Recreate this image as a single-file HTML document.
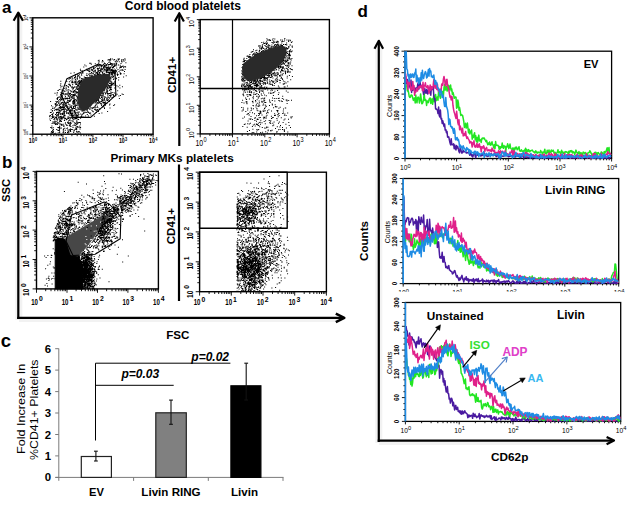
<!DOCTYPE html>
<html><head><meta charset="utf-8"><style>
html,body{margin:0;padding:0;background:#fff;}
svg{display:block;}
text{font-family:"Liberation Sans",sans-serif;}
</style></head><body>
<svg width="630" height="505" viewBox="0 0 630 505">
<rect width="630" height="505" fill="#fff"/>
<line x1="18.8" y1="16" x2="18.8" y2="320" stroke="#f2f2f2" stroke-width="7" />
<line x1="19" y1="319.5" x2="338" y2="319.5" stroke="#f2f2f2" stroke-width="5" />
<line x1="378.8" y1="44" x2="378.8" y2="443" stroke="#f2f2f2" stroke-width="7" />
<line x1="379" y1="442.5" x2="610" y2="442.5" stroke="#f2f2f2" stroke-width="5" />
<line x1="18.3" y1="13.5" x2="18.3" y2="319" stroke="#000" stroke-width="2.2" />
<path d="M13.6 20.8 L18.3 12.6 L23 20.8" fill="none" stroke="#000" stroke-width="2.2" stroke-linejoin="round" />
<line x1="17.2" y1="317.9" x2="343" y2="317.9" stroke="#000" stroke-width="2.3" />
<path d="M335.8 313.6 L344.3 317.9 L335.8 322.2" fill="none" stroke="#000" stroke-width="2.5" stroke-linejoin="round" />
<line x1="179.3" y1="14" x2="179.3" y2="146" stroke="#000" stroke-width="2.2" />
<path d="M174.7 21.5 L179.3 13.2 L183.9 21.5" fill="none" stroke="#000" stroke-width="2.2" stroke-linejoin="round" />
<line x1="179" y1="164.5" x2="179" y2="301" stroke="#000" stroke-width="2.2" />
<text x="2" y="12.5" font-size="17" font-weight="bold" font-style="normal" text-anchor="start" fill="#000" >a</text>
<text x="2" y="168.2" font-size="17" font-weight="bold" font-style="normal" text-anchor="start" fill="#000" >b</text>
<text x="0.8" y="347" font-size="18.5" font-weight="bold" font-style="normal" text-anchor="start" fill="#000" >c</text>
<text x="357.5" y="17.3" font-size="17" font-weight="bold" font-style="normal" text-anchor="start" fill="#000" >d</text>
<text x="124.8" y="9.9" font-size="12" font-weight="bold" font-style="normal" text-anchor="start" fill="#000" >Cord blood platelets</text>
<text x="110.5" y="161.8" font-size="11.8" font-weight="bold" font-style="normal" text-anchor="start" fill="#000" >Primary MKs platelets</text>
<text x="0" y="0" font-size="11.5" font-weight="bold" font-style="normal" text-anchor="start" fill="#000" transform="translate(176.2,93) rotate(-90)" >CD41+</text>
<text x="0" y="0" font-size="11.5" font-weight="bold" font-style="normal" text-anchor="start" fill="#000" transform="translate(175.2,244.2) rotate(-90)" >CD41+</text>
<text x="0" y="0" font-size="11.2" font-weight="bold" font-style="normal" text-anchor="start" fill="#000" transform="translate(9.6,202) rotate(-90)" >SSC</text>
<text x="166.2" y="338.9" font-size="11.6" font-weight="bold" font-style="normal" text-anchor="start" fill="#000" >FSC</text>
<path d="M97.5 98.5h1v1h-1zM109.5 103.6h1v1h-1zM99.4 108.6h1v1h-1zM75.8 99.5h1v1h-1zM88.4 101.3h1v1h-1zM76.6 103.3h1v1h-1zM91.5 90h1v1h-1zM119.3 84.8h1v1h-1zM74.3 86.2h1v1h-1zM88.1 105.7h1v1h-1zM96.7 83.5h1v1h-1zM104.4 96.1h1v1h-1zM92.7 90.1h1v1h-1zM72.3 96.6h1v1h-1zM91.4 92.5h1v1h-1zM104.8 86.8h1v1h-1zM71 107.1h1v1h-1zM86.7 99.4h1v1h-1zM59.4 109.9h1v1h-1zM57.5 90.1h1v1h-1zM69.6 119.8h1v1h-1zM91.3 98.2h1v1h-1zM72.9 107h1v1h-1zM94.3 87.1h1v1h-1zM99.1 95.8h1v1h-1zM84.3 88.9h1v1h-1zM49.4 116.2h1v1h-1zM81.1 95.3h1v1h-1zM97.1 99.5h1v1h-1zM82.5 78.2h1v1h-1zM76 118.1h1v1h-1zM79 91.2h1v1h-1zM68.8 94h1v1h-1zM86.8 109.6h1v1h-1zM104.5 76h1v1h-1zM69.9 90.3h1v1h-1zM87.2 87.7h1v1h-1zM108.8 85.9h1v1h-1zM89.5 106.3h1v1h-1zM85.6 88.2h1v1h-1zM94.3 91.7h1v1h-1zM95.6 94.6h1v1h-1zM68.3 100.5h1v1h-1zM93.4 91.7h1v1h-1zM109.2 72.7h1v1h-1zM64.4 105.4h1v1h-1zM99 75.5h1v1h-1zM92.1 89h1v1h-1zM81 98.3h1v1h-1zM114.8 60.7h1v1h-1zM98.1 77.2h1v1h-1zM80.2 113.4h1v1h-1zM92.5 90.7h1v1h-1zM104.1 89.4h1v1h-1zM95.2 101.4h1v1h-1zM103.6 85.9h1v1h-1zM104 107.9h1v1h-1zM94.1 75.4h1v1h-1zM115.9 78.1h1v1h-1zM78.3 96.1h1v1h-1zM105.1 101.4h1v1h-1zM94.6 108.6h1v1h-1zM78.9 73.7h1v1h-1zM66.7 97.6h1v1h-1zM86.1 102.3h1v1h-1zM92.4 98.4h1v1h-1zM107.7 84.3h1v1h-1zM105.9 75.1h1v1h-1zM74.1 110h1v1h-1zM83 104.9h1v1h-1zM98.7 81.3h1v1h-1zM68.3 122.7h1v1h-1zM68.5 78.8h1v1h-1zM92.8 96h1v1h-1zM101.1 66.5h1v1h-1zM106.2 88.6h1v1h-1zM83.8 92.4h1v1h-1zM78.9 87.9h1v1h-1zM88.9 95.9h1v1h-1zM105.8 64.1h1v1h-1zM77.9 88.5h1v1h-1zM75.3 82h1v1h-1zM94.9 85.4h1v1h-1zM91.6 95.2h1v1h-1zM93.9 100.2h1v1h-1zM73.2 102.9h1v1h-1zM96.7 98h1v1h-1zM83.8 95.7h1v1h-1zM106 74.7h1v1h-1zM103.1 86.1h1v1h-1zM96.6 98.3h1v1h-1zM97.3 79.1h1v1h-1zM83.5 92.4h1v1h-1zM104 75.6h1v1h-1zM90.5 90.7h1v1h-1zM92.4 75.9h1v1h-1zM78.3 113.9h1v1h-1zM92.3 82.6h1v1h-1zM68.9 114.6h1v1h-1zM55.5 109.3h1v1h-1zM88 96.5h1v1h-1zM79.7 104.2h1v1h-1zM89.6 84.8h1v1h-1zM80.6 103.2h1v1h-1zM92.8 111.2h1v1h-1zM99.3 94.6h1v1h-1zM92.7 78.8h1v1h-1zM85 89.3h1v1h-1zM89.9 95.9h1v1h-1zM100.4 81.7h1v1h-1zM97.8 83.9h1v1h-1zM73.3 100.8h1v1h-1zM76.9 77.4h1v1h-1zM89 87.9h1v1h-1zM60.3 86.5h1v1h-1zM96.2 89.5h1v1h-1zM73 95.3h1v1h-1zM99.2 72.4h1v1h-1zM91.3 85.9h1v1h-1zM93.1 90.9h1v1h-1zM72.1 86.6h1v1h-1zM76.8 78.3h1v1h-1zM54.4 107h1v1h-1zM60.4 88.8h1v1h-1zM88.8 78.2h1v1h-1zM70.1 128.6h1v1h-1zM95.1 71.4h1v1h-1zM69.4 116.8h1v1h-1zM91.8 70.2h1v1h-1zM79.9 102.8h1v1h-1zM99 77.8h1v1h-1zM91.5 87.9h1v1h-1zM71.8 113.5h1v1h-1zM119.4 87.6h1v1h-1zM111.9 73.4h1v1h-1zM89.9 91.8h1v1h-1zM79.7 86.1h1v1h-1zM91.6 96.4h1v1h-1zM74.4 100.4h1v1h-1zM111.2 82.5h1v1h-1zM82 96.5h1v1h-1zM100.7 103.7h1v1h-1zM65.6 85h1v1h-1zM79.1 95.6h1v1h-1zM77.6 112.6h1v1h-1zM105.6 71.6h1v1h-1zM82.6 86h1v1h-1zM102 75.9h1v1h-1zM81.1 79.5h1v1h-1zM80.9 99.6h1v1h-1zM101.4 112.4h1v1h-1zM89.5 105.6h1v1h-1zM82.8 81.6h1v1h-1zM78.9 88.1h1v1h-1zM83 90.7h1v1h-1zM76.9 114.8h1v1h-1zM73.1 93.9h1v1h-1zM109.1 64.1h1v1h-1zM86.2 105.1h1v1h-1zM80.6 109.7h1v1h-1zM92.4 83h1v1h-1zM102.7 64h1v1h-1zM59 96.6h1v1h-1zM82.4 87.4h1v1h-1zM66.3 81.1h1v1h-1zM69.8 117.7h1v1h-1zM96.3 76.1h1v1h-1zM92.8 93.9h1v1h-1zM103.3 103.2h1v1h-1zM87 108.2h1v1h-1zM88.9 75.6h1v1h-1zM88 103.3h1v1h-1zM95.6 100.5h1v1h-1zM69.2 98.3h1v1h-1zM66.3 98.1h1v1h-1zM108.4 72.4h1v1h-1zM72.2 84.3h1v1h-1zM103.9 97.4h1v1h-1zM73.7 72.3h1v1h-1zM76.4 87.2h1v1h-1zM81 94.3h1v1h-1zM97.5 80.4h1v1h-1zM86.8 95h1v1h-1zM89.6 93.9h1v1h-1zM88.9 88.1h1v1h-1zM114.3 83.8h1v1h-1zM85.6 65.4h1v1h-1zM95.5 85.2h1v1h-1zM77.2 91.7h1v1h-1zM71.1 108.3h1v1h-1zM105 79.8h1v1h-1zM97.8 71h1v1h-1zM83.8 86.9h1v1h-1zM103 89.2h1v1h-1zM103.5 82.8h1v1h-1zM97.4 74.5h1v1h-1zM116.6 93.8h1v1h-1zM98.7 113.1h1v1h-1zM102 60h1v1h-1zM74.2 107.9h1v1h-1zM118.9 98.1h1v1h-1zM102.2 89.7h1v1h-1zM103.9 80.7h1v1h-1zM115.5 64.9h1v1h-1zM107.6 67.3h1v1h-1zM72.2 102.7h1v1h-1zM62.2 107h1v1h-1zM106.6 85.4h1v1h-1zM72.9 99.7h1v1h-1zM86.9 86.8h1v1h-1zM94.1 70.4h1v1h-1zM66.2 110.2h1v1h-1zM54 109.7h1v1h-1zM92.5 85.4h1v1h-1zM97.5 97.3h1v1h-1zM88.9 95.8h1v1h-1zM93.9 93.3h1v1h-1zM80.1 103.5h1v1h-1zM68.8 109.4h1v1h-1zM86.8 91.1h1v1h-1zM74.1 99.9h1v1h-1zM71.5 116.3h1v1h-1zM90.1 75.5h1v1h-1zM98 100.8h1v1h-1zM96 85.2h1v1h-1zM70.9 96.8h1v1h-1zM77.4 94.6h1v1h-1zM71.3 97.4h1v1h-1zM78.4 102.3h1v1h-1zM88.1 82.2h1v1h-1zM86.3 108.4h1v1h-1zM89.9 79.7h1v1h-1zM79.9 68.7h1v1h-1zM114.1 59.1h1v1h-1zM56.9 92.3h1v1h-1zM102.4 78.6h1v1h-1zM95.7 99.1h1v1h-1zM94.1 95h1v1h-1zM60.5 98.1h1v1h-1zM78.4 90h1v1h-1zM112.3 94.1h1v1h-1zM90.9 93.4h1v1h-1zM91.2 89h1v1h-1zM92.8 101.6h1v1h-1zM122.7 94h1v1h-1zM98.2 100h1v1h-1zM59.5 118.6h1v1h-1zM82.5 101.3h1v1h-1zM65.9 119.3h1v1h-1zM75.4 88.7h1v1h-1zM109.4 73.7h1v1h-1zM84.4 82.3h1v1h-1zM72.8 104.2h1v1h-1zM77.2 102.5h1v1h-1zM121.6 93.4h1v1h-1zM86.6 81.6h1v1h-1zM89.9 88.5h1v1h-1zM88.2 89.4h1v1h-1zM93.4 92.8h1v1h-1zM108.4 87.8h1v1h-1zM94.7 79.4h1v1h-1zM87.7 81.1h1v1h-1zM64.3 90.7h1v1h-1zM91.2 76.6h1v1h-1zM83.8 102.6h1v1h-1zM105.9 76.6h1v1h-1zM65.1 98.3h1v1h-1zM85.6 88.9h1v1h-1zM90.1 90.3h1v1h-1zM74.4 110.4h1v1h-1zM110.7 64h1v1h-1zM109.2 69.8h1v1h-1zM71.4 82.1h1v1h-1zM93.4 71.7h1v1h-1zM106.1 97.4h1v1h-1zM91.3 84.3h1v1h-1zM90.6 92.4h1v1h-1zM88.7 86.1h1v1h-1zM69.3 97.4h1v1h-1zM85.7 92.9h1v1h-1zM87.4 92.2h1v1h-1zM106.4 74.5h1v1h-1zM82.4 71.7h1v1h-1zM88.9 89h1v1h-1zM106.2 64.4h1v1h-1zM78.5 92.8h1v1h-1zM85.9 96.6h1v1h-1zM68.3 117.6h1v1h-1zM118.3 77.1h1v1h-1zM100.5 74.2h1v1h-1zM109.2 85.5h1v1h-1zM107.3 90.4h1v1h-1zM99.1 97.2h1v1h-1zM102.2 97.7h1v1h-1zM85.4 92.1h1v1h-1zM85.9 91.2h1v1h-1zM96.2 95.5h1v1h-1zM102.6 60.8h1v1h-1zM99.3 84.6h1v1h-1zM85.7 86.7h1v1h-1zM79.3 94.5h1v1h-1zM69.4 84.9h1v1h-1zM107 63.2h1v1h-1zM97.1 83.5h1v1h-1zM96.8 95.8h1v1h-1zM91.6 101.8h1v1h-1zM73.6 103.3h1v1h-1zM87.8 89.4h1v1h-1zM97 72.8h1v1h-1zM87 97.9h1v1h-1zM85.1 91h1v1h-1zM90.8 97.3h1v1h-1zM103.1 101.8h1v1h-1zM67 109.7h1v1h-1zM76.8 81.7h1v1h-1zM72.1 94.2h1v1h-1zM93 68h1v1h-1zM71.1 90.7h1v1h-1zM106.8 92.6h1v1h-1zM113.3 72.6h1v1h-1zM75.5 82.5h1v1h-1zM85.7 102.5h1v1h-1zM101 97.1h1v1h-1zM87.6 87.3h1v1h-1zM71.3 97.4h1v1h-1zM94.4 81.7h1v1h-1zM120.7 66.9h1v1h-1zM90.5 98h1v1h-1zM94.9 101.4h1v1h-1zM83.1 112.2h1v1h-1zM102.4 94.9h1v1h-1zM81.2 115.9h1v1h-1zM78.5 108.8h1v1h-1zM98.2 62.5h1v1h-1zM76.2 100.4h1v1h-1zM107.5 78.8h1v1h-1zM109.2 68h1v1h-1zM99.7 93.6h1v1h-1zM95.5 80.4h1v1h-1zM111.8 58.6h1v1h-1zM96.7 103.3h1v1h-1zM85.9 102.4h1v1h-1zM72.1 108.6h1v1h-1zM96.7 96.4h1v1h-1zM118.1 79.5h1v1h-1zM106 80.5h1v1h-1zM60.3 83.3h1v1h-1zM73.3 95.6h1v1h-1zM79.8 92.9h1v1h-1zM87.7 78.9h1v1h-1zM88.4 94.1h1v1h-1zM100.9 96.3h1v1h-1zM91 82.6h1v1h-1zM78.2 85.2h1v1h-1zM102.8 105.8h1v1h-1zM90 84h1v1h-1zM80.7 81.8h1v1h-1zM98.8 85.5h1v1h-1zM119.5 69.8h1v1h-1zM93.8 77.3h1v1h-1zM96 95.2h1v1h-1zM62.7 107.5h1v1h-1zM89.5 78.2h1v1h-1zM63.4 115.7h1v1h-1zM75 113.4h1v1h-1zM98 74.5h1v1h-1zM102.3 83.6h1v1h-1zM87.2 91.2h1v1h-1zM80 89.3h1v1h-1zM89.4 108.9h1v1h-1zM98.8 81.6h1v1h-1zM121.4 60.8h1v1h-1zM97.9 92.7h1v1h-1zM84.8 106.5h1v1h-1zM81.6 114.2h1v1h-1zM91.4 93.2h1v1h-1zM83.5 87.7h1v1h-1zM70 100.4h1v1h-1zM95 92.4h1v1h-1zM77.4 108.8h1v1h-1zM115.1 86.6h1v1h-1zM107.9 79.8h1v1h-1zM112.5 84.4h1v1h-1zM93.2 107.3h1v1h-1zM98.4 84.8h1v1h-1zM78.3 80.5h1v1h-1zM76.7 86h1v1h-1zM75.7 83.4h1v1h-1zM63.8 101.7h1v1h-1zM109.5 89.3h1v1h-1zM91.1 96.8h1v1h-1zM104.4 100.2h1v1h-1zM110.9 85h1v1h-1zM64.6 110.9h1v1h-1zM77.5 98.3h1v1h-1zM93.1 88.4h1v1h-1zM96.8 86.4h1v1h-1zM81.1 90.7h1v1h-1zM104.5 76.9h1v1h-1zM103.6 99.5h1v1h-1zM61.4 92.4h1v1h-1zM78.4 103.6h1v1h-1zM95.5 73.1h1v1h-1zM97.9 85.6h1v1h-1zM68.4 120.1h1v1h-1zM108.9 72.7h1v1h-1zM103.6 88.3h1v1h-1zM98.7 61.2h1v1h-1zM91.8 103.1h1v1h-1zM81.8 89.2h1v1h-1zM78 108.8h1v1h-1zM70.4 72.8h1v1h-1zM107.7 64.4h1v1h-1zM82.2 99.8h1v1h-1zM102.6 99.6h1v1h-1zM68 113.1h1v1h-1zM86.2 96.7h1v1h-1zM94.7 67.1h1v1h-1zM81.6 116.4h1v1h-1zM117.2 90.2h1v1h-1zM95 86h1v1h-1zM73.6 101.4h1v1h-1zM72.2 84.1h1v1h-1zM89.3 102.4h1v1h-1zM107.1 110.9h1v1h-1zM87.1 102.1h1v1h-1zM86.5 109.9h1v1h-1zM89.2 97.9h1v1h-1zM68.8 95.5h1v1h-1zM80.4 116.2h1v1h-1zM81.2 81.3h1v1h-1zM101.2 77.4h1v1h-1zM70 111.3h1v1h-1zM95.9 96.6h1v1h-1zM83.5 101.3h1v1h-1zM78.6 105.2h1v1h-1zM97.2 73.6h1v1h-1zM74.1 86.8h1v1h-1zM111.8 71.7h1v1h-1zM74.2 94.4h1v1h-1zM86.9 75.3h1v1h-1zM78.4 83.3h1v1h-1zM76 95.8h1v1h-1zM86.2 68.7h1v1h-1zM78.9 81.8h1v1h-1zM87.8 70.1h1v1h-1zM90.5 92h1v1h-1zM77.2 106.7h1v1h-1zM101.8 106.4h1v1h-1zM80.9 78.1h1v1h-1zM99.2 72.9h1v1h-1zM83.1 108.2h1v1h-1zM88 88.9h1v1h-1zM63.2 109.1h1v1h-1zM110.6 94.7h1v1h-1zM72.3 101h1v1h-1zM56.6 103.9h1v1h-1zM80.5 80.8h1v1h-1zM108 78.7h1v1h-1zM70.2 111.4h1v1h-1zM65.4 93.3h1v1h-1zM72.9 91.9h1v1h-1zM77.4 108.2h1v1h-1zM99.2 89.6h1v1h-1zM74.2 95.3h1v1h-1zM83.8 103.7h1v1h-1zM102.1 87h1v1h-1zM67.5 86.1h1v1h-1zM94.1 82.2h1v1h-1zM78.9 105.3h1v1h-1zM68.9 100.9h1v1h-1zM114.7 64.6h1v1h-1zM90.4 99.7h1v1h-1zM103.9 98.8h1v1h-1zM75.1 73.9h1v1h-1zM109.5 107.6h1v1h-1zM83.3 80.9h1v1h-1zM123.6 73.3h1v1h-1zM83.3 112.3h1v1h-1zM74.2 116.9h1v1h-1zM76.5 103.8h1v1h-1zM63.3 98h1v1h-1zM104.8 85.4h1v1h-1zM97 74.3h1v1h-1zM89.6 99.8h1v1h-1zM121.9 86.2h1v1h-1zM107.2 94.4h1v1h-1zM85.1 115.4h1v1h-1zM115.1 88.7h1v1h-1zM74.5 103.3h1v1h-1zM78 84.5h1v1h-1zM67.3 107.5h1v1h-1zM61.5 85.7h1v1h-1zM98.6 59.8h1v1h-1zM102.3 80.4h1v1h-1zM77.7 87.6h1v1h-1zM76.5 99.7h1v1h-1zM62.2 112.9h1v1h-1zM97.1 109.4h1v1h-1zM98.1 100.1h1v1h-1zM88.5 90.7h1v1h-1zM96.6 100.3h1v1h-1zM68.8 98.2h1v1h-1zM86.8 88.3h1v1h-1zM95.4 97.3h1v1h-1zM100.2 64.5h1v1h-1zM114.8 64.5h1v1h-1zM79.3 81.8h1v1h-1zM79.8 100.5h1v1h-1zM99.8 103.1h1v1h-1zM76.4 92h1v1h-1zM80.9 101h1v1h-1zM83.2 84h1v1h-1zM67.5 94.4h1v1h-1zM90.5 73.1h1v1h-1zM98.1 102.2h1v1h-1zM109.1 104.6h1v1h-1zM90.6 95.9h1v1h-1zM74.9 93.7h1v1h-1zM81.1 107.2h1v1h-1zM84.4 90.5h1v1h-1zM87.4 102.9h1v1h-1zM95.3 89.3h1v1h-1zM91.8 92.2h1v1h-1zM74.5 111.6h1v1h-1zM87.1 84.8h1v1h-1zM68.2 103.8h1v1h-1zM69.8 84.8h1v1h-1zM82.9 90.4h1v1h-1zM51 105.3h1v1h-1zM90.4 87.8h1v1h-1zM85.8 80.9h1v1h-1zM88.4 92.7h1v1h-1zM86.9 98.7h1v1h-1zM75.3 84h1v1h-1zM70.7 96.1h1v1h-1zM79.9 86.3h1v1h-1zM87 102.5h1v1h-1zM102.6 101.7h1v1h-1zM78.4 111.5h1v1h-1zM91.1 84.4h1v1h-1zM101.7 99.2h1v1h-1zM78 80.4h1v1h-1zM93.6 106.8h1v1h-1zM93.6 78.1h1v1h-1zM114.1 104.2h1v1h-1zM103.9 98.8h1v1h-1zM87.2 78.7h1v1h-1zM96.6 86.5h1v1h-1zM79.2 96.6h1v1h-1zM87 94h1v1h-1zM89.3 70.9h1v1h-1zM91.7 79.5h1v1h-1zM96 90.9h1v1h-1zM69.8 110.6h1v1h-1zM105.6 92.3h1v1h-1zM107.2 75.9h1v1h-1zM119.9 95h1v1h-1zM88.6 81.7h1v1h-1zM69.5 111.5h1v1h-1zM90.8 63.8h1v1h-1zM79.6 82.4h1v1h-1zM62.6 131.7h1v1h-1zM89.2 78.2h1v1h-1zM72.2 112.7h1v1h-1zM71.1 105.8h1v1h-1zM74 90.1h1v1h-1zM105.9 71.4h1v1h-1zM81.3 90.8h1v1h-1zM90.7 82.9h1v1h-1zM119.9 73.8h1v1h-1zM117.1 74.9h1v1h-1zM84.7 87h1v1h-1zM80.6 86.2h1v1h-1zM73.9 107.9h1v1h-1zM79.4 97.9h1v1h-1zM102.9 92.4h1v1h-1zM113.2 105h1v1h-1zM97.1 95h1v1h-1zM104 77.3h1v1h-1zM77.8 98.4h1v1h-1zM83.6 84.3h1v1h-1zM94.5 74h1v1h-1zM91.7 75.1h1v1h-1zM102.7 73.6h1v1h-1zM92.9 81.8h1v1h-1zM90.5 99.5h1v1h-1zM92.5 82.5h1v1h-1zM74.4 101.1h1v1h-1zM58.5 101.4h1v1h-1zM109.1 95.1h1v1h-1zM92.6 94.5h1v1h-1zM106.2 99.6h1v1h-1zM71 117.3h1v1h-1zM94.6 105.8h1v1h-1zM79.8 95.6h1v1h-1zM82.4 106.2h1v1h-1zM77.1 85h1v1h-1zM110.6 87.6h1v1h-1zM106.6 98h1v1h-1zM84.2 100.7h1v1h-1zM94.8 95.9h1v1h-1zM109.2 90.1h1v1h-1zM91 94.7h1v1h-1zM91.9 76.5h1v1h-1zM95.2 76.3h1v1h-1zM110.1 63.9h1v1h-1zM105.2 74.7h1v1h-1zM95.5 87.2h1v1h-1zM97.4 89.7h1v1h-1zM91.7 69.2h1v1h-1zM95.7 112h1v1h-1zM97.2 99.4h1v1h-1zM107.8 84.2h1v1h-1zM115.5 62.7h1v1h-1zM87.1 91.3h1v1h-1zM93 94.8h1v1h-1zM95.6 90.7h1v1h-1zM97.8 60.2h1v1h-1zM94.6 96.1h1v1h-1zM63.7 87.9h1v1h-1zM94.1 100h1v1h-1zM89.7 95.3h1v1h-1zM100.5 79.3h1v1h-1zM114.2 87.5h1v1h-1zM60.4 99.8h1v1h-1zM78 102.7h1v1h-1zM104.7 97.1h1v1h-1zM79.3 96.7h1v1h-1zM65.4 105.8h1v1h-1zM105.6 77.9h1v1h-1zM94 80.4h1v1h-1zM107.5 95.8h1v1h-1zM77.1 89h1v1h-1zM110.6 83.9h1v1h-1zM78.1 83.3h1v1h-1zM110.2 81.4h1v1h-1zM76.3 100.6h1v1h-1zM60.3 80.7h1v1h-1zM92.9 87.4h1v1h-1zM72.7 90.6h1v1h-1zM96.6 78.1h1v1h-1zM104.1 98.6h1v1h-1zM69.2 92.9h1v1h-1zM83.9 80.9h1v1h-1zM94.7 105.5h1v1h-1zM103.9 79.4h1v1h-1zM91.4 109.8h1v1h-1zM85.9 98h1v1h-1zM101.3 68h1v1h-1zM121.5 61.4h1v1h-1zM97.3 96.5h1v1h-1zM93.1 87.3h1v1h-1zM112.2 71.2h1v1h-1zM87.5 90.7h1v1h-1zM72.1 97.8h1v1h-1zM104.8 103.5h1v1h-1zM96.5 84.4h1v1h-1zM70.5 91.6h1v1h-1zM63.3 106.9h1v1h-1zM74.4 113.6h1v1h-1zM103.9 86.6h1v1h-1zM78.2 98.4h1v1h-1zM83.4 86.6h1v1h-1zM93.2 87.5h1v1h-1zM87.5 69.3h1v1h-1zM76.4 84.1h1v1h-1zM102.5 89.9h1v1h-1zM74 97.4h1v1h-1zM87.4 97.4h1v1h-1zM83.6 112.3h1v1h-1zM110.6 80.8h1v1h-1zM89.8 90.5h1v1h-1zM93.9 115.7h1v1h-1zM89.5 99.6h1v1h-1zM84.4 90h1v1h-1zM105 86.9h1v1h-1zM70 113.1h1v1h-1zM69.4 96.4h1v1h-1zM85.1 95.3h1v1h-1zM90.3 62.8h1v1h-1zM87.2 90.1h1v1h-1zM98.3 78.9h1v1h-1zM116.4 60.8h1v1h-1zM75.5 80.2h1v1h-1zM82.4 91.8h1v1h-1zM107 74.5h1v1h-1zM97.7 84.6h1v1h-1zM91.9 72.8h1v1h-1zM87 101.3h1v1h-1zM112.9 66.9h1v1h-1zM106.9 93h1v1h-1zM95.1 76.1h1v1h-1zM57.6 111.5h1v1h-1zM106.4 90.3h1v1h-1zM84.6 89.5h1v1h-1zM94.2 82.3h1v1h-1zM101.2 83.2h1v1h-1zM92.2 102.4h1v1h-1zM89.6 79h1v1h-1zM72.6 91.5h1v1h-1zM77.9 85.8h1v1h-1zM75.6 91h1v1h-1zM79.4 87.8h1v1h-1zM59 121.3h1v1h-1zM101.4 67.9h1v1h-1zM94.4 87.8h1v1h-1zM108.6 79.2h1v1h-1zM113.3 59.6h1v1h-1zM91.2 90.7h1v1h-1zM75.3 125.2h1v1h-1zM79.4 103.7h1v1h-1zM68.5 100.2h1v1h-1zM82.4 95.8h1v1h-1zM85 82h1v1h-1zM63.2 117.2h1v1h-1zM100.7 92.3h1v1h-1zM62.9 102.6h1v1h-1zM92.8 84.7h1v1h-1zM95.9 99.9h1v1h-1zM82.2 90.1h1v1h-1zM90.2 92.4h1v1h-1zM75.4 88.9h1v1h-1zM75.7 91.4h1v1h-1zM62.5 107.1h1v1h-1zM103.9 106.7h1v1h-1zM113.7 63.8h1v1h-1zM114.8 61.2h1v1h-1zM105.2 69.2h1v1h-1zM99 79.9h1v1h-1zM84.7 103.4h1v1h-1zM111.9 73.3h1v1h-1zM102.8 106.2h1v1h-1zM90.4 92.5h1v1h-1zM95.4 104.5h1v1h-1zM93.1 90.9h1v1h-1zM87.8 100h1v1h-1zM79.3 80.2h1v1h-1zM73.7 102.6h1v1h-1zM84.2 94.2h1v1h-1zM121 59.6h1v1h-1zM74.8 74.7h1v1h-1zM92.4 99.6h1v1h-1zM95.1 80.4h1v1h-1zM97.2 77.8h1v1h-1zM72.4 102h1v1h-1zM85.5 90.9h1v1h-1zM105.8 81.6h1v1h-1zM85.5 77.1h1v1h-1zM85.6 81.5h1v1h-1zM114.1 72.7h1v1h-1zM81.3 99.6h1v1h-1zM88.7 86.1h1v1h-1zM78.8 92.2h1v1h-1zM105.8 65.1h1v1h-1zM61.7 114h1v1h-1zM88.2 107.3h1v1h-1zM75.5 88.7h1v1h-1zM109.5 93.1h1v1h-1zM104.2 88.7h1v1h-1zM106.9 69.1h1v1h-1zM72.7 115.6h1v1h-1zM91.1 69.6h1v1h-1zM74.4 80.7h1v1h-1zM72 88.6h1v1h-1zM95 80.2h1v1h-1zM74.7 99.1h1v1h-1zM56.9 112.1h1v1h-1zM85.4 95.4h1v1h-1zM54.5 92.7h1v1h-1zM84 101.9h1v1h-1zM85.9 74.7h1v1h-1zM90.1 81.1h1v1h-1zM109.9 67h1v1h-1zM79.5 83.8h1v1h-1zM59.1 98.9h1v1h-1zM72.6 91.9h1v1h-1zM76.8 101.4h1v1h-1zM76.5 109.7h1v1h-1zM99.9 88.8h1v1h-1zM74.2 90.6h1v1h-1zM56.5 108.8h1v1h-1zM93.9 74.3h1v1h-1zM91.4 94.8h1v1h-1zM81.7 70.2h1v1h-1zM99.7 98h1v1h-1zM95.8 78.4h1v1h-1zM85.4 83.6h1v1h-1zM109.9 77.1h1v1h-1zM102.9 92.4h1v1h-1zM97.9 87.7h1v1h-1zM102.8 92.8h1v1h-1zM70.1 109.3h1v1h-1zM95.8 101.3h1v1h-1zM94.5 102.6h1v1h-1zM92.3 86.7h1v1h-1zM80.1 117.8h1v1h-1zM114.4 70.8h1v1h-1zM92.1 89.3h1v1h-1zM66.6 98.2h1v1h-1zM63.7 109.2h1v1h-1zM91.1 99.4h1v1h-1zM80.1 81.3h1v1h-1zM84 103.9h1v1h-1zM93.6 91.5h1v1h-1zM82.7 100.1h1v1h-1zM83.3 66.5h1v1h-1zM79 98.3h1v1h-1zM93.7 95.4h1v1h-1zM99 72h1v1h-1zM59.9 84.7h1v1h-1zM87.8 100.9h1v1h-1zM73.6 95.5h1v1h-1zM106.9 86.7h1v1h-1zM61.4 90.5h1v1h-1zM87.6 101.3h1v1h-1zM88 88.6h1v1h-1zM81.3 108.3h1v1h-1zM70.2 95h1v1h-1zM79.1 91.3h1v1h-1zM74.8 133.2h1v1h-1zM63.9 101.9h1v1h-1zM79.4 89.9h1v1h-1zM90.3 86.1h1v1h-1zM80.6 84.6h1v1h-1zM72.5 121.2h1v1h-1zM94.7 108.8h1v1h-1zM96.8 74.7h1v1h-1zM86.6 70.1h1v1h-1zM96.6 99.8h1v1h-1zM84.6 109.5h1v1h-1zM104.4 88.3h1v1h-1zM89.4 105.9h1v1h-1zM67.6 98.1h1v1h-1zM77.4 98.8h1v1h-1zM101.6 61.4h1v1h-1zM83.8 76.6h1v1h-1zM113 82.9h1v1h-1zM78.7 91h1v1h-1zM118.4 95.4h1v1h-1zM81.9 98.1h1v1h-1zM83.5 87.2h1v1h-1zM112.8 93.9h1v1h-1zM86 99.9h1v1h-1zM80.8 81.9h1v1h-1zM97.1 88.7h1v1h-1zM116.4 85.2h1v1h-1zM79.8 92.4h1v1h-1zM60 106h1v1h-1zM92.7 101.1h1v1h-1zM91.1 90.9h1v1h-1zM84.3 80.3h1v1h-1zM106.3 70.6h1v1h-1zM89.5 80.4h1v1h-1zM103.6 82h1v1h-1zM75 104.6h1v1h-1zM110 87.8h1v1h-1zM124.6 69.1h1v1h-1zM90.7 68.6h1v1h-1zM96.3 89.9h1v1h-1zM98.1 94.8h1v1h-1zM118.5 71h1v1h-1zM83.5 109.4h1v1h-1zM84.8 87.3h1v1h-1zM90.3 77.1h1v1h-1zM106.8 87.7h1v1h-1zM76.7 87.5h1v1h-1zM80.2 69.9h1v1h-1zM92.8 101.2h1v1h-1zM86.9 83h1v1h-1zM86.1 89.4h1v1h-1zM64.5 93.8h1v1h-1zM81 80.3h1v1h-1zM94.9 70.3h1v1h-1zM73.8 99.4h1v1h-1zM89 95.8h1v1h-1zM84.3 64.4h1v1h-1zM79.7 109.1h1v1h-1zM84.8 78.8h1v1h-1zM67.8 95.3h1v1h-1zM74.5 101.7h1v1h-1zM77 96.3h1v1h-1zM106.7 86.3h1v1h-1zM110.1 82.9h1v1h-1zM101.4 90.1h1v1h-1zM79.2 75.8h1v1h-1zM86.4 86.8h1v1h-1zM106.8 91.1h1v1h-1zM105.2 85h1v1h-1zM103.9 79.1h1v1h-1zM86.7 97.8h1v1h-1zM82 96.8h1v1h-1zM102.1 99.4h1v1h-1zM96.1 96.7h1v1h-1zM79.1 77.6h1v1h-1zM90.1 84h1v1h-1zM94.2 109.1h1v1h-1zM90.4 114.5h1v1h-1zM112.8 96.4h1v1h-1zM90.1 107.6h1v1h-1zM67.8 95.7h1v1h-1zM84.7 76.9h1v1h-1zM100.1 87.7h1v1h-1zM106.4 99.8h1v1h-1zM90.5 75.4h1v1h-1zM106.1 77.9h1v1h-1zM99.1 101.9h1v1h-1zM75.8 86.6h1v1h-1zM108.9 97.7h1v1h-1zM80.4 104.4h1v1h-1zM73.6 114.4h1v1h-1zM79.1 97.5h1v1h-1zM103 67.1h1v1h-1zM84.4 111.6h1v1h-1zM92.2 110.8h1v1h-1zM76.6 97.5h1v1h-1zM80.7 86.9h1v1h-1zM102.3 101.6h1v1h-1zM86.7 76.9h1v1h-1zM93.7 99.6h1v1h-1zM84.1 101h1v1h-1zM91.5 92.8h1v1h-1zM110.3 77.8h1v1h-1zM89.4 74.4h1v1h-1zM98.7 108.5h1v1h-1zM88.3 77.1h1v1h-1zM74.4 91.7h1v1h-1zM102.7 95.3h1v1h-1zM95.6 109.6h1v1h-1zM89.9 88h1v1h-1zM101.8 71.5h1v1h-1zM96.2 76.1h1v1h-1zM94 97.2h1v1h-1zM82.3 78h1v1h-1zM92.3 107.6h1v1h-1zM91.4 74.6h1v1h-1zM110.7 86.4h1v1h-1zM106.4 75.7h1v1h-1zM111.7 97h1v1h-1zM64.5 97.6h1v1h-1zM103.2 80.7h1v1h-1zM86.4 73.3h1v1h-1zM77.2 104.8h1v1h-1zM86.6 103.2h1v1h-1zM62.8 93.8h1v1h-1zM87.8 96.5h1v1h-1zM107.7 79.3h1v1h-1zM75.8 91.3h1v1h-1zM106.2 88.5h1v1h-1zM74.3 94h1v1h-1zM77.6 113.2h1v1h-1zM91.4 107.2h1v1h-1zM96.9 86.1h1v1h-1zM74.7 105.3h1v1h-1zM101.9 93.4h1v1h-1zM95.8 112h1v1h-1zM82.1 90.2h1v1h-1zM103.6 69.6h1v1h-1zM110.3 78.5h1v1h-1zM87.3 99.1h1v1h-1zM111.3 84.2h1v1h-1zM67.9 86.5h1v1h-1zM70 85.4h1v1h-1zM102.9 74.2h1v1h-1zM93.1 66.5h1v1h-1zM88.2 99.9h1v1h-1zM68.9 81.2h1v1h-1zM102.4 88.3h1v1h-1zM68.9 97.4h1v1h-1zM75.2 107.3h1v1h-1zM104.9 104.7h1v1h-1zM88.5 84.5h1v1h-1zM81.1 114.7h1v1h-1zM85.4 88.7h1v1h-1zM88.2 73.8h1v1h-1zM81.8 85.9h1v1h-1zM64.4 91.1h1v1h-1zM86.8 114h1v1h-1zM99.2 75.6h1v1h-1zM114.5 85.1h1v1h-1zM109.6 77.1h1v1h-1zM95.8 76.4h1v1h-1zM110.3 91.6h1v1h-1zM85.3 88.9h1v1h-1zM114.8 72.1h1v1h-1zM93.8 96.3h1v1h-1zM88.8 105.7h1v1h-1zM104.2 89.6h1v1h-1zM78.1 96.7h1v1h-1zM106.6 98.3h1v1h-1zM74 77.1h1v1h-1zM75.1 81.6h1v1h-1zM77.3 75.8h1v1h-1zM99.6 75.5h1v1h-1zM103.5 81.1h1v1h-1zM82 87.4h1v1h-1zM73 87.8h1v1h-1zM107.8 93.2h1v1h-1zM67.6 89.3h1v1h-1zM73.6 78.2h1v1h-1zM88 115.4h1v1h-1zM101 103.2h1v1h-1zM91.9 89.4h1v1h-1zM89.6 101.7h1v1h-1zM99 81.7h1v1h-1zM95.4 83.7h1v1h-1zM79.4 91.5h1v1h-1zM72 81.5h1v1h-1zM103.9 68.5h1v1h-1zM95.8 65.9h1v1h-1zM110.4 70.3h1v1h-1zM81.9 95.8h1v1h-1zM93.6 96h1v1h-1zM91 72h1v1h-1zM105.9 85.6h1v1h-1zM95.3 78.2h1v1h-1zM98 64.8h1v1h-1zM94.1 88.5h1v1h-1zM87.3 107.6h1v1h-1zM75.3 77.5h1v1h-1zM103 74.1h1v1h-1zM67.6 92h1v1h-1zM61.7 95.1h1v1h-1zM78.1 115.6h1v1h-1zM88.9 112.6h1v1h-1zM72.5 82.2h1v1h-1zM72.4 95.2h1v1h-1zM104.3 91.7h1v1h-1zM107 69.9h1v1h-1zM91.7 80h1v1h-1zM80.7 80.5h1v1h-1zM73.8 101.6h1v1h-1zM107.7 99h1v1h-1zM104.1 101.9h1v1h-1zM97.6 102.4h1v1h-1zM64.7 93.5h1v1h-1zM101.3 103.6h1v1h-1zM97.9 68.3h1v1h-1zM78.1 75.2h1v1h-1zM84.4 92.3h1v1h-1zM96.4 87h1v1h-1zM70.8 99.2h1v1h-1zM103 87.7h1v1h-1zM88.4 78.5h1v1h-1zM97.3 107h1v1h-1zM101.3 99.1h1v1h-1zM94.3 87.4h1v1h-1zM71.8 110.4h1v1h-1zM99.3 100.9h1v1h-1zM75.7 99.4h1v1h-1zM85.5 112h1v1h-1zM67.2 93.3h1v1h-1zM66.7 101.9h1v1h-1zM96.8 109h1v1h-1zM101.7 68.7h1v1h-1zM81.3 89.3h1v1h-1zM82.3 96.3h1v1h-1zM89.6 106.1h1v1h-1zM92.8 102.2h1v1h-1zM110.9 89h1v1h-1zM79.9 85.9h1v1h-1zM106.3 86.4h1v1h-1zM96.7 82h1v1h-1zM76.8 78.7h1v1h-1zM95.2 75.3h1v1h-1zM109.1 87h1v1h-1zM87.3 108.2h1v1h-1zM107.4 69.1h1v1h-1zM103.7 66.8h1v1h-1zM98.9 67.8h1v1h-1zM67.8 100.3h1v1h-1zM89.8 80.2h1v1h-1zM98.8 74.5h1v1h-1zM79.4 77.1h1v1h-1zM88.6 100.8h1v1h-1zM95.9 110.2h1v1h-1zM88.5 94.3h1v1h-1zM107.7 98.9h1v1h-1zM101.7 97.6h1v1h-1zM106.8 80.9h1v1h-1zM92.7 81.8h1v1h-1zM92.6 88.7h1v1h-1zM90.1 112.6h1v1h-1zM101.3 92.7h1v1h-1zM79.1 108.8h1v1h-1zM88.2 98.2h1v1h-1zM86.7 94h1v1h-1zM97.3 90.1h1v1h-1zM72.8 100.3h1v1h-1zM65.8 102.7h1v1h-1zM108 81.1h1v1h-1zM102.1 85h1v1h-1zM85.3 109h1v1h-1zM86.5 94.8h1v1h-1zM108.4 69.3h1v1h-1zM88.9 104.4h1v1h-1zM95.7 99.5h1v1h-1zM81.5 79.5h1v1h-1zM69.2 110.1h1v1h-1zM95.4 89.7h1v1h-1zM75.1 76.1h1v1h-1zM99.2 96.5h1v1h-1zM78.4 107.5h1v1h-1zM92.6 69.2h1v1h-1zM102.3 97.2h1v1h-1zM81.5 85.8h1v1h-1zM87.2 87.5h1v1h-1zM79.6 105.6h1v1h-1zM82.1 72h1v1h-1zM115.3 95.3h1v1h-1zM97.2 68.3h1v1h-1zM106.6 91.4h1v1h-1zM90.8 85.1h1v1h-1zM101.2 85.7h1v1h-1zM115.3 78.4h1v1h-1zM104.9 76.7h1v1h-1zM74.2 93.5h1v1h-1zM92.5 87.8h1v1h-1zM102.9 102h1v1h-1zM69.1 98.1h1v1h-1zM79.9 82.1h1v1h-1zM102.3 84.5h1v1h-1zM87.6 99.2h1v1h-1zM80.8 107h1v1h-1zM66.2 85.1h1v1h-1zM65.7 87.8h1v1h-1zM95.5 97.7h1v1h-1zM103.4 69.8h1v1h-1zM110.8 92.3h1v1h-1zM112.5 75.9h1v1h-1zM77.2 97.2h1v1h-1zM69.4 77.8h1v1h-1zM108.2 71.7h1v1h-1zM99.6 91.6h1v1h-1zM99.5 87.5h1v1h-1zM107.1 84.2h1v1h-1zM90.4 105h1v1h-1zM88.8 101.9h1v1h-1zM81.1 94h1v1h-1zM108.5 97.1h1v1h-1zM110.5 95h1v1h-1zM69.7 100.1h1v1h-1zM76.1 114.5h1v1h-1zM71.7 109.9h1v1h-1zM92.4 69.5h1v1h-1zM76.3 88.1h1v1h-1zM74.2 105.7h1v1h-1zM78.8 96.4h1v1h-1zM103.5 66.9h1v1h-1zM87.4 85.3h1v1h-1zM94.1 67.7h1v1h-1zM77.1 76.2h1v1h-1zM107.7 84.3h1v1h-1zM70.2 106.8h1v1h-1zM102.9 93.8h1v1h-1zM87.3 96.6h1v1h-1zM111.7 74.6h1v1h-1zM109.1 77.2h1v1h-1zM82.4 97.2h1v1h-1zM64.4 90.4h1v1h-1zM110.4 78.3h1v1h-1zM115.1 93.8h1v1h-1zM89 97.8h1v1h-1zM90.8 78.6h1v1h-1zM99.2 80.4h1v1h-1zM87.4 110.9h1v1h-1zM74.5 82.5h1v1h-1zM77.2 74.3h1v1h-1zM74.9 107.3h1v1h-1zM100.9 101.1h1v1h-1zM104.3 75.5h1v1h-1zM83.2 112.9h1v1h-1zM93.6 79.6h1v1h-1zM73 106.1h1v1h-1zM97.6 67.9h1v1h-1zM99.8 88.3h1v1h-1zM101.3 91h1v1h-1zM87.9 111.9h1v1h-1zM108.5 93.1h1v1h-1zM98.4 86.9h1v1h-1zM76 84h1v1h-1zM96.4 100.3h1v1h-1zM110.1 85.6h1v1h-1zM76.8 83.4h1v1h-1zM90.1 107.6h1v1h-1zM67 99.8h1v1h-1zM71.3 87.2h1v1h-1zM102.9 101.9h1v1h-1zM71.4 86.2h1v1h-1zM79.4 87.4h1v1h-1zM98.7 74.8h1v1h-1zM99.6 90.7h1v1h-1zM101.9 100h1v1h-1zM102 95.4h1v1h-1zM100.2 95h1v1h-1zM64.9 96.1h1v1h-1zM65.5 88.8h1v1h-1zM103.4 83.2h1v1h-1zM94.5 76.7h1v1h-1zM90.2 105.1h1v1h-1zM65.9 93.5h1v1h-1zM102.1 72.7h1v1h-1zM79.6 107.5h1v1h-1zM88.1 98.8h1v1h-1zM66.4 93.7h1v1h-1zM103.8 86h1v1h-1zM91.7 108h1v1h-1zM98.4 91.7h1v1h-1zM79.4 79.8h1v1h-1zM107.9 85.4h1v1h-1zM81.8 92.6h1v1h-1zM77.2 116.5h1v1h-1zM101.3 103.4h1v1h-1zM76.9 92.4h1v1h-1zM84.2 100.7h1v1h-1zM95.9 103.4h1v1h-1zM101.6 89.4h1v1h-1zM88.3 83.9h1v1h-1zM79 83.4h1v1h-1zM73.9 111.8h1v1h-1zM112.3 91.9h1v1h-1zM96.7 102.1h1v1h-1zM99.6 90.5h1v1h-1zM86.6 111.7h1v1h-1zM111.5 70.4h1v1h-1zM95.4 92.2h1v1h-1zM102.8 73.7h1v1h-1zM90.2 99.6h1v1h-1zM70.5 98.9h1v1h-1zM114.9 81.1h1v1h-1zM113.2 75.4h1v1h-1zM90.1 77.5h1v1h-1zM77.4 81.4h1v1h-1zM96.7 95.2h1v1h-1zM69.2 83.7h1v1h-1zM94.8 69.9h1v1h-1zM64.5 94.4h1v1h-1zM100.3 101.6h1v1h-1zM79.7 90.1h1v1h-1zM99.2 80.3h1v1h-1zM106.8 92.4h1v1h-1zM94.8 97.5h1v1h-1zM107.5 87.5h1v1h-1zM111.9 74.7h1v1h-1zM75.6 112h1v1h-1zM82.3 113.4h1v1h-1zM74.8 76.6h1v1h-1zM70.6 113.2h1v1h-1zM108.9 85.5h1v1h-1zM102.7 95.8h1v1h-1zM73.2 95.1h1v1h-1zM114.1 95.8h1v1h-1zM102.8 76.8h1v1h-1zM85.6 84.7h1v1h-1zM68.4 84.1h1v1h-1zM75.7 116h1v1h-1zM104.4 102.7h1v1h-1zM99.8 80.2h1v1h-1zM81.6 110.8h1v1h-1zM100.5 70.3h1v1h-1zM77.1 114.9h1v1h-1zM68.1 86.8h1v1h-1zM77.2 91.4h1v1h-1zM108.2 87.6h1v1h-1zM109.9 89.1h1v1h-1zM98.5 86.6h1v1h-1zM102 101.4h1v1h-1zM71.6 78.7h1v1h-1zM80.4 72.8h1v1h-1zM110.4 87.1h1v1h-1zM85.3 87.8h1v1h-1zM103.6 90.3h1v1h-1zM77.2 85.1h1v1h-1zM96.9 105.7h1v1h-1zM82.3 82h1v1h-1zM86.5 108.6h1v1h-1zM86.3 102.3h1v1h-1zM103.1 104.9h1v1h-1zM99.2 92.1h1v1h-1zM107.1 99.9h1v1h-1zM73.9 100h1v1h-1zM93.7 93.1h1v1h-1zM86.8 86.9h1v1h-1zM93.6 78.5h1v1h-1zM113.6 95.7h1v1h-1zM110.3 96.4h1v1h-1zM83.5 79.1h1v1h-1zM75.3 117h1v1h-1zM108.8 85.3h1v1h-1zM104.2 76.1h1v1h-1zM107.7 93.5h1v1h-1zM82.4 82.3h1v1h-1zM74.1 102h1v1h-1zM108.8 100.9h1v1h-1zM81.9 106.5h1v1h-1zM85.5 77.4h1v1h-1zM92.1 89.5h1v1h-1zM73.1 97.6h1v1h-1zM75.6 80.7h1v1h-1zM75.2 108.7h1v1h-1zM89.3 72.7h1v1h-1zM66.4 90.2h1v1h-1zM103.8 87.3h1v1h-1zM70.5 112.2h1v1h-1zM85.3 93.8h1v1h-1zM96.2 86.6h1v1h-1zM83.4 82.8h1v1h-1zM91.9 102.8h1v1h-1zM91.2 76.4h1v1h-1zM104.1 104.1h1v1h-1zM106.7 89.8h1v1h-1zM91.1 75.8h1v1h-1zM98.2 97.7h1v1h-1zM86.9 80.5h1v1h-1zM99.4 65h1v1h-1zM104.8 73.8h1v1h-1zM92.2 69.2h1v1h-1zM107.7 84.4h1v1h-1zM83.2 100.9h1v1h-1zM109.4 87.1h1v1h-1zM105.3 103.1h1v1h-1zM81.8 88.6h1v1h-1zM90 92.9h1v1h-1zM70.4 80.3h1v1h-1zM109.9 95.6h1v1h-1zM69.7 78.1h1v1h-1zM101.9 78.6h1v1h-1zM87.3 97.6h1v1h-1zM75.7 92.7h1v1h-1zM103.9 82.6h1v1h-1zM79.5 96.6h1v1h-1zM89.1 78.9h1v1h-1zM94.3 106.6h1v1h-1zM82.7 90.9h1v1h-1zM97.5 65.8h1v1h-1zM100.6 75.9h1v1h-1zM74.7 112.8h1v1h-1zM64.4 91.1h1v1h-1zM109.3 73h1v1h-1zM92.3 77.1h1v1h-1zM101.1 100.4h1v1h-1zM94.1 101.1h1v1h-1zM83.3 116.5h1v1h-1zM96.2 74.4h1v1h-1zM85 94.7h1v1h-1zM65.6 86.6h1v1h-1zM81.2 74.7h1v1h-1zM109.5 94.9h1v1h-1zM94.4 85.4h1v1h-1zM95.1 104.7h1v1h-1zM84.2 88.9h1v1h-1zM97.9 110.9h1v1h-1zM74.3 104.5h1v1h-1zM75.1 90.4h1v1h-1zM109 83.1h1v1h-1zM82.1 79.5h1v1h-1zM101.9 82.9h1v1h-1zM79.1 83.2h1v1h-1zM81 73.5h1v1h-1zM110.9 89.2h1v1h-1zM74.2 110.4h1v1h-1zM109.7 93.3h1v1h-1zM79.1 81.4h1v1h-1zM109.4 77.6h1v1h-1zM106.1 73.7h1v1h-1zM107.5 72h1v1h-1zM73.3 101.5h1v1h-1zM72.8 86.9h1v1h-1zM102.3 99.9h1v1h-1zM106.4 89h1v1h-1zM73.2 90.9h1v1h-1zM72.2 80.5h1v1h-1zM74.3 86.7h1v1h-1zM68.5 89.6h1v1h-1zM84.1 82.2h1v1h-1zM88.6 108.1h1v1h-1zM95.4 77.1h1v1h-1zM71.5 82.3h1v1h-1zM67.3 105.9h1v1h-1zM75.8 109.2h1v1h-1zM71.1 94.1h1v1h-1zM112.4 83.2h1v1h-1zM81.4 98.6h1v1h-1zM68.5 108.1h1v1h-1zM97.6 76.9h1v1h-1zM104.6 101.9h1v1h-1zM96.6 84.8h1v1h-1zM83.1 96.4h1v1h-1zM77.5 75.1h1v1h-1zM105.2 83.6h1v1h-1zM105.1 93h1v1h-1zM87.8 115.4h1v1h-1zM108.3 71.7h1v1h-1zM96.8 67.8h1v1h-1zM98.6 92.7h1v1h-1zM75.7 114.4h1v1h-1zM73.4 98.3h1v1h-1zM104.9 93.4h1v1h-1zM110.4 70.3h1v1h-1zM106.2 99.2h1v1h-1zM105.2 83.2h1v1h-1zM84.9 98.9h1v1h-1zM103 77.7h1v1h-1zM97 73.6h1v1h-1zM114 72.7h1v1h-1zM109.3 74.5h1v1h-1zM70 93h1v1h-1zM103.2 87.3h1v1h-1zM63.2 90.5h1v1h-1zM92 92.8h1v1h-1zM84 101.9h1v1h-1zM94.9 109.6h1v1h-1zM109.7 95.2h1v1h-1zM100.7 65.9h1v1h-1zM72.5 88.5h1v1h-1zM91.8 96.3h1v1h-1zM68.2 92.8h1v1h-1zM70.7 109.7h1v1h-1zM98.1 99.2h1v1h-1zM86.1 78.6h1v1h-1zM96.4 95.6h1v1h-1zM102.8 81.6h1v1h-1zM97.9 77.8h1v1h-1zM97 77.8h1v1h-1zM108.7 99.9h1v1h-1zM88.9 68.6h1v1h-1zM93.2 106.9h1v1h-1zM102.5 92.2h1v1h-1zM77 88.9h1v1h-1zM112.9 95.1h1v1h-1zM95.5 107.1h1v1h-1zM107.3 97.3h1v1h-1zM87.1 91.4h1v1h-1zM84.3 94.4h1v1h-1zM85.1 89.4h1v1h-1zM78.8 111.4h1v1h-1zM74.9 106.1h1v1h-1zM82 94.8h1v1h-1zM103.4 71.3h1v1h-1zM92.8 93.9h1v1h-1zM86.5 99.4h1v1h-1zM72 77.4h1v1h-1zM110.7 93.5h1v1h-1zM87.5 85.5h1v1h-1zM84.1 86.8h1v1h-1zM87.2 78.1h1v1h-1zM86.7 83h1v1h-1zM110.8 72.6h1v1h-1zM111.4 81.8h1v1h-1zM79.9 101.3h1v1h-1zM76.7 116.5h1v1h-1zM96.9 74.4h1v1h-1zM71.8 110.3h1v1h-1zM82.9 96.8h1v1h-1zM100.4 69.3h1v1h-1zM101.3 76.4h1v1h-1zM74.5 99h1v1h-1zM90.6 101.7h1v1h-1zM77.2 111.8h1v1h-1zM106.1 90.7h1v1h-1zM93.4 80.6h1v1h-1zM77.8 80.9h1v1h-1zM105.3 74.9h1v1h-1zM94.3 97.9h1v1h-1zM87.8 84.6h1v1h-1zM112.9 82.7h1v1h-1zM85.6 95.7h1v1h-1zM84.3 78.7h1v1h-1zM106.4 102.8h1v1h-1zM82.6 78.4h1v1h-1zM71 113.1h1v1h-1zM91.3 98.4h1v1h-1zM87.6 107.2h1v1h-1zM101 68.5h1v1h-1zM78 92.3h1v1h-1zM80.8 104.9h1v1h-1zM70 94.6h1v1h-1zM66.2 102.8h1v1h-1zM101.7 69.3h1v1h-1zM79.3 83.8h1v1h-1zM101 94.7h1v1h-1zM68.3 83.7h1v1h-1zM102.5 74h1v1h-1zM112.9 79.1h1v1h-1zM92.1 77.2h1v1h-1zM96.4 72.2h1v1h-1zM78.6 82.3h1v1h-1zM70.5 77.2h1v1h-1zM101.8 91.2h1v1h-1zM72.2 115h1v1h-1zM80.3 94.4h1v1h-1zM95.3 100h1v1h-1zM113.9 92.4h1v1h-1zM104.4 74.6h1v1h-1zM111.3 83.4h1v1h-1zM93.9 81.2h1v1h-1zM113.2 76.4h1v1h-1zM62.9 92.8h1v1h-1zM92.5 95.2h1v1h-1zM71.2 81.5h1v1h-1zM73.7 81.7h1v1h-1zM101.7 81.4h1v1h-1zM79.2 101h1v1h-1zM96.7 90h1v1h-1zM98.2 102.7h1v1h-1zM110.9 72.1h1v1h-1zM108.9 71.8h1v1h-1zM85 103.3h1v1h-1zM98.8 84.7h1v1h-1zM70.9 109.8h1v1h-1zM100.2 76.8h1v1h-1zM102 83.3h1v1h-1zM89.3 69.8h1v1h-1zM95.5 75.7h1v1h-1zM101.1 105.1h1v1h-1zM92.2 78.1h1v1h-1zM80.9 93.6h1v1h-1zM81.2 96.6h1v1h-1zM104.5 79.9h1v1h-1zM115.2 93.4h1v1h-1zM88.5 71h1v1h-1zM81.7 81.4h1v1h-1zM101.2 71.3h1v1h-1zM95.6 93.7h1v1h-1zM86.4 95.8h1v1h-1zM104.2 87.6h1v1h-1zM109.7 71.4h1v1h-1zM81.5 89h1v1h-1zM89.3 113h1v1h-1zM89.1 95.2h1v1h-1zM53.6 108h1v1h-1zM67.4 130.5h1v1h-1zM64.4 108.4h1v1h-1zM59.6 116h1v1h-1zM58.9 129.7h1v1h-1zM52.7 127.2h1v1h-1zM70.1 121.7h1v1h-1zM56.1 115h1v1h-1zM63.1 98.5h1v1h-1zM78.8 122.1h1v1h-1zM60.8 107h1v1h-1zM59.8 120.1h1v1h-1zM68.1 130.8h1v1h-1zM56.9 124h1v1h-1zM69.9 128.5h1v1h-1zM61.8 94.9h1v1h-1zM66.9 127.4h1v1h-1zM62.3 117.3h1v1h-1zM52.5 115.5h1v1h-1zM59.5 108.1h1v1h-1zM58.7 117.5h1v1h-1zM54.2 121.2h1v1h-1zM59.5 120.1h1v1h-1zM60.1 103.8h1v1h-1zM55.7 103.3h1v1h-1zM58.2 122.7h1v1h-1zM59.1 132.3h1v1h-1zM63.8 106.8h1v1h-1zM51.5 132.3h1v1h-1zM79.5 128.6h1v1h-1zM51.6 122.9h1v1h-1zM66.1 119h1v1h-1zM59 104.8h1v1h-1zM56 117h1v1h-1zM68.9 107.4h1v1h-1zM68.9 129.6h1v1h-1zM55.8 108.8h1v1h-1zM66.7 125h1v1h-1zM64.1 114.2h1v1h-1zM52.1 132h1v1h-1zM57.2 96.9h1v1h-1zM67.5 129.3h1v1h-1zM51 132.6h1v1h-1zM76.2 126.6h1v1h-1zM60.2 116.3h1v1h-1zM74 130.2h1v1h-1zM57.7 107.7h1v1h-1zM79.4 125.5h1v1h-1zM56.6 123.2h1v1h-1zM50.2 127.1h1v1h-1zM52.1 108.1h1v1h-1zM64.2 117.7h1v1h-1zM67.6 121.5h1v1h-1zM69.4 104.2h1v1h-1zM63 129.3h1v1h-1zM63.3 126.1h1v1h-1zM58.8 107h1v1h-1zM59.8 123.5h1v1h-1zM60.9 98.7h1v1h-1zM52.5 132.3h1v1h-1zM58 127.1h1v1h-1zM66.7 109.8h1v1h-1zM52.1 130.6h1v1h-1zM67.1 101.5h1v1h-1zM70 130.1h1v1h-1zM55.1 116.8h1v1h-1zM58.2 113.2h1v1h-1zM72.8 118.5h1v1h-1zM60.4 119.7h1v1h-1zM59.7 120.9h1v1h-1zM71.5 115.3h1v1h-1zM58.9 130.2h1v1h-1zM66.5 101.5h1v1h-1zM62.7 129.5h1v1h-1zM57 119.6h1v1h-1zM76 130.8h1v1h-1zM55.4 123h1v1h-1zM59.7 100.4h1v1h-1zM64.1 119.8h1v1h-1zM69.1 100.9h1v1h-1zM78.9 131.2h1v1h-1zM59.1 103.5h1v1h-1zM61.8 97.6h1v1h-1zM66.5 118.6h1v1h-1zM71.3 105.2h1v1h-1zM60.9 120.9h1v1h-1zM68.2 108.1h1v1h-1zM61.7 95.2h1v1h-1zM65.2 98.4h1v1h-1zM76.2 129h1v1h-1zM60.9 102.3h1v1h-1zM76.1 127.9h1v1h-1zM63.9 120h1v1h-1zM73.6 124.6h1v1h-1zM61.4 99h1v1h-1zM76.4 121.3h1v1h-1zM72.1 118.3h1v1h-1zM68 118.1h1v1h-1zM62.3 104.1h1v1h-1zM61.7 118.5h1v1h-1zM69.8 130.7h1v1h-1zM62.6 103.5h1v1h-1zM73 118.5h1v1h-1zM75.6 128.7h1v1h-1zM76.6 131.4h1v1h-1zM69.7 122.9h1v1h-1zM77.1 123.2h1v1h-1zM62.1 93.2h1v1h-1zM73.1 106.6h1v1h-1zM57.6 111.7h1v1h-1zM69.5 128.9h1v1h-1zM77.9 122.3h1v1h-1zM61.4 108.6h1v1h-1zM64.9 123.4h1v1h-1zM66.6 112.7h1v1h-1zM60.7 118.3h1v1h-1zM65 132h1v1h-1zM79.9 132.5h1v1h-1zM77.3 126.1h1v1h-1zM59.8 114h1v1h-1zM61.2 95.6h1v1h-1zM76.3 117.1h1v1h-1zM74.7 123.2h1v1h-1zM77.5 127.1h1v1h-1zM52.6 129.6h1v1h-1zM57.5 96.9h1v1h-1zM69.6 112.7h1v1h-1zM52.8 131.1h1v1h-1zM68.7 122.5h1v1h-1zM72 107.9h1v1h-1zM76.6 126.3h1v1h-1zM59.1 128.8h1v1h-1zM53.6 122.9h1v1h-1zM57.2 114.6h1v1h-1zM57.3 129.8h1v1h-1zM63.7 107.1h1v1h-1zM74.4 124.8h1v1h-1zM77.3 118.7h1v1h-1zM58.6 109.7h1v1h-1zM61 106.6h1v1h-1zM69.5 100.1h1v1h-1zM68.1 122.9h1v1h-1zM74.1 110.2h1v1h-1zM59.5 116.5h1v1h-1zM53.8 133.2h1v1h-1zM50.7 132.4h1v1h-1zM57.7 132.2h1v1h-1zM58.5 96.4h1v1h-1zM56.4 120.8h1v1h-1zM51.6 115.9h1v1h-1zM55.3 106.1h1v1h-1zM60.8 123.7h1v1h-1zM52.9 116.9h1v1h-1zM56.4 98.2h1v1h-1zM63.6 110.3h1v1h-1zM76.3 120.3h1v1h-1zM77 116.3h1v1h-1zM62.6 112.7h1v1h-1zM53.9 121.6h1v1h-1zM62.6 89.5h1v1h-1zM67.7 116.2h1v1h-1zM72.8 107.8h1v1h-1zM70.4 126h1v1h-1zM76.6 132.2h1v1h-1zM59.2 105.2h1v1h-1zM66.2 112.9h1v1h-1zM69.1 129.4h1v1h-1zM57.9 115.3h1v1h-1zM64.4 118.2h1v1h-1zM55.2 103h1v1h-1zM56 113.3h1v1h-1zM61.8 92.5h1v1h-1zM61.2 109.8h1v1h-1zM72 117.4h1v1h-1zM61.5 113.8h1v1h-1zM62.6 114.1h1v1h-1zM54.3 121.5h1v1h-1zM73.9 122.2h1v1h-1zM63.3 116.4h1v1h-1zM58.8 119.3h1v1h-1zM58.2 130h1v1h-1zM63.5 125.6h1v1h-1zM67.6 132.4h1v1h-1zM55.2 108.9h1v1h-1zM63.2 128.3h1v1h-1zM58.8 127.7h1v1h-1zM75.1 113h1v1h-1zM52.9 129h1v1h-1zM60.3 94.1h1v1h-1zM52.3 106.5h1v1h-1zM75.7 117.7h1v1h-1zM52.1 113.7h1v1h-1zM66.4 127.9h1v1h-1zM62.1 124.4h1v1h-1zM60.4 103.4h1v1h-1zM79.6 128.4h1v1h-1zM56.8 122.4h1v1h-1zM58.3 116.5h1v1h-1zM63.3 110.9h1v1h-1zM69.4 125.5h1v1h-1zM52.1 110h1v1h-1zM51.8 132.5h1v1h-1zM80.1 127.1h1v1h-1zM61.1 117.3h1v1h-1zM57.4 127.1h1v1h-1zM62.5 99.6h1v1h-1zM60 97.3h1v1h-1zM60.8 103.1h1v1h-1zM52.8 131.8h1v1h-1zM60 107.3h1v1h-1zM54.4 119.4h1v1h-1zM67 132.1h1v1h-1zM56.4 115.9h1v1h-1zM51.1 127.2h1v1h-1zM53.9 118.1h1v1h-1zM75.3 127.6h1v1h-1zM57.6 115.1h1v1h-1zM79.2 126.7h1v1h-1zM56 111.9h1v1h-1zM67.5 129.3h1v1h-1zM59.6 111.4h1v1h-1zM60.5 127.3h1v1h-1zM78.1 118.9h1v1h-1zM55.4 105.1h1v1h-1zM72.5 112.4h1v1h-1zM54.3 116.4h1v1h-1zM59.3 125.6h1v1h-1zM52.2 130h1v1h-1zM72.5 127.1h1v1h-1zM62.2 101.7h1v1h-1zM55.5 101h1v1h-1zM67.4 116.7h1v1h-1zM62 113.4h1v1h-1zM74.5 129.1h1v1h-1zM69.9 124.6h1v1h-1zM70.2 130.9h1v1h-1zM76.7 122h1v1h-1zM75.5 122.5h1v1h-1zM60.4 108.4h1v1h-1zM53.4 118.9h1v1h-1zM63.1 92.5h1v1h-1zM61 124.1h1v1h-1zM52.7 115.9h1v1h-1zM64 119.8h1v1h-1zM55 103.9h1v1h-1zM74.4 111.8h1v1h-1zM62.7 113.3h1v1h-1zM62.7 123.8h1v1h-1zM52.8 127.3h1v1h-1zM59 126.6h1v1h-1zM57.9 113.9h1v1h-1zM51.4 127.7h1v1h-1zM60.3 94.4h1v1h-1zM55.2 132.8h1v1h-1zM70.9 128.9h1v1h-1zM54.9 124h1v1h-1zM55.5 124h1v1h-1zM59.2 131.6h1v1h-1zM68.5 117.5h1v1h-1zM75.7 118.2h1v1h-1zM74.4 118.4h1v1h-1zM69.7 106.4h1v1h-1zM74.9 127.4h1v1h-1zM61.7 101.9h1v1h-1zM73.2 132.1h1v1h-1zM66.2 109.4h1v1h-1zM72.9 130.6h1v1h-1zM75.8 115h1v1h-1zM51.1 130.9h1v1h-1zM63.2 130.8h1v1h-1zM68.3 113.3h1v1h-1zM51.8 110.8h1v1h-1zM60.7 102.3h1v1h-1zM60.3 97.2h1v1h-1zM52.6 122.2h1v1h-1zM51.3 114.1h1v1h-1zM57.4 104.7h1v1h-1zM60.2 117.6h1v1h-1zM52 114.4h1v1h-1zM80 123.4h1v1h-1zM56.2 128.9h1v1h-1zM75.8 114.6h1v1h-1zM60.5 127.9h1v1h-1zM59 127.3h1v1h-1zM71.4 120.2h1v1h-1zM61 121h1v1h-1zM74.6 117.4h1v1h-1zM63.2 125.2h1v1h-1zM64.7 93.8h1v1h-1zM55.3 117.4h1v1h-1zM52.5 121.3h1v1h-1zM62.4 89.4h1v1h-1zM58 102.8h1v1h-1zM60.4 103.4h1v1h-1zM66.4 104.8h1v1h-1zM57.4 122.1h1v1h-1zM56.4 118.1h1v1h-1zM63 115.5h1v1h-1zM58.6 109.3h1v1h-1zM77.8 131.1h1v1h-1zM69.3 125h1v1h-1zM55 113.9h1v1h-1zM59.9 115.9h1v1h-1zM78.6 121.9h1v1h-1zM51.4 125.4h1v1h-1zM56.9 99h1v1h-1zM69.2 124.5h1v1h-1zM76.5 117.5h1v1h-1zM61.6 112.9h1v1h-1zM51.9 132.1h1v1h-1zM69.7 123.9h1v1h-1zM55.2 121.3h1v1h-1zM68 102.3h1v1h-1zM51.9 113.7h1v1h-1zM50.5 132.8h1v1h-1zM71.3 114.9h1v1h-1zM59.2 123.4h1v1h-1zM73.4 110.3h1v1h-1zM66.4 102h1v1h-1zM68.4 131.7h1v1h-1zM56.9 100.9h1v1h-1zM63.6 98.4h1v1h-1zM72.3 114.6h1v1h-1zM58.6 112.4h1v1h-1zM56.2 104.8h1v1h-1zM73.2 118.8h1v1h-1zM79.8 121.9h1v1h-1zM68 121.6h1v1h-1zM70 117.6h1v1h-1zM64 103.6h1v1h-1zM64.5 117.6h1v1h-1zM62.9 107.1h1v1h-1zM75.5 94.9h1v1h-1zM60.3 98.3h1v1h-1zM59.5 106.7h1v1h-1zM62.7 111.8h1v1h-1zM63.1 104.6h1v1h-1zM56.1 115h1v1h-1zM49.9 112.1h1v1h-1zM64 107.3h1v1h-1zM50.1 101.1h1v1h-1zM61.6 96.5h1v1h-1zM62.3 103.9h1v1h-1zM71 113.8h1v1h-1zM78.2 132.4h1v1h-1zM67.7 123h1v1h-1zM63.5 132.5h1v1h-1zM56.6 118.9h1v1h-1zM57.8 112.2h1v1h-1zM60.4 97.8h1v1h-1zM49.9 114.9h1v1h-1zM58.8 89h1v1h-1zM62.3 109h1v1h-1zM70.7 128.9h1v1h-1zM61.6 116.2h1v1h-1zM66.2 124.2h1v1h-1zM57.5 109h1v1h-1zM57.1 98h1v1h-1zM50.7 109.3h1v1h-1zM63 107.8h1v1h-1zM75.5 123.2h1v1h-1zM63.8 103.8h1v1h-1zM56 109.6h1v1h-1zM71.8 108.8h1v1h-1zM57.4 109.5h1v1h-1zM65.4 97.8h1v1h-1zM63.9 113.1h1v1h-1zM57.7 117.4h1v1h-1zM70.4 115.1h1v1h-1zM60.5 99.2h1v1h-1zM63.9 110.8h1v1h-1zM62.1 92.9h1v1h-1zM64.9 122.2h1v1h-1zM58.4 101.8h1v1h-1zM65.4 108.7h1v1h-1zM59.5 108h1v1h-1zM62.2 105.9h1v1h-1zM56.5 101.7h1v1h-1zM62.6 131.9h1v1h-1zM60.5 115.7h1v1h-1zM63.7 115.2h1v1h-1zM52.1 113.4h1v1h-1zM65.1 118.1h1v1h-1zM49 115.4h1v1h-1zM59 126.5h1v1h-1zM60.9 118.4h1v1h-1zM49.4 118.6h1v1h-1zM50.7 112h1v1h-1zM64.7 115.2h1v1h-1zM66.1 124.8h1v1h-1zM57.8 90.1h1v1h-1zM57.7 112h1v1h-1zM75.9 105.1h1v1h-1zM61.4 109.3h1v1h-1zM75.4 118.1h1v1h-1zM65.1 102.4h1v1h-1zM60.2 110.4h1v1h-1zM69.6 105.4h1v1h-1zM60.4 94.1h1v1h-1zM66.2 106.7h1v1h-1zM60.5 92.2h1v1h-1zM54.5 103.5h1v1h-1zM68.6 107.7h1v1h-1zM64.1 112.1h1v1h-1zM56.8 114.3h1v1h-1zM57.9 111.9h1v1h-1zM61.7 117.5h1v1h-1zM60.7 99.1h1v1h-1zM65.9 104.9h1v1h-1zM62.5 105.1h1v1h-1zM53 112.4h1v1h-1zM65.8 105h1v1h-1zM67.2 101.9h1v1h-1zM72.2 129h1v1h-1zM73.5 110.7h1v1h-1zM64.7 108.3h1v1h-1zM67.5 108.6h1v1h-1zM72.7 108h1v1h-1zM64.3 127.8h1v1h-1zM75.2 115.3h1v1h-1zM76.6 122.2h1v1h-1zM75.5 113.5h1v1h-1zM70.8 122.7h1v1h-1zM70.4 111.2h1v1h-1zM61.4 93.4h1v1h-1zM67 118.2h1v1h-1zM62.8 105.7h1v1h-1zM67.8 91.3h1v1h-1zM65.2 105h1v1h-1zM61 124.7h1v1h-1zM68.8 124.7h1v1h-1zM69.3 119.2h1v1h-1zM56.2 102h1v1h-1zM58.1 100.3h1v1h-1zM59 112.3h1v1h-1zM62.1 96.4h1v1h-1zM72.4 125.3h1v1h-1zM76.1 114.8h1v1h-1zM72.6 120.4h1v1h-1zM69.8 112.1h1v1h-1zM70.2 110.2h1v1h-1zM72 112.6h1v1h-1zM56.6 92.5h1v1h-1zM69.7 122.2h1v1h-1zM67.1 121.9h1v1h-1zM61.4 108.4h1v1h-1zM60.2 112.9h1v1h-1zM60.5 116.3h1v1h-1zM64.8 129.7h1v1h-1zM56.2 118.7h1v1h-1zM66.5 112.2h1v1h-1zM61.8 107h1v1h-1zM60.5 96.1h1v1h-1zM63.9 105.6h1v1h-1zM67.9 112.3h1v1h-1zM58.8 110.5h1v1h-1zM62.6 113.4h1v1h-1zM54.5 122.6h1v1h-1zM49.9 120h1v1h-1zM51.3 117.9h1v1h-1zM74.3 117.6h1v1h-1zM51.9 116.9h1v1h-1zM66 111.5h1v1h-1zM73.5 115.6h1v1h-1zM56.4 94.5h1v1h-1zM76.2 123.9h1v1h-1zM72.1 96.2h1v1h-1zM116.2 59.8h1v1h-1zM112.2 73.4h1v1h-1zM119 58.6h1v1h-1zM111.6 71.4h1v1h-1zM99.9 71.3h1v1h-1zM118.6 58.5h1v1h-1zM108.8 60.5h1v1h-1zM112.8 72h1v1h-1zM112.3 71.7h1v1h-1zM122.5 69.9h1v1h-1zM123.1 76.6h1v1h-1zM113.5 70.4h1v1h-1zM95.5 78.1h1v1h-1zM106.2 71h1v1h-1zM111.9 70h1v1h-1zM112.4 63.3h1v1h-1zM114.3 81.3h1v1h-1zM110 71.8h1v1h-1zM111.3 72.4h1v1h-1zM112.5 70h1v1h-1zM93.2 71h1v1h-1zM119.8 64.7h1v1h-1zM113.8 65.5h1v1h-1zM105.2 65.1h1v1h-1zM98.9 74.5h1v1h-1zM111.8 66.7h1v1h-1zM123.5 60.8h1v1h-1zM105.7 76.3h1v1h-1zM97.3 68.5h1v1h-1zM115.9 70.4h1v1h-1zM93 73.3h1v1h-1zM89.1 81.7h1v1h-1zM106.2 72.1h1v1h-1zM104.1 74.1h1v1h-1zM105.5 65.5h1v1h-1zM103.2 67.8h1v1h-1zM111.9 63.6h1v1h-1zM108.7 71.7h1v1h-1zM106.2 76.4h1v1h-1zM108.5 77.7h1v1h-1zM115.8 64.3h1v1h-1zM120.5 66.1h1v1h-1zM75.1 79.1h1v1h-1zM98.9 70.3h1v1h-1zM103.8 62.5h1v1h-1zM108.5 59h1v1h-1zM95.4 79.6h1v1h-1zM123.1 59.2h1v1h-1zM109.7 59.1h1v1h-1zM109.7 85.1h1v1h-1zM112.6 69.9h1v1h-1zM106.3 69.4h1v1h-1zM104.5 76.7h1v1h-1zM113.9 63.3h1v1h-1zM109.7 80.3h1v1h-1zM92.7 67.2h1v1h-1zM101.1 65.2h1v1h-1zM109.1 69.4h1v1h-1zM97.8 70h1v1h-1zM95.8 65.4h1v1h-1zM120.2 67.1h1v1h-1zM102.3 76.7h1v1h-1zM114.2 74.6h1v1h-1zM123.3 66.4h1v1h-1zM113.8 82.5h1v1h-1zM97.4 72.1h1v1h-1zM112.1 70.1h1v1h-1zM94.7 74.2h1v1h-1zM115.5 65.6h1v1h-1zM109.6 66.9h1v1h-1zM107.9 66.5h1v1h-1zM104 65h1v1h-1zM106.1 67.8h1v1h-1zM117.5 69h1v1h-1zM96.8 65h1v1h-1zM101.4 84.4h1v1h-1zM119.9 72.7h1v1h-1zM112 67.5h1v1h-1zM121.4 61.1h1v1h-1zM117.1 74.7h1v1h-1zM121.7 65.9h1v1h-1zM111.7 72.6h1v1h-1zM118.8 61.3h1v1h-1zM116.6 73.8h1v1h-1zM103.8 73h1v1h-1zM113.8 63.8h1v1h-1zM113.6 71.4h1v1h-1zM103.8 69.4h1v1h-1zM114.1 65.1h1v1h-1zM97.5 80.1h1v1h-1zM96.6 74.9h1v1h-1zM120.7 73.2h1v1h-1zM89.2 62.8h1v1h-1zM109 73.4h1v1h-1zM109.6 59.8h1v1h-1zM108.4 61.9h1v1h-1zM116.9 72.4h1v1h-1zM105.3 64.7h1v1h-1zM105.4 67.5h1v1h-1zM110.8 73.2h1v1h-1zM120.5 63.1h1v1h-1zM123.2 67.2h1v1h-1zM121.5 59.2h1v1h-1zM115 69.5h1v1h-1zM111.1 76.2h1v1h-1zM94.4 78.4h1v1h-1zM120.7 69.4h1v1h-1zM106.7 71.4h1v1h-1zM116.7 60.9h1v1h-1zM107.5 59.4h1v1h-1zM125.7 75.2h1v1h-1zM112.3 64.6h1v1h-1zM96.7 85.5h1v1h-1zM105.8 71.2h1v1h-1zM103.4 63.8h1v1h-1zM116.2 67.6h1v1h-1zM102.7 74.9h1v1h-1zM107.5 74.2h1v1h-1zM103.4 79.3h1v1h-1zM108.2 64.6h1v1h-1zM112.5 71.8h1v1h-1zM122.2 69.3h1v1h-1zM118.1 64.5h1v1h-1zM110.1 63.5h1v1h-1zM110.9 63.1h1v1h-1zM113.5 73h1v1h-1zM113.7 73.3h1v1h-1zM124.4 58.2h1v1h-1zM82.3 72.7h1v1h-1zM111.8 76.9h1v1h-1zM110.2 59.5h1v1h-1zM122.5 65.4h1v1h-1zM97.7 69.6h1v1h-1zM110.1 58.2h1v1h-1zM119.7 66.4h1v1h-1zM105.7 70.2h1v1h-1zM94.7 85.5h1v1h-1zM112.3 83.4h1v1h-1zM98 73.5h1v1h-1zM119.6 72.2h1v1h-1zM104.5 78.8h1v1h-1zM110.1 64h1v1h-1zM106.2 81.7h1v1h-1zM104.7 69.5h1v1h-1zM99.5 73.9h1v1h-1zM113.9 66.1h1v1h-1zM125.4 62.2h1v1h-1zM107.1 67h1v1h-1zM121.8 69.5h1v1h-1zM104 80.3h1v1h-1zM112.9 66h1v1h-1zM96.5 75.7h1v1h-1zM121.1 60.8h1v1h-1zM94.5 84.2h1v1h-1zM101.5 88.3h1v1h-1zM101.6 75.6h1v1h-1zM118 59.4h1v1h-1zM108.1 75.5h1v1h-1zM116.2 62.5h1v1h-1zM115.4 77.2h1v1h-1zM114.7 72.5h1v1h-1zM104.2 63.1h1v1h-1zM104.8 77.4h1v1h-1zM105.8 67.5h1v1h-1zM103.5 75h1v1h-1zM115.9 63.4h1v1h-1zM92.5 82.3h1v1h-1zM111.4 64.9h1v1h-1zM94.6 69.6h1v1h-1zM99.1 65.6h1v1h-1zM119.2 67.4h1v1h-1zM100 68.6h1v1h-1zM115.7 71.3h1v1h-1zM106.1 69.5h1v1h-1zM108.7 67.7h1v1h-1zM97.2 70.8h1v1h-1zM94.8 63.3h1v1h-1zM98.9 67.2h1v1h-1zM113.6 72.8h1v1h-1zM117.7 86.2h1v1h-1zM117.5 58.4h1v1h-1zM109.9 63h1v1h-1zM112.7 70.7h1v1h-1zM115 70.6h1v1h-1zM107.7 66.2h1v1h-1zM113.7 68.6h1v1h-1zM117.8 64.4h1v1h-1zM107.1 76.7h1v1h-1zM96.4 86h1v1h-1zM102 72h1v1h-1zM112.8 66.8h1v1h-1zM86.4 82.6h1v1h-1zM108.3 77.5h1v1h-1zM116.2 70.2h1v1h-1zM103.1 67.7h1v1h-1zM100 76.2h1v1h-1zM122.9 59.6h1v1h-1zM104.8 63.2h1v1h-1zM125.1 66.6h1v1h-1zM124.5 65.9h1v1h-1zM101.3 79.6h1v1h-1zM99.5 69.9h1v1h-1zM106.8 68.2h1v1h-1zM97 68.5h1v1h-1zM109.1 63.9h1v1h-1zM95.8 72h1v1h-1zM109.3 66.8h1v1h-1zM124 71h1v1h-1zM109.8 61.8h1v1h-1zM107.7 70.3h1v1h-1zM124.7 59.6h1v1h-1zM104.8 81.5h1v1h-1zM120.8 66.8h1v1h-1zM106.5 68.7h1v1h-1zM114.5 73h1v1h-1zM110.9 69.7h1v1h-1zM110.6 66.3h1v1h-1zM113.4 78.2h1v1h-1zM104.1 76.8h1v1h-1zM108.7 81.5h1v1h-1zM117.6 74h1v1h-1zM111.1 74.2h1v1h-1zM98.9 75.2h1v1h-1zM100.7 66.6h1v1h-1zM105 76.4h1v1h-1zM110 70.2h1v1h-1zM113.7 72.5h1v1h-1zM111.3 69.1h1v1h-1zM102.1 68.6h1v1h-1zM108.2 64h1v1h-1zM98.1 79.3h1v1h-1zM84.1 89h1v1h-1zM109.1 68.2h1v1h-1zM94.6 79.2h1v1h-1zM103.9 81.2h1v1h-1z" fill="#000"/>
<path d="M84.7 78.8 L96 75.5 L109 74.3 L110.5 78 L106 87 L99.5 96 L95.1 101 L89 107 L83.2 111 L79.5 107 L78.2 101 L78.8 89.2 L81 83 Z" fill="#2a2a2a" stroke="#2a2a2a" stroke-width="1.2" stroke-linejoin="round" />
<path d="M66.9 78.8 L98.5 63.9 L115 71 L115.9 95.1 L90.6 117.4 L72.8 117.4 L60.9 95.1 Z" fill="none" stroke="#000" stroke-width="1.1" stroke-linejoin="round" />
<path d="M281.2 62.5h1v1h-1zM267.8 69.3h1v1h-1zM260.9 51.2h1v1h-1zM279.3 45.7h1v1h-1zM258.9 50.1h1v1h-1zM256.4 49.8h1v1h-1zM247.9 71.9h1v1h-1zM272.1 64.5h1v1h-1zM250.6 80.1h1v1h-1zM260.4 66.2h1v1h-1zM260.3 66.4h1v1h-1zM262.2 72.2h1v1h-1zM272.6 55.4h1v1h-1zM285.3 51.9h1v1h-1zM261.3 62.2h1v1h-1zM250.3 66.3h1v1h-1zM264.8 50.2h1v1h-1zM280.1 67.1h1v1h-1zM266 44.1h1v1h-1zM289.1 54.4h1v1h-1zM272.9 42.3h1v1h-1zM283.5 70.5h1v1h-1zM281.4 64.1h1v1h-1zM248.8 63.7h1v1h-1zM254.4 64.7h1v1h-1zM258 54.3h1v1h-1zM266.7 61.9h1v1h-1zM268.1 66.7h1v1h-1zM283.8 82.9h1v1h-1zM258.7 51h1v1h-1zM266.1 77.9h1v1h-1zM279.2 58.2h1v1h-1zM278.9 65.7h1v1h-1zM255.8 75.8h1v1h-1zM275.1 62.5h1v1h-1zM270.3 58h1v1h-1zM266.6 62.5h1v1h-1zM254.6 84.4h1v1h-1zM249 55.7h1v1h-1zM286.3 44.6h1v1h-1zM246.5 59.9h1v1h-1zM255.4 57.8h1v1h-1zM245.3 66.1h1v1h-1zM264.4 77.2h1v1h-1zM282.1 79h1v1h-1zM242.9 93.5h1v1h-1zM275.6 58h1v1h-1zM260 53h1v1h-1zM259.3 72.5h1v1h-1zM286.5 65.8h1v1h-1zM282.8 59.8h1v1h-1zM262.4 63.4h1v1h-1zM260.6 65.1h1v1h-1zM282.5 59.8h1v1h-1zM268.6 76.7h1v1h-1zM246.4 70.8h1v1h-1zM256.1 70h1v1h-1zM247.8 77.2h1v1h-1zM279.4 67.6h1v1h-1zM274.2 44.7h1v1h-1zM247.6 87.3h1v1h-1zM268.5 66.4h1v1h-1zM246.4 79.6h1v1h-1zM254.2 54.9h1v1h-1zM280.4 54.1h1v1h-1zM272.6 38.2h1v1h-1zM263.1 61.9h1v1h-1zM264.8 58.5h1v1h-1zM272 66.1h1v1h-1zM282.3 70.4h1v1h-1zM259.6 66.5h1v1h-1zM291.2 69.1h1v1h-1zM267.2 55.2h1v1h-1zM286.3 59.8h1v1h-1zM265.7 47.9h1v1h-1zM276.1 58.3h1v1h-1zM253.3 66.9h1v1h-1zM258.5 65.1h1v1h-1zM250.1 79.9h1v1h-1zM263.7 65.8h1v1h-1zM273.4 48.7h1v1h-1zM248 75.4h1v1h-1zM261.9 61.1h1v1h-1zM281.8 48.8h1v1h-1zM274.5 43.9h1v1h-1zM258.2 59.7h1v1h-1zM289.3 54h1v1h-1zM284.1 68.4h1v1h-1zM246.9 62.4h1v1h-1zM265.1 77.5h1v1h-1zM266.5 57.3h1v1h-1zM241.5 84.6h1v1h-1zM267.7 60.2h1v1h-1zM259.9 74.9h1v1h-1zM254.8 69.9h1v1h-1zM282.6 68.1h1v1h-1zM274.2 66.2h1v1h-1zM282.6 72.9h1v1h-1zM261.1 57.6h1v1h-1zM262.1 81.1h1v1h-1zM269.7 61.6h1v1h-1zM270.9 65.7h1v1h-1zM277.4 53.5h1v1h-1zM271.3 80h1v1h-1zM242 78.3h1v1h-1zM275.3 60.1h1v1h-1zM263.2 41.8h1v1h-1zM272.2 65.3h1v1h-1zM244.1 64.5h1v1h-1zM256.6 85.7h1v1h-1zM271.1 79.9h1v1h-1zM266.9 62.3h1v1h-1zM251.1 74.3h1v1h-1zM274.6 59.8h1v1h-1zM284.4 60.4h1v1h-1zM255.8 65.7h1v1h-1zM249 59.1h1v1h-1zM254.2 68.5h1v1h-1zM282.1 74.4h1v1h-1zM260.8 57.7h1v1h-1zM276.6 48.7h1v1h-1zM275.8 42.1h1v1h-1zM242.4 72.1h1v1h-1zM263.5 62.9h1v1h-1zM257 62.6h1v1h-1zM259.2 64.2h1v1h-1zM254.5 85h1v1h-1zM262.1 70.6h1v1h-1zM242.6 61.3h1v1h-1zM268.1 56.6h1v1h-1zM270.1 69.5h1v1h-1zM241.4 70.2h1v1h-1zM241.1 79.2h1v1h-1zM258.3 67.4h1v1h-1zM277.7 62.2h1v1h-1zM271.7 57.4h1v1h-1zM263.7 62.7h1v1h-1zM260.2 70.9h1v1h-1zM249.7 61.8h1v1h-1zM269.8 81.5h1v1h-1zM247.6 74h1v1h-1zM257.9 65.3h1v1h-1zM260 76.2h1v1h-1zM276.1 57.9h1v1h-1zM262.3 64.6h1v1h-1zM260.8 57.4h1v1h-1zM258.8 56.4h1v1h-1zM264.4 55.6h1v1h-1zM265.6 76.9h1v1h-1zM261.8 58h1v1h-1zM278.2 50.7h1v1h-1zM275.1 52h1v1h-1zM273.6 66.7h1v1h-1zM263.7 53.3h1v1h-1zM254.1 76.9h1v1h-1zM253.7 66.9h1v1h-1zM267.2 68.3h1v1h-1zM264.4 48.7h1v1h-1zM285.5 61h1v1h-1zM258.3 70.4h1v1h-1zM248.4 61.8h1v1h-1zM285.2 70.4h1v1h-1zM287.1 60.3h1v1h-1zM264.7 77.8h1v1h-1zM262.5 47.6h1v1h-1zM284 48.7h1v1h-1zM267.3 55.9h1v1h-1zM268 69.3h1v1h-1zM242.5 93.7h1v1h-1zM274.9 57.8h1v1h-1zM266.6 61.1h1v1h-1zM264 76.2h1v1h-1zM247.1 74.1h1v1h-1zM257.2 53.1h1v1h-1zM262.8 62.6h1v1h-1zM275.8 44.5h1v1h-1zM243.6 67.4h1v1h-1zM286.6 50.9h1v1h-1zM263.4 58.9h1v1h-1zM284.2 55.2h1v1h-1zM243.2 58.8h1v1h-1zM282.9 80.5h1v1h-1zM289.9 63.5h1v1h-1zM270.9 68.6h1v1h-1zM268.6 51.1h1v1h-1zM243.8 73.8h1v1h-1zM256.4 95.7h1v1h-1zM275.8 72.6h1v1h-1zM248.8 67.2h1v1h-1zM281.8 67.8h1v1h-1zM254.9 84.5h1v1h-1zM260.6 80.9h1v1h-1zM288.9 52.9h1v1h-1zM249.4 65.3h1v1h-1zM259.1 53.2h1v1h-1zM268.3 60.1h1v1h-1zM257 80.5h1v1h-1zM274 41.8h1v1h-1zM259.4 47.7h1v1h-1zM274.8 64.2h1v1h-1zM249.8 94.8h1v1h-1zM266.6 71.4h1v1h-1zM272 81.6h1v1h-1zM268.2 44.3h1v1h-1zM281.4 41h1v1h-1zM273.7 85.1h1v1h-1zM260 63.2h1v1h-1zM271.3 58.2h1v1h-1zM288.9 51.7h1v1h-1zM259.1 79.9h1v1h-1zM281.6 69.3h1v1h-1zM262.5 66.5h1v1h-1zM258.8 63.4h1v1h-1zM277.1 55.8h1v1h-1zM255.6 73h1v1h-1zM257 84.3h1v1h-1zM275.8 58.6h1v1h-1zM274.8 79.4h1v1h-1zM257.1 58.2h1v1h-1zM266.4 69.2h1v1h-1zM282.1 74.2h1v1h-1zM267 77.8h1v1h-1zM278.4 59.4h1v1h-1zM266.8 51.9h1v1h-1zM283.2 43.9h1v1h-1zM283 50.7h1v1h-1zM279.6 58.4h1v1h-1zM261.2 63h1v1h-1zM259.4 49.6h1v1h-1zM252.9 62.2h1v1h-1zM266.7 72.6h1v1h-1zM266.1 46.2h1v1h-1zM283.3 48.1h1v1h-1zM250.5 65.7h1v1h-1zM278.7 97.7h1v1h-1zM251.4 72.7h1v1h-1zM245.3 71.6h1v1h-1zM254.9 62.8h1v1h-1zM277.8 41.3h1v1h-1zM266.1 40.7h1v1h-1zM265.8 62.6h1v1h-1zM264.5 60.6h1v1h-1zM249.3 90.9h1v1h-1zM266.9 42.8h1v1h-1zM274 63.3h1v1h-1zM257 84.6h1v1h-1zM266.3 70.7h1v1h-1zM249.4 53.9h1v1h-1zM254 76.6h1v1h-1zM263.6 82.2h1v1h-1zM251.9 71.6h1v1h-1zM273.8 61.7h1v1h-1zM267.1 54h1v1h-1zM271.8 62.9h1v1h-1zM269 74.8h1v1h-1zM258.7 65.3h1v1h-1zM287.3 59.8h1v1h-1zM261.9 45.9h1v1h-1zM266.9 63.2h1v1h-1zM254.5 61.8h1v1h-1zM265 69.5h1v1h-1zM253.9 82.8h1v1h-1zM247.1 78.3h1v1h-1zM270.9 75.5h1v1h-1zM275.6 52.2h1v1h-1zM276.4 44.7h1v1h-1zM243.6 77.9h1v1h-1zM268.5 59.1h1v1h-1zM262.2 50.8h1v1h-1zM266.8 61.6h1v1h-1zM269.4 55.7h1v1h-1zM279.6 61.9h1v1h-1zM276.7 53.2h1v1h-1zM267.2 65h1v1h-1zM268.2 39.4h1v1h-1zM241.2 76.2h1v1h-1zM256.1 52h1v1h-1zM253.1 82.5h1v1h-1zM275.8 62.3h1v1h-1zM263.1 58.1h1v1h-1zM267.1 59.2h1v1h-1zM273.3 40.4h1v1h-1zM280 55.6h1v1h-1zM288.9 56.7h1v1h-1zM266.7 81.2h1v1h-1zM261.9 75.3h1v1h-1zM284.2 47.4h1v1h-1zM262.3 66.5h1v1h-1zM249 80.7h1v1h-1zM273.6 74.3h1v1h-1zM283.6 63h1v1h-1zM286.2 47.9h1v1h-1zM259.8 59.2h1v1h-1zM279.2 100.6h1v1h-1zM264.1 75.5h1v1h-1zM274.3 69.7h1v1h-1zM270.2 63h1v1h-1zM266 71.5h1v1h-1zM265.1 52.6h1v1h-1zM262.8 73.6h1v1h-1zM247.6 55.8h1v1h-1zM266 68.1h1v1h-1zM259.3 73.9h1v1h-1zM261.8 46.9h1v1h-1zM277.2 79.2h1v1h-1zM255.7 55.5h1v1h-1zM268.4 74.2h1v1h-1zM259.6 60.7h1v1h-1zM262.1 57.6h1v1h-1zM270.4 90.3h1v1h-1zM267 74.9h1v1h-1zM285 73.2h1v1h-1zM267 71.9h1v1h-1zM267.3 70.7h1v1h-1zM262.8 66.9h1v1h-1zM266.8 59.8h1v1h-1zM274.7 65.2h1v1h-1zM273 60.8h1v1h-1zM241.2 76.6h1v1h-1zM242.9 60.8h1v1h-1zM280.6 61.5h1v1h-1zM279.3 49.4h1v1h-1zM286.5 54.9h1v1h-1zM267.1 60.9h1v1h-1zM276.9 44.2h1v1h-1zM260.4 55.8h1v1h-1zM260 58h1v1h-1zM241.9 74.5h1v1h-1zM253 68.1h1v1h-1zM263.2 78.4h1v1h-1zM273.3 45.8h1v1h-1zM262.7 73.6h1v1h-1zM268.7 56.1h1v1h-1zM269.1 59.9h1v1h-1zM268.2 92.6h1v1h-1zM248.7 91.5h1v1h-1zM258 75.3h1v1h-1zM250 84.5h1v1h-1zM261.8 67.3h1v1h-1zM268.9 73.1h1v1h-1zM259.9 59.7h1v1h-1zM259.5 58.7h1v1h-1zM270.3 55.1h1v1h-1zM260.8 85.5h1v1h-1zM287 69.2h1v1h-1zM272.9 73.1h1v1h-1zM270.5 58.6h1v1h-1zM260.1 79.9h1v1h-1zM280.1 66.2h1v1h-1zM255.4 68.5h1v1h-1zM275.5 54.1h1v1h-1zM276.8 56.5h1v1h-1zM266.5 64.9h1v1h-1zM262.6 58.4h1v1h-1zM272.7 42.8h1v1h-1zM280.3 75h1v1h-1zM250.2 68.4h1v1h-1zM258.5 46.1h1v1h-1zM265.2 56.5h1v1h-1zM270.9 76.7h1v1h-1zM255.3 50.3h1v1h-1zM250.6 69h1v1h-1zM288 63.2h1v1h-1zM258.6 72.4h1v1h-1zM270.7 64.4h1v1h-1zM251.4 88.7h1v1h-1zM276.9 76.6h1v1h-1zM259.4 79.9h1v1h-1zM244 61h1v1h-1zM246.3 63h1v1h-1zM270 39.9h1v1h-1zM291.9 69.3h1v1h-1zM270.2 62.5h1v1h-1zM279.5 57.5h1v1h-1zM259 92.1h1v1h-1zM272.6 52.6h1v1h-1zM264.6 78.6h1v1h-1zM253 75.1h1v1h-1zM259.9 65.4h1v1h-1zM250.7 83.9h1v1h-1zM256.8 63.6h1v1h-1zM256.3 72.2h1v1h-1zM278.6 56.9h1v1h-1zM270.8 74.1h1v1h-1zM281.4 45.9h1v1h-1zM262.8 67.4h1v1h-1zM272.4 63h1v1h-1zM267.3 63h1v1h-1zM271.9 68.1h1v1h-1zM261.4 63.2h1v1h-1zM270.8 75.1h1v1h-1zM286.1 42.6h1v1h-1zM248.3 57h1v1h-1zM257.7 68.1h1v1h-1zM267.2 77h1v1h-1zM271.2 54.1h1v1h-1zM268.2 54.6h1v1h-1zM277.4 52.3h1v1h-1zM247.4 76.9h1v1h-1zM268.6 59.8h1v1h-1zM264.9 67.9h1v1h-1zM252.4 51.1h1v1h-1zM276.2 75.3h1v1h-1zM265.1 53.7h1v1h-1zM275.3 74.4h1v1h-1zM247.7 80.2h1v1h-1zM272.4 77.4h1v1h-1zM281.7 39.6h1v1h-1zM269.2 81.6h1v1h-1zM274.6 58.8h1v1h-1zM258.2 77.4h1v1h-1zM251 69.1h1v1h-1zM254.6 58.2h1v1h-1zM283.3 50.3h1v1h-1zM267.1 39.4h1v1h-1zM258.8 75h1v1h-1zM279 52.9h1v1h-1zM262.5 62.4h1v1h-1zM263.5 82.1h1v1h-1zM272.2 60.1h1v1h-1zM249.2 65.8h1v1h-1zM284.1 51.7h1v1h-1zM245.3 89h1v1h-1zM270.5 53.7h1v1h-1zM270.4 72h1v1h-1zM263.3 65.9h1v1h-1zM259.4 67.3h1v1h-1zM245.7 101.1h1v1h-1zM257.7 53.9h1v1h-1zM266.4 65.7h1v1h-1zM263.2 61.6h1v1h-1zM283.2 60h1v1h-1zM261.6 79.8h1v1h-1zM262.7 50.2h1v1h-1zM253.8 81h1v1h-1zM275.5 67.1h1v1h-1zM274.3 56.9h1v1h-1zM278.8 55.7h1v1h-1zM267.3 52.1h1v1h-1zM288.3 55h1v1h-1zM289.6 67.9h1v1h-1zM263.4 77h1v1h-1zM254.8 65.5h1v1h-1zM284.8 59.4h1v1h-1zM272.1 66.2h1v1h-1zM241.8 70.9h1v1h-1zM262.8 49.9h1v1h-1zM260.4 63.3h1v1h-1zM278.3 53.8h1v1h-1zM271.1 65.3h1v1h-1zM249.4 68.3h1v1h-1zM241.6 67h1v1h-1zM259.9 81.6h1v1h-1zM284.8 49.6h1v1h-1zM265.7 66.5h1v1h-1zM266.3 74.8h1v1h-1zM266 47.8h1v1h-1zM261.1 55.3h1v1h-1zM282.7 83.4h1v1h-1zM275.7 55.6h1v1h-1zM265.1 51.5h1v1h-1zM277.1 53.6h1v1h-1zM245.9 68.9h1v1h-1zM260.3 52.2h1v1h-1zM258.7 63h1v1h-1zM267.4 62.4h1v1h-1zM265.4 63.7h1v1h-1zM259.9 73.7h1v1h-1zM251.7 51.3h1v1h-1zM271.5 42.1h1v1h-1zM262.4 75.2h1v1h-1zM246 70.4h1v1h-1zM281.1 68.9h1v1h-1zM281.5 57.6h1v1h-1zM254.6 53.4h1v1h-1zM270.8 67h1v1h-1zM248.7 61.9h1v1h-1zM264.6 67.5h1v1h-1zM288.5 64.6h1v1h-1zM288.9 75h1v1h-1zM267.9 61.5h1v1h-1zM266 71.9h1v1h-1zM244.6 80.2h1v1h-1zM274.9 67.6h1v1h-1zM279 50.8h1v1h-1zM274 64.2h1v1h-1zM275.7 48.4h1v1h-1zM254.8 80.3h1v1h-1zM289.2 62.6h1v1h-1zM278.9 56.4h1v1h-1zM284.3 49.5h1v1h-1zM273.9 54.4h1v1h-1zM273.4 60.6h1v1h-1zM264.9 82.3h1v1h-1zM272.8 53.6h1v1h-1zM276.6 45.8h1v1h-1zM250.9 63.2h1v1h-1zM255.2 82h1v1h-1zM273.6 61.5h1v1h-1zM269.6 64.9h1v1h-1zM277.5 62.3h1v1h-1zM277.4 61h1v1h-1zM254.8 68.9h1v1h-1zM265.5 51.3h1v1h-1zM279 48.1h1v1h-1zM262 67.4h1v1h-1zM264.4 69.2h1v1h-1zM248.4 69.8h1v1h-1zM275.7 52.6h1v1h-1zM244.5 71h1v1h-1zM278.3 58.6h1v1h-1zM277.4 52.7h1v1h-1zM253.9 60.6h1v1h-1zM253 53.2h1v1h-1zM248.7 67.6h1v1h-1zM250.9 62.9h1v1h-1zM273.3 69.2h1v1h-1zM269.5 47.5h1v1h-1zM265.9 58.6h1v1h-1zM282 61.5h1v1h-1zM268.7 60.5h1v1h-1zM252.6 77.7h1v1h-1zM291.4 57.9h1v1h-1zM274.3 38.5h1v1h-1zM254.2 65.8h1v1h-1zM286.4 39.5h1v1h-1zM280.3 70.9h1v1h-1zM267.7 61h1v1h-1zM241.9 74h1v1h-1zM276.9 57.7h1v1h-1zM265.2 68.9h1v1h-1zM251.7 69h1v1h-1zM277.8 66.1h1v1h-1zM253.9 82.9h1v1h-1zM257.5 69.3h1v1h-1zM276.7 52.8h1v1h-1zM289.9 44.6h1v1h-1zM261.3 46.7h1v1h-1zM263.1 69.6h1v1h-1zM246.2 85.3h1v1h-1zM264.2 64.5h1v1h-1zM241.3 72.7h1v1h-1zM259.2 68.1h1v1h-1zM290.7 51h1v1h-1zM275.6 61.5h1v1h-1zM287.2 71.9h1v1h-1zM270.5 50.5h1v1h-1zM273.6 63.2h1v1h-1zM284 60.6h1v1h-1zM250.6 73.9h1v1h-1zM260.3 64.2h1v1h-1zM273.3 46.8h1v1h-1zM253.2 64.2h1v1h-1zM264.2 73h1v1h-1zM291.5 65.2h1v1h-1zM284.9 44.1h1v1h-1zM260.6 72.4h1v1h-1zM257.9 74.6h1v1h-1zM280.3 66.7h1v1h-1zM271.8 62.8h1v1h-1zM259.6 72.7h1v1h-1zM279.9 65.6h1v1h-1zM268.4 48.1h1v1h-1zM268.1 62.7h1v1h-1zM273.9 48.8h1v1h-1zM273.1 40.8h1v1h-1zM287.6 62h1v1h-1zM255 66.6h1v1h-1zM270.6 59h1v1h-1zM266.6 60.3h1v1h-1zM257.4 65.6h1v1h-1zM271.2 61.9h1v1h-1zM272.2 63.8h1v1h-1zM263.5 59.5h1v1h-1zM255.7 60.4h1v1h-1zM275.8 51.3h1v1h-1zM248.4 83.7h1v1h-1zM276.2 52.2h1v1h-1zM274.6 75.4h1v1h-1zM269.4 58.5h1v1h-1zM284.3 38.1h1v1h-1zM257.1 74.6h1v1h-1zM278.5 61.5h1v1h-1zM257.4 66.8h1v1h-1zM271.8 84h1v1h-1zM262.1 69.2h1v1h-1zM266.8 56.2h1v1h-1zM285.2 71.3h1v1h-1zM267.2 72.8h1v1h-1zM272.1 64.6h1v1h-1zM264.4 45h1v1h-1zM259.2 71.9h1v1h-1zM253.7 65.4h1v1h-1zM259.6 78.1h1v1h-1zM280.4 45.8h1v1h-1zM269 64.1h1v1h-1zM258.6 69.8h1v1h-1zM272.4 55.6h1v1h-1zM266 50.9h1v1h-1zM260.1 59.1h1v1h-1zM264.6 49.3h1v1h-1zM261.1 78h1v1h-1zM266.2 64.5h1v1h-1zM254.8 55.9h1v1h-1zM277.6 56.2h1v1h-1zM258.8 52.6h1v1h-1zM267.9 76.5h1v1h-1zM271.6 73.8h1v1h-1zM246.3 58.1h1v1h-1zM282 45.1h1v1h-1zM273.6 61.1h1v1h-1zM276.8 52.3h1v1h-1zM251.5 62.2h1v1h-1zM258.5 61.9h1v1h-1zM279.9 52h1v1h-1zM243.6 70.6h1v1h-1zM273.1 61.5h1v1h-1zM266.9 60.1h1v1h-1zM255.7 60.7h1v1h-1zM268.2 62.3h1v1h-1zM277.6 73.3h1v1h-1zM248.2 73.3h1v1h-1zM288.5 53.6h1v1h-1zM259 72.5h1v1h-1zM287.3 65.2h1v1h-1zM249.9 60h1v1h-1zM266.8 64.6h1v1h-1zM277.4 50.5h1v1h-1zM268.7 54.7h1v1h-1zM261.3 57.8h1v1h-1zM272.8 53.5h1v1h-1zM251 69.3h1v1h-1zM268 59.6h1v1h-1zM289.5 50.8h1v1h-1zM272.9 56.7h1v1h-1zM271.1 64.6h1v1h-1zM263.9 70.2h1v1h-1zM255.6 85.8h1v1h-1zM273.5 48.8h1v1h-1zM264.9 83.3h1v1h-1zM269.6 55.8h1v1h-1zM256 77.2h1v1h-1zM248.5 70.5h1v1h-1zM258.5 44.9h1v1h-1zM265.9 54.5h1v1h-1zM250.2 63.7h1v1h-1zM281.1 66.5h1v1h-1zM281.3 54.8h1v1h-1zM289.1 71.4h1v1h-1zM247.5 94.3h1v1h-1zM273.6 66.9h1v1h-1zM261 51h1v1h-1zM261.1 68.3h1v1h-1zM277.2 58.1h1v1h-1zM271.3 54.5h1v1h-1zM251.2 75.3h1v1h-1zM268 72.6h1v1h-1zM248.4 89.1h1v1h-1zM280.1 39.5h1v1h-1zM289.5 50.6h1v1h-1zM276.8 61.5h1v1h-1zM248.7 61.8h1v1h-1zM275.1 46.1h1v1h-1zM288 71.2h1v1h-1zM284.1 39.5h1v1h-1zM255.9 69.9h1v1h-1zM277.4 47.2h1v1h-1zM278.8 52.1h1v1h-1zM247.1 78.4h1v1h-1zM243.3 76.7h1v1h-1zM253 63.2h1v1h-1zM278.9 79.8h1v1h-1zM272.5 57.4h1v1h-1zM262.7 63.2h1v1h-1zM271.7 72.7h1v1h-1zM265.3 63.8h1v1h-1zM267.1 60.2h1v1h-1zM280.2 65.6h1v1h-1zM268.6 49.6h1v1h-1zM270 69.5h1v1h-1zM275.9 69.2h1v1h-1zM263.8 72.3h1v1h-1zM277.4 54.2h1v1h-1zM259.6 67.1h1v1h-1zM265.8 61.8h1v1h-1zM272.3 62.7h1v1h-1zM260.4 76.7h1v1h-1zM262.6 66.9h1v1h-1zM267.2 58h1v1h-1zM262.8 55.4h1v1h-1zM257.7 67.8h1v1h-1zM250.9 74.1h1v1h-1zM273.7 72.6h1v1h-1zM269.1 61.4h1v1h-1zM272.2 53.6h1v1h-1zM284.2 50.8h1v1h-1zM259.9 61.4h1v1h-1zM242.2 63.9h1v1h-1zM284.1 57.5h1v1h-1zM274.6 57h1v1h-1zM258.4 69.6h1v1h-1zM263.7 78.1h1v1h-1zM260.2 54.7h1v1h-1zM247.5 87.8h1v1h-1zM275.8 61.7h1v1h-1zM258.2 59.7h1v1h-1zM244.2 60h1v1h-1zM275.5 44.3h1v1h-1zM256 66.9h1v1h-1zM283.7 57.1h1v1h-1zM251.8 69.7h1v1h-1zM266.4 38.2h1v1h-1zM259 64h1v1h-1zM254.6 69.2h1v1h-1zM277.9 85.4h1v1h-1zM280.9 70h1v1h-1zM273.4 60.1h1v1h-1zM284 39.5h1v1h-1zM280.5 58.3h1v1h-1zM262.2 67.9h1v1h-1zM259.3 62.7h1v1h-1zM277.2 59.2h1v1h-1zM245.9 71.7h1v1h-1zM246.9 68.3h1v1h-1zM276.9 74.3h1v1h-1zM265.7 70.1h1v1h-1zM288.2 46h1v1h-1zM267.6 53.3h1v1h-1zM275.5 59.4h1v1h-1zM264.1 74.2h1v1h-1zM274.5 75.1h1v1h-1zM255 75.3h1v1h-1zM264.9 50.9h1v1h-1zM270.7 69.9h1v1h-1zM263.5 80.2h1v1h-1zM248.2 56.9h1v1h-1zM244.9 71.8h1v1h-1zM266 57.2h1v1h-1zM247 82.3h1v1h-1zM269.7 56.4h1v1h-1zM258.4 89.6h1v1h-1zM271.4 44.5h1v1h-1zM280.6 59.5h1v1h-1zM268.2 59.2h1v1h-1zM281.5 59.6h1v1h-1zM266.3 59.8h1v1h-1zM270.8 50.5h1v1h-1zM276.1 41.7h1v1h-1zM260.2 72.9h1v1h-1zM253.7 67h1v1h-1zM268.3 72.4h1v1h-1zM261.4 60.8h1v1h-1zM264.6 56.3h1v1h-1zM260.3 71.2h1v1h-1zM282.8 67.1h1v1h-1zM272.9 60.3h1v1h-1zM270.4 67.7h1v1h-1zM268.6 45.1h1v1h-1zM245.2 65.7h1v1h-1zM267.8 52.5h1v1h-1zM270.3 53.1h1v1h-1zM284.8 71.5h1v1h-1zM277.9 45h1v1h-1zM273.3 48.7h1v1h-1zM258.8 54.9h1v1h-1zM279 75h1v1h-1zM268.8 75.4h1v1h-1zM256 54.6h1v1h-1zM244.2 85.4h1v1h-1zM267 60.4h1v1h-1zM288.8 58.5h1v1h-1zM283 57.1h1v1h-1zM281.2 45h1v1h-1zM248.5 63.3h1v1h-1zM276.1 56.9h1v1h-1zM261 62h1v1h-1zM288.1 41h1v1h-1zM275.5 68.6h1v1h-1zM264.5 51.7h1v1h-1zM278.2 66h1v1h-1zM260.8 60.7h1v1h-1zM269.5 62.2h1v1h-1zM251.7 58.9h1v1h-1zM266.6 62.6h1v1h-1zM256.2 60.1h1v1h-1zM261.9 45.4h1v1h-1zM246.6 74.8h1v1h-1zM245.3 75.2h1v1h-1zM278.2 65.2h1v1h-1zM272 62.7h1v1h-1zM248.1 62.4h1v1h-1zM260.8 59.2h1v1h-1zM251.3 87.1h1v1h-1zM259.3 76h1v1h-1zM274.9 61.1h1v1h-1zM266.5 69.6h1v1h-1zM264.3 69.8h1v1h-1zM271.9 39.4h1v1h-1zM274.6 47.7h1v1h-1zM269.2 74.8h1v1h-1zM260.2 80.3h1v1h-1zM286 47.2h1v1h-1zM267.4 57.8h1v1h-1zM260.2 60.3h1v1h-1zM266.8 51.9h1v1h-1zM258.6 45.3h1v1h-1zM285.4 52.9h1v1h-1zM251 67h1v1h-1zM266.5 60.3h1v1h-1zM264.8 83.7h1v1h-1zM289.3 55.6h1v1h-1zM289.8 40.3h1v1h-1zM269 68h1v1h-1zM267.4 44.8h1v1h-1zM264.3 67.1h1v1h-1zM252.8 68.9h1v1h-1zM285.4 57.8h1v1h-1zM282.2 70h1v1h-1zM261.9 60.2h1v1h-1zM283.4 40.9h1v1h-1zM281.7 78h1v1h-1zM241.6 78.2h1v1h-1zM280.1 71.8h1v1h-1zM263 57.1h1v1h-1zM263.8 57h1v1h-1zM267.6 69.4h1v1h-1zM272.2 56h1v1h-1zM267.4 54.4h1v1h-1zM255 87.8h1v1h-1zM270.8 64h1v1h-1zM286.5 47.8h1v1h-1zM244.9 61.9h1v1h-1zM250.3 65.9h1v1h-1zM252.7 65.7h1v1h-1zM258 68.3h1v1h-1zM253.2 61.6h1v1h-1zM258.5 46h1v1h-1zM280.4 48h1v1h-1zM253.1 81.2h1v1h-1zM243.9 83.8h1v1h-1zM285.8 56.3h1v1h-1zM284.3 46.6h1v1h-1zM246.7 78.4h1v1h-1zM267.2 57.7h1v1h-1zM277.9 43.8h1v1h-1zM284.5 57.1h1v1h-1zM277.3 72.1h1v1h-1zM273.7 50.4h1v1h-1zM278.3 69.4h1v1h-1zM262.1 53.6h1v1h-1zM260.2 86.6h1v1h-1zM257.5 61.3h1v1h-1zM249.1 82.5h1v1h-1zM283.9 53.4h1v1h-1zM252 78.2h1v1h-1zM283.5 51.8h1v1h-1zM273.8 60.3h1v1h-1zM254.8 79.3h1v1h-1zM261.9 81h1v1h-1zM264.6 68.5h1v1h-1zM248.2 71.5h1v1h-1zM268.3 72.1h1v1h-1zM260.5 56.8h1v1h-1zM279.1 61.6h1v1h-1zM247.5 68.8h1v1h-1zM286.7 59.2h1v1h-1zM276.6 48.2h1v1h-1zM272.9 92.3h1v1h-1zM264.2 68.1h1v1h-1zM289.8 39.7h1v1h-1zM283.2 53.2h1v1h-1zM253 67.9h1v1h-1zM253.2 53.8h1v1h-1zM283.4 55.7h1v1h-1zM264.7 62.8h1v1h-1zM254.6 66.4h1v1h-1zM264.1 63.3h1v1h-1zM261 73.2h1v1h-1zM254.7 55.4h1v1h-1zM277.2 63h1v1h-1zM251.9 68h1v1h-1zM275.3 51.4h1v1h-1zM268.2 60h1v1h-1zM283.6 63.8h1v1h-1zM283.2 59h1v1h-1zM290.1 58.6h1v1h-1zM272.9 50.7h1v1h-1zM276.2 53.4h1v1h-1zM258.7 53.8h1v1h-1zM272.7 52.4h1v1h-1zM252.2 66.8h1v1h-1zM261.4 60.4h1v1h-1zM282 61.6h1v1h-1zM268.8 66.2h1v1h-1zM277.8 64.7h1v1h-1zM252.7 72.7h1v1h-1zM259.6 68.3h1v1h-1zM278.2 66.9h1v1h-1zM269.7 66.6h1v1h-1zM284.8 60.1h1v1h-1zM261.5 65h1v1h-1zM246.4 60.5h1v1h-1zM273.2 81.6h1v1h-1zM252.1 76.1h1v1h-1zM277.5 61.2h1v1h-1zM287.4 47.9h1v1h-1zM263.7 98.1h1v1h-1zM266 49.9h1v1h-1zM285 50.6h1v1h-1zM271.5 59h1v1h-1zM266.2 49.6h1v1h-1zM268.1 46.8h1v1h-1zM272.1 51h1v1h-1zM289.5 44.6h1v1h-1zM273.7 52.6h1v1h-1zM253.6 80.1h1v1h-1zM254.3 56.3h1v1h-1zM272.5 63.7h1v1h-1zM263.2 81.9h1v1h-1zM268.2 72.1h1v1h-1zM253.8 57.1h1v1h-1zM281.9 63.2h1v1h-1zM264.3 69.9h1v1h-1zM248.4 66.9h1v1h-1zM263.7 79.5h1v1h-1zM265.8 58.4h1v1h-1zM265.7 51h1v1h-1zM290.6 51.6h1v1h-1zM272.3 54.1h1v1h-1zM278.5 68h1v1h-1zM256.1 71.6h1v1h-1zM255.3 77.7h1v1h-1zM256.3 64.4h1v1h-1zM284.5 52.3h1v1h-1zM275.7 54.1h1v1h-1zM243.1 78.5h1v1h-1zM269.1 68.7h1v1h-1zM257.3 62.6h1v1h-1zM275.4 81.7h1v1h-1zM274.6 49.4h1v1h-1zM256.1 62.7h1v1h-1zM273 81.8h1v1h-1zM260.9 63.9h1v1h-1zM268.6 48.8h1v1h-1zM255.1 83.1h1v1h-1zM259 69.3h1v1h-1zM243.7 66.7h1v1h-1zM271.7 64.3h1v1h-1zM265.4 79.4h1v1h-1zM282.4 61h1v1h-1zM274.1 71.7h1v1h-1zM264.1 69.3h1v1h-1zM271 59.6h1v1h-1zM271 66.4h1v1h-1zM255.9 83.5h1v1h-1zM287.5 59.9h1v1h-1zM276.1 69.2h1v1h-1zM280 57h1v1h-1zM251.4 80.9h1v1h-1zM286.5 64.7h1v1h-1zM269.5 45.6h1v1h-1zM255.2 89.9h1v1h-1zM270.9 66.8h1v1h-1zM264.1 59h1v1h-1zM271.7 62.2h1v1h-1zM262.6 62.2h1v1h-1zM265.6 43.2h1v1h-1zM259.5 64.8h1v1h-1zM263.2 48h1v1h-1zM258.3 70.1h1v1h-1zM268.2 60.4h1v1h-1zM287.8 63h1v1h-1zM259.5 65.6h1v1h-1zM279 59.4h1v1h-1zM252.8 67.6h1v1h-1zM259.9 62.3h1v1h-1zM256.5 52.4h1v1h-1zM290.7 59.5h1v1h-1zM257 70.5h1v1h-1zM282 46.3h1v1h-1zM246.9 77.1h1v1h-1zM262.8 60.1h1v1h-1zM276.8 47.9h1v1h-1zM278.7 58.1h1v1h-1zM258.8 81.6h1v1h-1zM248 70.9h1v1h-1zM272.6 42.2h1v1h-1zM245.6 68.3h1v1h-1zM285.1 72.4h1v1h-1zM255.4 60h1v1h-1zM273.3 72.5h1v1h-1zM279 53.8h1v1h-1zM269.8 55.9h1v1h-1zM279 79.8h1v1h-1zM265.1 62h1v1h-1zM289.8 55.1h1v1h-1zM271.2 58.3h1v1h-1zM270.8 63.9h1v1h-1zM258.7 73h1v1h-1zM248.6 73.5h1v1h-1zM266.7 60.5h1v1h-1zM264.9 55.9h1v1h-1zM256.5 76.6h1v1h-1zM269 39.3h1v1h-1zM288.4 65.8h1v1h-1zM280.4 64.3h1v1h-1zM269.2 57.6h1v1h-1zM270.5 60.6h1v1h-1zM259.8 67.1h1v1h-1zM290.2 61.4h1v1h-1zM283 43.9h1v1h-1zM277.3 55.5h1v1h-1zM277.7 52.6h1v1h-1zM248.8 66.3h1v1h-1zM259.4 47h1v1h-1zM276.8 48.5h1v1h-1zM248.5 71.1h1v1h-1zM269.2 72.8h1v1h-1zM267.2 89.4h1v1h-1zM269.2 81.2h1v1h-1zM275.9 61.6h1v1h-1zM268.7 83.4h1v1h-1zM269.8 59.4h1v1h-1zM249.7 66.9h1v1h-1zM252.1 59h1v1h-1zM279.8 49.7h1v1h-1zM249.4 66.2h1v1h-1zM268.2 70.9h1v1h-1zM282.2 48.3h1v1h-1zM253.6 56.3h1v1h-1zM273.9 61h1v1h-1zM257.3 70.4h1v1h-1zM269.3 47.4h1v1h-1zM244.7 65.9h1v1h-1zM275.3 48.1h1v1h-1zM241.7 83.4h1v1h-1zM272.2 65h1v1h-1zM251.4 66.4h1v1h-1zM279.4 47.7h1v1h-1zM276.8 40.8h1v1h-1zM257.2 60.2h1v1h-1zM277.3 58.6h1v1h-1zM275 58.6h1v1h-1zM248.2 86.4h1v1h-1zM267 42.6h1v1h-1zM263.2 62.2h1v1h-1zM288.1 54.1h1v1h-1zM281.3 42.4h1v1h-1zM258.9 70.4h1v1h-1zM256 64.4h1v1h-1zM264 51.1h1v1h-1zM282.6 66h1v1h-1zM253.7 54.3h1v1h-1zM270.6 72h1v1h-1zM273.9 53.4h1v1h-1zM268.4 50.6h1v1h-1zM279.6 44.4h1v1h-1zM266.7 54h1v1h-1zM249.5 63.3h1v1h-1zM242.4 80.7h1v1h-1zM269.3 39.2h1v1h-1zM268.6 76h1v1h-1zM266.3 72.7h1v1h-1zM270 76.9h1v1h-1zM260.2 64.7h1v1h-1zM255.4 73.2h1v1h-1zM291.6 41.3h1v1h-1zM273.2 57.7h1v1h-1zM264.6 65.7h1v1h-1zM261.3 47.8h1v1h-1zM287.3 71.2h1v1h-1zM249.9 59.8h1v1h-1zM265 66.8h1v1h-1zM267.4 74.9h1v1h-1zM268.1 61.9h1v1h-1zM246.4 94.3h1v1h-1zM277.4 52.8h1v1h-1zM254.3 73.7h1v1h-1zM269.8 69.2h1v1h-1zM280.7 51.4h1v1h-1zM257.5 65.9h1v1h-1zM268 73.2h1v1h-1zM250.1 76h1v1h-1zM253.9 76.4h1v1h-1zM284.1 52.2h1v1h-1zM256.2 83.4h1v1h-1zM277.2 66.8h1v1h-1zM273.7 62.5h1v1h-1zM254.6 64.1h1v1h-1zM264.5 56.9h1v1h-1zM267.9 67.2h1v1h-1zM267 79.2h1v1h-1zM268 62.5h1v1h-1zM274.6 73.2h1v1h-1zM250.2 69.3h1v1h-1zM253.9 84.7h1v1h-1zM249.1 61.8h1v1h-1zM269.8 63.1h1v1h-1zM282 40.8h1v1h-1zM274.6 64.6h1v1h-1zM276.1 45.8h1v1h-1zM264.9 55.1h1v1h-1zM281.1 48.7h1v1h-1zM261.1 48.7h1v1h-1zM268 51.1h1v1h-1zM258.2 57.8h1v1h-1zM270.9 69.3h1v1h-1zM246.7 69.8h1v1h-1zM265.5 60.1h1v1h-1zM259.2 69.8h1v1h-1zM278.6 49.4h1v1h-1zM266.6 72.6h1v1h-1zM275.7 56.2h1v1h-1zM273.2 52.1h1v1h-1zM249.4 90.6h1v1h-1zM260.1 59.6h1v1h-1zM266.5 64.3h1v1h-1zM273.9 51.4h1v1h-1zM274 59.4h1v1h-1zM268.4 57.1h1v1h-1zM253.8 76.9h1v1h-1zM256.6 69.8h1v1h-1zM250.2 56.7h1v1h-1zM257.3 80.2h1v1h-1zM285.8 44.2h1v1h-1zM280.3 71.8h1v1h-1zM288.1 40.6h1v1h-1zM272.1 65.9h1v1h-1zM257.2 65.4h1v1h-1zM268.4 61.8h1v1h-1zM273 66.3h1v1h-1zM248.7 67.6h1v1h-1zM282.8 46.2h1v1h-1zM263 67.9h1v1h-1zM243.7 57.7h1v1h-1zM277 81h1v1h-1zM277.4 72.9h1v1h-1zM282.2 66.7h1v1h-1zM279.9 57.3h1v1h-1zM289.2 49.9h1v1h-1zM244.6 79.7h1v1h-1zM252.5 60.7h1v1h-1zM255.8 67.5h1v1h-1zM271.8 46.3h1v1h-1zM276.1 52.8h1v1h-1zM274.1 62.6h1v1h-1zM270.8 51h1v1h-1zM272.3 56h1v1h-1zM263.4 59.7h1v1h-1zM268 66.5h1v1h-1zM255.7 52.6h1v1h-1zM262.7 60.9h1v1h-1zM274.3 67.6h1v1h-1zM258.6 57.6h1v1h-1zM249.3 68.3h1v1h-1zM244.9 91.7h1v1h-1zM282.6 47.6h1v1h-1zM276.5 48.1h1v1h-1zM249.4 80.6h1v1h-1zM268.2 74.7h1v1h-1zM275.8 62.9h1v1h-1zM258.6 70.1h1v1h-1zM268.5 60h1v1h-1zM281.8 48.3h1v1h-1zM252.4 64.5h1v1h-1zM267.9 66.3h1v1h-1zM255.1 68.5h1v1h-1zM282.8 59.9h1v1h-1zM269.2 60.5h1v1h-1zM244.8 60h1v1h-1zM275.5 48h1v1h-1zM270.3 47.4h1v1h-1zM260.5 67.7h1v1h-1zM258.6 52.6h1v1h-1zM274 45.6h1v1h-1zM286.2 60.9h1v1h-1zM273.6 54.8h1v1h-1zM284.2 63.6h1v1h-1zM257.1 67.5h1v1h-1zM257.1 63.4h1v1h-1zM287.7 56.4h1v1h-1zM276.4 63.7h1v1h-1zM255 71.1h1v1h-1zM268.6 49.3h1v1h-1zM276.6 51.2h1v1h-1zM271 46.2h1v1h-1zM266.7 59.6h1v1h-1zM259.1 68.4h1v1h-1zM280.2 71.7h1v1h-1zM272.2 67.2h1v1h-1zM261.3 77.1h1v1h-1zM272.8 61.6h1v1h-1zM262.3 97.8h1v1h-1zM277.9 73.7h1v1h-1zM275.7 88.1h1v1h-1zM282.9 57.2h1v1h-1zM270.1 65.4h1v1h-1zM287.8 62h1v1h-1zM264.7 67.5h1v1h-1zM248.6 62.1h1v1h-1zM278.2 66.5h1v1h-1zM265.8 64.8h1v1h-1zM272.7 68.4h1v1h-1zM256.1 66.5h1v1h-1zM265.5 42.5h1v1h-1zM270 66.4h1v1h-1zM256.1 54.1h1v1h-1zM266.3 51.4h1v1h-1zM282.6 49.3h1v1h-1zM256.3 66h1v1h-1zM262.4 77.1h1v1h-1zM264.7 56.6h1v1h-1zM264 43h1v1h-1zM279.4 59.1h1v1h-1zM276.8 79.6h1v1h-1zM253.9 80.1h1v1h-1zM287.6 63.3h1v1h-1zM254.9 58.8h1v1h-1zM259.7 69.6h1v1h-1zM289.9 71.6h1v1h-1zM253.3 77.5h1v1h-1zM253 49.3h1v1h-1zM257.5 73.8h1v1h-1zM276.8 52.8h1v1h-1zM281.2 60.9h1v1h-1zM280.5 77.7h1v1h-1zM262.2 69.6h1v1h-1zM260.1 45.5h1v1h-1zM275.1 55.6h1v1h-1zM243.8 61.3h1v1h-1zM257.1 59h1v1h-1zM259.6 70.7h1v1h-1zM275.9 54.9h1v1h-1zM264.6 51.3h1v1h-1zM246.6 74.5h1v1h-1zM252.7 61.5h1v1h-1zM250.4 69.7h1v1h-1zM270.6 64.7h1v1h-1zM255.4 66.3h1v1h-1zM288.9 57.7h1v1h-1zM264.6 62.2h1v1h-1zM259.6 66.7h1v1h-1zM245.6 68.8h1v1h-1zM263.3 66.2h1v1h-1zM269.4 40h1v1h-1zM290.2 79.3h1v1h-1zM242.8 69.2h1v1h-1zM290.1 49.2h1v1h-1zM260 61h1v1h-1zM247.8 68.3h1v1h-1zM270.2 65h1v1h-1zM254.2 64.1h1v1h-1zM255.2 64.4h1v1h-1zM249.5 56.8h1v1h-1zM260 55.7h1v1h-1zM252.5 57.4h1v1h-1zM249.9 93.9h1v1h-1zM267 46.6h1v1h-1zM252.7 58.4h1v1h-1zM285.1 53.4h1v1h-1zM281.6 70h1v1h-1zM266.5 42.7h1v1h-1zM260.7 47.9h1v1h-1zM286.2 51.9h1v1h-1zM263 68.7h1v1h-1zM243.8 59.8h1v1h-1zM261.9 44.2h1v1h-1zM264.5 72.5h1v1h-1zM269.1 60.4h1v1h-1zM263.7 72.9h1v1h-1zM284.4 50.3h1v1h-1zM276.4 56h1v1h-1zM271 67h1v1h-1zM259.4 65.4h1v1h-1zM283.7 54.7h1v1h-1zM251.1 61.2h1v1h-1zM256.7 61.5h1v1h-1zM279.7 59.9h1v1h-1zM273.7 55.2h1v1h-1zM266.2 70.3h1v1h-1zM275.9 56.6h1v1h-1zM280.9 44.7h1v1h-1zM268.2 71.9h1v1h-1zM288.4 39.4h1v1h-1zM248 55.7h1v1h-1zM254.7 60.5h1v1h-1zM242.4 66.3h1v1h-1zM246.6 101.4h1v1h-1zM247.6 85.6h1v1h-1zM271.9 104.4h1v1h-1zM272 97.6h1v1h-1zM279.5 82.2h1v1h-1zM256 81.8h1v1h-1zM274.7 115h1v1h-1zM254.4 118.1h1v1h-1zM257.6 106.1h1v1h-1zM276.4 110h1v1h-1zM273.8 98h1v1h-1zM258 97.5h1v1h-1zM262.1 87.9h1v1h-1zM264.1 94.4h1v1h-1zM271.8 99.9h1v1h-1zM262.5 110.4h1v1h-1zM266.5 114.8h1v1h-1zM243.7 86.6h1v1h-1zM258.1 115h1v1h-1zM283.1 98.8h1v1h-1zM278.4 107.7h1v1h-1zM270.3 120.2h1v1h-1zM275 128h1v1h-1zM285.7 99.5h1v1h-1zM272.9 95h1v1h-1zM242.6 94.3h1v1h-1zM259.2 126.3h1v1h-1zM251.9 76.7h1v1h-1zM246.7 77.1h1v1h-1zM261.5 90.8h1v1h-1zM266.3 86.8h1v1h-1zM250.5 115.9h1v1h-1zM258.2 113h1v1h-1zM259.7 121.8h1v1h-1zM259.5 111.5h1v1h-1zM256.3 96.1h1v1h-1zM271.1 88.4h1v1h-1zM264.7 110.2h1v1h-1zM243.8 124h1v1h-1zM258.3 85h1v1h-1zM264.8 123.3h1v1h-1zM249.9 122.8h1v1h-1zM269.7 102h1v1h-1zM252 112.2h1v1h-1zM257.6 105.5h1v1h-1zM260.3 110.9h1v1h-1zM288.3 122h1v1h-1zM257.7 97.4h1v1h-1zM254.7 125.5h1v1h-1zM270.2 122.9h1v1h-1zM255.9 123.5h1v1h-1zM263.9 79.7h1v1h-1zM265.1 120.2h1v1h-1zM261.3 100.7h1v1h-1zM246.1 99.1h1v1h-1zM277.8 98h1v1h-1zM258.7 89.2h1v1h-1zM259.2 105.3h1v1h-1zM245.8 98.7h1v1h-1zM242.1 99.7h1v1h-1zM254.7 117h1v1h-1zM243.3 91.6h1v1h-1zM267.4 126.8h1v1h-1zM272 75.8h1v1h-1zM242.2 88.9h1v1h-1zM256.8 118.5h1v1h-1zM248.8 123.6h1v1h-1zM263.5 109.6h1v1h-1zM263.7 121h1v1h-1zM256.4 108h1v1h-1zM262.4 82.8h1v1h-1zM274 114.9h1v1h-1zM282 127.1h1v1h-1zM255.3 101.2h1v1h-1zM270.2 83.8h1v1h-1zM258.7 100.5h1v1h-1zM248.8 114.6h1v1h-1zM276.9 114.3h1v1h-1zM266.2 126.5h1v1h-1zM263.2 118.2h1v1h-1zM265.8 117.4h1v1h-1zM259.6 79.1h1v1h-1zM282.8 110.4h1v1h-1zM272.3 122.8h1v1h-1zM264.7 104.4h1v1h-1zM273.1 107.3h1v1h-1zM276.9 110.6h1v1h-1zM257.6 119.1h1v1h-1zM258.5 103.7h1v1h-1zM290.7 117.6h1v1h-1zM257.2 102.7h1v1h-1zM267.7 129.5h1v1h-1zM267.1 110.3h1v1h-1zM257.5 124.7h1v1h-1zM260.5 78h1v1h-1zM261.5 114.6h1v1h-1zM252.5 104.9h1v1h-1zM275.9 80.4h1v1h-1zM269 105.1h1v1h-1zM273.3 74.6h1v1h-1zM245.3 111.1h1v1h-1zM264.7 107.2h1v1h-1zM262.5 104.8h1v1h-1zM276.8 126.2h1v1h-1zM264.6 127.7h1v1h-1zM274.9 106h1v1h-1zM273.6 121.5h1v1h-1zM283.7 86.5h1v1h-1zM265.4 105.6h1v1h-1zM256.5 109.5h1v1h-1zM251 91.2h1v1h-1zM262.9 103.5h1v1h-1zM247.6 120.6h1v1h-1zM250.7 107.5h1v1h-1zM258.4 96.2h1v1h-1zM283.9 131.1h1v1h-1zM247.5 113h1v1h-1zM258.6 117.2h1v1h-1zM263.3 99.6h1v1h-1zM244.2 89.2h1v1h-1zM252.4 100.8h1v1h-1zM263.5 100.8h1v1h-1zM275.4 106.6h1v1h-1zM267.6 130.3h1v1h-1zM265.7 106.1h1v1h-1zM265.7 115.7h1v1h-1zM249.1 93.9h1v1h-1zM274.4 90.8h1v1h-1zM248.9 98.6h1v1h-1zM284.4 113.4h1v1h-1zM264.2 99.7h1v1h-1zM271.9 117.3h1v1h-1zM285.2 107.4h1v1h-1zM258.5 105.6h1v1h-1zM274.3 100.5h1v1h-1zM259 75.3h1v1h-1zM276.4 118.1h1v1h-1zM256.2 131.4h1v1h-1zM266.1 127.3h1v1h-1zM247.9 113.1h1v1h-1zM250.6 110.1h1v1h-1zM274.9 114.7h1v1h-1zM256.9 123.9h1v1h-1zM256.7 118.9h1v1h-1zM246.4 103.1h1v1h-1zM264 116.9h1v1h-1zM270.9 115.8h1v1h-1zM256 120.7h1v1h-1zM259.3 113.1h1v1h-1zM246.9 131.1h1v1h-1zM278.4 113.1h1v1h-1zM254.1 123.7h1v1h-1zM259.7 110.6h1v1h-1zM281.8 101.1h1v1h-1zM258.8 95.4h1v1h-1zM242.9 107.5h1v1h-1zM250.4 118.2h1v1h-1zM257.2 129.5h1v1h-1zM283 108.6h1v1h-1zM264.3 102h1v1h-1zM258.9 102.2h1v1h-1zM271.6 129.8h1v1h-1zM277.3 111.6h1v1h-1zM252.5 102.3h1v1h-1zM278.9 121.4h1v1h-1zM271.9 89.7h1v1h-1zM267 111.8h1v1h-1zM264 107.9h1v1h-1zM278.4 92.2h1v1h-1zM258.3 125.1h1v1h-1zM262.5 89.6h1v1h-1zM249.4 111.8h1v1h-1zM268.8 119.9h1v1h-1zM271.7 103.6h1v1h-1zM259 95.4h1v1h-1zM277.4 109.9h1v1h-1zM263.3 111.1h1v1h-1zM246.6 114.1h1v1h-1zM264.1 77.1h1v1h-1zM253.7 76.7h1v1h-1zM256.2 124h1v1h-1zM259.2 121.9h1v1h-1zM264.7 88.7h1v1h-1zM271 118h1v1h-1zM271 110.6h1v1h-1zM274.1 113.3h1v1h-1zM264.2 97.6h1v1h-1zM276.7 119.7h1v1h-1zM288.7 125.1h1v1h-1zM261 93.4h1v1h-1zM280.9 100.5h1v1h-1zM277.9 94h1v1h-1zM279.7 106.7h1v1h-1zM265.8 95.2h1v1h-1zM256.2 129.3h1v1h-1zM260 123.7h1v1h-1zM248.5 114.6h1v1h-1zM245.1 97.4h1v1h-1zM260.8 98.3h1v1h-1zM285.6 115.1h1v1h-1zM258.2 128.9h1v1h-1zM270.2 130h1v1h-1zM283.8 129.9h1v1h-1zM246.5 103.2h1v1h-1zM260.3 119.7h1v1h-1zM260.2 111.8h1v1h-1zM278 113.4h1v1h-1zM288 118.8h1v1h-1zM241.4 102h1v1h-1zM269.3 100.8h1v1h-1zM241.2 107.1h1v1h-1zM256.6 99.3h1v1h-1zM261.8 126.9h1v1h-1zM255.6 105.1h1v1h-1zM262.5 90.7h1v1h-1zM259.8 116.9h1v1h-1zM266.9 132.4h1v1h-1zM254 113.2h1v1h-1zM261.3 101.5h1v1h-1zM252.4 128.7h1v1h-1zM262.9 116.7h1v1h-1zM277.8 116.2h1v1h-1zM242.6 109.3h1v1h-1zM248.7 118.5h1v1h-1zM282.2 113h1v1h-1zM255.9 103.7h1v1h-1zM244.7 123.5h1v1h-1zM282 129.1h1v1h-1zM270.4 93h1v1h-1zM254.7 90.2h1v1h-1zM260.8 93.4h1v1h-1zM285.9 127.4h1v1h-1zM277.7 116.2h1v1h-1zM255.5 106.5h1v1h-1zM253.3 131.9h1v1h-1zM270.4 130.6h1v1h-1zM247.3 107.7h1v1h-1zM252.9 105.3h1v1h-1zM282.9 112.4h1v1h-1zM278.7 115.1h1v1h-1zM242.3 126h1v1h-1zM264.3 127.6h1v1h-1zM261.7 101.5h1v1h-1zM279.4 126.6h1v1h-1zM263.1 92.4h1v1h-1zM252.8 98.2h1v1h-1zM284.8 107.5h1v1h-1zM251.1 92.3h1v1h-1zM274.7 104.3h1v1h-1zM255.7 90.2h1v1h-1zM273.2 124.4h1v1h-1zM250 118.8h1v1h-1zM286.6 100.4h1v1h-1zM260.2 112h1v1h-1zM276.4 106.2h1v1h-1zM280 125.1h1v1h-1zM265.3 101.9h1v1h-1zM269 99.4h1v1h-1zM247.2 123.2h1v1h-1zM269.1 122.3h1v1h-1zM268.7 120h1v1h-1zM287.5 91.8h1v1h-1zM259.3 90.8h1v1h-1zM249 129.9h1v1h-1zM262.1 131.8h1v1h-1zM281.8 98h1v1h-1zM241.6 110.6h1v1h-1zM242.9 109.4h1v1h-1zM269.9 92.5h1v1h-1zM278.4 100.1h1v1h-1zM265.2 131.3h1v1h-1zM251.2 108.5h1v1h-1zM275.7 98.1h1v1h-1zM253.5 92.3h1v1h-1zM264.5 117.4h1v1h-1zM251.9 126h1v1h-1zM288.2 100.1h1v1h-1zM261.5 122.2h1v1h-1zM277.1 89.9h1v1h-1zM250.5 94.7h1v1h-1zM272.7 117.1h1v1h-1zM256.4 93.1h1v1h-1zM247.2 109.5h1v1h-1zM257.4 110.3h1v1h-1zM244.3 90.2h1v1h-1zM272.3 125.2h1v1h-1zM269.9 121.5h1v1h-1zM285.4 123.8h1v1h-1zM242.4 117.7h1v1h-1zM262.2 101.4h1v1h-1zM259 114.2h1v1h-1zM244 116.4h1v1h-1zM282.6 122.1h1v1h-1zM245.8 101.7h1v1h-1zM278.1 129.2h1v1h-1zM268.4 109.3h1v1h-1zM286.6 102.9h1v1h-1zM267.7 112.2h1v1h-1zM276.3 131.8h1v1h-1zM254.4 120h1v1h-1zM251.9 101.1h1v1h-1zM284.5 118.6h1v1h-1zM276.5 131.1h1v1h-1zM266 112.7h1v1h-1zM260.4 112.8h1v1h-1zM245.4 89h1v1h-1zM282.2 95.7h1v1h-1zM252.8 124.5h1v1h-1zM286.4 99.6h1v1h-1zM287.2 112.6h1v1h-1zM251.9 119h1v1h-1zM256.1 115.2h1v1h-1zM278 122.7h1v1h-1zM280.8 117.3h1v1h-1zM243.5 102.6h1v1h-1zM283.9 114.8h1v1h-1zM283.5 119.6h1v1h-1zM273.4 92.1h1v1h-1zM287.3 131.5h1v1h-1zM291.7 116.3h1v1h-1zM251.7 131.9h1v1h-1zM290 127h1v1h-1zM285.8 90.4h1v1h-1zM271.6 92.6h1v1h-1zM246.7 126.7h1v1h-1zM291 99.8h1v1h-1zM279.6 129.1h1v1h-1zM260.2 132.1h1v1h-1zM257.8 122.8h1v1h-1zM290.4 116.5h1v1h-1zM253 108.3h1v1h-1zM283.7 129h1v1h-1zM264.1 116.7h1v1h-1zM244.3 75.7h1v1h-1zM260.3 82.9h1v1h-1zM256.2 84.1h1v1h-1zM249.1 86.3h1v1h-1zM255.6 74.7h1v1h-1zM257.2 83.6h1v1h-1zM249.4 89.9h1v1h-1zM253.5 83h1v1h-1zM258.6 75.1h1v1h-1zM254.6 94h1v1h-1zM250.6 72.3h1v1h-1zM264.3 82.8h1v1h-1zM250.7 81.8h1v1h-1zM253.9 89h1v1h-1zM247.4 69h1v1h-1zM249.9 72.7h1v1h-1zM269.2 79.4h1v1h-1zM260.9 67.6h1v1h-1zM247.4 89.2h1v1h-1zM246.9 63.8h1v1h-1zM250.1 73.4h1v1h-1zM267.9 68.2h1v1h-1zM251.7 74.8h1v1h-1zM259.1 86.5h1v1h-1zM247 84.9h1v1h-1zM260.8 84.9h1v1h-1zM249.4 63.8h1v1h-1zM243.6 82.5h1v1h-1zM244.4 65.3h1v1h-1zM244.5 76h1v1h-1zM245.1 76.9h1v1h-1zM259.8 84h1v1h-1zM253.1 73.6h1v1h-1zM257.9 94h1v1h-1zM247.2 84.9h1v1h-1zM252.8 89.5h1v1h-1zM251.4 86.1h1v1h-1zM259.6 87.2h1v1h-1zM256.6 79.7h1v1h-1zM252.9 95.8h1v1h-1zM244.7 71.6h1v1h-1zM243.5 80.1h1v1h-1zM244.8 78.3h1v1h-1zM245.6 82.6h1v1h-1zM263.5 87h1v1h-1zM252.2 86.4h1v1h-1zM241.1 86h1v1h-1zM251.9 65.6h1v1h-1zM258.7 75.4h1v1h-1zM242 78.2h1v1h-1zM255 100.1h1v1h-1zM247.8 78.2h1v1h-1zM259.3 88.3h1v1h-1zM261.1 86.8h1v1h-1zM252.5 97h1v1h-1zM255.8 81h1v1h-1zM250 85.3h1v1h-1zM247 78.5h1v1h-1zM252.7 72h1v1h-1zM249.4 73.8h1v1h-1zM246.9 91.5h1v1h-1zM249.4 82.4h1v1h-1zM248.5 78.8h1v1h-1zM241.6 80.2h1v1h-1zM245.7 75.6h1v1h-1zM259.3 79.8h1v1h-1zM248.1 79.7h1v1h-1zM261.3 85.3h1v1h-1zM251 81.9h1v1h-1zM256.3 91.1h1v1h-1zM244.7 71.9h1v1h-1zM255.1 78.1h1v1h-1zM257.6 81.4h1v1h-1zM258.7 88.9h1v1h-1zM249.1 84.9h1v1h-1zM249.6 78.3h1v1h-1zM250.2 88.4h1v1h-1zM252.3 83.2h1v1h-1zM261.5 95h1v1h-1zM243.1 71.7h1v1h-1zM241.9 73.8h1v1h-1zM257.3 79h1v1h-1zM241.2 85.1h1v1h-1zM266.7 82.9h1v1h-1zM255.3 93.8h1v1h-1zM249.5 92h1v1h-1zM256.9 74h1v1h-1zM254.5 76.7h1v1h-1zM248.2 85.6h1v1h-1zM243.6 80.8h1v1h-1zM256.7 85.1h1v1h-1zM249.9 82.1h1v1h-1zM256.6 75.1h1v1h-1zM253.2 93.7h1v1h-1zM246.2 89.3h1v1h-1zM261.7 67.7h1v1h-1zM246 75.2h1v1h-1zM253.5 80.3h1v1h-1zM244.9 85.6h1v1h-1zM248.1 79.5h1v1h-1zM248 69.2h1v1h-1zM244.7 86.8h1v1h-1zM251.9 78.5h1v1h-1zM260.6 89.8h1v1h-1zM265 82.6h1v1h-1zM261.6 88.1h1v1h-1zM248.6 86.8h1v1h-1zM261.8 87.2h1v1h-1zM253.4 76.1h1v1h-1zM264.5 88.4h1v1h-1zM262 70.2h1v1h-1zM245.2 77h1v1h-1zM259.3 77.5h1v1h-1zM246.2 83.9h1v1h-1zM257.4 85.6h1v1h-1zM247.7 71.2h1v1h-1zM242.2 79.6h1v1h-1zM248.1 71.7h1v1h-1zM250.2 86.8h1v1h-1zM244.1 86.2h1v1h-1zM248.3 87.4h1v1h-1zM251.8 74.9h1v1h-1zM243.4 88.6h1v1h-1zM252.4 76h1v1h-1zM247.3 96.1h1v1h-1zM257.2 79.7h1v1h-1zM245.8 82h1v1h-1zM255.2 61.1h1v1h-1zM242.8 85.3h1v1h-1zM252.2 75.3h1v1h-1zM250.7 83.7h1v1h-1zM253.6 66.5h1v1h-1zM242.5 89.4h1v1h-1zM249 91.8h1v1h-1zM243.2 95.3h1v1h-1zM248.7 56.6h1v1h-1zM255 84.9h1v1h-1zM274.1 83h1v1h-1zM250.3 56.1h1v1h-1zM255.8 74.4h1v1h-1zM250.9 79.6h1v1h-1zM259.1 91.6h1v1h-1zM253.7 73.6h1v1h-1zM258.4 81.9h1v1h-1zM252.9 79.8h1v1h-1zM269.3 83.2h1v1h-1zM261.1 77.1h1v1h-1zM252.4 88h1v1h-1zM250.6 69.4h1v1h-1zM243.1 74.3h1v1h-1zM246.3 78.1h1v1h-1zM244.1 89.3h1v1h-1zM251.1 81.1h1v1h-1zM256 86.6h1v1h-1zM256.3 85.1h1v1h-1zM252.9 76h1v1h-1zM247.4 72.7h1v1h-1zM250.1 85.8h1v1h-1zM246.3 86.4h1v1h-1zM259.2 83.2h1v1h-1zM254.1 78.8h1v1h-1zM266.1 87.2h1v1h-1zM247.1 80.2h1v1h-1zM261.7 69.4h1v1h-1zM245.4 82.6h1v1h-1zM248.7 84.4h1v1h-1zM241.7 86.6h1v1h-1zM254.2 73.3h1v1h-1zM249.6 74.4h1v1h-1zM255 83h1v1h-1zM262 76.8h1v1h-1zM249.6 79.9h1v1h-1zM253.1 87.9h1v1h-1zM257.3 83.6h1v1h-1zM249.6 95h1v1h-1zM287.1 70.8h1v1h-1zM284.3 81.3h1v1h-1zM247.1 75.4h1v1h-1zM286.6 68h1v1h-1zM260.4 64.8h1v1h-1zM264.5 53.1h1v1h-1zM249 75.3h1v1h-1zM261.9 50.6h1v1h-1zM286.6 48.8h1v1h-1zM287.3 56.8h1v1h-1zM250.7 87.6h1v1h-1zM273.8 59.5h1v1h-1zM266.8 59.2h1v1h-1zM281 76.7h1v1h-1zM254.2 70h1v1h-1zM271 74.5h1v1h-1zM250.9 79.7h1v1h-1zM255.3 54h1v1h-1zM273.7 56.7h1v1h-1zM258.2 81.2h1v1h-1zM252.1 58.3h1v1h-1zM257.4 64.6h1v1h-1zM279.9 80h1v1h-1zM262.3 70.2h1v1h-1zM271.7 83.8h1v1h-1zM272.8 69.7h1v1h-1zM243.2 64.5h1v1h-1zM243.9 59.7h1v1h-1zM252.1 54.2h1v1h-1zM281.3 58.1h1v1h-1zM249.9 79.3h1v1h-1zM262.4 62.9h1v1h-1zM291.7 50.6h1v1h-1zM252.9 73.3h1v1h-1zM248.5 79.3h1v1h-1zM255.1 59.5h1v1h-1zM268.1 46.3h1v1h-1zM286.8 75.7h1v1h-1zM242.6 73.2h1v1h-1zM268.1 73.3h1v1h-1zM291.6 45.7h1v1h-1zM264.3 86.4h1v1h-1zM275.5 66.6h1v1h-1zM254.2 52.5h1v1h-1zM265.2 42.4h1v1h-1zM283 62.8h1v1h-1zM247 55.6h1v1h-1zM256.5 70.6h1v1h-1zM282.9 48.6h1v1h-1zM286.9 85.5h1v1h-1zM279.2 51.1h1v1h-1zM253.5 82.7h1v1h-1zM257.1 57h1v1h-1zM278.5 54h1v1h-1zM263.7 76.4h1v1h-1zM258.7 64.3h1v1h-1zM291.8 46.7h1v1h-1zM254.1 80.3h1v1h-1zM280.8 66.4h1v1h-1zM250 67.3h1v1h-1zM287.5 58.1h1v1h-1zM255.5 79.6h1v1h-1zM288 69.5h1v1h-1zM277.2 43.5h1v1h-1zM285.6 82.5h1v1h-1zM273.5 67.2h1v1h-1zM261.3 42h1v1h-1zM290.9 42h1v1h-1zM268.2 52.3h1v1h-1zM267.6 65.3h1v1h-1zM263.3 50.8h1v1h-1zM255.3 77.8h1v1h-1zM256.7 65.3h1v1h-1zM251.4 60.6h1v1h-1zM254.4 60.6h1v1h-1zM279.2 65.8h1v1h-1zM286.6 51.2h1v1h-1zM252.2 55.5h1v1h-1zM243.9 64.5h1v1h-1zM260.6 70.5h1v1h-1zM246.5 55.7h1v1h-1zM262.7 74.6h1v1h-1zM254 57.2h1v1h-1zM270.4 83.9h1v1h-1zM278.8 47.1h1v1h-1zM285.7 67.7h1v1h-1zM277.5 57h1v1h-1zM283.2 61.8h1v1h-1zM291.7 45.6h1v1h-1zM261.5 56.2h1v1h-1zM249.7 72.5h1v1h-1zM264.7 77.2h1v1h-1zM276.4 77.7h1v1h-1zM283.4 83.8h1v1h-1zM249.5 58.4h1v1h-1zM267.7 70.7h1v1h-1zM244.9 85.9h1v1h-1zM270.2 64h1v1h-1zM285.1 65h1v1h-1zM258.6 71.5h1v1h-1zM275.6 41.5h1v1h-1zM273.3 80.8h1v1h-1zM274.9 60h1v1h-1zM250.3 76.2h1v1h-1zM267 46.4h1v1h-1zM243.8 63.6h1v1h-1zM262 67.3h1v1h-1zM243.7 77.1h1v1h-1zM290.2 68.6h1v1h-1zM258.6 69.9h1v1h-1zM253.6 84.4h1v1h-1zM287 53h1v1h-1zM263 61.5h1v1h-1zM267.1 82.3h1v1h-1zM285.3 61.9h1v1h-1zM267.7 68.4h1v1h-1zM261 64.3h1v1h-1zM278.6 86.7h1v1h-1zM256.4 72.6h1v1h-1zM248.7 77.1h1v1h-1zM277.6 41.5h1v1h-1zM266.4 58.9h1v1h-1zM291.9 75.9h1v1h-1zM268.8 48.1h1v1h-1zM286.7 77.4h1v1h-1zM243.2 84.2h1v1h-1zM242.2 76.5h1v1h-1zM258.9 74.7h1v1h-1zM283.6 53.2h1v1h-1zM265.2 45.8h1v1h-1zM272.1 85.1h1v1h-1zM259.5 60.2h1v1h-1zM258.6 83.3h1v1h-1zM257.9 72h1v1h-1zM255.5 84.7h1v1h-1zM275.5 78.4h1v1h-1zM256.7 75.5h1v1h-1zM287.9 67h1v1h-1zM271.1 47.8h1v1h-1zM256 84.6h1v1h-1zM250.3 58.7h1v1h-1zM279.5 76.1h1v1h-1zM253.9 86.8h1v1h-1zM269.5 50.9h1v1h-1zM263.1 43.2h1v1h-1zM285.2 60.7h1v1h-1zM267.1 79.6h1v1h-1zM256.8 78.4h1v1h-1zM249.7 68.3h1v1h-1zM250.7 51.8h1v1h-1zM274.9 47.1h1v1h-1zM278.9 47.5h1v1h-1zM271.4 46.4h1v1h-1zM277.3 41.7h1v1h-1zM279.2 64.2h1v1h-1zM270.2 56.4h1v1h-1zM250.6 56.9h1v1h-1zM273.7 53.2h1v1h-1zM242.2 78h1v1h-1zM265.3 53.9h1v1h-1zM276.5 53.6h1v1h-1zM275.1 52h1v1h-1zM257.9 56.6h1v1h-1zM270.8 58.2h1v1h-1zM277.3 50.9h1v1h-1zM267.1 70.2h1v1h-1zM246.8 83.6h1v1h-1zM285.4 82.4h1v1h-1zM245.5 63.7h1v1h-1zM251.1 75.1h1v1h-1zM280.8 50.3h1v1h-1zM248.3 83.6h1v1h-1zM260 62.7h1v1h-1zM248.7 75.6h1v1h-1zM243.1 79h1v1h-1zM280.5 73.7h1v1h-1zM249.8 61.7h1v1h-1zM287.6 58.2h1v1h-1zM255 81.5h1v1h-1zM270.1 73.3h1v1h-1zM265.4 80h1v1h-1zM265.8 53.7h1v1h-1zM271.6 80.8h1v1h-1zM288.2 47.2h1v1h-1zM287.4 81.2h1v1h-1zM252.1 82.7h1v1h-1zM274.3 63.7h1v1h-1zM262.9 83.8h1v1h-1zM280.6 44.3h1v1h-1zM267.6 47.2h1v1h-1zM284.5 86.6h1v1h-1zM248.9 85.1h1v1h-1zM254.5 73.3h1v1h-1zM268.8 56.1h1v1h-1zM273.4 74.3h1v1h-1zM282 57h1v1h-1zM260.3 80.9h1v1h-1zM288.6 51h1v1h-1zM288.5 46.2h1v1h-1zM243.2 63.6h1v1h-1z" fill="#000"/>
<path d="M242.5 67.5 L243.5 75.5 L247 79.5 L252.5 80.3 L262 77 L271.3 71.5 L281 63 L285.8 54.5 L286 48.2 L281 46 L271 48.5 L259 53.5 L250 59 L244.5 63.5 Z" fill="#2a2a2a" stroke="#2a2a2a" stroke-width="1.2" stroke-linejoin="round" />
<line x1="232.5" y1="19.6" x2="232.5" y2="133.9" stroke="#000" stroke-width="1.2" />
<line x1="200.2" y1="88.5" x2="329.4" y2="88.5" stroke="#000" stroke-width="1.3" />
<path d="M138 182.6h1v1h-1zM123.8 204.8h1v1h-1zM147.1 180.2h1v1h-1zM141.6 184.6h1v1h-1zM107 226.7h1v1h-1zM116.6 208.7h1v1h-1zM146.7 196.7h1v1h-1zM134.1 200.8h1v1h-1zM135.1 186.7h1v1h-1zM105.6 207.2h1v1h-1zM145.1 190.2h1v1h-1zM147.5 181.3h1v1h-1zM135.7 192.4h1v1h-1zM142.9 178.2h1v1h-1zM109.7 209.6h1v1h-1zM119.1 197.1h1v1h-1zM146.3 197.3h1v1h-1zM142.7 194.9h1v1h-1zM125.7 198.7h1v1h-1zM109.2 231.4h1v1h-1zM106.4 210.4h1v1h-1zM122.5 210h1v1h-1zM135.2 196.9h1v1h-1zM139.6 182.3h1v1h-1zM146.4 177.9h1v1h-1zM114.7 206.9h1v1h-1zM145.7 181.8h1v1h-1zM127 209.3h1v1h-1zM114.4 220.4h1v1h-1zM146.9 182.9h1v1h-1zM104.9 231h1v1h-1zM117.2 199.6h1v1h-1zM145.3 194.9h1v1h-1zM131.3 196.1h1v1h-1zM132.5 186.7h1v1h-1zM123.7 201.8h1v1h-1zM113 211.2h1v1h-1zM116.8 212.1h1v1h-1zM134.9 194.8h1v1h-1zM116.9 196.4h1v1h-1zM130.1 205.8h1v1h-1zM137.4 201.2h1v1h-1zM119.4 202.1h1v1h-1zM147 189.7h1v1h-1zM132.3 203.5h1v1h-1zM144.1 189.7h1v1h-1zM112.5 226.4h1v1h-1zM114.7 204.7h1v1h-1zM116.2 216.7h1v1h-1zM142.6 178.2h1v1h-1zM133.4 209.5h1v1h-1zM143.8 177.2h1v1h-1zM122.5 197.6h1v1h-1zM145.2 189.2h1v1h-1zM145.5 185.7h1v1h-1zM148 179.3h1v1h-1zM111.7 217.6h1v1h-1zM146.3 184.8h1v1h-1zM117.1 222.2h1v1h-1zM132.2 190.8h1v1h-1zM127.1 197.2h1v1h-1zM109.8 215h1v1h-1zM99.7 228.7h1v1h-1zM99.6 229.3h1v1h-1zM94.3 226.4h1v1h-1zM121.2 208.8h1v1h-1zM124.1 195.8h1v1h-1zM98.6 228.2h1v1h-1zM94.2 233.3h1v1h-1zM95.6 231.9h1v1h-1zM131.3 206h1v1h-1zM145.8 192h1v1h-1zM151.2 182.8h1v1h-1zM127.3 210.8h1v1h-1zM134 191.8h1v1h-1zM122.1 215.1h1v1h-1zM106.4 221.9h1v1h-1zM131.1 198.1h1v1h-1zM116 214h1v1h-1zM119.2 200.3h1v1h-1zM107.2 217.5h1v1h-1zM132.3 194.4h1v1h-1zM152.3 177.1h1v1h-1zM136.3 190.4h1v1h-1zM106.4 216.8h1v1h-1zM107.1 214h1v1h-1zM108.8 219.8h1v1h-1zM144 175.5h1v1h-1zM115.4 205.3h1v1h-1zM109.1 218.7h1v1h-1zM138.1 190.5h1v1h-1zM105.6 217.7h1v1h-1zM97.8 219.6h1v1h-1zM117.3 212.7h1v1h-1zM109.1 224.8h1v1h-1zM115.9 209.6h1v1h-1zM129.9 195.4h1v1h-1zM105 208.6h1v1h-1zM134.5 199h1v1h-1zM142.2 178.1h1v1h-1zM120.9 211.9h1v1h-1zM105.5 219.3h1v1h-1zM130.3 196.5h1v1h-1zM120.4 206.5h1v1h-1zM108.4 208.5h1v1h-1zM108.5 210h1v1h-1zM125.6 203.1h1v1h-1zM107.6 215.7h1v1h-1zM143.6 182.1h1v1h-1zM131.2 205.4h1v1h-1zM140.1 175.2h1v1h-1zM108.1 219.5h1v1h-1zM136.3 194.4h1v1h-1zM137.4 190.8h1v1h-1zM104.7 226.5h1v1h-1zM112.9 210.7h1v1h-1zM130.8 186.2h1v1h-1zM112.7 207.2h1v1h-1zM104.8 221.2h1v1h-1zM104.5 229h1v1h-1zM114.4 214.5h1v1h-1zM135.3 202.6h1v1h-1zM103.9 225.4h1v1h-1zM102.5 227.5h1v1h-1zM148.4 180h1v1h-1zM105.5 211.9h1v1h-1zM131.6 199.8h1v1h-1zM140.8 179.3h1v1h-1zM138.2 186.8h1v1h-1zM139.9 202.7h1v1h-1zM119.2 201h1v1h-1zM134.3 194.1h1v1h-1zM118.3 211.8h1v1h-1zM130.4 198.1h1v1h-1zM129.2 198.6h1v1h-1zM97.2 228.1h1v1h-1zM104.1 237.5h1v1h-1zM131.5 183.2h1v1h-1zM119.8 201.7h1v1h-1zM134.3 202.9h1v1h-1zM139.5 191.5h1v1h-1zM119.4 203.7h1v1h-1zM104.3 218.6h1v1h-1zM129.9 196.2h1v1h-1zM117.2 228.1h1v1h-1zM127.8 203.3h1v1h-1zM95.7 226.7h1v1h-1zM144.4 184.3h1v1h-1zM101.7 223h1v1h-1zM149.6 187h1v1h-1zM146 183.1h1v1h-1zM131 204.9h1v1h-1zM131.5 197.2h1v1h-1zM122.3 219h1v1h-1zM93.3 238.5h1v1h-1zM130.9 198.7h1v1h-1zM105.2 216.9h1v1h-1zM112.2 213.5h1v1h-1zM98.3 233.1h1v1h-1zM130.2 194.3h1v1h-1zM141.1 202.3h1v1h-1zM152.2 174.7h1v1h-1zM106.3 217.4h1v1h-1zM145.3 188.3h1v1h-1zM125.6 198.8h1v1h-1zM100.2 231.3h1v1h-1zM117.1 210.5h1v1h-1zM144.4 191.8h1v1h-1zM135.5 192.6h1v1h-1zM138.6 195.9h1v1h-1zM145.7 179.3h1v1h-1zM122.4 196.4h1v1h-1zM103.8 216.8h1v1h-1zM98.5 227h1v1h-1zM129 197.6h1v1h-1zM107.4 221.5h1v1h-1zM148.2 182.2h1v1h-1zM142.3 176.9h1v1h-1zM121.9 207.6h1v1h-1zM128.9 191h1v1h-1zM104.6 219.7h1v1h-1zM145.3 198.5h1v1h-1zM132.5 203.5h1v1h-1zM132.3 193h1v1h-1zM130.8 208.6h1v1h-1zM145.8 190.5h1v1h-1zM108.2 226.1h1v1h-1zM137.1 188.8h1v1h-1zM116.4 211h1v1h-1zM113.5 209.3h1v1h-1zM106.8 225.6h1v1h-1zM122.1 197.8h1v1h-1zM149.3 174.5h1v1h-1zM128.6 202.2h1v1h-1zM114.3 210.8h1v1h-1zM125.4 204.8h1v1h-1zM129.1 210.6h1v1h-1zM124.3 197.3h1v1h-1zM127.5 209.5h1v1h-1zM136.7 186.4h1v1h-1zM134.1 187.4h1v1h-1zM96 234.4h1v1h-1zM146.5 187.2h1v1h-1zM119.7 203.8h1v1h-1zM120.7 202.6h1v1h-1zM123.6 201.5h1v1h-1zM143.6 179h1v1h-1zM103.4 226.5h1v1h-1zM140.4 182.3h1v1h-1zM139.4 186.4h1v1h-1zM127 203.2h1v1h-1zM115.5 210h1v1h-1zM130.1 205.1h1v1h-1zM129.5 193.9h1v1h-1zM118.6 204.6h1v1h-1zM139.9 197.3h1v1h-1zM125.4 203h1v1h-1zM149 183.5h1v1h-1zM95.8 235.4h1v1h-1zM139.7 184.3h1v1h-1zM127.9 204.3h1v1h-1zM106.8 223.8h1v1h-1zM136.9 198.9h1v1h-1zM104 212.8h1v1h-1zM132.4 200.5h1v1h-1zM131.2 197.6h1v1h-1zM146.5 176.1h1v1h-1zM133.8 191.1h1v1h-1zM126.1 199.2h1v1h-1zM129.8 189.4h1v1h-1zM132 192h1v1h-1zM102.3 231.5h1v1h-1zM107.4 211.3h1v1h-1zM98.8 227.6h1v1h-1zM87.7 226.2h1v1h-1zM114.2 210.4h1v1h-1zM101.4 229.9h1v1h-1zM104.4 223.9h1v1h-1zM109.7 219.1h1v1h-1zM125.3 195.4h1v1h-1zM122.6 209.1h1v1h-1zM94.8 228.3h1v1h-1zM143.7 184.9h1v1h-1zM131 194.2h1v1h-1zM144.7 192.2h1v1h-1zM135.6 189.4h1v1h-1zM108.8 226.4h1v1h-1zM135.5 192.7h1v1h-1zM110.9 217.5h1v1h-1zM110.8 224.2h1v1h-1zM109.2 222.1h1v1h-1zM145.9 181.2h1v1h-1zM121.2 206.1h1v1h-1zM139.4 189.4h1v1h-1zM152.3 175.2h1v1h-1zM139.5 185.7h1v1h-1zM121.2 200.1h1v1h-1zM121.9 189.4h1v1h-1zM130.3 196.8h1v1h-1zM97.2 230.1h1v1h-1zM141.6 193.6h1v1h-1zM141.2 189.1h1v1h-1zM112.7 223h1v1h-1zM127.8 211.3h1v1h-1zM138.1 188.7h1v1h-1zM117.8 215.7h1v1h-1zM139.4 184.2h1v1h-1zM100.2 227h1v1h-1zM133.9 203.1h1v1h-1zM108.2 223.8h1v1h-1zM144.5 189.8h1v1h-1zM110.6 209.2h1v1h-1zM97.9 231.2h1v1h-1zM119.5 215.8h1v1h-1zM131.3 188.1h1v1h-1zM139.5 189.2h1v1h-1zM117.7 213.1h1v1h-1zM128 184.9h1v1h-1zM105.2 233.8h1v1h-1zM122.4 201h1v1h-1zM143.6 182.8h1v1h-1zM109.5 229.9h1v1h-1zM105.5 211.6h1v1h-1zM122.1 208.9h1v1h-1zM102.4 223.4h1v1h-1zM120.8 207.5h1v1h-1zM114.3 208.7h1v1h-1zM131 205.6h1v1h-1zM82.4 239.8h1v1h-1zM139.8 189.9h1v1h-1zM125.6 205.9h1v1h-1zM99.3 229h1v1h-1zM134.2 191.7h1v1h-1zM95.4 231.8h1v1h-1zM112.5 222.6h1v1h-1zM144.8 185.4h1v1h-1zM106.9 221.2h1v1h-1zM142 178.2h1v1h-1zM108.7 220.9h1v1h-1zM133.7 197.4h1v1h-1zM99.3 229.4h1v1h-1zM153.2 183h1v1h-1zM135.2 180h1v1h-1zM141.3 202.2h1v1h-1zM111.9 215.3h1v1h-1zM120.3 200.5h1v1h-1zM124.9 191.7h1v1h-1zM113.4 220.6h1v1h-1zM131 200.5h1v1h-1zM139.8 186.1h1v1h-1zM105.6 222.7h1v1h-1zM112.5 217h1v1h-1zM148.4 175.9h1v1h-1zM150.5 184h1v1h-1zM93 240.2h1v1h-1zM103.7 224.3h1v1h-1zM130 187.1h1v1h-1zM141.8 194.4h1v1h-1zM98.5 223.7h1v1h-1zM137.3 198.7h1v1h-1zM130.3 200.7h1v1h-1zM140 174.3h1v1h-1zM119.9 197.4h1v1h-1zM101.5 224.8h1v1h-1zM93.3 227.7h1v1h-1zM121.4 205.7h1v1h-1zM105.8 239.7h1v1h-1zM137.3 209.5h1v1h-1zM126.7 200.9h1v1h-1zM130.8 202.2h1v1h-1zM134.2 199.2h1v1h-1zM91.8 236.6h1v1h-1zM132.9 185.2h1v1h-1zM103.3 232.5h1v1h-1zM125.3 201.6h1v1h-1zM109.1 222.4h1v1h-1zM122.1 210.6h1v1h-1zM138 184.2h1v1h-1zM151.7 186.2h1v1h-1zM140.8 187h1v1h-1zM131 198.2h1v1h-1zM122.4 202.8h1v1h-1zM146.6 185.2h1v1h-1zM103 232.4h1v1h-1zM104 221.2h1v1h-1zM134.3 197h1v1h-1zM132.2 192.7h1v1h-1zM115.6 204.8h1v1h-1zM111.8 214.5h1v1h-1zM155.8 175.1h1v1h-1zM110.6 221.5h1v1h-1zM111.3 224.2h1v1h-1zM148.3 174.4h1v1h-1zM143.2 182.2h1v1h-1zM133.1 195h1v1h-1zM151.3 179.8h1v1h-1zM148.7 177.6h1v1h-1zM113 209.2h1v1h-1zM104.5 214.2h1v1h-1zM133.1 202.3h1v1h-1zM122.4 212.7h1v1h-1zM113.2 210.9h1v1h-1zM129.3 208.1h1v1h-1zM145.8 181.1h1v1h-1zM126.3 204.6h1v1h-1zM120.9 215.5h1v1h-1zM104.3 221.3h1v1h-1zM140.1 182.3h1v1h-1zM129.3 187.3h1v1h-1zM111.6 218.9h1v1h-1zM144.8 185.4h1v1h-1zM99.1 235.5h1v1h-1zM105.8 226.8h1v1h-1zM115.4 213.7h1v1h-1zM140.7 194.1h1v1h-1zM122.3 199.1h1v1h-1zM125.3 205.2h1v1h-1zM147.4 183.1h1v1h-1zM147.4 179h1v1h-1zM139 199.6h1v1h-1zM125.1 205.8h1v1h-1zM129.2 207.4h1v1h-1zM100.2 234.6h1v1h-1zM100 227.8h1v1h-1zM129.9 210.6h1v1h-1zM119.7 215.8h1v1h-1zM125.1 203h1v1h-1zM98.1 230.2h1v1h-1zM147.4 173.1h1v1h-1zM114.8 212.5h1v1h-1zM105.9 221.3h1v1h-1zM130.5 198.6h1v1h-1zM123.3 202h1v1h-1zM142.4 188.7h1v1h-1zM152.9 173.6h1v1h-1zM112.7 205.4h1v1h-1zM90.1 235.9h1v1h-1zM109 213.8h1v1h-1zM113.6 206.6h1v1h-1zM109.6 217.4h1v1h-1zM119.7 214.4h1v1h-1zM127.6 193h1v1h-1zM124.1 191h1v1h-1zM97.6 230.4h1v1h-1zM107.2 240.9h1v1h-1zM103 222.1h1v1h-1zM138.7 190.6h1v1h-1zM124.2 201.3h1v1h-1zM132.8 200.5h1v1h-1zM129 208.3h1v1h-1zM127.8 199h1v1h-1zM150.3 184.5h1v1h-1zM120.9 200.2h1v1h-1zM118.2 211.5h1v1h-1zM133.1 186.4h1v1h-1zM109.6 220.2h1v1h-1zM129.7 194.1h1v1h-1zM125.7 203.9h1v1h-1zM82.6 239.6h1v1h-1zM117.4 212.5h1v1h-1zM110.3 219h1v1h-1zM116.9 207.7h1v1h-1zM136.4 186h1v1h-1zM131.6 188.4h1v1h-1zM124.1 201.4h1v1h-1zM121 209.8h1v1h-1zM100.3 227.9h1v1h-1zM107 222.7h1v1h-1zM149.5 185.9h1v1h-1zM120.9 205.2h1v1h-1zM116 214.3h1v1h-1zM151.3 181.2h1v1h-1zM111.3 220.7h1v1h-1zM137.7 192.4h1v1h-1zM121.1 207.7h1v1h-1zM122.6 218.1h1v1h-1zM112.3 215.7h1v1h-1zM114.4 211.6h1v1h-1zM108.1 224.5h1v1h-1zM116.5 222.5h1v1h-1zM130.7 206.4h1v1h-1zM125.8 202.5h1v1h-1zM98.9 235.6h1v1h-1zM121.3 210.2h1v1h-1zM143.5 184.4h1v1h-1zM139.7 192.1h1v1h-1zM103.5 229.4h1v1h-1zM111.3 218.3h1v1h-1zM137.9 201h1v1h-1zM130.8 194.6h1v1h-1zM108.5 229.3h1v1h-1zM122.9 218.9h1v1h-1zM130.7 211h1v1h-1zM135.8 193.7h1v1h-1zM135.1 191.5h1v1h-1zM124.4 193.3h1v1h-1zM143.3 183.7h1v1h-1zM148.8 194.2h1v1h-1zM105.1 213.6h1v1h-1zM133.8 183.9h1v1h-1zM113.8 220.2h1v1h-1zM101.3 231.7h1v1h-1zM130.4 185.6h1v1h-1zM142.1 185h1v1h-1zM98.5 232.8h1v1h-1zM133.1 184.8h1v1h-1zM100.5 234.7h1v1h-1zM139.2 179.7h1v1h-1zM125.2 210.3h1v1h-1zM122.4 207.1h1v1h-1zM146.6 176.2h1v1h-1zM115.5 202.6h1v1h-1zM117.8 208.2h1v1h-1zM99.5 228.9h1v1h-1zM108 219.9h1v1h-1zM120.8 203.5h1v1h-1zM140.8 185.3h1v1h-1zM121.8 212.1h1v1h-1zM98.9 224.2h1v1h-1zM114.4 212.7h1v1h-1zM125.2 205.8h1v1h-1zM101 227.8h1v1h-1zM106.9 227.5h1v1h-1zM114.5 224.1h1v1h-1zM136.7 188.6h1v1h-1zM115.1 214.7h1v1h-1zM94.3 215.8h1v1h-1zM129.6 196.1h1v1h-1zM134 198.2h1v1h-1zM120.2 200.7h1v1h-1zM140.7 195.4h1v1h-1zM119.9 196h1v1h-1zM105.3 232.3h1v1h-1zM124 200.7h1v1h-1zM130.6 190.6h1v1h-1zM122.8 202.2h1v1h-1zM106.9 220.2h1v1h-1zM109.1 212.9h1v1h-1zM119.6 199.6h1v1h-1zM136.2 188h1v1h-1zM110 224.8h1v1h-1zM139.7 190.5h1v1h-1zM130.8 205.8h1v1h-1zM131.2 192.6h1v1h-1zM136.4 188.8h1v1h-1zM101.9 224.9h1v1h-1zM141.2 187.2h1v1h-1zM143.8 186.6h1v1h-1zM134.5 204.6h1v1h-1zM110 223.1h1v1h-1zM132.5 196.3h1v1h-1zM128.6 208.1h1v1h-1zM116.8 206.4h1v1h-1zM121.3 198.4h1v1h-1zM141.6 190.2h1v1h-1zM141.6 186.9h1v1h-1zM152.5 175.3h1v1h-1zM149.4 183.7h1v1h-1zM100 226.8h1v1h-1zM146.5 180h1v1h-1zM145.5 184.2h1v1h-1zM147.4 184h1v1h-1zM145.2 188.5h1v1h-1zM149 178.9h1v1h-1zM153 175.7h1v1h-1zM96.9 216.4h1v1h-1zM107 229.6h1v1h-1zM124.5 193.3h1v1h-1zM147.5 179.4h1v1h-1zM137.5 206.6h1v1h-1zM131.5 194.2h1v1h-1zM135.6 181.8h1v1h-1zM142.2 195.7h1v1h-1zM128.3 195.9h1v1h-1zM133.5 193.2h1v1h-1zM122.2 204.8h1v1h-1zM134.9 197.6h1v1h-1zM139.1 193.5h1v1h-1zM107.9 220h1v1h-1zM116.2 219.3h1v1h-1zM95.4 227.8h1v1h-1zM138.4 193.5h1v1h-1zM121.3 202.8h1v1h-1zM144.5 187.3h1v1h-1zM123.6 200.2h1v1h-1zM143.4 181.1h1v1h-1zM125.7 211.9h1v1h-1zM139.8 180.4h1v1h-1zM137.6 182.3h1v1h-1zM115.9 216.2h1v1h-1zM121.9 204.5h1v1h-1zM101.6 224.5h1v1h-1zM122.5 204.6h1v1h-1zM141.7 199.5h1v1h-1zM117.4 204.1h1v1h-1zM116.8 209.7h1v1h-1zM126 203h1v1h-1zM135.7 185.7h1v1h-1zM106.9 221.5h1v1h-1zM146.6 183.7h1v1h-1zM134.2 187.5h1v1h-1zM124.6 210.7h1v1h-1zM128.5 198.4h1v1h-1zM129.8 200.2h1v1h-1zM135.2 213h1v1h-1zM113.3 203.8h1v1h-1zM129.3 200.3h1v1h-1zM108.5 236.5h1v1h-1zM122.7 201.4h1v1h-1zM115.1 220.3h1v1h-1zM130.3 198.9h1v1h-1zM127.8 190.8h1v1h-1zM150.4 179.2h1v1h-1zM133.1 188.8h1v1h-1zM98.8 230.7h1v1h-1zM102 217.1h1v1h-1zM132.4 200.1h1v1h-1zM116.9 195.6h1v1h-1zM125.3 201.6h1v1h-1zM143.7 192h1v1h-1zM144.8 185.7h1v1h-1zM99.8 226.8h1v1h-1zM127.2 199.1h1v1h-1zM111.4 214.3h1v1h-1zM129.6 215.9h1v1h-1zM141.1 185.8h1v1h-1zM97.4 231.5h1v1h-1zM103.5 220.4h1v1h-1zM124 200.9h1v1h-1zM136.7 194.7h1v1h-1zM147.1 176.1h1v1h-1zM142.8 179.2h1v1h-1zM142.7 181h1v1h-1zM140.2 184.9h1v1h-1zM124.1 205h1v1h-1zM112.4 212.8h1v1h-1zM142.5 183.5h1v1h-1zM139 183.6h1v1h-1zM144.9 190.3h1v1h-1zM137.6 190.4h1v1h-1zM142.1 183.1h1v1h-1zM124.3 205.5h1v1h-1zM118.3 209.7h1v1h-1zM88.5 230.6h1v1h-1zM105.3 222.1h1v1h-1zM139.3 198.8h1v1h-1zM123.6 207.7h1v1h-1zM107.6 228.6h1v1h-1zM102.1 222.3h1v1h-1zM88.3 231.3h1v1h-1zM123.7 199.7h1v1h-1zM143.6 192.5h1v1h-1zM145.2 175.5h1v1h-1zM135.7 186.7h1v1h-1zM110 225.7h1v1h-1zM109.3 217.6h1v1h-1zM147.3 178.5h1v1h-1zM110.4 220.5h1v1h-1zM122.8 205.7h1v1h-1zM147 178.2h1v1h-1zM130 199.3h1v1h-1zM101.2 223h1v1h-1zM120.6 207.2h1v1h-1zM133.7 198.2h1v1h-1zM126.1 194.9h1v1h-1zM102 225.4h1v1h-1zM123.8 209h1v1h-1zM134.9 196.7h1v1h-1zM138.3 195.3h1v1h-1zM112 223.1h1v1h-1zM100 235.5h1v1h-1zM129.5 202.8h1v1h-1zM141.9 180.4h1v1h-1zM153.6 179.4h1v1h-1zM134.4 187.2h1v1h-1zM111.6 231.9h1v1h-1zM141.6 187.5h1v1h-1zM101.5 231.2h1v1h-1zM113.3 207.1h1v1h-1zM147.6 186.4h1v1h-1zM108 228.2h1v1h-1zM134.9 182.5h1v1h-1zM147.3 176.3h1v1h-1zM139.7 184.7h1v1h-1zM136.5 186.8h1v1h-1zM140.4 195.9h1v1h-1zM114.6 227.8h1v1h-1zM99.4 222.5h1v1h-1zM101.7 233.8h1v1h-1zM109 217.7h1v1h-1zM118.3 218.8h1v1h-1zM139.6 184.9h1v1h-1zM102.2 234.4h1v1h-1zM126 196.9h1v1h-1zM145.8 189.1h1v1h-1zM124.6 200h1v1h-1zM127.8 207.4h1v1h-1zM146.1 184.9h1v1h-1zM143.6 180.9h1v1h-1zM104.6 219.1h1v1h-1zM139.7 186.6h1v1h-1zM125.4 210h1v1h-1zM90.2 238.9h1v1h-1zM111.2 212.9h1v1h-1zM95.2 223.5h1v1h-1zM104.6 222.6h1v1h-1zM151.8 178.6h1v1h-1zM122.9 198.4h1v1h-1zM145.4 181.7h1v1h-1zM113.6 212h1v1h-1zM102.3 216.9h1v1h-1zM152.3 177.6h1v1h-1zM109.9 211.1h1v1h-1zM142.3 180h1v1h-1zM141.6 193.7h1v1h-1zM139.1 181h1v1h-1zM115.3 216.9h1v1h-1zM138.7 196.3h1v1h-1zM145.4 188.2h1v1h-1zM134.9 195.7h1v1h-1zM144.6 181.1h1v1h-1zM140 178.3h1v1h-1zM123.2 205.7h1v1h-1zM155.2 174.5h1v1h-1zM138.8 185.3h1v1h-1zM107.6 226.5h1v1h-1zM111.2 210.3h1v1h-1zM109.4 221.9h1v1h-1zM99.4 226.3h1v1h-1zM120.5 196.6h1v1h-1zM155.1 182.1h1v1h-1zM129.7 201.9h1v1h-1zM150.2 180.3h1v1h-1zM134.1 184.2h1v1h-1zM137.1 189.5h1v1h-1zM122.5 207.2h1v1h-1zM106 217.7h1v1h-1zM140.3 173.9h1v1h-1zM144.5 187.1h1v1h-1zM109.2 206.9h1v1h-1zM131.1 186.3h1v1h-1zM122.8 196.8h1v1h-1zM146.3 184.4h1v1h-1zM125.6 197.6h1v1h-1zM94.5 230.1h1v1h-1zM113.9 208.4h1v1h-1zM108.8 209.9h1v1h-1zM116.4 205.8h1v1h-1zM113.9 207.8h1v1h-1zM91.3 235.5h1v1h-1zM119.9 205.5h1v1h-1zM132.9 178.8h1v1h-1zM133.1 190.1h1v1h-1zM114.8 221.1h1v1h-1zM145.1 178.7h1v1h-1zM139.8 186.8h1v1h-1zM143.1 179.1h1v1h-1zM100.9 223.1h1v1h-1zM136.2 190.5h1v1h-1zM108.1 211.3h1v1h-1zM135.1 191h1v1h-1zM118.7 198.3h1v1h-1zM108.5 221.7h1v1h-1zM143.1 173.5h1v1h-1zM149.8 181h1v1h-1zM128.6 205.2h1v1h-1zM121.1 195.9h1v1h-1zM130.5 201h1v1h-1zM131 193.5h1v1h-1zM125.7 209.2h1v1h-1zM113.6 210.7h1v1h-1zM102.7 223.5h1v1h-1zM137.3 187.7h1v1h-1zM116.2 219.6h1v1h-1zM117.4 197.6h1v1h-1zM120 212.5h1v1h-1zM146.9 180.2h1v1h-1zM125.8 198.3h1v1h-1zM107.4 219h1v1h-1zM112.8 221.1h1v1h-1zM143 189h1v1h-1zM156.9 180.3h1v1h-1zM106.6 217.2h1v1h-1zM120.6 194.6h1v1h-1zM122.5 201.3h1v1h-1zM122.3 203.8h1v1h-1zM135.4 188.7h1v1h-1zM151.4 182.9h1v1h-1zM151.3 189.7h1v1h-1zM111 219.2h1v1h-1zM131.7 183.8h1v1h-1zM110.4 224.2h1v1h-1zM106.9 216.9h1v1h-1zM118.4 209.3h1v1h-1zM129.8 202.7h1v1h-1zM121.3 208.5h1v1h-1zM99.4 228.4h1v1h-1zM123.9 205.2h1v1h-1zM105.8 227.1h1v1h-1zM109.2 222.7h1v1h-1zM148.9 190.9h1v1h-1zM120.3 187.7h1v1h-1zM101.7 221.2h1v1h-1zM135.9 187.1h1v1h-1zM146.6 181.3h1v1h-1zM112.2 221.1h1v1h-1zM128.1 189.7h1v1h-1zM123.2 202.7h1v1h-1zM121 210.5h1v1h-1zM105.5 222.1h1v1h-1zM104.7 220.7h1v1h-1zM143.9 184.4h1v1h-1zM127.9 209.9h1v1h-1zM100.7 213.8h1v1h-1zM134.3 203h1v1h-1zM120.6 208.6h1v1h-1zM104.6 217.8h1v1h-1zM136.5 194.5h1v1h-1zM129.1 198.2h1v1h-1zM129.6 205.3h1v1h-1zM135.6 185.9h1v1h-1zM151.2 181.4h1v1h-1zM136.7 192.2h1v1h-1zM150.9 174.9h1v1h-1zM105.4 226.7h1v1h-1zM116.2 207.5h1v1h-1zM126.8 207.2h1v1h-1zM127.4 196.5h1v1h-1zM96.6 227.1h1v1h-1zM120.2 206.5h1v1h-1zM142.9 183.4h1v1h-1zM119.3 202.7h1v1h-1zM136.1 195.9h1v1h-1zM126.5 199.8h1v1h-1zM133.5 197.4h1v1h-1zM83.6 235.4h1v1h-1zM112.7 206.5h1v1h-1zM142.9 182h1v1h-1zM115.9 205.2h1v1h-1zM147.9 177.6h1v1h-1zM150.1 179.9h1v1h-1zM137 197h1v1h-1zM155.6 180.1h1v1h-1zM115.3 217.4h1v1h-1zM119.7 203.2h1v1h-1zM146.2 183.8h1v1h-1zM96.2 228.7h1v1h-1zM126.3 204.4h1v1h-1zM114.2 206.6h1v1h-1zM126.9 209.1h1v1h-1zM124.9 205.1h1v1h-1zM128.5 196.7h1v1h-1zM139.5 178.3h1v1h-1zM89.4 240.9h1v1h-1zM101.3 223.4h1v1h-1zM136.2 192.3h1v1h-1zM126.9 195.7h1v1h-1zM122.5 201.2h1v1h-1zM135 195.8h1v1h-1zM146.3 189.8h1v1h-1zM107 212.6h1v1h-1zM107.8 218.8h1v1h-1zM130.3 199.3h1v1h-1zM101.4 225.8h1v1h-1zM121 203.5h1v1h-1zM135.6 205.2h1v1h-1zM124.7 197.2h1v1h-1zM144.5 184.4h1v1h-1zM95.7 229.4h1v1h-1zM98.6 229h1v1h-1zM141.5 190.9h1v1h-1zM100.4 226.4h1v1h-1zM135.3 185.3h1v1h-1zM134 203.7h1v1h-1zM107.7 218.4h1v1h-1zM113.7 210h1v1h-1zM129.8 191.8h1v1h-1zM132.9 201h1v1h-1zM105 223.2h1v1h-1zM93.4 233h1v1h-1zM100.4 219.3h1v1h-1zM105.7 216.4h1v1h-1zM114.5 215.4h1v1h-1zM106.2 221.6h1v1h-1zM106.7 208.1h1v1h-1zM103.4 219h1v1h-1zM128.1 200.6h1v1h-1zM129.6 214.9h1v1h-1zM113.4 209.4h1v1h-1zM114 199.2h1v1h-1zM144.1 187.4h1v1h-1zM135.9 187.8h1v1h-1zM95.5 224.3h1v1h-1zM109.7 221.8h1v1h-1zM125.8 199.9h1v1h-1zM95.9 226.2h1v1h-1zM133.8 184.6h1v1h-1zM118.2 208.5h1v1h-1zM147 180h1v1h-1zM112 204.3h1v1h-1zM130.6 202.9h1v1h-1zM101.2 218.8h1v1h-1zM106.6 230.4h1v1h-1zM109.5 220.5h1v1h-1zM143.6 181.8h1v1h-1zM148.9 179.7h1v1h-1zM135.9 187.1h1v1h-1zM133.4 193.2h1v1h-1zM141.9 195.5h1v1h-1zM121.6 202.1h1v1h-1zM149 182.6h1v1h-1zM111.6 210.4h1v1h-1zM143.5 183h1v1h-1zM102.2 232.1h1v1h-1zM124.5 194.9h1v1h-1zM131.7 197.5h1v1h-1zM130.3 182.8h1v1h-1zM101.3 219.4h1v1h-1zM115.3 209.6h1v1h-1zM152.4 179.6h1v1h-1zM108.3 224.3h1v1h-1zM109.3 212.6h1v1h-1zM129.6 196.7h1v1h-1zM146.9 180.8h1v1h-1zM113.9 203.7h1v1h-1zM110.8 219.7h1v1h-1zM99.6 237.3h1v1h-1zM150.6 183.7h1v1h-1zM105.5 218.6h1v1h-1zM138.9 185.3h1v1h-1zM101.3 220.8h1v1h-1zM114.8 209.6h1v1h-1zM125.6 200h1v1h-1zM138.5 192.7h1v1h-1zM130.4 197.2h1v1h-1zM120.3 201.2h1v1h-1zM112.8 220.3h1v1h-1zM125.2 207.8h1v1h-1zM124.9 198.4h1v1h-1zM117.6 208.4h1v1h-1zM104.6 222.8h1v1h-1zM137.1 179h1v1h-1zM105.7 223.2h1v1h-1zM123.5 208.3h1v1h-1zM132.3 207.3h1v1h-1zM110.9 218.2h1v1h-1zM136.8 188.1h1v1h-1zM104.2 222.9h1v1h-1zM144.5 186.1h1v1h-1zM105.1 228.2h1v1h-1zM96.2 226.6h1v1h-1zM127 201.4h1v1h-1zM125.5 206h1v1h-1zM117.7 196.9h1v1h-1zM152.2 183h1v1h-1zM133.2 192.4h1v1h-1zM150.6 181.5h1v1h-1zM135.2 191.4h1v1h-1zM143.6 181.4h1v1h-1zM139.2 187h1v1h-1zM145.9 182.5h1v1h-1zM137.6 194.8h1v1h-1zM104.4 221.9h1v1h-1zM124.4 195.7h1v1h-1zM132.1 190.4h1v1h-1zM120.7 200.4h1v1h-1zM130.9 201.2h1v1h-1zM114.8 206.7h1v1h-1zM112.3 225.3h1v1h-1zM146.3 181.1h1v1h-1zM123.8 203.1h1v1h-1zM101.3 235.4h1v1h-1zM117.5 207.8h1v1h-1zM150.4 174.1h1v1h-1zM94.5 239h1v1h-1zM144.3 187.1h1v1h-1zM105.1 216.5h1v1h-1zM109.6 234.3h1v1h-1zM152.1 178h1v1h-1zM105.8 214.1h1v1h-1zM145.4 180h1v1h-1zM117.8 215.8h1v1h-1zM116.6 212.5h1v1h-1zM145.6 186.5h1v1h-1zM121.9 220.9h1v1h-1zM144.9 187.8h1v1h-1zM149.8 189.7h1v1h-1zM125.5 206.3h1v1h-1zM106.7 217.1h1v1h-1zM147.3 189.1h1v1h-1zM103.1 220.6h1v1h-1zM112.9 221.1h1v1h-1zM111.8 220.4h1v1h-1zM141.6 179.7h1v1h-1zM115.7 207.6h1v1h-1zM131.5 194.6h1v1h-1zM136.7 192.9h1v1h-1zM121.5 214.7h1v1h-1zM128.3 199.5h1v1h-1zM141.9 197.3h1v1h-1zM148.7 183.6h1v1h-1zM117.9 205.7h1v1h-1zM115.3 208.6h1v1h-1zM121.1 207.2h1v1h-1zM123.4 200.8h1v1h-1zM117.7 209.5h1v1h-1zM131.4 201.1h1v1h-1zM127.8 201.4h1v1h-1zM139.1 194.3h1v1h-1zM134.1 188.7h1v1h-1zM133.9 187.8h1v1h-1zM108.1 211.1h1v1h-1zM132.7 183.1h1v1h-1zM107.9 217.5h1v1h-1zM139.5 188h1v1h-1zM144.1 181.6h1v1h-1zM112.7 215.4h1v1h-1zM155.2 184.6h1v1h-1zM124.8 195.8h1v1h-1zM141.6 183.7h1v1h-1zM132.2 192.1h1v1h-1zM133 188.5h1v1h-1zM110.2 226.9h1v1h-1zM107 221.5h1v1h-1zM106.4 221.4h1v1h-1zM109.4 215.3h1v1h-1zM97.9 222.9h1v1h-1zM101 226.5h1v1h-1zM108.6 210.7h1v1h-1zM98 230.8h1v1h-1zM99.2 217.5h1v1h-1zM103.6 230.2h1v1h-1zM104.7 231.1h1v1h-1zM113.5 212.9h1v1h-1zM107 214.8h1v1h-1zM104 221.3h1v1h-1zM98.6 233.8h1v1h-1zM112.3 215.4h1v1h-1zM101.8 222.2h1v1h-1zM101.8 231.2h1v1h-1zM107.3 222.1h1v1h-1zM100.3 230h1v1h-1zM111.8 211.1h1v1h-1zM102.9 224.1h1v1h-1zM99.7 224.7h1v1h-1zM102 226.2h1v1h-1zM97.2 228.1h1v1h-1zM103.7 228.7h1v1h-1zM105.9 220.5h1v1h-1zM99 230h1v1h-1zM105.5 222.4h1v1h-1zM111.7 214.5h1v1h-1zM105.9 213.5h1v1h-1zM109.6 221.8h1v1h-1zM104.4 222.6h1v1h-1zM100.6 224.4h1v1h-1zM99.4 223.9h1v1h-1zM102 222h1v1h-1zM112.9 208.5h1v1h-1zM103.7 223.1h1v1h-1zM101.2 222.1h1v1h-1zM102.4 225.3h1v1h-1zM104.7 222.5h1v1h-1zM102.4 221.4h1v1h-1zM107.2 229.3h1v1h-1zM104.4 221.6h1v1h-1zM107.8 219.5h1v1h-1zM110 215.6h1v1h-1zM108.8 215.9h1v1h-1zM107.4 221.6h1v1h-1zM113.4 217.4h1v1h-1zM96.6 231.6h1v1h-1zM103.8 218.8h1v1h-1zM111.2 216.1h1v1h-1zM104.4 211.8h1v1h-1zM111.1 214.4h1v1h-1zM99.3 227.7h1v1h-1zM107.8 219.4h1v1h-1zM105.7 213.3h1v1h-1zM101.6 223.6h1v1h-1zM99 224h1v1h-1zM102.8 221.5h1v1h-1zM109.3 218.7h1v1h-1zM101.4 225h1v1h-1zM109.8 212.4h1v1h-1zM110.5 220.1h1v1h-1zM106.7 219.3h1v1h-1zM99.4 218.6h1v1h-1zM108.6 211.8h1v1h-1zM101.9 227.2h1v1h-1zM99.5 230.4h1v1h-1zM107 219.7h1v1h-1zM99.4 229.6h1v1h-1zM100 223.3h1v1h-1zM98.9 228.5h1v1h-1zM110 209.1h1v1h-1zM104.6 217.7h1v1h-1zM99.7 223.6h1v1h-1zM99.7 223.9h1v1h-1zM98.9 227.3h1v1h-1zM101.4 224.7h1v1h-1zM98.7 225.3h1v1h-1zM112.8 216.4h1v1h-1zM103.9 220.3h1v1h-1zM103.3 230.7h1v1h-1zM111.8 217.3h1v1h-1zM102.9 218h1v1h-1zM100.5 231h1v1h-1zM106.8 212.1h1v1h-1zM109.8 221.9h1v1h-1zM104.6 223.2h1v1h-1zM99.4 223.3h1v1h-1zM103.7 212.3h1v1h-1zM109.8 213h1v1h-1zM102.8 217.3h1v1h-1zM113.3 215.7h1v1h-1zM103.2 217.3h1v1h-1zM99 227.4h1v1h-1zM108.5 218.9h1v1h-1zM109.2 215.7h1v1h-1zM100.3 228.1h1v1h-1zM98.6 227.8h1v1h-1zM100.9 229.6h1v1h-1zM94.8 229.4h1v1h-1zM104.3 224.5h1v1h-1zM101.5 219.6h1v1h-1zM106 220.5h1v1h-1zM102.3 218.8h1v1h-1zM110.1 213.4h1v1h-1zM100.9 228.8h1v1h-1zM115.5 213.5h1v1h-1zM103.4 214.3h1v1h-1zM96.4 228.1h1v1h-1zM94.7 229.3h1v1h-1zM101.8 230.7h1v1h-1zM103.5 218.6h1v1h-1zM107.3 221.4h1v1h-1zM100.3 224.3h1v1h-1zM103 216.5h1v1h-1zM100.8 226.6h1v1h-1zM106.1 214h1v1h-1zM110.3 217.7h1v1h-1zM102.8 227.6h1v1h-1zM100.4 233h1v1h-1zM104.7 216.3h1v1h-1zM101.8 232.4h1v1h-1zM108.6 220.9h1v1h-1zM102.2 215.9h1v1h-1zM104.9 231.5h1v1h-1zM113.6 217.9h1v1h-1zM100.1 222.1h1v1h-1zM107 219.8h1v1h-1zM102.3 217.8h1v1h-1zM55.3 236.7h1v1h-1zM63.4 221.3h1v1h-1zM60.2 227.5h1v1h-1zM58.6 238.3h1v1h-1zM57.9 232.3h1v1h-1zM60 225.5h1v1h-1zM63.8 233.5h1v1h-1zM62 213.3h1v1h-1zM58.6 223.7h1v1h-1zM59 222.6h1v1h-1zM57.7 220.6h1v1h-1zM59.1 233.9h1v1h-1zM54.4 238h1v1h-1zM68.5 215.4h1v1h-1zM60.5 223.5h1v1h-1zM55.9 236.6h1v1h-1zM60.2 236h1v1h-1zM61.5 226.7h1v1h-1zM67 223.6h1v1h-1zM62 224.5h1v1h-1zM55 234.7h1v1h-1zM59.3 227.2h1v1h-1zM66 209.4h1v1h-1zM65.2 220.7h1v1h-1zM57.2 237.1h1v1h-1zM58.5 222.7h1v1h-1zM53.5 238.8h1v1h-1zM64.9 222.7h1v1h-1zM57.9 231.6h1v1h-1zM59.5 226h1v1h-1zM68.8 214.3h1v1h-1zM68 216.3h1v1h-1zM62 218.8h1v1h-1zM67.7 225.8h1v1h-1zM70.8 207.7h1v1h-1zM64.2 221h1v1h-1zM55.8 235.8h1v1h-1zM67.3 208.1h1v1h-1zM59.9 233h1v1h-1zM70.5 208.8h1v1h-1zM69.6 207h1v1h-1zM66.9 222.7h1v1h-1zM71.8 211.2h1v1h-1zM68.3 209.4h1v1h-1zM57.3 226.4h1v1h-1zM64 232.5h1v1h-1zM71.4 207.8h1v1h-1zM69.4 213.5h1v1h-1zM65.1 221.5h1v1h-1zM62 226.6h1v1h-1zM64.2 223.4h1v1h-1zM61.5 233h1v1h-1zM57.6 224.6h1v1h-1zM57.5 223.9h1v1h-1zM66 221.5h1v1h-1zM59.7 217.2h1v1h-1zM65.9 216.2h1v1h-1zM59.8 226.7h1v1h-1zM56.8 230.5h1v1h-1zM65.1 215.5h1v1h-1zM62.1 223.3h1v1h-1zM65.6 231.1h1v1h-1zM58.1 221.5h1v1h-1zM64.4 211.2h1v1h-1zM60.6 231.1h1v1h-1zM60.6 220.1h1v1h-1zM52.8 240h1v1h-1zM70.5 218.2h1v1h-1zM65.6 227.1h1v1h-1zM59.5 228.6h1v1h-1zM68.4 207h1v1h-1zM57.5 237.3h1v1h-1zM60.2 216.4h1v1h-1zM54.8 228.1h1v1h-1zM63.5 220.6h1v1h-1zM61.1 236.2h1v1h-1zM67.2 228.5h1v1h-1zM69.9 210.1h1v1h-1zM65.2 217.5h1v1h-1zM59.6 236.3h1v1h-1zM56.1 238.7h1v1h-1zM65.3 233.4h1v1h-1zM67.4 213.6h1v1h-1zM61.1 220.4h1v1h-1zM67.2 208.9h1v1h-1zM66 229.7h1v1h-1zM54.2 236h1v1h-1zM63.5 217.8h1v1h-1zM69.2 210.7h1v1h-1zM68.8 211.4h1v1h-1zM71.7 209.7h1v1h-1zM70.7 215.6h1v1h-1zM69.4 218.9h1v1h-1zM60.7 228.5h1v1h-1zM65.2 228.5h1v1h-1zM69.4 216.1h1v1h-1zM68.6 221.2h1v1h-1zM60.3 215.5h1v1h-1zM57.5 238.6h1v1h-1zM60.4 222.1h1v1h-1zM57.6 223.8h1v1h-1zM53.7 236.1h1v1h-1zM59.3 225.6h1v1h-1zM65.6 225.6h1v1h-1zM56.5 227.9h1v1h-1zM64 210.3h1v1h-1zM56.7 231h1v1h-1zM61.8 234.7h1v1h-1zM68.6 212.6h1v1h-1zM61.2 223.1h1v1h-1zM63.1 211.7h1v1h-1zM54.3 239.1h1v1h-1zM58.9 231.3h1v1h-1zM65 236.2h1v1h-1zM61.6 232.5h1v1h-1zM60.4 228.9h1v1h-1zM70.5 208.9h1v1h-1zM65.6 232.2h1v1h-1zM67.4 216.1h1v1h-1zM64.4 235.9h1v1h-1zM70.6 217.9h1v1h-1zM70.1 216.5h1v1h-1zM57.9 219.9h1v1h-1zM61.7 233.2h1v1h-1zM65.8 232.6h1v1h-1zM67.6 212.8h1v1h-1zM63.4 233h1v1h-1zM55.5 233.3h1v1h-1zM67.6 227.2h1v1h-1zM55.8 226.6h1v1h-1zM62.5 233.1h1v1h-1zM68.8 211.7h1v1h-1zM64.8 223.4h1v1h-1zM66 223.6h1v1h-1zM59.3 230h1v1h-1zM62.3 236h1v1h-1zM57.5 232.3h1v1h-1zM53.5 235.1h1v1h-1zM69.7 219.9h1v1h-1zM58.9 221.4h1v1h-1zM63.9 234.2h1v1h-1zM65.9 218.7h1v1h-1zM61.5 217.1h1v1h-1zM71.8 212.6h1v1h-1zM62 215.4h1v1h-1zM70 215.9h1v1h-1zM52.8 240.6h1v1h-1zM53.7 232.7h1v1h-1zM54.1 233.5h1v1h-1zM68.8 219.1h1v1h-1zM61.6 218.2h1v1h-1zM64 224.4h1v1h-1zM67.4 213.3h1v1h-1zM66.4 231.5h1v1h-1zM57.9 219.6h1v1h-1zM64.7 234.3h1v1h-1zM68 211h1v1h-1zM56.2 228.8h1v1h-1zM68.6 221.2h1v1h-1zM54.9 232.1h1v1h-1zM68.2 208.3h1v1h-1zM64.8 209.7h1v1h-1zM57.2 233.2h1v1h-1zM61.6 232.6h1v1h-1zM69 213.4h1v1h-1zM63.7 223.8h1v1h-1zM62.6 233.3h1v1h-1zM59.2 217.6h1v1h-1zM65.1 231.4h1v1h-1zM67.9 212.3h1v1h-1zM58.3 228h1v1h-1zM70.5 210.1h1v1h-1zM56.2 236.1h1v1h-1zM64.8 218.2h1v1h-1zM63.3 218.8h1v1h-1zM58.2 227.1h1v1h-1zM67.4 226.5h1v1h-1zM55.3 233.6h1v1h-1zM60.2 216.6h1v1h-1zM52.9 236.5h1v1h-1zM55.7 239h1v1h-1zM55.1 227.2h1v1h-1zM62.7 230.7h1v1h-1zM53.8 239.8h1v1h-1zM70.6 209.1h1v1h-1zM62.6 236.4h1v1h-1zM64.2 227.6h1v1h-1zM72 206.9h1v1h-1zM55.2 239.6h1v1h-1zM58.2 233.3h1v1h-1zM65.7 224.6h1v1h-1zM55.3 231.4h1v1h-1zM59.9 225.2h1v1h-1zM67 218.4h1v1h-1zM69.4 208.7h1v1h-1zM67.8 219.9h1v1h-1zM68.4 209.3h1v1h-1zM60.1 219.3h1v1h-1zM59.5 236.6h1v1h-1zM62.9 234h1v1h-1zM62.7 230.2h1v1h-1zM63.1 221h1v1h-1zM58.4 225.6h1v1h-1zM54.9 237.1h1v1h-1zM53.8 239.5h1v1h-1zM62.8 232.9h1v1h-1zM61.4 213.9h1v1h-1zM63.6 236.7h1v1h-1zM58.8 226.1h1v1h-1zM70.3 211.5h1v1h-1zM57.3 233.2h1v1h-1zM57.1 232.7h1v1h-1zM61.6 227h1v1h-1zM59.7 229.3h1v1h-1zM68.8 219.9h1v1h-1zM53.4 238.7h1v1h-1zM57.7 226.2h1v1h-1zM54.1 236.8h1v1h-1zM64.2 214.3h1v1h-1zM71.4 214.2h1v1h-1zM64.7 235.8h1v1h-1zM68.1 223.8h1v1h-1zM62.3 212.8h1v1h-1zM66 231.5h1v1h-1zM68.6 218.5h1v1h-1zM65.6 219.3h1v1h-1zM53.6 235.5h1v1h-1zM60 226.9h1v1h-1zM69.7 208.1h1v1h-1zM59.2 217.9h1v1h-1zM59.8 232.6h1v1h-1zM62.7 225h1v1h-1zM65.5 218h1v1h-1zM63.4 223.1h1v1h-1zM63.3 214.8h1v1h-1zM59 238.2h1v1h-1zM65.4 210.9h1v1h-1zM63.2 233.5h1v1h-1zM54.1 231.9h1v1h-1zM64.6 228.3h1v1h-1zM64.5 210.7h1v1h-1zM63 218h1v1h-1zM67.5 219.4h1v1h-1zM63.4 233.7h1v1h-1zM58 232.2h1v1h-1zM54.1 232h1v1h-1zM66.2 223.2h1v1h-1zM56.8 223.8h1v1h-1zM70.2 212.4h1v1h-1zM62.2 218.7h1v1h-1zM57.8 236.6h1v1h-1zM56 237.1h1v1h-1zM66.2 222.6h1v1h-1zM64 234.1h1v1h-1zM68.6 209h1v1h-1zM63 213.2h1v1h-1zM63.5 212.7h1v1h-1zM66.5 215.7h1v1h-1zM62.6 233.7h1v1h-1zM53.9 235.8h1v1h-1zM68.9 210.5h1v1h-1zM60 230.2h1v1h-1zM62.1 220.4h1v1h-1zM58.4 232.1h1v1h-1zM63.7 214.5h1v1h-1zM67.9 216h1v1h-1zM62.2 236.9h1v1h-1zM56.3 228.9h1v1h-1zM58.9 218.1h1v1h-1zM66.8 218.5h1v1h-1zM99.4 197h1v1h-1zM76.5 205.3h1v1h-1zM100.3 197.4h1v1h-1zM85.4 200.1h1v1h-1zM99.7 193.2h1v1h-1zM89.4 207.2h1v1h-1zM91.8 197.5h1v1h-1zM102.8 191.5h1v1h-1zM92.7 197.8h1v1h-1zM75.8 201.7h1v1h-1zM100 190.6h1v1h-1zM103 194.2h1v1h-1zM72.3 202.6h1v1h-1zM76.1 212.5h1v1h-1zM69.2 210.5h1v1h-1zM89.7 201.4h1v1h-1zM69 206.7h1v1h-1zM82.2 204.5h1v1h-1zM89 195.5h1v1h-1zM83.4 196.4h1v1h-1zM75.6 205h1v1h-1zM98.6 204.1h1v1h-1zM100.7 198.9h1v1h-1zM83.8 205h1v1h-1zM99.9 200.7h1v1h-1zM69 207.3h1v1h-1zM94.7 202.3h1v1h-1zM99.6 198.3h1v1h-1zM86.7 206.8h1v1h-1zM81.1 207h1v1h-1zM96 205.2h1v1h-1zM77 207.7h1v1h-1zM73.7 202.3h1v1h-1zM98 201.9h1v1h-1zM77.4 204.1h1v1h-1zM86.1 201.5h1v1h-1zM75.2 211.5h1v1h-1zM97.1 191.8h1v1h-1zM100.4 200.9h1v1h-1zM102 197.5h1v1h-1zM68 212.1h1v1h-1zM86.2 202.4h1v1h-1zM81.8 206.9h1v1h-1zM74 207.8h1v1h-1zM88.5 194.9h1v1h-1zM101.3 199h1v1h-1zM78.8 199.9h1v1h-1zM64.2 210h1v1h-1zM98.7 194h1v1h-1zM64.5 210.1h1v1h-1zM75.1 207.4h1v1h-1zM79.5 198h1v1h-1zM89.7 196.3h1v1h-1zM80.2 209.3h1v1h-1zM91.6 196.5h1v1h-1zM76.4 202.6h1v1h-1zM75.9 200.1h1v1h-1zM97.1 194.8h1v1h-1zM76.9 202.9h1v1h-1zM77.6 202.4h1v1h-1zM82 202.2h1v1h-1zM96.7 200.7h1v1h-1zM70.4 205.6h1v1h-1zM98.5 192.3h1v1h-1zM91.3 201.9h1v1h-1zM74.6 206.2h1v1h-1zM74.8 206.5h1v1h-1zM100.7 198.4h1v1h-1zM75.4 211.6h1v1h-1zM87 194.6h1v1h-1zM87.8 215.6h1v1h-1zM68.3 233.2h1v1h-1zM91.8 222.3h1v1h-1zM80 217.5h1v1h-1zM78.3 217h1v1h-1zM93.9 219.5h1v1h-1zM74.3 227.2h1v1h-1zM94.1 213.9h1v1h-1zM78.7 212.9h1v1h-1zM95.3 213.7h1v1h-1zM95.4 209.7h1v1h-1zM85.5 218.4h1v1h-1zM103.4 211.1h1v1h-1zM93.4 211.5h1v1h-1zM70.9 224.3h1v1h-1zM94.6 209.8h1v1h-1zM75.9 231.5h1v1h-1zM97.7 217.1h1v1h-1zM102.7 206.9h1v1h-1zM106 209.2h1v1h-1zM76.1 214h1v1h-1zM76.6 220.4h1v1h-1zM96.6 208.6h1v1h-1zM90.5 209.4h1v1h-1zM107 208.3h1v1h-1zM89.3 218.4h1v1h-1zM93.4 207.2h1v1h-1zM81.7 221h1v1h-1zM91.5 213.9h1v1h-1zM74 231.3h1v1h-1zM89.6 217.6h1v1h-1zM71.6 224.2h1v1h-1zM83.8 210.5h1v1h-1zM88.4 214.9h1v1h-1zM95.4 211.5h1v1h-1zM102.8 213.6h1v1h-1zM101.6 204.9h1v1h-1zM89.1 217h1v1h-1zM96.6 217.5h1v1h-1zM103.1 213.6h1v1h-1zM72.6 217.3h1v1h-1zM94.5 209h1v1h-1zM95.5 219.1h1v1h-1zM101.7 210.9h1v1h-1zM73.8 230.4h1v1h-1zM72.4 224.5h1v1h-1zM70.6 224.9h1v1h-1zM105.7 211.7h1v1h-1zM107.1 208.7h1v1h-1zM105.1 210.8h1v1h-1zM72.2 224.9h1v1h-1zM90.5 220.6h1v1h-1zM103.1 208.4h1v1h-1zM107.9 204.9h1v1h-1zM76 225.6h1v1h-1zM78.9 226.4h1v1h-1zM83.5 212.4h1v1h-1zM77.3 213.4h1v1h-1zM78.7 229.3h1v1h-1zM68.8 226.9h1v1h-1zM81.1 217.8h1v1h-1zM90.3 209.6h1v1h-1zM83.1 216.7h1v1h-1zM78.3 220.6h1v1h-1zM68.1 233.8h1v1h-1zM103.9 205.1h1v1h-1zM73.5 222.8h1v1h-1zM71.3 225.6h1v1h-1zM107.8 207.7h1v1h-1zM86.1 222.9h1v1h-1zM94.6 211.5h1v1h-1zM89.3 214.4h1v1h-1zM94.6 218.7h1v1h-1zM97.6 213.5h1v1h-1zM96.4 209.7h1v1h-1zM77.8 222h1v1h-1zM90.3 223.1h1v1h-1zM100.6 207.6h1v1h-1zM100.8 215.5h1v1h-1zM75.4 225.4h1v1h-1zM80.7 212.2h1v1h-1zM69.3 235.1h1v1h-1zM88.6 220.1h1v1h-1zM77.9 227.5h1v1h-1zM92.4 218.2h1v1h-1zM69.3 227.2h1v1h-1zM96.8 208.9h1v1h-1zM89.6 208.6h1v1h-1zM98.4 214.6h1v1h-1zM103.2 211.8h1v1h-1zM103.8 203.5h1v1h-1zM90.5 211.6h1v1h-1zM73.6 217h1v1h-1zM107 208h1v1h-1zM79.5 219.7h1v1h-1zM79.3 215.1h1v1h-1zM69.3 228.5h1v1h-1zM98.7 215.6h1v1h-1zM106.4 210.8h1v1h-1zM90.1 212.4h1v1h-1zM94.9 213.2h1v1h-1zM69.1 226.9h1v1h-1zM95.8 206.8h1v1h-1zM68 231.5h1v1h-1zM88.5 221.7h1v1h-1zM71.4 223.3h1v1h-1zM104.6 204.7h1v1h-1zM84.8 222.3h1v1h-1zM68.2 233.8h1v1h-1zM108.4 207.5h1v1h-1zM94.2 220.5h1v1h-1zM82.4 219.7h1v1h-1zM83.7 210.5h1v1h-1zM67.1 234.2h1v1h-1zM89.4 221.7h1v1h-1zM92.7 217.1h1v1h-1zM102.1 207.5h1v1h-1zM75.8 217.7h1v1h-1zM92.5 217.9h1v1h-1zM73.7 223.9h1v1h-1zM95.2 217.7h1v1h-1zM81.4 223.2h1v1h-1zM96.5 217.1h1v1h-1zM94.4 209.2h1v1h-1zM99.9 204.4h1v1h-1zM87.9 222h1v1h-1zM77.4 228.2h1v1h-1zM95.4 214.2h1v1h-1zM90.9 218.1h1v1h-1zM100.2 204.4h1v1h-1zM102.4 214.2h1v1h-1zM90.8 217.1h1v1h-1zM96.4 206.8h1v1h-1zM107.7 207.5h1v1h-1zM78.3 214.1h1v1h-1zM97 208.8h1v1h-1zM99.7 209.8h1v1h-1zM82.1 226.3h1v1h-1zM90.3 212.2h1v1h-1zM106.5 209.4h1v1h-1zM105.7 206.7h1v1h-1zM86.8 215.7h1v1h-1zM81.3 227.7h1v1h-1zM100.4 212.1h1v1h-1zM78.1 218.5h1v1h-1zM78.7 215.9h1v1h-1zM79 226.8h1v1h-1zM84.6 213.5h1v1h-1zM108.7 204.1h1v1h-1zM104.6 207.3h1v1h-1zM101.4 213h1v1h-1zM106.8 208.1h1v1h-1zM81.2 215.3h1v1h-1zM95.4 215.5h1v1h-1zM75.5 225.4h1v1h-1zM81.4 222.6h1v1h-1zM93.1 210.6h1v1h-1zM105.3 206.8h1v1h-1zM92.8 210.1h1v1h-1zM81.3 220.2h1v1h-1zM72.7 229.7h1v1h-1zM96.3 208.4h1v1h-1zM99.2 214.9h1v1h-1zM86 217.9h1v1h-1zM88.3 217h1v1h-1zM81.5 213.2h1v1h-1zM83.2 226.9h1v1h-1zM94.7 215.4h1v1h-1zM79.4 222.2h1v1h-1zM94.4 208h1v1h-1zM84 218h1v1h-1zM82.7 222.6h1v1h-1zM73.7 221.5h1v1h-1zM92.2 207.3h1v1h-1zM78.5 223.6h1v1h-1zM105.5 204.7h1v1h-1zM77.9 216.2h1v1h-1zM70.7 222.7h1v1h-1zM78 219.6h1v1h-1zM91.4 213.6h1v1h-1zM83.9 223.6h1v1h-1zM105.4 207.4h1v1h-1zM93.4 218.1h1v1h-1zM104.6 203h1v1h-1zM74 225.3h1v1h-1zM75.5 225.7h1v1h-1zM85.3 224.6h1v1h-1zM75.8 226.8h1v1h-1zM105.6 210.7h1v1h-1zM79.5 214.7h1v1h-1zM90.1 212.8h1v1h-1zM79 219.7h1v1h-1zM95 206.8h1v1h-1zM80.9 227.8h1v1h-1zM70.8 224.6h1v1h-1zM104.9 209.5h1v1h-1zM70.1 232.2h1v1h-1zM87.4 221h1v1h-1zM88.7 215.8h1v1h-1zM87.9 223.9h1v1h-1zM84.6 210.3h1v1h-1zM89.8 213.3h1v1h-1zM96.5 214.3h1v1h-1zM106.2 205.8h1v1h-1zM79.2 226.9h1v1h-1zM87 220.3h1v1h-1zM83.7 211.8h1v1h-1zM98.4 212.2h1v1h-1zM75.7 217.5h1v1h-1zM83.5 224.8h1v1h-1zM104.1 204h1v1h-1zM71 225.2h1v1h-1zM84.8 218.6h1v1h-1zM90.1 218.1h1v1h-1zM71.6 221h1v1h-1zM100.3 210.6h1v1h-1zM90.6 207.7h1v1h-1zM95 205.7h1v1h-1zM86.8 209h1v1h-1zM98.8 214.8h1v1h-1zM69.2 227.1h1v1h-1zM106.4 207h1v1h-1zM75.4 228.3h1v1h-1zM87.1 221.9h1v1h-1zM83.6 211.8h1v1h-1zM94.5 215.4h1v1h-1zM102.4 212.7h1v1h-1zM93 221.5h1v1h-1zM74.6 223.8h1v1h-1zM80.7 220.4h1v1h-1zM83.7 218.1h1v1h-1zM88.1 215.3h1v1h-1zM103.8 212.7h1v1h-1zM72.2 232.5h1v1h-1zM93.6 206.4h1v1h-1zM78.5 216.1h1v1h-1zM98.4 206.4h1v1h-1zM99.7 217.1h1v1h-1zM88.6 208.3h1v1h-1zM105.1 213.1h1v1h-1zM68.4 235.4h1v1h-1zM103.2 214.6h1v1h-1zM105.6 209.6h1v1h-1zM80.2 215.2h1v1h-1zM97.1 217h1v1h-1zM88 219.8h1v1h-1zM103.8 206.6h1v1h-1zM70.2 226.2h1v1h-1zM94.6 209.6h1v1h-1zM87.8 220.1h1v1h-1zM97.9 210.9h1v1h-1zM71.4 232.5h1v1h-1zM89.7 217.4h1v1h-1zM92.9 207.1h1v1h-1zM66.8 235.7h1v1h-1zM104.8 213.1h1v1h-1zM105.3 203.9h1v1h-1zM72.1 224.3h1v1h-1zM103.2 214.8h1v1h-1zM103.1 209h1v1h-1zM61.7 238.7h1v1h-1zM67.9 232.2h1v1h-1zM65.2 223.8h1v1h-1zM63.9 233.9h1v1h-1zM68.6 239.2h1v1h-1zM67.8 224.4h1v1h-1zM66.6 223.9h1v1h-1zM64.6 227.3h1v1h-1zM65.9 225.7h1v1h-1zM58.4 216.1h1v1h-1zM58.3 214.2h1v1h-1zM63.4 220.4h1v1h-1zM66.6 224.4h1v1h-1zM73 230.7h1v1h-1zM67.6 225h1v1h-1zM62.2 229.2h1v1h-1zM64.1 236.2h1v1h-1zM61.1 245.8h1v1h-1zM65.9 233.3h1v1h-1zM65.7 222.4h1v1h-1zM65.9 234h1v1h-1zM67.1 228.1h1v1h-1zM70.2 230.2h1v1h-1zM68.8 233.8h1v1h-1zM61.5 232.7h1v1h-1zM69.4 220.4h1v1h-1zM62.1 221.4h1v1h-1zM67.6 229.7h1v1h-1zM66.4 232.3h1v1h-1zM72.7 240.6h1v1h-1zM65.7 231.7h1v1h-1zM65.7 226h1v1h-1zM65 225.3h1v1h-1zM69.5 223.9h1v1h-1zM67.3 220.5h1v1h-1zM65 220.4h1v1h-1zM69.4 224.9h1v1h-1zM74.4 228.7h1v1h-1zM72.5 223.6h1v1h-1zM72 228.2h1v1h-1zM64 226.5h1v1h-1zM65.7 226.8h1v1h-1zM66.7 225.5h1v1h-1zM59.4 229.8h1v1h-1zM72.9 228.2h1v1h-1zM60.4 212.5h1v1h-1zM67.7 229.7h1v1h-1zM61.2 228.7h1v1h-1zM66.6 224.5h1v1h-1zM69.3 229.1h1v1h-1zM68.1 224h1v1h-1zM62.7 228.8h1v1h-1zM63.5 222.9h1v1h-1zM69.7 232.1h1v1h-1zM65.8 230.1h1v1h-1zM66.6 219.6h1v1h-1zM69.8 224h1v1h-1zM56.2 232.2h1v1h-1zM67.1 230.5h1v1h-1zM71.1 228.9h1v1h-1zM80.6 264.6h1v1h-1zM82.6 256.4h1v1h-1zM86.3 279h1v1h-1zM86.9 278.7h1v1h-1zM85.5 263.8h1v1h-1zM81.9 273.3h1v1h-1zM84.6 263.2h1v1h-1zM83.4 287.9h1v1h-1zM80.4 273.7h1v1h-1zM80.7 277.3h1v1h-1zM78.9 248.2h1v1h-1zM87.6 276.9h1v1h-1zM88.9 275.4h1v1h-1zM89.5 269.3h1v1h-1zM82.1 272.7h1v1h-1zM82.2 286.1h1v1h-1zM86.6 265.4h1v1h-1zM83.5 265.5h1v1h-1zM84.2 283.7h1v1h-1zM78.4 277.9h1v1h-1zM91.1 281.4h1v1h-1zM79.2 273.6h1v1h-1zM78.6 269.5h1v1h-1zM89.1 271.1h1v1h-1zM80.7 276.1h1v1h-1zM90.2 267.7h1v1h-1zM87 255.4h1v1h-1zM87.1 270.9h1v1h-1zM83.8 275.8h1v1h-1zM79.3 271.3h1v1h-1zM80.3 280h1v1h-1zM86 275.9h1v1h-1zM85 283.2h1v1h-1zM80.2 274.1h1v1h-1zM80.5 270.9h1v1h-1zM81.7 279h1v1h-1zM85.2 282.4h1v1h-1zM87.4 268h1v1h-1zM89.5 263.5h1v1h-1zM83.9 287.3h1v1h-1zM91.8 267.1h1v1h-1zM88.7 276.8h1v1h-1zM92 267.7h1v1h-1zM81.7 275.2h1v1h-1zM88 287.9h1v1h-1zM77.7 258.6h1v1h-1zM89.5 257.2h1v1h-1zM87.3 236.5h1v1h-1zM89.5 279.2h1v1h-1zM90.5 275.6h1v1h-1zM83.7 269.6h1v1h-1zM83.2 281.7h1v1h-1zM88.7 262.7h1v1h-1zM88.7 279.9h1v1h-1zM79.6 287.3h1v1h-1zM90.8 286.1h1v1h-1zM90.6 280.4h1v1h-1zM90 267.3h1v1h-1zM82.3 269.2h1v1h-1zM91 262.9h1v1h-1zM89.6 286.2h1v1h-1zM85.3 272.1h1v1h-1zM83.6 272h1v1h-1zM82.4 275.3h1v1h-1zM82.8 265.6h1v1h-1zM89.4 278.3h1v1h-1zM82.1 278.1h1v1h-1zM82.8 277.4h1v1h-1zM86.9 273.3h1v1h-1zM84.4 245.6h1v1h-1zM76.6 270.6h1v1h-1zM82.6 257.5h1v1h-1zM83.9 254.5h1v1h-1zM88.4 267.3h1v1h-1zM81.1 270.6h1v1h-1zM80.7 269.4h1v1h-1zM83.5 263.4h1v1h-1zM82.1 252.7h1v1h-1zM87.4 277.8h1v1h-1zM79.4 266.2h1v1h-1zM86.9 286.3h1v1h-1zM90.7 281.7h1v1h-1zM73.9 273.4h1v1h-1zM85.4 256.4h1v1h-1zM86.6 281h1v1h-1zM87.5 283.1h1v1h-1zM85.9 279.6h1v1h-1zM85.2 269.4h1v1h-1zM86.7 279.3h1v1h-1zM86 264.1h1v1h-1zM85.9 275.2h1v1h-1zM92.4 276.5h1v1h-1zM90 270h1v1h-1zM89.5 261.8h1v1h-1zM82.7 270.1h1v1h-1zM83.4 263h1v1h-1zM90.1 259.5h1v1h-1zM80.9 283.8h1v1h-1zM89.9 270.8h1v1h-1zM79.6 266.9h1v1h-1zM94.8 266.8h1v1h-1zM90.9 277.1h1v1h-1zM83.1 268.9h1v1h-1zM83.5 264.8h1v1h-1zM76.6 275.3h1v1h-1zM85.3 273.9h1v1h-1zM90.7 262.6h1v1h-1zM88.2 260.8h1v1h-1zM84.4 286.5h1v1h-1zM94.4 269.4h1v1h-1zM87.9 285.4h1v1h-1zM87.3 278.9h1v1h-1zM84.2 271.6h1v1h-1zM88 269.8h1v1h-1zM87.5 265.4h1v1h-1zM78.2 268.2h1v1h-1zM86.5 263.4h1v1h-1zM93.8 270.7h1v1h-1zM90.7 262.2h1v1h-1zM83.3 273.6h1v1h-1zM87 258.8h1v1h-1zM79.1 278h1v1h-1zM88.3 276h1v1h-1zM81.7 274.7h1v1h-1zM83.2 265.8h1v1h-1zM83 286.2h1v1h-1zM92.9 270.9h1v1h-1zM91.9 264h1v1h-1zM84.3 279.3h1v1h-1zM85.9 270h1v1h-1zM92.8 273.9h1v1h-1zM84.3 279.3h1v1h-1zM83.6 257.6h1v1h-1zM81.8 280.2h1v1h-1zM92.3 261h1v1h-1zM86.2 258.8h1v1h-1zM85.5 268.1h1v1h-1zM83.7 288.1h1v1h-1zM81.5 265.5h1v1h-1zM89.6 277.3h1v1h-1zM82.1 262.2h1v1h-1zM83.2 279.1h1v1h-1zM78.2 275.8h1v1h-1zM80.7 284.8h1v1h-1zM83.2 274.2h1v1h-1zM83.4 272.4h1v1h-1zM78.9 252h1v1h-1zM82.8 275.7h1v1h-1zM84.9 280.9h1v1h-1zM74.1 274.4h1v1h-1zM88 274.3h1v1h-1zM84.3 278.4h1v1h-1zM79.6 281.7h1v1h-1zM84.3 262.6h1v1h-1zM87.4 271.5h1v1h-1zM85.4 276.9h1v1h-1zM85.6 275h1v1h-1zM85.5 261.9h1v1h-1zM88.3 250.8h1v1h-1zM79.5 275.7h1v1h-1zM82.9 280.1h1v1h-1zM85.6 276.8h1v1h-1zM80.8 262.8h1v1h-1zM84.2 277.1h1v1h-1zM82.4 271h1v1h-1zM85.5 264.9h1v1h-1zM78.2 256.7h1v1h-1zM78.4 252.5h1v1h-1zM79.2 264.7h1v1h-1zM84.8 267.7h1v1h-1zM96.2 272.9h1v1h-1zM89.7 272.4h1v1h-1zM90.8 274.7h1v1h-1zM92.4 271.5h1v1h-1zM87 287.1h1v1h-1zM85.7 263.8h1v1h-1zM90.1 264.4h1v1h-1zM80.1 266.5h1v1h-1zM75.9 252.7h1v1h-1zM91.5 275h1v1h-1zM89.3 280h1v1h-1zM84.4 277.1h1v1h-1zM87.1 246.6h1v1h-1zM81.7 286h1v1h-1zM88.8 275.5h1v1h-1zM81.2 266.2h1v1h-1zM91.3 284h1v1h-1zM83.9 272.5h1v1h-1zM81.4 264.6h1v1h-1zM84.2 251.1h1v1h-1zM84.8 243.8h1v1h-1zM77.5 273h1v1h-1zM85.7 279.3h1v1h-1zM87.1 265.4h1v1h-1zM83.7 269.3h1v1h-1zM90.7 265.5h1v1h-1zM78 274.9h1v1h-1zM84.4 271.3h1v1h-1zM83.3 258.1h1v1h-1zM85.4 256.1h1v1h-1zM84.2 284.6h1v1h-1zM91.4 258.2h1v1h-1zM85.4 259.8h1v1h-1zM96.3 263h1v1h-1zM85.6 257.7h1v1h-1zM84.7 261.5h1v1h-1zM89.3 280.4h1v1h-1zM82.8 263.9h1v1h-1zM84.4 270.5h1v1h-1zM89.2 246.8h1v1h-1zM80.2 265.2h1v1h-1zM83.4 272.4h1v1h-1zM89.5 272.5h1v1h-1zM93.2 288h1v1h-1zM85 277.5h1v1h-1zM84.9 240.3h1v1h-1zM90.1 254.1h1v1h-1zM78.9 262.2h1v1h-1zM82.3 268.6h1v1h-1zM81.9 272.4h1v1h-1zM76.4 278.7h1v1h-1zM72.7 253.4h1v1h-1zM83.6 247.4h1v1h-1zM89.4 280.5h1v1h-1zM88.3 260.8h1v1h-1zM90.9 245.9h1v1h-1zM73.4 261.3h1v1h-1zM84.7 266.9h1v1h-1zM91.2 258.4h1v1h-1zM81.6 258.8h1v1h-1zM79.7 282.8h1v1h-1zM86.9 259.6h1v1h-1zM85.4 275h1v1h-1zM88.2 274h1v1h-1zM85.4 267.7h1v1h-1zM88.4 256.8h1v1h-1zM83.7 261.2h1v1h-1zM88.5 268.7h1v1h-1zM82.5 275h1v1h-1zM89.6 283.9h1v1h-1zM90.4 279.4h1v1h-1zM89.5 267.9h1v1h-1zM79.8 267.9h1v1h-1zM87.3 284.6h1v1h-1zM89.2 265.9h1v1h-1zM78.6 285.2h1v1h-1zM82.8 278h1v1h-1zM85.1 274.6h1v1h-1zM91.5 259.7h1v1h-1zM82.8 257.9h1v1h-1zM89.3 276.5h1v1h-1zM86.1 241.3h1v1h-1zM93.9 266.3h1v1h-1zM86.8 276.5h1v1h-1zM78.3 253.5h1v1h-1zM91 260.1h1v1h-1zM88.3 270.6h1v1h-1zM84.2 270.4h1v1h-1zM79.9 265.9h1v1h-1zM85.6 266.5h1v1h-1zM84.9 277.2h1v1h-1zM89.5 272.8h1v1h-1zM79.3 273h1v1h-1zM75.2 273.4h1v1h-1zM83.6 264.3h1v1h-1zM86.6 278.8h1v1h-1zM81.2 266.5h1v1h-1zM83.1 261.1h1v1h-1zM90.7 279.1h1v1h-1zM88.7 251.4h1v1h-1zM77.8 266.4h1v1h-1zM87 267.6h1v1h-1zM86.1 270.4h1v1h-1zM84.5 255h1v1h-1zM87.9 261.5h1v1h-1zM88 270.3h1v1h-1zM96.4 278.6h1v1h-1zM86.4 270.7h1v1h-1zM82.2 269.7h1v1h-1zM83.2 262.7h1v1h-1zM88.6 272.2h1v1h-1zM94 241.3h1v1h-1zM88.1 279h1v1h-1zM87.8 282.5h1v1h-1zM86.6 271.7h1v1h-1zM83.5 261.3h1v1h-1zM85.8 286.6h1v1h-1zM80.1 264.5h1v1h-1zM88.7 286.7h1v1h-1zM87.5 269h1v1h-1zM86.3 263.6h1v1h-1zM81.7 269.6h1v1h-1zM84.3 264.5h1v1h-1zM82.9 270.1h1v1h-1zM86.8 277.4h1v1h-1zM84.2 269.1h1v1h-1zM87.1 267h1v1h-1zM89.6 271.8h1v1h-1zM91.1 276.3h1v1h-1zM80.9 272h1v1h-1zM84 277.9h1v1h-1zM80.6 278.3h1v1h-1zM91 275.1h1v1h-1zM81.7 279.8h1v1h-1zM91.4 272.1h1v1h-1zM83.3 284.4h1v1h-1zM90 276.4h1v1h-1zM83.1 281.1h1v1h-1zM84.5 269.9h1v1h-1zM86 256.5h1v1h-1zM85.9 267.1h1v1h-1zM84.8 272.4h1v1h-1zM88.4 276h1v1h-1zM90.8 271.6h1v1h-1zM89.3 288h1v1h-1zM83.4 257.9h1v1h-1zM77.3 252.8h1v1h-1zM86 270h1v1h-1zM73 264.6h1v1h-1zM88.5 272.3h1v1h-1zM88.2 279.2h1v1h-1zM88.1 257.7h1v1h-1zM82.6 260.4h1v1h-1zM91.1 271.4h1v1h-1zM82.1 256h1v1h-1zM81.8 263.8h1v1h-1zM82.6 285.9h1v1h-1zM86.5 271.4h1v1h-1zM80.9 271.7h1v1h-1zM95.4 284h1v1h-1zM83.8 253.5h1v1h-1zM93.2 273.3h1v1h-1zM84.2 271.5h1v1h-1zM84.1 274.9h1v1h-1zM82.4 261.2h1v1h-1zM82.1 267.3h1v1h-1zM87.4 270.9h1v1h-1zM90.8 280h1v1h-1zM86 264.2h1v1h-1zM81.6 278.7h1v1h-1zM86.4 249h1v1h-1zM82 276.6h1v1h-1zM73.7 280.4h1v1h-1zM86 262.2h1v1h-1zM77.8 268.8h1v1h-1zM82.7 272h1v1h-1zM85.7 275.1h1v1h-1zM83.7 284.9h1v1h-1zM84.3 274.1h1v1h-1zM92.3 269.6h1v1h-1zM89.7 269.9h1v1h-1zM92.2 274.9h1v1h-1zM86.4 280.4h1v1h-1zM86.5 274.8h1v1h-1zM93.3 266.1h1v1h-1zM82.7 268.4h1v1h-1zM87 263.5h1v1h-1zM86.1 262.7h1v1h-1zM86.8 266.8h1v1h-1zM88.1 265.8h1v1h-1zM86 280.2h1v1h-1zM89.1 259.2h1v1h-1zM81.8 272.8h1v1h-1zM87.7 259.4h1v1h-1zM80.9 280.5h1v1h-1zM90.2 275.3h1v1h-1zM89.8 285.5h1v1h-1zM84.6 277.9h1v1h-1zM83.2 261h1v1h-1zM85.4 272.4h1v1h-1zM87.9 265.3h1v1h-1zM78.8 266.4h1v1h-1zM81.1 261.1h1v1h-1zM89.6 268.7h1v1h-1zM84.5 273h1v1h-1zM79.8 274.3h1v1h-1zM83.5 270.3h1v1h-1zM77.7 272.9h1v1h-1zM86 271h1v1h-1zM85.1 269.3h1v1h-1zM93.5 268.8h1v1h-1zM79.9 272.6h1v1h-1zM88.2 269.9h1v1h-1zM80.2 279.8h1v1h-1zM80.9 276.6h1v1h-1zM84.5 262.6h1v1h-1zM81.7 272h1v1h-1zM93.4 275.3h1v1h-1zM85.2 269.1h1v1h-1zM82.1 269.6h1v1h-1zM95.5 271h1v1h-1zM81.9 278.5h1v1h-1zM83.7 273.9h1v1h-1zM84.4 266.3h1v1h-1zM82 271.5h1v1h-1zM88 285.1h1v1h-1zM90.6 261.9h1v1h-1zM79.7 279h1v1h-1zM83.2 269.4h1v1h-1zM79.2 278.7h1v1h-1zM79.6 272.6h1v1h-1zM83.7 270.9h1v1h-1zM81.4 256h1v1h-1zM86.7 266.6h1v1h-1zM86.1 275.8h1v1h-1zM86.5 269h1v1h-1zM81.3 271.9h1v1h-1zM82.7 272.5h1v1h-1zM87 262h1v1h-1zM87.8 273.2h1v1h-1zM84.9 277.4h1v1h-1zM87.6 256.5h1v1h-1zM84.2 269.5h1v1h-1zM80.2 243.2h1v1h-1zM86.6 254.3h1v1h-1zM83.4 280.8h1v1h-1zM77.8 285h1v1h-1zM86.9 258.4h1v1h-1zM88.4 271.2h1v1h-1zM83.2 268.5h1v1h-1zM91.7 283.3h1v1h-1zM87.3 275.5h1v1h-1zM89.5 272.9h1v1h-1zM82.4 278.4h1v1h-1zM83.9 267.3h1v1h-1zM90.8 282.3h1v1h-1zM85.1 268.5h1v1h-1zM85.4 283.6h1v1h-1zM91.7 274h1v1h-1zM90.3 274.5h1v1h-1zM86.3 260.1h1v1h-1zM93.6 255.9h1v1h-1zM78.8 255.6h1v1h-1zM85 277.2h1v1h-1zM82.9 249.5h1v1h-1zM91.7 286.4h1v1h-1zM92.1 268.7h1v1h-1zM83.2 258h1v1h-1zM85.9 275.7h1v1h-1zM89.4 259.1h1v1h-1zM87.6 272.5h1v1h-1zM86.4 269.3h1v1h-1zM89.6 284.6h1v1h-1zM93.7 281.5h1v1h-1zM85.8 281.9h1v1h-1zM80.5 267.2h1v1h-1zM84.8 285.1h1v1h-1zM85.2 271.3h1v1h-1zM83.7 273.3h1v1h-1zM88.3 276.7h1v1h-1zM88.5 274.9h1v1h-1zM89.2 258.1h1v1h-1zM87.4 278.8h1v1h-1zM86.5 255.4h1v1h-1zM80.9 277h1v1h-1zM83.9 271.3h1v1h-1zM81.6 272.8h1v1h-1zM86.7 260.6h1v1h-1zM84.8 282.5h1v1h-1zM85.2 270.5h1v1h-1zM87.6 280.9h1v1h-1zM84.1 264.4h1v1h-1zM89.9 264.5h1v1h-1zM89.8 272.8h1v1h-1zM81.3 282.8h1v1h-1zM91 258.2h1v1h-1zM83.9 266h1v1h-1zM82.2 266.8h1v1h-1zM84 269.2h1v1h-1zM79.9 267.3h1v1h-1zM86.8 283.3h1v1h-1zM90.5 279.5h1v1h-1zM78.8 272.3h1v1h-1zM87.2 280.9h1v1h-1zM87.8 282.8h1v1h-1zM88.2 265.6h1v1h-1zM88.1 264.4h1v1h-1zM87.2 279.3h1v1h-1zM89.2 247.3h1v1h-1zM86.8 265.5h1v1h-1zM88.8 280.2h1v1h-1zM86.7 263.6h1v1h-1zM84.2 281.1h1v1h-1zM85.1 274.4h1v1h-1zM87.9 258.9h1v1h-1zM89.8 267.2h1v1h-1zM77.1 275.9h1v1h-1zM79.9 262.7h1v1h-1zM78.3 278.2h1v1h-1zM83.1 275.3h1v1h-1zM82.5 268.9h1v1h-1zM86.2 276.1h1v1h-1zM84 268.3h1v1h-1zM91 274.3h1v1h-1zM82.7 261.6h1v1h-1zM82.3 286.8h1v1h-1zM81.8 269.3h1v1h-1zM84 284.2h1v1h-1zM81.4 271.9h1v1h-1zM79.5 273.7h1v1h-1zM86.1 271.6h1v1h-1zM83 275.3h1v1h-1zM81.1 263.4h1v1h-1zM84.2 253.1h1v1h-1zM86.7 275.4h1v1h-1zM94.1 272.5h1v1h-1zM92.3 288.1h1v1h-1zM83.4 257.7h1v1h-1zM76.9 262.3h1v1h-1zM76.9 280.2h1v1h-1zM77.4 284.4h1v1h-1zM89.2 273.4h1v1h-1zM84.6 272.7h1v1h-1zM79 252.7h1v1h-1zM83.1 264.7h1v1h-1zM82.4 278h1v1h-1zM91.6 275.7h1v1h-1zM77 262.7h1v1h-1zM83.3 281h1v1h-1zM86.3 287.4h1v1h-1zM87.3 271.6h1v1h-1zM76 273.6h1v1h-1zM86.1 279h1v1h-1zM79.9 282.4h1v1h-1zM82.8 281.1h1v1h-1zM78.5 262.7h1v1h-1zM88.6 262.3h1v1h-1zM98.6 266.3h1v1h-1zM89.6 243.7h1v1h-1zM84 258.2h1v1h-1zM77.8 270h1v1h-1zM89 265.1h1v1h-1zM90.4 263.2h1v1h-1zM80.6 281.3h1v1h-1zM89.3 275.6h1v1h-1zM77.6 280.7h1v1h-1zM79.8 270.3h1v1h-1zM85.9 267.7h1v1h-1zM79.3 263h1v1h-1zM88.5 274.6h1v1h-1zM91.4 253.1h1v1h-1zM85.6 262.9h1v1h-1zM87.4 278.2h1v1h-1zM92.2 281h1v1h-1zM87.5 271.4h1v1h-1zM90.9 260h1v1h-1zM91.5 278h1v1h-1zM80.9 264.3h1v1h-1zM94.7 270.7h1v1h-1zM90.4 261.9h1v1h-1zM88.9 287.7h1v1h-1zM86.8 263.2h1v1h-1zM86.4 259.8h1v1h-1zM81.1 271.5h1v1h-1zM83.7 278.6h1v1h-1zM84 285.2h1v1h-1zM90.1 271.4h1v1h-1zM87.5 259h1v1h-1zM87.2 275.1h1v1h-1zM85 274.8h1v1h-1zM90.9 255.3h1v1h-1zM75 269.3h1v1h-1zM81.6 268.9h1v1h-1zM89.5 261.7h1v1h-1zM83.7 274.4h1v1h-1zM88.2 283.1h1v1h-1zM92.2 282.6h1v1h-1zM88.9 262.7h1v1h-1zM79.2 265.9h1v1h-1zM84.5 279.3h1v1h-1zM80.5 268.5h1v1h-1zM87.5 268.3h1v1h-1zM84.4 245.1h1v1h-1zM87.7 265.2h1v1h-1zM84.6 263.2h1v1h-1zM93.7 271.5h1v1h-1zM86.5 270.5h1v1h-1zM87.9 269h1v1h-1zM90 273.7h1v1h-1zM88.4 268.8h1v1h-1zM85.4 276h1v1h-1zM87.7 264.8h1v1h-1zM88 269.9h1v1h-1zM83.9 271.2h1v1h-1zM83 249.9h1v1h-1zM84.5 278.4h1v1h-1zM87.5 271.4h1v1h-1zM83.6 251.4h1v1h-1zM80.9 269.2h1v1h-1zM84.1 273.7h1v1h-1zM83.4 262.6h1v1h-1zM88.1 283.4h1v1h-1zM83.3 265.8h1v1h-1zM83.8 256.3h1v1h-1zM93.5 280.4h1v1h-1zM87.4 270.6h1v1h-1zM81.5 273.5h1v1h-1zM90.6 255.1h1v1h-1zM83.9 257.5h1v1h-1zM82 261.4h1v1h-1zM88.3 270.4h1v1h-1zM79.5 270.6h1v1h-1zM85.2 286.5h1v1h-1zM87.9 288.2h1v1h-1zM88.7 273.4h1v1h-1zM83.3 271h1v1h-1zM85.1 272.6h1v1h-1zM90.7 282.6h1v1h-1zM77.8 266.9h1v1h-1zM89 270.9h1v1h-1zM86.8 269.1h1v1h-1zM91.4 264.7h1v1h-1zM80.7 275.9h1v1h-1zM90.4 263.3h1v1h-1zM81.8 270.8h1v1h-1zM86.8 276.3h1v1h-1zM75 252h1v1h-1zM85.3 272.8h1v1h-1zM87.2 278.9h1v1h-1zM89.2 268.4h1v1h-1zM82.8 281.1h1v1h-1zM80.5 277.6h1v1h-1zM88.5 277.1h1v1h-1zM84 267.6h1v1h-1zM90 269.7h1v1h-1zM91.6 269.6h1v1h-1zM84.5 261.6h1v1h-1zM84.8 273.9h1v1h-1zM82.4 260.9h1v1h-1zM76.9 262.2h1v1h-1zM85.5 257.4h1v1h-1zM88.6 283.6h1v1h-1zM90.1 266.1h1v1h-1zM85.4 262.7h1v1h-1zM93.4 280.3h1v1h-1zM83.3 267.6h1v1h-1zM85.4 275.5h1v1h-1zM83.2 270.1h1v1h-1zM83.7 275.8h1v1h-1zM84.4 274h1v1h-1zM82.6 249.3h1v1h-1zM83.8 287.4h1v1h-1zM86.8 282.5h1v1h-1zM86 256.7h1v1h-1zM81.1 281.3h1v1h-1zM87.7 269.6h1v1h-1zM82.1 273.2h1v1h-1zM87.5 285.4h1v1h-1zM85.9 282.4h1v1h-1zM77.3 282.2h1v1h-1zM89.6 283.4h1v1h-1zM82.8 265.7h1v1h-1zM82.8 258.6h1v1h-1zM83.7 280.8h1v1h-1zM86 254.1h1v1h-1zM88 268.3h1v1h-1zM84.3 268.2h1v1h-1zM92.8 264.6h1v1h-1zM83.1 286.2h1v1h-1zM83.6 275.4h1v1h-1zM84.8 269.6h1v1h-1zM86.3 281.4h1v1h-1zM91.8 267.7h1v1h-1zM95.6 284.6h1v1h-1zM84.9 270.6h1v1h-1zM88.3 270.3h1v1h-1zM85.1 284.1h1v1h-1zM89.3 251.5h1v1h-1zM81 258.9h1v1h-1zM89.2 261.2h1v1h-1zM76.2 255.1h1v1h-1zM87.8 271.9h1v1h-1zM88.4 275.1h1v1h-1zM96.2 271.7h1v1h-1zM81.7 271.7h1v1h-1zM88.6 281.6h1v1h-1zM88.4 283.2h1v1h-1zM81.5 285h1v1h-1zM86.7 270.5h1v1h-1zM81.9 272.2h1v1h-1zM80.6 287.4h1v1h-1zM79.1 276.3h1v1h-1zM84.6 285.8h1v1h-1zM81 267h1v1h-1zM76.6 271.5h1v1h-1zM86.8 265.3h1v1h-1zM78.2 271.8h1v1h-1zM88.5 276.4h1v1h-1zM86.6 267.3h1v1h-1zM78.7 256.4h1v1h-1zM81.6 281h1v1h-1zM79.7 260.6h1v1h-1zM83.9 275.1h1v1h-1zM83.9 263.9h1v1h-1zM96.2 272.7h1v1h-1zM76.5 272.7h1v1h-1zM83 263.6h1v1h-1zM87.9 259.2h1v1h-1zM90 264.5h1v1h-1zM91.3 272.2h1v1h-1zM81.3 280.5h1v1h-1zM73 253.9h1v1h-1zM84.5 276.7h1v1h-1zM89.2 267h1v1h-1zM88.6 272.1h1v1h-1zM79.4 275.3h1v1h-1zM81.9 280.2h1v1h-1zM76.1 276.2h1v1h-1zM82.3 271.7h1v1h-1zM79.5 288.3h1v1h-1zM86.7 274.9h1v1h-1zM82.2 271.9h1v1h-1zM88.1 283.8h1v1h-1zM85 260h1v1h-1zM84 262.1h1v1h-1zM93.2 287.1h1v1h-1zM90.6 269.9h1v1h-1zM79.7 253.3h1v1h-1zM91.5 280.3h1v1h-1zM88.8 284.5h1v1h-1zM91.3 263.8h1v1h-1zM87.5 258.3h1v1h-1zM77.6 271.4h1v1h-1zM83.8 275.6h1v1h-1zM74.9 265.7h1v1h-1zM79.4 262.3h1v1h-1zM82.4 277.4h1v1h-1zM91 277.4h1v1h-1zM85.7 255.3h1v1h-1zM86.4 260.2h1v1h-1zM88.7 268.5h1v1h-1zM81.5 265.3h1v1h-1zM90.3 274.1h1v1h-1zM86.4 277.2h1v1h-1zM83 275.6h1v1h-1zM84.4 281.5h1v1h-1zM88.1 255.6h1v1h-1zM91.7 264.6h1v1h-1zM84.1 282.8h1v1h-1zM84.5 256.7h1v1h-1zM93.4 285.8h1v1h-1zM99.5 277.5h1v1h-1zM93.4 273.2h1v1h-1zM86.3 270.6h1v1h-1zM83.9 259.7h1v1h-1zM88.5 260.6h1v1h-1zM86.8 266.3h1v1h-1zM82 267.3h1v1h-1zM91.4 284.6h1v1h-1zM96.6 261.2h1v1h-1zM81.8 265.3h1v1h-1zM82 253.7h1v1h-1zM83.2 273.5h1v1h-1zM79.9 271.8h1v1h-1zM89 283.2h1v1h-1zM88.4 277.4h1v1h-1zM87.2 262.9h1v1h-1zM88.8 274.1h1v1h-1zM78.9 274.7h1v1h-1zM86.1 271.2h1v1h-1zM86.7 260.5h1v1h-1zM89.4 275.4h1v1h-1zM87.1 259.2h1v1h-1zM82.9 270.9h1v1h-1zM90.5 268.6h1v1h-1zM91.6 244.9h1v1h-1zM91.4 278.1h1v1h-1zM87.8 268h1v1h-1zM81.4 265.3h1v1h-1zM84.7 281.4h1v1h-1zM88.8 258.1h1v1h-1zM79.1 272h1v1h-1zM97.8 274.3h1v1h-1zM90.9 265.9h1v1h-1zM82.1 271h1v1h-1zM83 262.9h1v1h-1zM85.1 265.7h1v1h-1zM84.9 278.7h1v1h-1zM80.1 262.7h1v1h-1zM84.9 265.8h1v1h-1zM78.6 264.5h1v1h-1zM82.7 277.1h1v1h-1zM93.4 267.9h1v1h-1zM85.2 262.9h1v1h-1zM83.8 275.2h1v1h-1zM92.4 250.9h1v1h-1zM86.9 252h1v1h-1zM88.3 274.8h1v1h-1zM90.3 266.7h1v1h-1zM84 275.3h1v1h-1zM89.4 257.3h1v1h-1zM88.3 273h1v1h-1zM93.1 273.8h1v1h-1zM89.9 277.7h1v1h-1zM85.4 264h1v1h-1zM84.1 261.8h1v1h-1zM82.4 287.6h1v1h-1zM92.3 260.6h1v1h-1zM83.5 280h1v1h-1zM75.3 285.7h1v1h-1zM89.1 270.6h1v1h-1zM81.4 254.6h1v1h-1zM88.7 280.6h1v1h-1zM79.6 264.4h1v1h-1zM86.6 260.6h1v1h-1zM84.8 265.7h1v1h-1zM86.9 262.3h1v1h-1zM87.4 279.8h1v1h-1zM82.5 273.8h1v1h-1zM89.1 279h1v1h-1zM83.2 280.8h1v1h-1zM86 267.8h1v1h-1zM91.8 279.2h1v1h-1zM81.4 284.5h1v1h-1zM92.6 273.6h1v1h-1zM91.1 269.1h1v1h-1zM82.4 262.2h1v1h-1zM82.7 267.8h1v1h-1zM87.9 272h1v1h-1zM82.6 274.5h1v1h-1zM85.8 257.9h1v1h-1zM79.4 267.7h1v1h-1zM88.3 269.8h1v1h-1zM78.3 265.7h1v1h-1zM86.1 265.5h1v1h-1zM88.6 275.5h1v1h-1zM82.5 261.7h1v1h-1zM78.5 276.8h1v1h-1zM79.8 260.7h1v1h-1zM76.9 274.1h1v1h-1zM93.5 260.3h1v1h-1zM76.9 284.2h1v1h-1zM79.7 279.6h1v1h-1zM86.9 285.9h1v1h-1zM85.7 263.2h1v1h-1zM90.1 258.2h1v1h-1zM91.4 258.1h1v1h-1zM87.5 269.6h1v1h-1zM85.2 283h1v1h-1zM82.9 279.3h1v1h-1zM84.7 278.9h1v1h-1zM89.7 259.1h1v1h-1zM88.2 283.2h1v1h-1zM88.3 279.5h1v1h-1zM78 266.2h1v1h-1zM82 245.3h1v1h-1zM82.4 263.6h1v1h-1zM83 270.5h1v1h-1zM80.7 288.3h1v1h-1zM88.5 274.1h1v1h-1zM90.2 271.2h1v1h-1zM93.6 288.5h1v1h-1zM83.1 288.1h1v1h-1zM85 275.8h1v1h-1zM85.9 278.4h1v1h-1zM85.4 285h1v1h-1zM81.7 264.4h1v1h-1zM89.1 276.1h1v1h-1zM76.4 267.5h1v1h-1zM83.3 261.8h1v1h-1zM76.9 277.1h1v1h-1zM88.3 283.5h1v1h-1zM80.3 280h1v1h-1zM85.4 283.8h1v1h-1zM80.8 270.1h1v1h-1zM86.6 256.2h1v1h-1zM83.7 265.3h1v1h-1zM94.3 276.1h1v1h-1zM80 265.8h1v1h-1zM88 284.7h1v1h-1zM86 269.9h1v1h-1zM84.2 278.8h1v1h-1zM87 270.1h1v1h-1zM91.4 280.2h1v1h-1zM79.4 269.6h1v1h-1zM86.6 272.2h1v1h-1zM84.5 284.1h1v1h-1zM81.3 273.3h1v1h-1zM89.1 275.2h1v1h-1zM79.5 262.8h1v1h-1zM89.5 269.8h1v1h-1zM88 277.2h1v1h-1zM77.4 258.9h1v1h-1zM87.3 267.5h1v1h-1zM76.8 260.3h1v1h-1zM88 274.1h1v1h-1zM78.3 281.4h1v1h-1zM85.2 275.6h1v1h-1zM84.3 269.1h1v1h-1zM78.2 261.5h1v1h-1zM77.1 255.1h1v1h-1zM87.7 272.2h1v1h-1zM83.3 288h1v1h-1zM90.4 269.3h1v1h-1zM85.3 271.4h1v1h-1zM97.9 267.4h1v1h-1zM86.3 260.2h1v1h-1zM93.5 283.3h1v1h-1zM87.1 279.5h1v1h-1zM85.9 256.6h1v1h-1zM88 259h1v1h-1zM82.1 286.2h1v1h-1zM82.6 262.8h1v1h-1zM93 271.6h1v1h-1zM84.7 261.3h1v1h-1zM80.3 275.4h1v1h-1zM87.8 263.8h1v1h-1zM81.8 265.7h1v1h-1zM85.9 260.4h1v1h-1zM93.8 274.4h1v1h-1zM90.9 279.1h1v1h-1zM88.5 278.1h1v1h-1zM88.1 272.1h1v1h-1zM86.9 271.2h1v1h-1zM85.4 268.3h1v1h-1zM95.9 280.4h1v1h-1zM85.3 259.2h1v1h-1zM93.2 263.3h1v1h-1zM85.1 279.5h1v1h-1zM91.1 257.3h1v1h-1zM86.3 269.2h1v1h-1zM82.8 274.1h1v1h-1zM92.8 286.1h1v1h-1zM92.5 271.6h1v1h-1zM82.9 273.5h1v1h-1zM85.3 265.9h1v1h-1zM89.9 277.5h1v1h-1zM87.1 279.4h1v1h-1zM86.2 262.8h1v1h-1zM90.2 279h1v1h-1zM79.8 282.4h1v1h-1zM93 277.1h1v1h-1zM87.8 264.2h1v1h-1zM72.8 281.9h1v1h-1zM81.7 286.5h1v1h-1zM85.4 266.9h1v1h-1zM96.1 252.8h1v1h-1zM85.8 264.7h1v1h-1zM79 272.3h1v1h-1zM92 285.8h1v1h-1zM87.7 284.7h1v1h-1zM85.9 279.3h1v1h-1zM90.6 265.3h1v1h-1zM84.2 280.1h1v1h-1zM85.4 272h1v1h-1zM90.5 261.3h1v1h-1zM87.9 253.2h1v1h-1zM90.3 282.7h1v1h-1zM84.3 254.9h1v1h-1zM93.6 285.3h1v1h-1zM79.8 272.5h1v1h-1zM88.3 263.2h1v1h-1zM84.6 265.4h1v1h-1zM86.9 264.9h1v1h-1zM86.2 276.1h1v1h-1zM85.3 282.7h1v1h-1zM81.2 264.1h1v1h-1zM87.4 268.6h1v1h-1zM91.9 265.2h1v1h-1zM82.3 284.2h1v1h-1zM94.6 282.4h1v1h-1zM93.1 263.1h1v1h-1zM82.2 268.9h1v1h-1zM89.7 273.9h1v1h-1zM81.1 253.2h1v1h-1zM85.5 266.4h1v1h-1zM81.1 273.6h1v1h-1zM83.6 257.3h1v1h-1zM77.7 274.3h1v1h-1zM85.4 272.6h1v1h-1zM81.3 266.2h1v1h-1zM82 283h1v1h-1zM77.2 262.2h1v1h-1zM86.2 276.6h1v1h-1zM94.6 269.4h1v1h-1zM84.4 283.7h1v1h-1zM85.4 263.8h1v1h-1zM80.9 278.4h1v1h-1zM83.9 278.6h1v1h-1zM82.2 284.1h1v1h-1zM82 256h1v1h-1zM83.7 271.3h1v1h-1zM87.4 260.7h1v1h-1zM84.5 282.4h1v1h-1zM87.3 286.5h1v1h-1zM91.9 268.9h1v1h-1zM90.2 274.6h1v1h-1zM84.1 286h1v1h-1zM78 274.2h1v1h-1zM85.2 270.7h1v1h-1zM86.4 254.7h1v1h-1zM90.5 264.6h1v1h-1zM86.6 282.7h1v1h-1zM98.5 256.6h1v1h-1zM84.5 275.1h1v1h-1zM88.9 274.4h1v1h-1zM81.9 272h1v1h-1zM81.4 280.5h1v1h-1zM84.6 264.2h1v1h-1zM86.9 286.8h1v1h-1zM89.1 267.5h1v1h-1zM71.8 282.8h1v1h-1zM91 265.9h1v1h-1zM92.7 274.9h1v1h-1zM92 268.6h1v1h-1zM85.4 261.1h1v1h-1zM88.4 265.4h1v1h-1zM91.7 287.6h1v1h-1zM81.5 280.7h1v1h-1zM88.9 271.7h1v1h-1zM88.2 269.3h1v1h-1zM85.3 258.5h1v1h-1zM94 269.2h1v1h-1zM82.8 275.9h1v1h-1zM81.5 284.9h1v1h-1zM85.7 282h1v1h-1zM83.1 287.5h1v1h-1zM91.9 276.2h1v1h-1zM78.4 264.5h1v1h-1zM80 268.4h1v1h-1zM87.3 288.3h1v1h-1zM89.2 273.2h1v1h-1zM80.5 287.1h1v1h-1zM91.7 255.3h1v1h-1zM77.2 266.9h1v1h-1zM90.5 263.6h1v1h-1zM81.8 274.9h1v1h-1zM83.7 263.7h1v1h-1zM93.9 258h1v1h-1zM85.5 271.3h1v1h-1zM82.9 247.8h1v1h-1zM86.9 265.8h1v1h-1zM94.3 276.6h1v1h-1zM86.1 259.9h1v1h-1zM82.3 271.5h1v1h-1zM86.7 262.7h1v1h-1zM80.2 268.4h1v1h-1zM82.7 274.6h1v1h-1zM83.2 277.1h1v1h-1zM88.7 276.7h1v1h-1zM83.6 264.1h1v1h-1zM87.9 288.3h1v1h-1zM90.9 275.6h1v1h-1zM92.9 265.2h1v1h-1zM78.2 286.4h1v1h-1zM85.5 267.9h1v1h-1zM88.6 281.2h1v1h-1zM86.9 271h1v1h-1zM85.7 267h1v1h-1zM83.4 263.3h1v1h-1zM81.4 263.8h1v1h-1zM78.1 269.2h1v1h-1zM90.1 286.6h1v1h-1zM84.8 274.1h1v1h-1zM85.9 271.3h1v1h-1zM87.2 276.7h1v1h-1zM89.3 268.9h1v1h-1zM94.2 258.8h1v1h-1zM84.9 256.3h1v1h-1zM88.7 287.5h1v1h-1zM78.4 269.2h1v1h-1zM82.9 275.3h1v1h-1zM90.9 280.5h1v1h-1zM86.2 268.4h1v1h-1zM86 270.9h1v1h-1zM86.1 273.2h1v1h-1zM84.7 272.2h1v1h-1zM84.7 288.5h1v1h-1zM82.8 271.3h1v1h-1zM83.3 282h1v1h-1zM83.8 273.6h1v1h-1zM84.9 279.1h1v1h-1zM86 255.6h1v1h-1zM85.6 284.9h1v1h-1zM87.6 265.6h1v1h-1zM80.7 274.5h1v1h-1zM81.5 268.6h1v1h-1zM89.3 267.2h1v1h-1zM82.5 257.7h1v1h-1zM87.9 243.5h1v1h-1zM80.4 281.7h1v1h-1zM79.2 269.7h1v1h-1zM83 252.2h1v1h-1zM83.6 279.6h1v1h-1zM92.1 277.1h1v1h-1zM85.8 253.8h1v1h-1zM81.7 266.7h1v1h-1zM92.4 275.2h1v1h-1zM89.4 271.5h1v1h-1zM82.3 284.4h1v1h-1zM81.1 261.8h1v1h-1zM84.9 265.4h1v1h-1zM89 245.2h1v1h-1zM79.5 284.6h1v1h-1zM90.9 279.3h1v1h-1zM84 267.5h1v1h-1zM89.4 252.7h1v1h-1zM85.1 281.7h1v1h-1zM87.9 256.8h1v1h-1zM88.6 258.3h1v1h-1zM91.5 251.2h1v1h-1zM82.6 256.6h1v1h-1zM94.2 261.9h1v1h-1zM80.1 260.2h1v1h-1zM87.1 284.2h1v1h-1zM88.8 280h1v1h-1zM85.9 273h1v1h-1zM89.7 265.9h1v1h-1zM78.6 271.6h1v1h-1zM85.6 257.6h1v1h-1zM90.2 276.5h1v1h-1zM85.8 261.8h1v1h-1zM80.8 266.5h1v1h-1zM86.5 275.8h1v1h-1zM86.6 262.4h1v1h-1zM81.4 256.8h1v1h-1zM91.7 283.3h1v1h-1zM83.4 253h1v1h-1zM81.2 257.9h1v1h-1zM86.3 259.1h1v1h-1zM82.9 264h1v1h-1zM84.9 270.5h1v1h-1zM86.8 236.5h1v1h-1zM83.9 266.5h1v1h-1zM88.4 287.5h1v1h-1zM87.1 285.2h1v1h-1zM91.2 281.7h1v1h-1zM81.4 271.1h1v1h-1zM86.1 274.4h1v1h-1zM86.9 265.9h1v1h-1zM87.1 253.5h1v1h-1zM76.5 276h1v1h-1zM81.1 283.9h1v1h-1zM87.2 275.3h1v1h-1zM88.3 271.7h1v1h-1zM85.9 281.6h1v1h-1zM86.6 275.5h1v1h-1zM91.2 284.4h1v1h-1zM84.2 267.3h1v1h-1zM82.4 252.1h1v1h-1zM92.4 277.4h1v1h-1zM88.5 281.8h1v1h-1zM85.1 263.4h1v1h-1zM82.6 274.6h1v1h-1zM92.9 280h1v1h-1zM84.6 241.7h1v1h-1zM91.4 280.6h1v1h-1zM79.3 269.8h1v1h-1zM85.1 259.1h1v1h-1zM88.6 254.4h1v1h-1zM83.5 268.4h1v1h-1zM87.8 279.8h1v1h-1zM80.4 264.6h1v1h-1zM84.9 268.4h1v1h-1zM89 279.3h1v1h-1zM81 261.5h1v1h-1zM92 271.1h1v1h-1zM84.9 269.7h1v1h-1zM85.5 277.3h1v1h-1zM83.7 281.6h1v1h-1zM88.4 270h1v1h-1zM83.7 287.6h1v1h-1zM86.8 266.7h1v1h-1zM91.4 267.7h1v1h-1zM91.4 272.9h1v1h-1zM79.1 269.1h1v1h-1zM91.8 280.7h1v1h-1zM83.6 240.1h1v1h-1zM87.2 252.2h1v1h-1zM86.3 247.7h1v1h-1zM87.1 287.7h1v1h-1zM83.2 281.2h1v1h-1zM88.4 264.2h1v1h-1zM90.3 276.3h1v1h-1zM83.3 252.2h1v1h-1zM85.7 268.6h1v1h-1zM90.6 279.2h1v1h-1zM87 266.5h1v1h-1zM88 284.9h1v1h-1zM84.3 273.2h1v1h-1zM87.3 275.6h1v1h-1zM84.6 274.9h1v1h-1zM84.3 280.7h1v1h-1zM75.4 286.9h1v1h-1zM77.8 272.8h1v1h-1zM87.4 276.3h1v1h-1zM89.1 270.9h1v1h-1zM87.8 275.3h1v1h-1zM86.2 263h1v1h-1zM84.4 283.3h1v1h-1zM88.3 280h1v1h-1zM84 275.8h1v1h-1zM85.8 272h1v1h-1zM92.4 264.7h1v1h-1zM79.6 261.6h1v1h-1zM83.1 259.7h1v1h-1zM84.7 263.3h1v1h-1zM77.3 282.4h1v1h-1zM80.5 276.9h1v1h-1zM90.5 256.2h1v1h-1zM88 261.3h1v1h-1zM85.1 287.2h1v1h-1zM81.4 281.7h1v1h-1zM85.5 264.6h1v1h-1zM83.1 277.2h1v1h-1zM90.5 265.2h1v1h-1zM86.6 277.2h1v1h-1zM85.2 277.1h1v1h-1zM77.7 276.6h1v1h-1zM76.5 264.8h1v1h-1zM85.7 271.8h1v1h-1zM90 247h1v1h-1zM82.2 267.5h1v1h-1zM86.1 261.3h1v1h-1zM78.8 281.4h1v1h-1zM79.1 287.6h1v1h-1zM85.4 275.7h1v1h-1zM88.8 261.1h1v1h-1zM89 260.4h1v1h-1zM91 281h1v1h-1zM82.2 269.7h1v1h-1zM84.9 269.8h1v1h-1zM89.1 260.6h1v1h-1zM81.1 275.5h1v1h-1zM84.3 275h1v1h-1zM85.7 281.7h1v1h-1zM85.6 262.3h1v1h-1zM89.6 272.4h1v1h-1zM87.5 256.9h1v1h-1zM83.7 275.3h1v1h-1zM75.4 272.9h1v1h-1zM89.2 268.7h1v1h-1zM90.1 282.9h1v1h-1zM87.9 258.6h1v1h-1zM87.6 277.4h1v1h-1zM91 279.3h1v1h-1zM83.4 276h1v1h-1zM85.3 265h1v1h-1zM81.2 266.6h1v1h-1zM84.7 283.6h1v1h-1zM82 272.7h1v1h-1zM82 276.4h1v1h-1zM76.8 269h1v1h-1zM85.2 282.3h1v1h-1zM90.1 280.2h1v1h-1zM72.3 258.4h1v1h-1zM85.4 284.6h1v1h-1zM82.6 282.2h1v1h-1zM86.9 276.6h1v1h-1zM84.5 272.3h1v1h-1zM85.2 282.5h1v1h-1zM86.3 271.9h1v1h-1zM87.2 260.7h1v1h-1zM84.4 272.6h1v1h-1zM84.8 273.8h1v1h-1zM81.5 283.6h1v1h-1zM85 259.2h1v1h-1zM82.1 268h1v1h-1zM90.6 269.4h1v1h-1zM84.5 283.8h1v1h-1zM88.8 285.3h1v1h-1zM91.3 275.1h1v1h-1zM90.1 284.8h1v1h-1zM82.5 274.1h1v1h-1zM93 274h1v1h-1zM77.1 247.4h1v1h-1zM91.9 262.8h1v1h-1zM74.4 260.3h1v1h-1zM81.5 277.8h1v1h-1zM85.2 273.6h1v1h-1zM82.4 260.7h1v1h-1zM76.2 273.2h1v1h-1zM78.9 271.3h1v1h-1zM86.6 277h1v1h-1zM77.9 266.4h1v1h-1zM88.3 264.6h1v1h-1zM90.6 286.2h1v1h-1zM91.5 269.6h1v1h-1zM86.6 283.9h1v1h-1zM85.3 262.7h1v1h-1zM83.7 270h1v1h-1zM97.7 268.9h1v1h-1zM90.9 261.7h1v1h-1zM88.3 280.4h1v1h-1zM87 257.5h1v1h-1zM90.4 275.1h1v1h-1zM77 248.7h1v1h-1zM89.3 280.1h1v1h-1zM83 272.9h1v1h-1zM75.3 284.9h1v1h-1zM82.1 264.8h1v1h-1zM87.5 272.5h1v1h-1zM82.2 258.1h1v1h-1zM83.7 267.3h1v1h-1zM92.7 273.1h1v1h-1zM87 272.8h1v1h-1zM87.3 281.1h1v1h-1zM78.6 277.9h1v1h-1zM89.5 283.2h1v1h-1zM82.7 264.8h1v1h-1zM87.6 274h1v1h-1zM81 260.8h1v1h-1zM87.1 270.4h1v1h-1zM88 242.1h1v1h-1zM79 271.1h1v1h-1zM86.9 272.9h1v1h-1zM81.6 267.2h1v1h-1zM91.1 267.8h1v1h-1zM87.2 253.4h1v1h-1zM85.8 265.1h1v1h-1zM99 265.6h1v1h-1zM89.2 274.7h1v1h-1zM83.8 277.3h1v1h-1zM89.4 267.3h1v1h-1zM86.8 270.7h1v1h-1zM91.5 276.1h1v1h-1zM81.1 262.4h1v1h-1zM94.2 283.4h1v1h-1zM83.9 276.4h1v1h-1zM82.3 266.9h1v1h-1zM84.2 274.6h1v1h-1zM94 285.1h1v1h-1zM86.4 286.2h1v1h-1zM80.8 257.4h1v1h-1zM84.9 275.8h1v1h-1zM86.7 264.2h1v1h-1zM89.8 267.3h1v1h-1zM84.1 275.2h1v1h-1zM86.4 278.1h1v1h-1zM98.6 269.1h1v1h-1zM85 262.8h1v1h-1zM86.1 270h1v1h-1zM80.2 260.8h1v1h-1zM83.5 255h1v1h-1zM93.8 278.8h1v1h-1zM90.9 273.4h1v1h-1zM89.2 272.3h1v1h-1zM83.3 260.7h1v1h-1zM84.1 266.8h1v1h-1zM83.9 268.4h1v1h-1zM85.9 266.2h1v1h-1zM84 269.5h1v1h-1zM83.2 273.3h1v1h-1zM86 267.2h1v1h-1zM85.5 276.9h1v1h-1zM83.9 280.1h1v1h-1zM89.6 266.2h1v1h-1zM90.2 280.1h1v1h-1zM83.1 272.7h1v1h-1zM95.1 265.9h1v1h-1zM87.3 277.2h1v1h-1zM91 284.3h1v1h-1zM93.9 268.5h1v1h-1zM79.3 252h1v1h-1zM87.8 280.6h1v1h-1zM89.6 283h1v1h-1zM90.9 259.8h1v1h-1zM89.1 270.5h1v1h-1zM90.1 277.1h1v1h-1zM78.9 246h1v1h-1zM81.3 280.5h1v1h-1zM88.1 279.9h1v1h-1zM76.5 280.9h1v1h-1zM83.1 288.3h1v1h-1zM84.7 260.4h1v1h-1zM87.2 282.3h1v1h-1zM86.7 247.2h1v1h-1zM81.9 267.8h1v1h-1zM81.3 279.6h1v1h-1zM87.4 264h1v1h-1zM88.2 251.8h1v1h-1zM87.3 275.3h1v1h-1zM86.2 273.7h1v1h-1zM86.1 263.9h1v1h-1zM79.4 274.5h1v1h-1zM85.5 281.9h1v1h-1zM89 282.8h1v1h-1zM80.6 276.4h1v1h-1zM87.5 258.2h1v1h-1zM88.7 268.4h1v1h-1zM96 246.7h1v1h-1zM85.3 260h1v1h-1zM84.5 273.5h1v1h-1zM80.2 277.7h1v1h-1zM80.7 271.4h1v1h-1zM78.4 271.6h1v1h-1zM77.6 250.2h1v1h-1zM88.7 257.6h1v1h-1zM85.5 259h1v1h-1zM86.9 265.1h1v1h-1zM78.5 265.1h1v1h-1zM77.7 282.7h1v1h-1zM92.8 260.3h1v1h-1zM90.6 264.2h1v1h-1zM79.6 265.6h1v1h-1zM86 265.1h1v1h-1zM86.3 265.8h1v1h-1zM81.2 249.1h1v1h-1zM82.7 284.4h1v1h-1zM89.8 279h1v1h-1zM88.8 278.6h1v1h-1zM89.6 272.7h1v1h-1zM87.1 276.6h1v1h-1zM86.1 267.5h1v1h-1zM87.8 249.7h1v1h-1zM84.9 272.9h1v1h-1zM93.2 271.8h1v1h-1zM86.6 257h1v1h-1zM88 246.8h1v1h-1zM85.3 284h1v1h-1zM82.7 260.2h1v1h-1zM85.4 269.2h1v1h-1zM84.2 263.8h1v1h-1zM89.3 255h1v1h-1zM94.5 283.1h1v1h-1zM86.9 243.5h1v1h-1zM85.2 281.6h1v1h-1zM98.6 235.6h1v1h-1zM91 245.7h1v1h-1zM100 231.3h1v1h-1zM99.6 232.2h1v1h-1zM95.9 244.5h1v1h-1zM99.4 227.3h1v1h-1zM103.4 236.2h1v1h-1zM110.6 239.2h1v1h-1zM93.8 239.7h1v1h-1zM97.5 237.1h1v1h-1zM95.1 236.6h1v1h-1zM99.1 229.5h1v1h-1zM98.4 235.7h1v1h-1zM93.2 234.7h1v1h-1zM110 228.7h1v1h-1zM98.4 235.8h1v1h-1zM105 225.8h1v1h-1zM108 232.3h1v1h-1zM103.4 243.7h1v1h-1zM96.5 247.8h1v1h-1zM103.4 233.7h1v1h-1zM106.9 232.7h1v1h-1zM105.7 225.8h1v1h-1zM104.5 233h1v1h-1zM108.2 236.9h1v1h-1zM102.9 242.2h1v1h-1zM104.6 245.3h1v1h-1zM114.9 214.4h1v1h-1zM115.5 237.8h1v1h-1zM97.7 243.6h1v1h-1zM110.9 241.5h1v1h-1zM105.8 233.8h1v1h-1zM98.4 249.5h1v1h-1zM101.7 237h1v1h-1zM102.3 228.4h1v1h-1zM113.5 229.7h1v1h-1zM110.2 226.1h1v1h-1zM101.3 237.2h1v1h-1zM103.6 239.6h1v1h-1zM103.8 241.4h1v1h-1zM107.1 237.7h1v1h-1zM111.7 236.3h1v1h-1zM91.8 233.4h1v1h-1zM106.9 241.8h1v1h-1zM97 234.7h1v1h-1zM99.6 239.7h1v1h-1zM99 236.2h1v1h-1zM108.8 222.2h1v1h-1zM116.2 231.9h1v1h-1zM107.4 224.5h1v1h-1zM92.3 240.8h1v1h-1zM110.6 241h1v1h-1zM107.7 214.6h1v1h-1zM99.2 226.2h1v1h-1zM103.2 243.3h1v1h-1zM105 231.2h1v1h-1zM105 240.5h1v1h-1zM101.2 237.5h1v1h-1zM102.9 232.4h1v1h-1zM108.7 236.8h1v1h-1zM99.8 233.3h1v1h-1zM101.2 233.3h1v1h-1zM98.8 241.5h1v1h-1zM99 231h1v1h-1zM101.8 226h1v1h-1zM97.6 227.8h1v1h-1zM106 240.8h1v1h-1zM103 251.1h1v1h-1zM114 236h1v1h-1zM94.7 238.1h1v1h-1zM105.1 230.3h1v1h-1zM97.7 232.9h1v1h-1zM107.8 232.1h1v1h-1zM113 235.7h1v1h-1zM101.4 236.9h1v1h-1zM86.9 249.5h1v1h-1zM80 230.3h1v1h-1zM99.3 241.6h1v1h-1zM93.8 234.5h1v1h-1zM104 233.3h1v1h-1zM115.5 228.4h1v1h-1zM107.5 233.3h1v1h-1zM105.6 239.8h1v1h-1zM116.7 236.6h1v1h-1zM93.7 226.2h1v1h-1zM102.1 224.8h1v1h-1zM111.8 241.6h1v1h-1zM94.9 246.8h1v1h-1zM106 228.1h1v1h-1zM112 226.6h1v1h-1zM101.7 237.4h1v1h-1zM111.7 237.1h1v1h-1zM105.1 232h1v1h-1zM102.1 237h1v1h-1zM96.4 231.4h1v1h-1zM114.6 238h1v1h-1zM101.8 240.8h1v1h-1zM98.8 236.1h1v1h-1zM103 225.8h1v1h-1zM108.5 231.5h1v1h-1zM115.4 232.7h1v1h-1zM109.3 249h1v1h-1zM103.8 250.7h1v1h-1zM108.1 229.2h1v1h-1zM93.7 240.9h1v1h-1zM97.6 233.3h1v1h-1zM104.2 239h1v1h-1zM110 224.6h1v1h-1zM106 238.4h1v1h-1zM98.4 242.9h1v1h-1zM105.1 237.9h1v1h-1zM107.1 225.4h1v1h-1zM98.4 249.4h1v1h-1zM95.8 241h1v1h-1zM104.5 225.7h1v1h-1zM104.2 235.2h1v1h-1zM98.9 241.3h1v1h-1zM102.8 237.1h1v1h-1zM107.7 239.9h1v1h-1zM102.1 246.7h1v1h-1zM109.4 249h1v1h-1zM111.2 228.9h1v1h-1zM110.1 240.1h1v1h-1zM99.7 219h1v1h-1zM110.8 244.7h1v1h-1zM100.6 238.4h1v1h-1zM110.3 240.4h1v1h-1zM97.9 239h1v1h-1zM107.8 236.8h1v1h-1zM104.5 240.2h1v1h-1zM99.8 234.5h1v1h-1zM100.1 234.6h1v1h-1zM87.4 227h1v1h-1zM113.3 232.3h1v1h-1zM95 242.1h1v1h-1zM104.1 233.9h1v1h-1zM101.7 247.3h1v1h-1zM110 233.5h1v1h-1zM103.5 238.1h1v1h-1zM97.4 226.4h1v1h-1zM106.9 234.6h1v1h-1zM104.6 233h1v1h-1zM108.6 239.6h1v1h-1zM103.8 232h1v1h-1zM100.9 228.8h1v1h-1zM100.4 237h1v1h-1zM109.3 245.8h1v1h-1zM99.1 233.1h1v1h-1zM104.9 245.1h1v1h-1zM100.2 237.6h1v1h-1zM103 220.7h1v1h-1zM98.4 245.3h1v1h-1zM122 239.2h1v1h-1zM102.7 240.5h1v1h-1zM103 228.2h1v1h-1zM102.9 235h1v1h-1zM99.4 232.7h1v1h-1zM117.9 246.7h1v1h-1zM115.1 230.8h1v1h-1zM93.9 225.6h1v1h-1zM106.8 239.9h1v1h-1zM102.6 240.5h1v1h-1zM110.7 222.1h1v1h-1zM107.7 227.9h1v1h-1zM109.5 230.6h1v1h-1zM110.7 243.8h1v1h-1zM91.6 242.1h1v1h-1zM103.4 230.3h1v1h-1zM97.9 248.5h1v1h-1zM98 235.9h1v1h-1zM104.9 226.8h1v1h-1zM100.1 238h1v1h-1zM103.3 242.9h1v1h-1zM92.9 246.3h1v1h-1zM106.2 231h1v1h-1zM111.6 240.7h1v1h-1zM106.6 244.6h1v1h-1zM99.5 226.9h1v1h-1zM90.6 237.9h1v1h-1zM95.2 235.9h1v1h-1zM104 234.1h1v1h-1zM109.2 232.8h1v1h-1zM103.3 235.8h1v1h-1zM97.5 241.9h1v1h-1zM102.9 240.3h1v1h-1zM104.8 225h1v1h-1zM92.1 228.6h1v1h-1zM106.3 236.2h1v1h-1zM110.9 239.8h1v1h-1zM101.6 239.4h1v1h-1zM102.3 234h1v1h-1zM96.3 246.7h1v1h-1zM99.4 237.1h1v1h-1zM98.9 229.8h1v1h-1zM105.7 231.4h1v1h-1zM113.7 233.7h1v1h-1zM102.5 239.7h1v1h-1zM109 237h1v1h-1zM101.2 234.3h1v1h-1zM101.7 242.1h1v1h-1zM105.1 246.1h1v1h-1zM102.2 234.8h1v1h-1zM101.9 233.7h1v1h-1zM104.5 245.1h1v1h-1zM118.9 224.1h1v1h-1zM99.1 230.8h1v1h-1zM105.7 231.2h1v1h-1zM107.4 243.3h1v1h-1zM120.1 225.2h1v1h-1zM99.1 254.7h1v1h-1zM104.4 240.6h1v1h-1zM105.8 236.4h1v1h-1zM114.3 235.6h1v1h-1zM101.1 233.5h1v1h-1zM102.6 245.5h1v1h-1zM111.9 228.6h1v1h-1zM106.4 232h1v1h-1zM104 239.1h1v1h-1zM100.7 235.1h1v1h-1zM98.1 232.1h1v1h-1zM101.2 231.3h1v1h-1zM96.7 246.2h1v1h-1zM105.7 236.9h1v1h-1zM100.9 239.2h1v1h-1zM109.2 237.3h1v1h-1zM102.1 230.6h1v1h-1zM96.6 239h1v1h-1zM117.3 237.5h1v1h-1zM104.2 228.4h1v1h-1zM103.9 246.1h1v1h-1zM97.1 239.7h1v1h-1zM102.2 241.7h1v1h-1zM106.6 235.7h1v1h-1zM109.6 229.3h1v1h-1zM99.4 240.7h1v1h-1zM103.4 244h1v1h-1zM103.9 230.6h1v1h-1zM99.9 232h1v1h-1zM106.8 240.4h1v1h-1zM101.6 234.9h1v1h-1zM101.4 236.9h1v1h-1zM112.4 227.5h1v1h-1zM107.4 229.9h1v1h-1zM95.1 229.4h1v1h-1zM110.1 230.1h1v1h-1zM112.1 225.6h1v1h-1zM101.1 227.9h1v1h-1zM103.3 232.2h1v1h-1zM102.1 239.5h1v1h-1zM111.1 243.5h1v1h-1zM102.9 232.7h1v1h-1zM115.9 236.5h1v1h-1zM97 238.4h1v1h-1zM96.9 245.6h1v1h-1zM100.1 237.3h1v1h-1zM108.6 238h1v1h-1zM93.6 245.8h1v1h-1zM101.2 235.3h1v1h-1zM93.5 232.8h1v1h-1zM101.6 245.8h1v1h-1zM98.7 228.7h1v1h-1zM107.6 228.2h1v1h-1zM103.3 250.4h1v1h-1zM105.9 236.3h1v1h-1zM103.2 237.4h1v1h-1zM107.7 233.9h1v1h-1zM104.8 237.3h1v1h-1zM99.1 237.5h1v1h-1zM109.8 233.8h1v1h-1zM105.4 233.6h1v1h-1zM97 239.3h1v1h-1zM94.9 247.4h1v1h-1zM102.4 242.3h1v1h-1zM106.2 237h1v1h-1zM111.5 237.1h1v1h-1zM107.9 247.4h1v1h-1zM108.3 245.8h1v1h-1zM94.5 244.9h1v1h-1zM97.1 233.4h1v1h-1zM108.8 241h1v1h-1zM111.8 190.2h1v1h-1zM121 173.6h1v1h-1zM105.3 188.1h1v1h-1zM122.1 209.7h1v1h-1zM94.8 214.3h1v1h-1zM112.6 186.8h1v1h-1zM91.6 198.2h1v1h-1zM138.3 206.7h1v1h-1zM106.8 211h1v1h-1zM81.3 194.7h1v1h-1zM128.1 203.6h1v1h-1zM123.9 195h1v1h-1zM129.4 178.8h1v1h-1zM94.8 210.9h1v1h-1zM115.7 199.3h1v1h-1zM128.7 205h1v1h-1zM107.9 197.6h1v1h-1zM115.9 189.8h1v1h-1zM107.5 194.3h1v1h-1zM106.2 204h1v1h-1zM129.6 185.1h1v1h-1zM99.8 218.2h1v1h-1zM111 226.9h1v1h-1zM118.5 173.3h1v1h-1zM111.2 210.9h1v1h-1zM122.2 194.9h1v1h-1zM83.2 207.3h1v1h-1zM126.4 202.3h1v1h-1zM94.2 197.9h1v1h-1zM107.6 210.7h1v1h-1zM105.8 201.2h1v1h-1zM117.1 217.6h1v1h-1zM108 204h1v1h-1zM104.7 183.2h1v1h-1zM120.1 198.2h1v1h-1zM139.1 200.2h1v1h-1zM102.2 193.4h1v1h-1zM101.5 185.8h1v1h-1zM102.5 223.3h1v1h-1zM93.7 199.3h1v1h-1zM93.8 199.8h1v1h-1zM104 181.1h1v1h-1zM120.4 206.8h1v1h-1zM103.5 198.8h1v1h-1zM99.2 213.1h1v1h-1zM109 220.1h1v1h-1zM99.5 192.7h1v1h-1zM147.8 191.7h1v1h-1zM131.7 213.9h1v1h-1zM110.9 212.9h1v1h-1zM87.2 204h1v1h-1zM102.7 208.8h1v1h-1zM97.9 196.6h1v1h-1zM98.3 200h1v1h-1zM80.5 200.3h1v1h-1zM103.2 175.2h1v1h-1zM102.2 209h1v1h-1zM101.1 209.4h1v1h-1zM92.6 189.5h1v1h-1zM115.4 193.9h1v1h-1zM92.9 247.6h1v1h-1zM103.2 189.7h1v1h-1zM85.9 237.6h1v1h-1zM74.4 229h1v1h-1zM95.9 240.4h1v1h-1zM88.6 218.6h1v1h-1zM61.3 232.4h1v1h-1zM77.7 181.7h1v1h-1zM76.6 234.8h1v1h-1zM101.8 268.7h1v1h-1zM53.5 240h1v1h-1zM65.9 236.9h1v1h-1zM76.1 243.7h1v1h-1zM86.2 269.9h1v1h-1zM143.5 218.5h1v1h-1zM81.3 199.1h1v1h-1zM111.3 207.9h1v1h-1zM104.6 218.6h1v1h-1zM117.1 237.5h1v1h-1zM127.8 255.4h1v1h-1zM99.6 217.1h1v1h-1zM62 210.2h1v1h-1zM76.9 257.1h1v1h-1zM122.2 261.5h1v1h-1zM138.1 216.1h1v1h-1zM116.8 253.8h1v1h-1zM144.2 230.6h1v1h-1zM102.4 223h1v1h-1zM65.3 231.9h1v1h-1zM88.1 213.9h1v1h-1zM92.8 193h1v1h-1zM108.2 200h1v1h-1zM106.6 216.3h1v1h-1zM64.2 242.3h1v1h-1zM114.5 244.6h1v1h-1zM71.9 256.1h1v1h-1zM92.4 215.4h1v1h-1zM101.6 234.1h1v1h-1zM102.8 199.2h1v1h-1zM98.3 210.5h1v1h-1zM72.4 260.2h1v1h-1zM82.4 231.4h1v1h-1zM108.5 281.3h1v1h-1zM74.4 251.6h1v1h-1zM56.9 223.1h1v1h-1zM86 183.5h1v1h-1zM63.5 267.2h1v1h-1zM85.6 259.3h1v1h-1zM74.7 286.1h1v1h-1zM76.4 243h1v1h-1zM108.7 208.9h1v1h-1zM63.9 191h1v1h-1zM56.2 225.3h1v1h-1zM88.1 234.1h1v1h-1zM105.6 198.3h1v1h-1zM63 252h1v1h-1zM97.9 258.9h1v1h-1zM85.7 210.4h1v1h-1zM51 278.5h1v1h-1zM46.4 283.1h1v1h-1zM56 264.2h1v1h-1zM48.4 280h1v1h-1zM47.4 255h1v1h-1zM44.1 255.5h1v1h-1zM47.9 277.5h1v1h-1zM45.1 268.3h1v1h-1zM56.2 253.8h1v1h-1zM54.5 278.3h1v1h-1zM47 285.4h1v1h-1zM48.4 275.7h1v1h-1zM51.6 283.4h1v1h-1zM52.4 278h1v1h-1zM47.7 277.9h1v1h-1zM57.3 253.6h1v1h-1zM54.5 238.6h1v1h-1zM60 260.1h1v1h-1zM45.6 257.1h1v1h-1zM54.8 249.2h1v1h-1zM52.8 266.5h1v1h-1zM50.8 254.8h1v1h-1zM47.3 264.8h1v1h-1zM54 252.2h1v1h-1zM49.9 261.2h1v1h-1zM57.4 285.9h1v1h-1zM56.4 250.3h1v1h-1zM55.6 240.3h1v1h-1zM44.6 284.7h1v1h-1zM53.2 275.7h1v1h-1zM59 264.3h1v1h-1zM59.3 259.1h1v1h-1zM57 269.1h1v1h-1zM56.5 259.6h1v1h-1zM48.9 278.4h1v1h-1zM57.9 260.6h1v1h-1zM59.5 255.9h1v1h-1zM53.7 272.6h1v1h-1zM54 253.5h1v1h-1zM51.4 272.6h1v1h-1zM52.7 248.2h1v1h-1zM50.7 257.1h1v1h-1zM53.9 267.3h1v1h-1zM51.3 254.9h1v1h-1zM45.9 278.6h1v1h-1zM49.5 263.5h1v1h-1zM53.6 267.7h1v1h-1zM52.8 237.1h1v1h-1zM57.8 272.7h1v1h-1z" fill="#000"/>
<path d="M55.2 289 L55.2 241 L57 238.5 L62 238.3 L65.8 239.5 L67.6 244 L71 255 L79 256 L82 266 L83 289 Z" fill="#000" stroke="#000" stroke-width="1" stroke-linejoin="round" />
<path d="M65.3 239 L67.6 244 L70.8 254.6 L77.7 256 L84.7 249.1 L94.4 236.6 L99.9 226.9 L105 221 L108.8 216.5 L109 213.5 L104 214.5 L95.8 220 L88.8 224.1 L81.9 228.3 L72.2 233.8 L66.5 237.5 Z" fill="#474747" stroke="#474747" stroke-width="0.8" stroke-linejoin="round" />
<path d="M86.3 239.1h1v1h-1zM84.7 243.3h1v1h-1zM93.7 230.8h1v1h-1zM86.2 228.6h1v1h-1zM100.2 221.6h1v1h-1zM96 225.2h1v1h-1zM90 239.2h1v1h-1zM95.5 230.5h1v1h-1zM91.2 239h1v1h-1zM90.7 225.4h1v1h-1zM85.6 244.3h1v1h-1zM105.1 214.3h1v1h-1zM85.4 236.1h1v1h-1zM100.1 221.8h1v1h-1z" fill="#fff"/>
<path d="M103.5 215.6h1v1h-1zM97.2 228.5h1v1h-1zM90.7 235.5h1v1h-1zM86.8 227h1v1h-1zM96.9 228.5h1v1h-1zM90.4 230.2h1v1h-1z" fill="#000"/>
<path d="M107 221.5h1v1h-1zM106.4 221.4h1v1h-1zM109.4 215.3h1v1h-1zM101 226.5h1v1h-1zM108.6 210.7h1v1h-1zM103.6 230.2h1v1h-1zM104.7 231.1h1v1h-1zM113.5 212.9h1v1h-1zM107 214.8h1v1h-1zM104 221.3h1v1h-1zM112.3 215.4h1v1h-1zM101.8 222.2h1v1h-1zM101.8 231.2h1v1h-1zM107.3 222.1h1v1h-1zM111.8 211.1h1v1h-1zM102.9 224.1h1v1h-1zM102 226.2h1v1h-1zM103.7 228.7h1v1h-1zM105.9 220.5h1v1h-1zM105.5 222.4h1v1h-1zM111.7 214.5h1v1h-1zM105.9 213.5h1v1h-1zM109.6 221.8h1v1h-1zM104.4 222.6h1v1h-1zM102 222h1v1h-1zM112.9 208.5h1v1h-1zM103.7 223.1h1v1h-1zM101.2 222.1h1v1h-1zM102.4 225.3h1v1h-1zM104.7 222.5h1v1h-1zM102.4 221.4h1v1h-1zM107.2 229.3h1v1h-1zM104.4 221.6h1v1h-1zM107.8 219.5h1v1h-1zM110 215.6h1v1h-1zM108.8 215.9h1v1h-1zM107.4 221.6h1v1h-1zM113.4 217.4h1v1h-1zM103.8 218.8h1v1h-1zM111.2 216.1h1v1h-1zM104.4 211.8h1v1h-1zM111.1 214.4h1v1h-1zM107.8 219.4h1v1h-1zM105.7 213.3h1v1h-1zM101.6 223.6h1v1h-1zM102.8 221.5h1v1h-1zM109.3 218.7h1v1h-1zM101.4 225h1v1h-1zM109.8 212.4h1v1h-1zM110.5 220.1h1v1h-1zM106.7 219.3h1v1h-1zM108.6 211.8h1v1h-1zM101.9 227.2h1v1h-1zM107 219.7h1v1h-1zM110 209.1h1v1h-1zM104.6 217.7h1v1h-1zM101.4 224.7h1v1h-1zM112.8 216.4h1v1h-1zM103.9 220.3h1v1h-1zM103.3 230.7h1v1h-1zM111.8 217.3h1v1h-1zM102.9 218h1v1h-1zM106.8 212.1h1v1h-1zM109.8 221.9h1v1h-1zM104.6 223.2h1v1h-1zM103.7 212.3h1v1h-1zM109.8 213h1v1h-1zM102.8 217.3h1v1h-1zM113.3 215.7h1v1h-1zM103.2 217.3h1v1h-1zM108.5 218.9h1v1h-1zM109.2 215.7h1v1h-1zM104.3 224.5h1v1h-1zM101.5 219.6h1v1h-1zM106 220.5h1v1h-1zM102.3 218.8h1v1h-1zM110.1 213.4h1v1h-1zM115.5 213.5h1v1h-1zM103.4 214.3h1v1h-1zM101.8 230.7h1v1h-1zM103.5 218.6h1v1h-1zM107.3 221.4h1v1h-1zM103 216.5h1v1h-1zM106.1 214h1v1h-1zM110.3 217.7h1v1h-1zM102.8 227.6h1v1h-1zM104.7 216.3h1v1h-1zM101.8 232.4h1v1h-1zM108.6 220.9h1v1h-1zM102.2 215.9h1v1h-1zM104.9 231.5h1v1h-1zM113.6 217.9h1v1h-1zM107 219.8h1v1h-1zM102.3 217.8h1v1h-1z" fill="#000"/>
<path d="M71.6 215 L104.2 202.1 L109.3 204 L120.9 216.9 L120.2 238.8 L95.1 254.2 L73 255.5 L66.1 241.2 Z" fill="none" stroke="#000" stroke-width="1.1" stroke-linejoin="round" />
<path d="M252.1 259.8h1v1h-1zM237 271.3h1v1h-1zM262.3 261.4h1v1h-1zM261.9 262.3h1v1h-1zM237.3 253h1v1h-1zM258.1 265.4h1v1h-1zM258.4 276.6h1v1h-1zM254.7 257.8h1v1h-1zM262.5 261.8h1v1h-1zM242.8 266.8h1v1h-1zM245.6 288.7h1v1h-1zM254.2 285.2h1v1h-1zM237.8 287.1h1v1h-1zM255.9 286.7h1v1h-1zM257.6 265h1v1h-1zM247.6 258.9h1v1h-1zM252.4 284.4h1v1h-1zM257 258.6h1v1h-1zM237.6 274.5h1v1h-1zM244.8 259.9h1v1h-1zM242.3 254.3h1v1h-1zM248.1 268.5h1v1h-1zM239.3 256.3h1v1h-1zM239.1 263.8h1v1h-1zM251.1 278.8h1v1h-1zM264 265.2h1v1h-1zM239.4 280.4h1v1h-1zM262.2 262h1v1h-1zM257 272.1h1v1h-1zM257.4 254.8h1v1h-1zM259.9 284.5h1v1h-1zM245.9 241.8h1v1h-1zM258.4 271.3h1v1h-1zM237.2 274.8h1v1h-1zM242.9 234.5h1v1h-1zM252 246.8h1v1h-1zM255.5 248.3h1v1h-1zM238.3 266.6h1v1h-1zM237.1 264.3h1v1h-1zM252.6 263.4h1v1h-1zM251.7 275.5h1v1h-1zM248.7 254.7h1v1h-1zM238.8 272.2h1v1h-1zM258.4 268.2h1v1h-1zM255.6 281.5h1v1h-1zM250.7 240.6h1v1h-1zM266.8 247.1h1v1h-1zM251.3 254h1v1h-1zM261.5 253.8h1v1h-1zM248.3 270.7h1v1h-1zM239.5 261.6h1v1h-1zM240 242h1v1h-1zM239.1 258.1h1v1h-1zM247.5 247h1v1h-1zM258.8 257.9h1v1h-1zM236.6 265.1h1v1h-1zM255.2 257.6h1v1h-1zM247.1 283.1h1v1h-1zM252.4 273.9h1v1h-1zM241.4 247.9h1v1h-1zM254 285.7h1v1h-1zM256.6 265.2h1v1h-1zM265 272.4h1v1h-1zM247.8 281.5h1v1h-1zM262.6 270.1h1v1h-1zM248.6 283.5h1v1h-1zM254.3 274.6h1v1h-1zM250.9 259.8h1v1h-1zM244 261.3h1v1h-1zM250.5 264.4h1v1h-1zM245.8 258.9h1v1h-1zM254 284.2h1v1h-1zM240.9 271.6h1v1h-1zM241.7 265.1h1v1h-1zM256.4 277.8h1v1h-1zM253.8 268.5h1v1h-1zM254 280.8h1v1h-1zM254 288.1h1v1h-1zM257.8 269.7h1v1h-1zM253.3 260.1h1v1h-1zM256.9 252.5h1v1h-1zM243.2 290h1v1h-1zM253.6 272.4h1v1h-1zM243.5 259.9h1v1h-1zM239.5 266.3h1v1h-1zM247.7 253.2h1v1h-1zM254.7 284.6h1v1h-1zM249.6 271.4h1v1h-1zM263.8 262.9h1v1h-1zM254.9 248.8h1v1h-1zM250.4 269.1h1v1h-1zM238.7 239.3h1v1h-1zM249.9 260.2h1v1h-1zM249.7 267.2h1v1h-1zM263.5 269.4h1v1h-1zM243.2 253.7h1v1h-1zM248.5 282.2h1v1h-1zM243.7 274.9h1v1h-1zM250.7 268.1h1v1h-1zM236.6 259.1h1v1h-1zM251.9 244.9h1v1h-1zM249.6 261.7h1v1h-1zM251 264.8h1v1h-1zM270.6 252.4h1v1h-1zM248.8 271.2h1v1h-1zM253.4 277.6h1v1h-1zM249.3 261.5h1v1h-1zM258.2 262.3h1v1h-1zM267.5 267.2h1v1h-1zM263.1 288.6h1v1h-1zM252.2 285.6h1v1h-1zM239.3 246.4h1v1h-1zM253 261.2h1v1h-1zM242.4 263.3h1v1h-1zM244.7 289.8h1v1h-1zM240.6 273.9h1v1h-1zM249.5 283.6h1v1h-1zM246.6 263h1v1h-1zM243.5 268.6h1v1h-1zM252.5 274.5h1v1h-1zM243.6 267.3h1v1h-1zM259.8 266.8h1v1h-1zM254.6 285.7h1v1h-1zM246 265.5h1v1h-1zM253 284.4h1v1h-1zM244 260h1v1h-1zM244.4 263.6h1v1h-1zM257.7 276.8h1v1h-1zM236.6 274.1h1v1h-1zM253.2 279.9h1v1h-1zM264.9 268.1h1v1h-1zM237.9 267.2h1v1h-1zM268.8 261.6h1v1h-1zM237.2 247.6h1v1h-1zM237.9 262.3h1v1h-1zM237.6 280.8h1v1h-1zM240 266.7h1v1h-1zM244.6 270.2h1v1h-1zM237.1 283.5h1v1h-1zM247.7 255.9h1v1h-1zM255.9 272.1h1v1h-1zM243 260.5h1v1h-1zM250.3 282h1v1h-1zM254.3 249h1v1h-1zM263.4 263.2h1v1h-1zM248.6 261.2h1v1h-1zM255.2 263.4h1v1h-1zM253.5 260.6h1v1h-1zM246.5 264.9h1v1h-1zM252.3 265.8h1v1h-1zM254.9 249.4h1v1h-1zM238.6 250.8h1v1h-1zM246.3 258h1v1h-1zM252.1 252.3h1v1h-1zM251.7 274.1h1v1h-1zM252 260.2h1v1h-1zM262.6 261.9h1v1h-1zM257.8 265.8h1v1h-1zM239.1 256.1h1v1h-1zM262.2 251.6h1v1h-1zM243.6 259.1h1v1h-1zM242.5 270.2h1v1h-1zM258.1 266.2h1v1h-1zM246.6 256.9h1v1h-1zM236.7 287.7h1v1h-1zM254.3 272.3h1v1h-1zM252.9 276.1h1v1h-1zM253.7 287h1v1h-1zM237.8 256h1v1h-1zM255.8 279.7h1v1h-1zM244.2 270.8h1v1h-1zM256.6 271.3h1v1h-1zM239.1 248.4h1v1h-1zM241.4 257.4h1v1h-1zM237.4 267.7h1v1h-1zM242.9 267.1h1v1h-1zM257.9 287.1h1v1h-1zM251.2 262.9h1v1h-1zM244.6 270.8h1v1h-1zM260.4 263.7h1v1h-1zM250.9 251.2h1v1h-1zM255.5 263.3h1v1h-1zM252 268.9h1v1h-1zM248.4 289.6h1v1h-1zM250.3 283.3h1v1h-1zM252.8 260.9h1v1h-1zM258.5 256.4h1v1h-1zM254.1 267.4h1v1h-1zM256.4 260.6h1v1h-1zM237.2 278.4h1v1h-1zM251.8 267.1h1v1h-1zM250.5 261h1v1h-1zM252.8 254.3h1v1h-1zM241 266.6h1v1h-1zM250.3 235.4h1v1h-1zM240.5 262.9h1v1h-1zM249.9 262h1v1h-1zM248.6 287h1v1h-1zM247.7 245.7h1v1h-1zM251.7 279.2h1v1h-1zM245.1 263.5h1v1h-1zM249 277.6h1v1h-1zM254.9 258.5h1v1h-1zM261.5 272.9h1v1h-1zM252.5 278.4h1v1h-1zM253.9 257.7h1v1h-1zM262.8 266.2h1v1h-1zM266.3 266.5h1v1h-1zM243.9 260.4h1v1h-1zM254.8 266.7h1v1h-1zM251.6 268.2h1v1h-1zM262.1 263.6h1v1h-1zM238.6 246.2h1v1h-1zM243.9 271.2h1v1h-1zM236.8 249.6h1v1h-1zM260.4 266.8h1v1h-1zM251.4 280.5h1v1h-1zM254.6 251.8h1v1h-1zM252.5 266.2h1v1h-1zM251.5 270.4h1v1h-1zM252.5 267.3h1v1h-1zM245.8 262h1v1h-1zM237.6 268.1h1v1h-1zM251.8 276.4h1v1h-1zM248.7 255.2h1v1h-1zM244.5 265.8h1v1h-1zM244.2 276.9h1v1h-1zM259.9 260.4h1v1h-1zM243.1 252.8h1v1h-1zM240.5 277.5h1v1h-1zM254.6 276.6h1v1h-1zM261.1 279.9h1v1h-1zM238.6 267.7h1v1h-1zM241.1 259.8h1v1h-1zM240.6 287h1v1h-1zM252.3 283.5h1v1h-1zM253.7 278h1v1h-1zM260.7 261.7h1v1h-1zM248.7 269.4h1v1h-1zM247.1 256.9h1v1h-1zM244.2 254.8h1v1h-1zM258.3 269.1h1v1h-1zM244.2 272h1v1h-1zM242.3 275h1v1h-1zM247.2 269.2h1v1h-1zM252.4 255.7h1v1h-1zM244 284.4h1v1h-1zM263.4 262.9h1v1h-1zM264.8 279.7h1v1h-1zM239.9 256.5h1v1h-1zM240.9 286h1v1h-1zM246.8 248h1v1h-1zM239 284.4h1v1h-1zM246.8 270.4h1v1h-1zM251.3 279.4h1v1h-1zM250.5 268.1h1v1h-1zM238.1 266.4h1v1h-1zM237.5 250.8h1v1h-1zM237.1 262.3h1v1h-1zM259 267.9h1v1h-1zM247.6 247.2h1v1h-1zM249.7 255.8h1v1h-1zM260.9 268.3h1v1h-1zM240.9 273.8h1v1h-1zM252.5 262.5h1v1h-1zM243.6 285.8h1v1h-1zM250.6 261.8h1v1h-1zM237.2 276h1v1h-1zM245.8 284.7h1v1h-1zM248.5 258.5h1v1h-1zM250 282.8h1v1h-1zM237.3 266.6h1v1h-1zM247 257.7h1v1h-1zM256.3 288.5h1v1h-1zM248.3 289h1v1h-1zM256.1 264.5h1v1h-1zM254.5 281.9h1v1h-1zM251 280.8h1v1h-1zM246 268.2h1v1h-1zM241.4 267h1v1h-1zM254.5 260.2h1v1h-1zM251.7 268.9h1v1h-1zM258.8 267.2h1v1h-1zM267.5 263.1h1v1h-1zM256 265h1v1h-1zM253.7 251.8h1v1h-1zM250.6 276.3h1v1h-1zM256 251.5h1v1h-1zM260.3 282.5h1v1h-1zM246.8 277.4h1v1h-1zM238.7 263.7h1v1h-1zM237.9 263.8h1v1h-1zM257.2 260.4h1v1h-1zM252.9 268.7h1v1h-1zM253.5 290.7h1v1h-1zM236.7 272.8h1v1h-1zM244.5 263.3h1v1h-1zM236.4 290.7h1v1h-1zM239.7 263.7h1v1h-1zM244.4 264.2h1v1h-1zM262 277.1h1v1h-1zM238.7 283.8h1v1h-1zM244 276.5h1v1h-1zM242.9 275.5h1v1h-1zM249.6 277.3h1v1h-1zM255 278.4h1v1h-1zM236.7 254.1h1v1h-1zM245.5 238.8h1v1h-1zM252.3 265.2h1v1h-1zM240.1 250.1h1v1h-1zM257 270.7h1v1h-1zM240.7 253.8h1v1h-1zM243.8 269.2h1v1h-1zM245.3 282.6h1v1h-1zM264.7 262.3h1v1h-1zM255.4 259.4h1v1h-1zM251.9 278.7h1v1h-1zM240.8 259.3h1v1h-1zM239.9 267.7h1v1h-1zM243.3 266.9h1v1h-1zM262.1 252.5h1v1h-1zM259.7 280.6h1v1h-1zM250.2 255h1v1h-1zM243.3 280.1h1v1h-1zM236.9 273.5h1v1h-1zM245.3 255.2h1v1h-1zM253.3 264.3h1v1h-1zM253.6 279.5h1v1h-1zM252.2 265.1h1v1h-1zM253.2 256.2h1v1h-1zM247.7 283.8h1v1h-1zM256.2 247.8h1v1h-1zM251.1 265.4h1v1h-1zM255.4 281.3h1v1h-1zM251.8 244.6h1v1h-1zM245.2 272.1h1v1h-1zM258.7 254.7h1v1h-1zM240.5 251.9h1v1h-1zM254.5 259.3h1v1h-1zM245.4 261.7h1v1h-1zM246 262.3h1v1h-1zM251.3 261h1v1h-1zM244.8 257.7h1v1h-1zM240.7 235.5h1v1h-1zM241.5 285.6h1v1h-1zM249.3 274.3h1v1h-1zM251.6 264.9h1v1h-1zM248.4 256h1v1h-1zM236.4 272h1v1h-1zM250.1 272.1h1v1h-1zM256.8 257.1h1v1h-1zM239.7 266.2h1v1h-1zM241.7 277.9h1v1h-1zM256.5 272.2h1v1h-1zM247.7 267.8h1v1h-1zM257.9 270.1h1v1h-1zM246.3 259.2h1v1h-1zM237.4 267.8h1v1h-1zM248.7 269.4h1v1h-1zM248.6 259.1h1v1h-1zM251.5 267h1v1h-1zM242.1 280h1v1h-1zM245.3 281.6h1v1h-1zM265.6 240.7h1v1h-1zM244.5 250.3h1v1h-1zM262 281.1h1v1h-1zM239.9 273.8h1v1h-1zM250.9 274h1v1h-1zM252.1 250.8h1v1h-1zM256.2 269.3h1v1h-1zM249 275.8h1v1h-1zM243.8 273.9h1v1h-1zM249.9 259.3h1v1h-1zM237 261.2h1v1h-1zM238.7 272.4h1v1h-1zM236.5 270.8h1v1h-1zM261.8 284.9h1v1h-1zM255.9 239.7h1v1h-1zM264.1 260.9h1v1h-1zM253.1 284.1h1v1h-1zM237.1 253.9h1v1h-1zM241 269.8h1v1h-1zM251.6 286.6h1v1h-1zM242.3 255.6h1v1h-1zM241.3 272.6h1v1h-1zM242.9 252.3h1v1h-1zM237.3 243.2h1v1h-1zM252.5 281.8h1v1h-1zM243.2 262.2h1v1h-1zM259.3 267.8h1v1h-1zM262.5 269.3h1v1h-1zM248.5 284.1h1v1h-1zM257.5 264.7h1v1h-1zM258 281h1v1h-1zM250.7 278.1h1v1h-1zM247.6 268.3h1v1h-1zM259.4 281.8h1v1h-1zM254.4 272.2h1v1h-1zM247.6 267.2h1v1h-1zM249.1 243h1v1h-1zM256.6 253.7h1v1h-1zM254.6 255.4h1v1h-1zM244.3 263h1v1h-1zM247.8 270.6h1v1h-1zM250.4 265.5h1v1h-1zM248.3 261.8h1v1h-1zM241.1 254.5h1v1h-1zM242.5 268.5h1v1h-1zM251.4 262.8h1v1h-1zM251 262.1h1v1h-1zM246.6 280.1h1v1h-1zM266.6 272.3h1v1h-1zM247.7 282.6h1v1h-1zM254.7 254.7h1v1h-1zM251.3 276h1v1h-1zM245.2 268.5h1v1h-1zM254.6 260.4h1v1h-1zM257.9 248.2h1v1h-1zM249.2 267.2h1v1h-1zM253.1 253.4h1v1h-1zM272 277.4h1v1h-1zM242 274.1h1v1h-1zM247.4 274.3h1v1h-1zM249.1 284.4h1v1h-1zM242.5 242.4h1v1h-1zM245.2 275.8h1v1h-1zM247.2 270.9h1v1h-1zM246.9 270.9h1v1h-1zM249.5 261.8h1v1h-1zM261.9 279.9h1v1h-1zM250.9 232.2h1v1h-1zM246.1 251.2h1v1h-1zM254.7 276h1v1h-1zM254.3 270.6h1v1h-1zM240.5 279.9h1v1h-1zM244.2 263.3h1v1h-1zM240.3 261.3h1v1h-1zM251.8 278.1h1v1h-1zM256 270.3h1v1h-1zM247.4 246h1v1h-1zM259.1 280.2h1v1h-1zM244.5 254.2h1v1h-1zM246.6 279.5h1v1h-1zM248.6 270.6h1v1h-1zM250.6 275.5h1v1h-1zM262.5 281.2h1v1h-1zM240.2 255.2h1v1h-1zM253.7 276.5h1v1h-1zM249.8 267.4h1v1h-1zM258.6 264.9h1v1h-1zM238.5 268.2h1v1h-1zM239.9 261.7h1v1h-1zM262.8 268.7h1v1h-1zM259.3 271.3h1v1h-1zM257.8 260h1v1h-1zM248.2 282.1h1v1h-1zM257.7 269.4h1v1h-1zM249.3 254h1v1h-1zM240.5 274h1v1h-1zM248.1 274.8h1v1h-1zM247 249.8h1v1h-1zM240.9 271.8h1v1h-1zM244.6 263.3h1v1h-1zM243.6 271.4h1v1h-1zM253.3 265.9h1v1h-1zM257 273.1h1v1h-1zM258.1 270.5h1v1h-1zM257.9 239h1v1h-1zM240.6 269.1h1v1h-1zM253.7 275.2h1v1h-1zM255.7 277.4h1v1h-1zM252.5 284h1v1h-1zM241.6 272.5h1v1h-1zM239.6 284.9h1v1h-1zM250.4 279.1h1v1h-1zM242.5 262.1h1v1h-1zM256.3 259.2h1v1h-1zM237.4 284.5h1v1h-1zM253.5 277.1h1v1h-1zM245.7 245.7h1v1h-1zM238.5 254.6h1v1h-1zM245.5 283h1v1h-1zM247.9 270.2h1v1h-1zM255.8 246h1v1h-1zM255.5 273.8h1v1h-1zM259 280.8h1v1h-1zM255.2 276.5h1v1h-1zM245.5 267.5h1v1h-1zM245.6 265.6h1v1h-1zM250.4 261.3h1v1h-1zM246.4 261.5h1v1h-1zM236.5 271.6h1v1h-1zM250 266h1v1h-1zM264.9 249.1h1v1h-1zM245 266.9h1v1h-1zM257.4 264.5h1v1h-1zM250.3 264.9h1v1h-1zM253 246.7h1v1h-1zM249.7 267.2h1v1h-1zM258 259.8h1v1h-1zM253.2 268.7h1v1h-1zM245.3 248.3h1v1h-1zM248.3 268.6h1v1h-1zM247.3 252.5h1v1h-1zM249.7 257.4h1v1h-1zM250.9 259.8h1v1h-1zM245.7 261.1h1v1h-1zM244.5 261.1h1v1h-1zM249 260.9h1v1h-1zM236.9 260.2h1v1h-1zM252.3 259.1h1v1h-1zM252.1 260.7h1v1h-1zM240 263.6h1v1h-1zM248.9 279.9h1v1h-1zM238 260.4h1v1h-1zM252.6 250.5h1v1h-1zM257 282.7h1v1h-1zM252.9 267.9h1v1h-1zM256.6 272.6h1v1h-1zM248.2 283h1v1h-1zM255.9 243.6h1v1h-1zM254.7 260.3h1v1h-1zM248.1 270.5h1v1h-1zM249.8 286h1v1h-1zM236.6 267h1v1h-1zM238.2 269.1h1v1h-1zM257.1 267.6h1v1h-1zM257.4 267.6h1v1h-1zM242.5 270h1v1h-1zM236.8 260.7h1v1h-1zM237.4 258.9h1v1h-1zM258.3 263.2h1v1h-1zM251.8 276.1h1v1h-1zM264.4 283.1h1v1h-1zM259.2 269.8h1v1h-1zM265.3 264.6h1v1h-1zM255.7 283.9h1v1h-1zM244.5 275.3h1v1h-1zM246.3 277.6h1v1h-1zM257.9 266.5h1v1h-1zM237.6 262.8h1v1h-1zM253.6 274.4h1v1h-1zM245.7 266.1h1v1h-1zM259.3 283.2h1v1h-1zM244.6 256.8h1v1h-1zM243.1 272.4h1v1h-1zM256.7 268.4h1v1h-1zM240.4 255.1h1v1h-1zM257.6 263.6h1v1h-1zM251.4 254.7h1v1h-1zM244.2 263.6h1v1h-1zM254.3 264.7h1v1h-1zM254 254.8h1v1h-1zM249.7 276.4h1v1h-1zM255.1 262.2h1v1h-1zM241.3 272.8h1v1h-1zM243.6 263.8h1v1h-1zM263.8 257.8h1v1h-1zM251.5 286.4h1v1h-1zM247.5 282.5h1v1h-1zM241.7 245.8h1v1h-1zM244.8 266.3h1v1h-1zM250.9 263.6h1v1h-1zM239.3 247.7h1v1h-1zM248.6 270.3h1v1h-1zM246.9 274.6h1v1h-1zM237.3 268.8h1v1h-1zM249 274h1v1h-1zM258.8 290.8h1v1h-1zM245.5 262.3h1v1h-1zM247.3 284.2h1v1h-1zM244.1 231h1v1h-1zM236.8 265.3h1v1h-1zM249.2 285.5h1v1h-1zM245.4 272.5h1v1h-1zM243.8 260.4h1v1h-1zM260.1 286.5h1v1h-1zM249.8 279.6h1v1h-1zM243 247.6h1v1h-1zM243.4 278.8h1v1h-1zM261.7 265.9h1v1h-1zM255.5 270.8h1v1h-1zM236.9 253.2h1v1h-1zM253.8 275.2h1v1h-1zM245 270.3h1v1h-1zM244.3 256.2h1v1h-1zM258 263.9h1v1h-1zM254.7 286.5h1v1h-1zM242.1 287.9h1v1h-1zM248.8 249.1h1v1h-1zM254.1 274.7h1v1h-1zM248 264.4h1v1h-1zM252.3 261.7h1v1h-1zM243.4 271.5h1v1h-1zM259.3 287.8h1v1h-1zM260.6 275.4h1v1h-1zM243.7 256h1v1h-1zM237.6 269h1v1h-1zM245.2 274.1h1v1h-1zM255.9 282.6h1v1h-1zM250.6 267.5h1v1h-1zM248.5 270.1h1v1h-1zM250.4 271.4h1v1h-1zM237.1 276.7h1v1h-1zM248.6 244.3h1v1h-1zM248.1 286.2h1v1h-1zM243.9 272.5h1v1h-1zM255.3 268.5h1v1h-1zM243.7 254.4h1v1h-1zM243.8 271.8h1v1h-1zM254.1 260.8h1v1h-1zM249.6 247.5h1v1h-1zM250.8 274h1v1h-1zM252.1 268.8h1v1h-1zM251.7 267.8h1v1h-1zM241.1 248.9h1v1h-1zM255.7 273.8h1v1h-1zM265.2 276.6h1v1h-1zM252.1 213h1v1h-1zM246.9 270.5h1v1h-1zM258.4 278.2h1v1h-1zM254 256.9h1v1h-1zM243 241h1v1h-1zM248.2 269.6h1v1h-1zM257.2 273.1h1v1h-1zM259.1 272.8h1v1h-1zM243.5 265.6h1v1h-1zM251.4 258.4h1v1h-1zM245.5 286.6h1v1h-1zM252.1 251.3h1v1h-1zM258.3 260.5h1v1h-1zM254 263h1v1h-1zM239.2 272.2h1v1h-1zM246.9 269h1v1h-1zM250.1 249.3h1v1h-1zM264.1 253.3h1v1h-1zM244.9 290.5h1v1h-1zM245.8 269.6h1v1h-1zM242.8 268.5h1v1h-1zM248.6 264h1v1h-1zM254.3 272.1h1v1h-1zM241 258.8h1v1h-1zM260.3 282.8h1v1h-1zM259.1 279.5h1v1h-1zM255.5 268.3h1v1h-1zM254 280.3h1v1h-1zM268.6 266.4h1v1h-1zM240.5 263h1v1h-1zM244.6 281.2h1v1h-1zM266.3 267.3h1v1h-1zM239.1 258h1v1h-1zM251.5 289h1v1h-1zM247.6 266.1h1v1h-1zM241.5 274.3h1v1h-1zM241.4 288h1v1h-1zM247.3 252.1h1v1h-1zM251.2 264.5h1v1h-1zM253 281h1v1h-1zM253.8 264.7h1v1h-1zM249.6 262.7h1v1h-1zM249.3 266.6h1v1h-1zM253.9 264.6h1v1h-1zM243.9 264.5h1v1h-1zM238.3 273.7h1v1h-1zM255.7 269.7h1v1h-1zM237.6 290.7h1v1h-1zM253.5 272.7h1v1h-1zM259.3 290.1h1v1h-1zM238.9 270.3h1v1h-1zM238 291h1v1h-1zM242.1 266.9h1v1h-1zM251.5 284.3h1v1h-1zM241.2 270.7h1v1h-1zM257.3 289.4h1v1h-1zM254.2 258.5h1v1h-1zM241 262.7h1v1h-1zM255.2 273.7h1v1h-1zM237.4 256.3h1v1h-1zM245.3 287.5h1v1h-1zM250.8 266.3h1v1h-1zM259.7 275.5h1v1h-1zM255.3 281.9h1v1h-1zM261.1 276.4h1v1h-1zM237.3 259.2h1v1h-1zM274.9 251.6h1v1h-1zM241.9 247.1h1v1h-1zM251.2 257h1v1h-1zM261.6 259h1v1h-1zM253.1 258.4h1v1h-1zM258.7 274.5h1v1h-1zM239.1 251.1h1v1h-1zM239.9 247.8h1v1h-1zM245.4 270.9h1v1h-1zM249.9 256.7h1v1h-1zM246.3 267.1h1v1h-1zM239.6 267.9h1v1h-1zM250.8 282.5h1v1h-1zM237.6 279.7h1v1h-1zM243.3 262.8h1v1h-1zM251.5 280.4h1v1h-1zM241.7 269.4h1v1h-1zM248.8 278.9h1v1h-1zM261 240.4h1v1h-1zM258.7 250.3h1v1h-1zM256.1 251.1h1v1h-1zM253 252.5h1v1h-1zM238.8 269.8h1v1h-1zM242 270h1v1h-1zM241.9 290.8h1v1h-1zM244.5 286.7h1v1h-1zM247.8 272.2h1v1h-1zM241.2 266.8h1v1h-1zM245.4 277h1v1h-1zM258 273.9h1v1h-1zM245.4 262.4h1v1h-1zM237.3 277.3h1v1h-1zM246.6 261.9h1v1h-1zM247.7 267.2h1v1h-1zM246 266.4h1v1h-1zM266.2 260.7h1v1h-1zM256.4 260.1h1v1h-1zM262.6 269.2h1v1h-1zM243.9 266.8h1v1h-1zM255 252.5h1v1h-1zM250.9 289.7h1v1h-1zM248.2 290.2h1v1h-1zM242.1 289.4h1v1h-1zM250.6 283.4h1v1h-1zM237.4 267.1h1v1h-1zM256.6 256.2h1v1h-1zM271.4 255.3h1v1h-1zM260.9 246h1v1h-1zM237.7 264.1h1v1h-1zM250.4 246.2h1v1h-1zM242.8 269.6h1v1h-1zM243.9 271.7h1v1h-1zM246.7 261.3h1v1h-1zM258.3 261.3h1v1h-1zM254.7 267.4h1v1h-1zM242.1 275.4h1v1h-1zM253.4 263.9h1v1h-1zM250.1 289.8h1v1h-1zM265.3 256.8h1v1h-1zM237 260.3h1v1h-1zM247.9 262h1v1h-1zM241.2 265.6h1v1h-1zM248.6 270.9h1v1h-1zM237.6 275.1h1v1h-1zM241.3 263.9h1v1h-1zM247.9 288.3h1v1h-1zM244 244.4h1v1h-1zM241.7 271.5h1v1h-1zM247.8 268.6h1v1h-1zM244.2 250.7h1v1h-1zM241.3 249.8h1v1h-1zM246.8 269.3h1v1h-1zM249 282.6h1v1h-1zM251.4 273h1v1h-1zM236.9 266.9h1v1h-1zM245.5 263.9h1v1h-1zM258.2 261.6h1v1h-1zM237.1 262.8h1v1h-1zM249.8 276h1v1h-1zM244.8 281.5h1v1h-1zM257.5 274.7h1v1h-1zM258.6 259.1h1v1h-1zM250.9 275.1h1v1h-1zM244.7 280.9h1v1h-1zM236.5 244.6h1v1h-1zM244.5 271.8h1v1h-1zM242 260.9h1v1h-1zM249 269.2h1v1h-1zM261.2 251.6h1v1h-1zM264 254.3h1v1h-1zM251.2 266.3h1v1h-1zM249.8 260.7h1v1h-1zM247.7 261.5h1v1h-1zM251.2 256.5h1v1h-1zM247.1 273.2h1v1h-1zM262.8 281.2h1v1h-1zM242.8 255.5h1v1h-1zM249.7 270.9h1v1h-1zM243.9 262.1h1v1h-1zM256.3 270.9h1v1h-1zM263.2 281.7h1v1h-1zM254.1 270.9h1v1h-1zM250.4 266.1h1v1h-1zM249.2 254.4h1v1h-1zM253.4 281.8h1v1h-1zM245.1 288.4h1v1h-1zM262 243.4h1v1h-1zM263 274.9h1v1h-1zM256.9 265.4h1v1h-1zM255.4 251.5h1v1h-1zM245.7 289.4h1v1h-1zM263.5 274.3h1v1h-1zM243.2 257.7h1v1h-1zM265.9 261.7h1v1h-1zM245.7 248.7h1v1h-1zM242.5 268.5h1v1h-1zM236.6 246.3h1v1h-1zM257.3 263.6h1v1h-1zM258.5 282h1v1h-1zM250.7 274.3h1v1h-1zM236.5 279.8h1v1h-1zM248.4 269.2h1v1h-1zM242.8 277.2h1v1h-1zM256.3 266.1h1v1h-1zM260.8 251.6h1v1h-1zM252.6 273.6h1v1h-1zM252.5 266.8h1v1h-1zM261.4 257.5h1v1h-1zM262.6 253.6h1v1h-1zM239.7 282.8h1v1h-1zM252.7 246.8h1v1h-1zM239.8 257h1v1h-1zM243.1 272.1h1v1h-1zM258.3 275.2h1v1h-1zM240.3 270.5h1v1h-1zM247.9 248.5h1v1h-1zM259.1 281.3h1v1h-1zM252.9 266.1h1v1h-1zM236.5 249h1v1h-1zM248.4 281.2h1v1h-1zM247.4 266.3h1v1h-1zM242.1 244.3h1v1h-1zM265.5 234h1v1h-1zM249.7 265.5h1v1h-1zM249.7 259.5h1v1h-1zM257.5 270.9h1v1h-1zM250.6 269.4h1v1h-1zM238.9 257.6h1v1h-1zM249.4 272.9h1v1h-1zM252.7 270.3h1v1h-1zM250.7 254.1h1v1h-1zM257.8 277.4h1v1h-1zM256.3 270h1v1h-1zM253.5 265.2h1v1h-1zM248.1 271.9h1v1h-1zM249.8 257.3h1v1h-1zM264.8 257.5h1v1h-1zM236.4 266.1h1v1h-1zM258.4 255.6h1v1h-1zM253 286.7h1v1h-1zM244 270.6h1v1h-1zM249.4 276.7h1v1h-1zM254.3 290.2h1v1h-1zM238.4 285.8h1v1h-1zM254.1 256.8h1v1h-1zM242.5 288.5h1v1h-1zM250.6 262.5h1v1h-1zM260.6 265.1h1v1h-1zM251.1 270.4h1v1h-1zM242.8 268.9h1v1h-1zM237 267.6h1v1h-1zM236.6 271.8h1v1h-1zM257.3 287.1h1v1h-1zM248 240.2h1v1h-1zM248.8 249.4h1v1h-1zM247.9 251.5h1v1h-1zM243.8 271.7h1v1h-1zM263.4 269.3h1v1h-1zM255.1 272.8h1v1h-1zM240.1 268.3h1v1h-1zM254.3 250h1v1h-1zM254.8 273.4h1v1h-1zM240.6 290.9h1v1h-1zM243.1 267.2h1v1h-1zM257.6 269.9h1v1h-1zM251.4 272.2h1v1h-1zM244 275.6h1v1h-1zM255.1 266.2h1v1h-1zM244.4 262h1v1h-1zM250.6 287.7h1v1h-1zM249 287.4h1v1h-1zM242.9 268.3h1v1h-1zM257.1 260.6h1v1h-1zM250 260.2h1v1h-1zM237.8 253.5h1v1h-1zM248.1 252.5h1v1h-1zM261.4 264.6h1v1h-1zM237.7 258.9h1v1h-1zM256.8 271.5h1v1h-1zM251.4 261.5h1v1h-1zM239.9 256.4h1v1h-1zM249.4 263.1h1v1h-1zM240.6 236.4h1v1h-1zM237.5 272.6h1v1h-1zM252.6 264.9h1v1h-1zM251.8 285.3h1v1h-1zM236.7 262.3h1v1h-1zM245.3 266.1h1v1h-1zM249.8 256.5h1v1h-1zM258.1 271.4h1v1h-1zM243.7 283.4h1v1h-1zM252.7 263.7h1v1h-1zM254.7 275.4h1v1h-1zM242.2 256h1v1h-1zM252.3 260.2h1v1h-1zM250.5 264.1h1v1h-1zM252.7 256.7h1v1h-1zM246.1 277.1h1v1h-1zM257.2 278.5h1v1h-1zM255.2 282.9h1v1h-1zM261.7 256.4h1v1h-1zM258 260.5h1v1h-1zM238.9 267.3h1v1h-1zM245.1 276.1h1v1h-1zM253 251.9h1v1h-1zM257.4 264.4h1v1h-1zM244.1 280.8h1v1h-1zM249.7 269h1v1h-1zM252 266.4h1v1h-1zM248.7 253.5h1v1h-1zM257.5 263.5h1v1h-1zM241.8 276.5h1v1h-1zM253.6 280.6h1v1h-1zM243.3 246.5h1v1h-1zM252.9 272.7h1v1h-1zM242.3 263.1h1v1h-1zM247.3 255.9h1v1h-1zM256.9 290.9h1v1h-1zM242 276h1v1h-1zM250.2 254h1v1h-1zM254.6 254.7h1v1h-1zM248.7 269.8h1v1h-1zM247.4 248.9h1v1h-1zM249.6 264.9h1v1h-1zM242.6 273.8h1v1h-1zM255.5 250.8h1v1h-1zM255.3 269.6h1v1h-1zM263.2 272.9h1v1h-1zM251.8 259.1h1v1h-1zM258.1 272.1h1v1h-1zM245.7 275.7h1v1h-1zM253.4 272.7h1v1h-1zM242.4 258.9h1v1h-1zM251.5 278.1h1v1h-1zM247.1 263.2h1v1h-1zM257.1 270h1v1h-1zM237.2 268.1h1v1h-1zM248.3 267.3h1v1h-1zM247.2 242h1v1h-1zM254.8 280.4h1v1h-1zM244 273.4h1v1h-1zM246.3 268.9h1v1h-1zM259.4 275h1v1h-1zM244.7 262h1v1h-1zM246.5 265.5h1v1h-1zM258.5 273.7h1v1h-1zM237.4 240.1h1v1h-1zM252.7 257.9h1v1h-1zM252.3 259.8h1v1h-1zM251.6 263.5h1v1h-1zM236.6 260.5h1v1h-1zM238.5 257.5h1v1h-1zM243.1 270.3h1v1h-1zM242.9 277.1h1v1h-1zM254.8 273h1v1h-1zM246.1 280.1h1v1h-1zM260.7 273.7h1v1h-1zM249.4 285.9h1v1h-1zM254.4 287.2h1v1h-1zM244.4 261.5h1v1h-1zM244.9 257.1h1v1h-1zM252.9 259.8h1v1h-1zM256.4 262.9h1v1h-1zM244.4 276.4h1v1h-1zM259.6 273.8h1v1h-1zM247.7 270h1v1h-1zM261.8 258.9h1v1h-1zM240 262h1v1h-1zM246.9 264.8h1v1h-1zM254.6 270.1h1v1h-1zM249 229.3h1v1h-1zM245.1 270.5h1v1h-1zM254.6 273.5h1v1h-1zM257 258.2h1v1h-1zM246.5 285.2h1v1h-1zM255.6 277h1v1h-1zM246.2 276.1h1v1h-1zM243.4 247.3h1v1h-1zM259.6 277.3h1v1h-1zM245.2 269.2h1v1h-1zM245.8 269.8h1v1h-1zM255.5 238.4h1v1h-1zM242 247.7h1v1h-1zM242.2 263.4h1v1h-1zM247.6 250.4h1v1h-1zM250.3 283.8h1v1h-1zM256.8 253.1h1v1h-1zM248.1 276.7h1v1h-1zM244.5 271.9h1v1h-1zM247.1 268h1v1h-1zM246 286.1h1v1h-1zM258.2 261.8h1v1h-1zM237 252.9h1v1h-1zM236.6 271.8h1v1h-1zM236.8 283.5h1v1h-1zM247.7 260.6h1v1h-1zM252.9 280.6h1v1h-1zM262.1 274.8h1v1h-1zM236.9 267.6h1v1h-1zM250.7 270.1h1v1h-1zM244.7 269.2h1v1h-1zM262.1 259.8h1v1h-1zM252.2 269.3h1v1h-1zM261.4 272.8h1v1h-1zM249.3 258.2h1v1h-1zM257.8 234.5h1v1h-1zM252.3 275.6h1v1h-1zM244.5 258.9h1v1h-1zM256.8 274.6h1v1h-1zM247.1 256.7h1v1h-1zM237.7 272.4h1v1h-1zM248.7 264.6h1v1h-1zM239.9 263.4h1v1h-1zM253.6 266.8h1v1h-1zM261.5 272h1v1h-1zM251.8 245.3h1v1h-1zM253.8 283.2h1v1h-1zM239.8 280.4h1v1h-1zM243.3 271.6h1v1h-1zM244.9 246.8h1v1h-1zM264.8 278.2h1v1h-1zM246.2 267.5h1v1h-1zM251.6 288.3h1v1h-1zM236.8 261.7h1v1h-1zM245.5 265.1h1v1h-1zM250.4 280h1v1h-1zM248.4 240.4h1v1h-1zM247.1 262.5h1v1h-1zM252.8 265.3h1v1h-1zM253.2 238.2h1v1h-1zM240 255.5h1v1h-1zM239 270.5h1v1h-1zM253.8 271.8h1v1h-1zM255.7 288.5h1v1h-1zM238.7 279.6h1v1h-1zM254.7 250.5h1v1h-1zM238.4 277.5h1v1h-1zM248.1 272.4h1v1h-1zM259.4 268.9h1v1h-1zM236.6 253.1h1v1h-1zM247.7 289.9h1v1h-1zM240.5 271.4h1v1h-1zM255.3 257.2h1v1h-1zM242 253.1h1v1h-1zM244.1 253.3h1v1h-1zM240.7 278.9h1v1h-1zM252.8 245.9h1v1h-1zM253.7 282.1h1v1h-1zM260 265.4h1v1h-1zM247.4 272.1h1v1h-1zM242.8 277.3h1v1h-1zM244.4 277h1v1h-1zM254.7 265.5h1v1h-1zM262 272.4h1v1h-1zM255.5 269.4h1v1h-1zM236.8 268.1h1v1h-1zM241 269h1v1h-1zM243.1 255h1v1h-1zM255.9 271.7h1v1h-1zM243.1 250.4h1v1h-1zM255.3 282.1h1v1h-1zM251 262.9h1v1h-1zM250.5 252.8h1v1h-1zM249.1 276.1h1v1h-1zM243.3 276.4h1v1h-1zM260 269.1h1v1h-1zM250.2 248.5h1v1h-1zM261.1 251.1h1v1h-1zM242 274.6h1v1h-1zM260.2 271h1v1h-1zM239.9 271.5h1v1h-1zM250 275.2h1v1h-1zM246.2 256.7h1v1h-1zM247.9 281.9h1v1h-1zM246.5 259.8h1v1h-1zM240.4 268.3h1v1h-1zM239.6 257.4h1v1h-1zM250.7 252.4h1v1h-1zM243.4 258h1v1h-1zM262.7 256h1v1h-1zM249.7 262.7h1v1h-1zM260.1 287.4h1v1h-1zM245.3 271.5h1v1h-1zM255.3 260.6h1v1h-1zM244.3 273h1v1h-1zM241.6 260.5h1v1h-1zM247.1 282.2h1v1h-1zM247.4 277.9h1v1h-1zM269.5 263.3h1v1h-1zM238.4 267.3h1v1h-1zM243.8 268.8h1v1h-1zM254.6 255h1v1h-1zM247.7 253.2h1v1h-1zM250.1 266.1h1v1h-1zM255.1 256.4h1v1h-1zM247.8 267.6h1v1h-1zM243.3 278.7h1v1h-1zM238.2 265.1h1v1h-1zM248.4 275.3h1v1h-1zM253.2 290.3h1v1h-1zM250.6 262.4h1v1h-1zM258.2 286.2h1v1h-1zM245.6 257.4h1v1h-1zM251.1 253.4h1v1h-1zM242.3 270.3h1v1h-1zM237.2 265.9h1v1h-1zM253.5 249.3h1v1h-1zM245.2 284.4h1v1h-1zM254 278.8h1v1h-1zM244 255.6h1v1h-1zM236.6 265.5h1v1h-1zM241.7 267h1v1h-1zM246.5 252.2h1v1h-1zM243.4 272.1h1v1h-1zM246.6 250.8h1v1h-1zM253.2 246h1v1h-1zM248.7 286.3h1v1h-1zM252.6 260h1v1h-1zM247.6 258.3h1v1h-1zM243.4 265.1h1v1h-1zM241 258.8h1v1h-1zM253.5 273.8h1v1h-1zM257.5 278.6h1v1h-1zM240.9 279.3h1v1h-1zM242 239.5h1v1h-1zM251.5 277.9h1v1h-1zM249.5 270.3h1v1h-1zM246.9 269h1v1h-1zM248.4 282.9h1v1h-1zM236.7 276h1v1h-1zM247.7 246h1v1h-1zM247.3 271.2h1v1h-1zM252.6 265.9h1v1h-1zM243.1 282.2h1v1h-1zM244.6 241.5h1v1h-1zM250.4 276.1h1v1h-1zM270 269.9h1v1h-1zM244 276.4h1v1h-1zM264.9 273h1v1h-1zM241.5 241.4h1v1h-1zM249.2 276.8h1v1h-1zM241.4 267.6h1v1h-1zM259.6 258h1v1h-1zM249.8 280h1v1h-1zM250.4 267.4h1v1h-1zM257 289.1h1v1h-1zM259.2 281.7h1v1h-1zM243.6 253.8h1v1h-1zM250.8 278h1v1h-1zM244.9 268h1v1h-1zM258 267.7h1v1h-1zM237.7 266.1h1v1h-1zM266.2 281h1v1h-1zM247 257.8h1v1h-1zM237.6 273.6h1v1h-1zM251.1 248.4h1v1h-1zM242.2 272.2h1v1h-1zM249.1 251.9h1v1h-1zM249.9 251.8h1v1h-1zM257.3 267.4h1v1h-1zM237 253.6h1v1h-1zM252 282.1h1v1h-1zM258 254h1v1h-1zM238.6 288.4h1v1h-1zM254.8 278.5h1v1h-1zM255.3 269.2h1v1h-1zM244.6 276.1h1v1h-1zM237.2 270.7h1v1h-1zM245.1 274.4h1v1h-1zM261.3 260.5h1v1h-1zM247 272.9h1v1h-1zM254.5 263.7h1v1h-1zM251.7 267.1h1v1h-1zM250.4 260.5h1v1h-1zM239.1 261.2h1v1h-1zM243.1 278.8h1v1h-1zM249.7 267.5h1v1h-1zM248.3 277.8h1v1h-1zM248.1 264.1h1v1h-1zM255 266.9h1v1h-1zM249.3 262h1v1h-1zM254.6 284.5h1v1h-1zM249.6 289h1v1h-1zM251.9 266.9h1v1h-1zM244.8 279.5h1v1h-1zM237 249.7h1v1h-1zM255.6 251.9h1v1h-1zM255.8 277.5h1v1h-1zM254 245.9h1v1h-1zM257.6 281h1v1h-1zM249.7 290.3h1v1h-1zM250.2 267h1v1h-1zM243.6 250.9h1v1h-1zM245 256.8h1v1h-1zM243.9 257h1v1h-1zM251.8 279h1v1h-1zM243.5 254.9h1v1h-1zM248.7 257.8h1v1h-1zM244.6 288.3h1v1h-1zM238.7 252.6h1v1h-1zM249.3 260.1h1v1h-1zM249.9 285.7h1v1h-1zM239.7 247.1h1v1h-1zM257.1 237.1h1v1h-1zM248.8 259.2h1v1h-1zM241.3 270.9h1v1h-1zM264 267.7h1v1h-1zM249.1 261h1v1h-1zM254.8 251.7h1v1h-1zM249.9 279.1h1v1h-1zM238.1 261.6h1v1h-1zM258.4 259.8h1v1h-1zM239.9 268.8h1v1h-1zM257.5 287h1v1h-1zM247.9 270.6h1v1h-1zM238.5 264.2h1v1h-1zM245.2 276.2h1v1h-1zM240.9 240.6h1v1h-1zM249.1 259.9h1v1h-1zM240.2 268h1v1h-1zM254.6 259.3h1v1h-1zM244.7 258.2h1v1h-1zM245.3 261.1h1v1h-1zM264.6 255.7h1v1h-1zM255.1 261.4h1v1h-1zM243.8 269.3h1v1h-1zM251.8 273.2h1v1h-1zM236.5 254.4h1v1h-1zM242.9 265.7h1v1h-1zM247.5 257.9h1v1h-1zM243 280.2h1v1h-1zM240.9 290.9h1v1h-1zM253.9 270.9h1v1h-1zM244.1 273.8h1v1h-1zM242.5 264.9h1v1h-1zM244.1 274.8h1v1h-1zM243.7 265.7h1v1h-1zM255.1 252h1v1h-1zM251.2 284.6h1v1h-1zM259.4 276.6h1v1h-1zM257.4 268.4h1v1h-1zM246.6 274.7h1v1h-1zM241 290.3h1v1h-1zM249 262.5h1v1h-1zM244.3 278.1h1v1h-1zM252.9 270.8h1v1h-1zM248.5 240.3h1v1h-1zM258.8 263.9h1v1h-1zM236.5 276h1v1h-1zM268.8 266h1v1h-1zM263.1 234.2h1v1h-1zM249.6 236.7h1v1h-1zM267.6 217.9h1v1h-1zM266.7 245.2h1v1h-1zM271.1 255.2h1v1h-1zM286.1 248.4h1v1h-1zM265.1 236.8h1v1h-1zM277.8 248.8h1v1h-1zM270.5 261.4h1v1h-1zM270.7 220.8h1v1h-1zM252.7 238h1v1h-1zM250.1 207.8h1v1h-1zM270.5 261.9h1v1h-1zM263.1 257.5h1v1h-1zM280.5 235.6h1v1h-1zM274.5 260.7h1v1h-1zM274.8 256.2h1v1h-1zM255.5 244.5h1v1h-1zM264.6 257.2h1v1h-1zM275.1 248.8h1v1h-1zM258.2 241.2h1v1h-1zM265.2 268.8h1v1h-1zM279.6 227.1h1v1h-1zM264.6 282.8h1v1h-1zM267.9 256.3h1v1h-1zM279.7 245.5h1v1h-1zM270.5 259.1h1v1h-1zM247.5 237.2h1v1h-1zM266.6 245.7h1v1h-1zM265.4 284.3h1v1h-1zM269.2 259.9h1v1h-1zM278.9 249.8h1v1h-1zM266.9 267.1h1v1h-1zM257.2 267.1h1v1h-1zM275.4 247h1v1h-1zM267.5 271.3h1v1h-1zM280.9 252h1v1h-1zM269 251.6h1v1h-1zM277.2 264.5h1v1h-1zM255.5 240.5h1v1h-1zM263 227.3h1v1h-1zM265.8 249.9h1v1h-1zM255.3 266.5h1v1h-1zM269.9 247.6h1v1h-1zM260.6 266.5h1v1h-1zM260.8 271.8h1v1h-1zM256.7 246.8h1v1h-1zM264 252.5h1v1h-1zM245.4 250.2h1v1h-1zM275.9 262.9h1v1h-1zM270 260.3h1v1h-1zM272 255.5h1v1h-1zM280.2 274.5h1v1h-1zM268.4 258.8h1v1h-1zM261.5 257.1h1v1h-1zM281.1 240.7h1v1h-1zM260.4 253.7h1v1h-1zM266.9 274h1v1h-1zM239 263.9h1v1h-1zM258.5 254.4h1v1h-1zM264.7 251.1h1v1h-1zM272.8 237.8h1v1h-1zM271.2 241h1v1h-1zM276.5 269.1h1v1h-1zM258.1 253.1h1v1h-1zM258.1 254.1h1v1h-1zM267.3 273h1v1h-1zM255.2 246h1v1h-1zM260 245h1v1h-1zM265.4 275.5h1v1h-1zM240.7 262.8h1v1h-1zM245.6 227.4h1v1h-1zM269.5 252.5h1v1h-1zM256 240.3h1v1h-1zM273.6 244.7h1v1h-1zM258.7 249h1v1h-1zM252.1 226.6h1v1h-1zM271.9 241.3h1v1h-1zM261.4 281.8h1v1h-1zM268.9 249.5h1v1h-1zM256.3 245.2h1v1h-1zM254.8 268.1h1v1h-1zM260.4 231h1v1h-1zM254.9 249.1h1v1h-1zM262.1 273.4h1v1h-1zM252.2 252.9h1v1h-1zM268.4 258.2h1v1h-1zM273.6 249.3h1v1h-1zM269.9 258.4h1v1h-1zM249.1 264h1v1h-1zM279 250.2h1v1h-1zM243.3 254.5h1v1h-1zM266.7 256.9h1v1h-1zM265.4 222.6h1v1h-1zM273.4 267.4h1v1h-1zM256.1 281.9h1v1h-1zM258.2 266h1v1h-1zM278.1 256.7h1v1h-1zM277.8 247.1h1v1h-1zM252 258.8h1v1h-1zM260.8 284.2h1v1h-1zM254.8 276.7h1v1h-1zM237.4 242h1v1h-1zM277.8 277.3h1v1h-1zM256.3 242h1v1h-1zM264.9 242.8h1v1h-1zM267.2 250.8h1v1h-1zM248.7 263.1h1v1h-1zM275 249.5h1v1h-1zM256.2 269h1v1h-1zM246.7 258h1v1h-1zM268.2 278.2h1v1h-1zM266.2 231.2h1v1h-1zM257.7 255h1v1h-1zM263.5 263.8h1v1h-1zM284.4 277.6h1v1h-1zM272.5 220.1h1v1h-1zM264.3 249.5h1v1h-1zM259.8 221.8h1v1h-1zM286.2 260.2h1v1h-1zM259 244.4h1v1h-1zM240.8 258.5h1v1h-1zM278.8 269.3h1v1h-1zM258.2 267.1h1v1h-1zM238.1 250h1v1h-1zM247.4 263.1h1v1h-1zM237.8 245.6h1v1h-1zM255.1 262.4h1v1h-1zM257 245.6h1v1h-1zM283.7 266.8h1v1h-1zM263.1 240.7h1v1h-1zM257.1 263h1v1h-1zM262.1 229.9h1v1h-1zM266.4 256.5h1v1h-1zM279.8 235.4h1v1h-1zM240.7 244.2h1v1h-1zM246.4 268.1h1v1h-1zM263.9 236.1h1v1h-1zM287.1 216.5h1v1h-1zM258.2 227.2h1v1h-1zM277.1 256.6h1v1h-1zM257.4 271h1v1h-1zM257.4 255h1v1h-1zM261 254.6h1v1h-1zM280.8 270.7h1v1h-1zM258.4 253h1v1h-1zM265 274.9h1v1h-1zM268.1 277.2h1v1h-1zM275.2 248.5h1v1h-1zM264.9 273.8h1v1h-1zM274.9 264.8h1v1h-1zM284.5 251.6h1v1h-1zM273.8 253.3h1v1h-1zM259.7 270.7h1v1h-1zM262.6 233.9h1v1h-1zM267.6 228.2h1v1h-1zM261.1 272.1h1v1h-1zM250.8 284.7h1v1h-1zM253 258h1v1h-1zM257.6 270h1v1h-1zM240.7 227.5h1v1h-1zM274.6 244.7h1v1h-1zM257.5 247.8h1v1h-1zM255.3 256h1v1h-1zM279 245.8h1v1h-1zM247.4 252.3h1v1h-1zM252 250.3h1v1h-1zM276.7 263.2h1v1h-1zM263.3 270.5h1v1h-1zM273.6 267.4h1v1h-1zM265.6 275.7h1v1h-1zM264.3 250.3h1v1h-1zM256.6 246.1h1v1h-1zM270.1 223.3h1v1h-1zM267.2 226.5h1v1h-1zM267.1 266.1h1v1h-1zM259.2 260.9h1v1h-1zM278.7 253.9h1v1h-1zM265.2 248.1h1v1h-1zM271.6 233.4h1v1h-1zM250.3 218h1v1h-1zM244.4 243.7h1v1h-1zM273.1 249h1v1h-1zM256.5 211.9h1v1h-1zM254.2 274.2h1v1h-1zM268.7 242.2h1v1h-1zM280.3 260h1v1h-1zM261 273.9h1v1h-1zM260.8 277.1h1v1h-1zM269.6 248.1h1v1h-1zM270.9 268.5h1v1h-1zM265.1 267.6h1v1h-1zM242.6 253.9h1v1h-1zM273.6 258.2h1v1h-1zM255 238.9h1v1h-1zM256 242.4h1v1h-1zM267 249.5h1v1h-1zM263.7 254.6h1v1h-1zM266.7 268.1h1v1h-1zM261.3 248.7h1v1h-1zM276.7 246.2h1v1h-1zM260.1 246.2h1v1h-1zM273.5 260.5h1v1h-1zM268.5 228.7h1v1h-1zM262.2 253.8h1v1h-1zM252.7 233.6h1v1h-1zM269.5 243.9h1v1h-1zM262.8 280.7h1v1h-1zM272 255.7h1v1h-1zM257.4 262.7h1v1h-1zM247.3 245.8h1v1h-1zM257.4 254.3h1v1h-1zM241.8 268.6h1v1h-1zM272.7 256.2h1v1h-1zM266.3 246.8h1v1h-1zM269.6 245.3h1v1h-1zM264.3 260.7h1v1h-1zM283.2 247.7h1v1h-1zM281 267.8h1v1h-1zM278.5 230.3h1v1h-1zM237.7 265.2h1v1h-1zM253.5 239.8h1v1h-1zM265.8 251.7h1v1h-1zM275.1 287.1h1v1h-1zM237.9 269.7h1v1h-1zM283.6 244.7h1v1h-1zM268.5 246.8h1v1h-1zM283.7 267.4h1v1h-1zM250.4 268.1h1v1h-1zM255.2 252.6h1v1h-1zM251.9 265.1h1v1h-1zM256.9 246.3h1v1h-1zM255.1 208.7h1v1h-1zM243.4 270.6h1v1h-1zM280.1 245.1h1v1h-1zM270.9 262.6h1v1h-1zM254.5 250.2h1v1h-1zM239.6 248.4h1v1h-1zM278.4 238.6h1v1h-1zM236.8 265.3h1v1h-1zM251 266.5h1v1h-1zM249 273.4h1v1h-1zM255.4 264.4h1v1h-1zM269.8 260h1v1h-1zM274.6 244.6h1v1h-1zM268 253.8h1v1h-1zM250.2 260h1v1h-1zM280 212.9h1v1h-1zM278.6 234.3h1v1h-1zM273.7 250.1h1v1h-1zM251.3 275.6h1v1h-1zM255 280.6h1v1h-1zM254.8 240.7h1v1h-1zM256.7 254.1h1v1h-1zM272 244.6h1v1h-1zM266.7 239.9h1v1h-1zM259.3 247.2h1v1h-1zM278.1 254.8h1v1h-1zM263.2 266.1h1v1h-1zM257.4 229h1v1h-1zM256.5 250.8h1v1h-1zM248.4 236.8h1v1h-1zM261.3 275.6h1v1h-1zM253.6 280.5h1v1h-1zM262.7 245.3h1v1h-1zM268.6 241.4h1v1h-1zM269.6 262.8h1v1h-1zM258.6 268.3h1v1h-1zM286.9 236.8h1v1h-1zM250.1 245.9h1v1h-1zM272.6 257.2h1v1h-1zM264.3 235.8h1v1h-1zM267.4 277h1v1h-1zM255.8 253.5h1v1h-1zM254.6 253.8h1v1h-1zM271.7 234h1v1h-1zM243.2 272.5h1v1h-1zM265.6 231h1v1h-1zM246.3 241h1v1h-1zM241.8 243h1v1h-1zM264.8 250.5h1v1h-1zM257.1 229.5h1v1h-1zM287.3 240.1h1v1h-1zM242.7 262.2h1v1h-1zM265.7 252h1v1h-1zM265.2 254.6h1v1h-1zM266 268.4h1v1h-1zM258.3 259.9h1v1h-1zM244.4 268.9h1v1h-1zM272.8 253h1v1h-1zM272.9 238.2h1v1h-1zM268.6 279.4h1v1h-1zM267.2 225.2h1v1h-1zM278.4 230.5h1v1h-1zM275.8 234.1h1v1h-1zM272.3 290.8h1v1h-1zM256.4 253.9h1v1h-1zM276.2 270h1v1h-1zM253.5 227.5h1v1h-1zM268.7 234.9h1v1h-1zM251.9 257.7h1v1h-1zM262 245.2h1v1h-1zM273.5 254.5h1v1h-1zM260.2 262.4h1v1h-1zM275.4 254.1h1v1h-1zM258.2 254.1h1v1h-1zM284.1 256.1h1v1h-1zM262.1 249.3h1v1h-1zM272.6 268.3h1v1h-1zM263.5 237.7h1v1h-1zM250.5 257.1h1v1h-1zM258.9 267h1v1h-1zM287.8 249.6h1v1h-1zM248.9 251.2h1v1h-1zM245.1 282.5h1v1h-1zM267.6 270.8h1v1h-1zM279.2 289.7h1v1h-1zM259.4 282.8h1v1h-1zM253.6 247.4h1v1h-1zM261.3 241.6h1v1h-1zM261.4 248.2h1v1h-1zM277.5 266.8h1v1h-1zM286.7 197.8h1v1h-1zM262.2 253.6h1v1h-1zM254 272.3h1v1h-1zM249.5 253.6h1v1h-1zM243.1 258.1h1v1h-1zM263.1 249.1h1v1h-1zM245.2 226h1v1h-1zM272.5 268.1h1v1h-1zM261.1 248.3h1v1h-1zM255.5 260.5h1v1h-1zM281.3 253.2h1v1h-1zM243 284.3h1v1h-1zM274.8 260.5h1v1h-1zM265.2 259.9h1v1h-1zM267 251.4h1v1h-1zM263.8 239.8h1v1h-1zM250.2 259.4h1v1h-1zM271.2 270.4h1v1h-1zM278.3 253h1v1h-1zM239.5 218.2h1v1h-1zM265.1 240.4h1v1h-1zM262.5 284.1h1v1h-1zM260.3 243.9h1v1h-1zM268.8 255.9h1v1h-1zM261.5 222.3h1v1h-1zM259 243.7h1v1h-1zM278.3 239.1h1v1h-1zM252.2 265.7h1v1h-1zM258.9 263h1v1h-1zM258.7 261.8h1v1h-1zM254.1 269.2h1v1h-1zM257.5 245.2h1v1h-1zM280.7 280.3h1v1h-1zM253.7 249h1v1h-1zM244.7 286.9h1v1h-1zM237 244.6h1v1h-1zM255.3 259h1v1h-1zM248.3 251h1v1h-1zM278.7 255h1v1h-1zM269.2 257.8h1v1h-1zM250.7 251.8h1v1h-1zM261.2 253.2h1v1h-1zM259.9 264.3h1v1h-1zM265.4 241.1h1v1h-1zM266.9 244.9h1v1h-1zM270.1 230.8h1v1h-1zM266.4 258.4h1v1h-1zM263.6 245.6h1v1h-1zM253.2 239.1h1v1h-1zM264.7 231h1v1h-1zM266.1 238.7h1v1h-1zM247.4 259.9h1v1h-1zM264.6 232.5h1v1h-1zM248.4 267.5h1v1h-1zM243.3 262.9h1v1h-1zM262.7 257.5h1v1h-1zM269.9 225.8h1v1h-1zM274.9 240.6h1v1h-1zM256.8 269.6h1v1h-1zM245.8 246.8h1v1h-1zM252.7 240.6h1v1h-1zM260.4 241.2h1v1h-1zM262.2 258.9h1v1h-1zM269.2 223.4h1v1h-1zM261.3 269.2h1v1h-1zM276.3 256.5h1v1h-1zM255.8 236.2h1v1h-1zM269.2 262.6h1v1h-1zM271.3 209.3h1v1h-1zM268.3 233h1v1h-1zM270 257.7h1v1h-1zM250.4 276.7h1v1h-1zM274.3 233.6h1v1h-1zM257.4 230h1v1h-1zM261.4 251.6h1v1h-1zM251.3 254.2h1v1h-1zM268.1 240.4h1v1h-1zM258.3 240h1v1h-1zM255.3 277.6h1v1h-1zM271.9 237.7h1v1h-1zM254.4 226.6h1v1h-1zM268 246h1v1h-1zM265.9 273.5h1v1h-1zM270.1 263.7h1v1h-1zM264.3 251.9h1v1h-1zM249 231.8h1v1h-1zM265.5 251.1h1v1h-1zM286.4 262.3h1v1h-1zM286.3 269.4h1v1h-1zM274.4 227h1v1h-1zM275.6 245.9h1v1h-1zM237.5 243.5h1v1h-1zM257.3 280.3h1v1h-1zM250.6 247.8h1v1h-1zM271.1 251.5h1v1h-1zM270.3 244.7h1v1h-1zM270.4 206.8h1v1h-1zM270.9 270.8h1v1h-1zM268.2 222h1v1h-1zM262.5 243.2h1v1h-1zM256.7 227.1h1v1h-1zM272.5 242.8h1v1h-1zM263.9 245h1v1h-1zM276.7 244.2h1v1h-1zM258.5 275.6h1v1h-1zM260.6 233.1h1v1h-1zM254.3 247.4h1v1h-1zM271.8 261.1h1v1h-1zM253.9 245.7h1v1h-1zM236.8 244h1v1h-1zM254.1 283.6h1v1h-1zM255.5 264.9h1v1h-1zM263.8 238.9h1v1h-1zM259.5 256.5h1v1h-1zM279.2 237.9h1v1h-1zM267.8 259.7h1v1h-1zM275.7 229.4h1v1h-1zM280.8 265.3h1v1h-1zM276.6 258.4h1v1h-1zM275.1 257.8h1v1h-1zM258.2 252.3h1v1h-1zM269.3 256h1v1h-1zM262.8 238.4h1v1h-1zM273.4 253.3h1v1h-1zM257 261.9h1v1h-1zM272 259.3h1v1h-1zM258 237.3h1v1h-1zM273.1 261.4h1v1h-1zM278.9 233h1v1h-1zM279 240.6h1v1h-1zM259.1 238.5h1v1h-1zM280.1 242.5h1v1h-1zM243.3 250.2h1v1h-1zM266.1 263.2h1v1h-1zM246.9 269.4h1v1h-1zM264.3 259.5h1v1h-1zM249.7 240.4h1v1h-1zM263.6 264.3h1v1h-1zM255.5 268.1h1v1h-1zM279.5 240h1v1h-1zM274.6 249.7h1v1h-1zM276.7 283.4h1v1h-1zM269.9 247.3h1v1h-1zM263.2 249.4h1v1h-1zM261.6 263.5h1v1h-1zM250.2 233.2h1v1h-1zM254.7 234.8h1v1h-1zM273.9 250.3h1v1h-1zM259.3 265.7h1v1h-1zM269 247.2h1v1h-1zM253.5 241.7h1v1h-1zM280.8 277.6h1v1h-1zM263.3 231.9h1v1h-1zM287.1 273.3h1v1h-1zM270.6 240.6h1v1h-1zM277.7 270.6h1v1h-1zM262.5 279.6h1v1h-1zM259 238h1v1h-1zM281.7 261.5h1v1h-1zM273.4 264h1v1h-1zM274.5 272.3h1v1h-1zM276.7 247.1h1v1h-1zM266.1 272h1v1h-1zM259 253.8h1v1h-1zM269.2 235.9h1v1h-1zM243.3 268.3h1v1h-1zM265.6 272.5h1v1h-1zM278.2 251.9h1v1h-1zM261.8 250.1h1v1h-1zM287.1 264.6h1v1h-1zM260.4 279.3h1v1h-1zM252 232.2h1v1h-1zM271.6 269.2h1v1h-1zM262.5 284.7h1v1h-1zM272 238h1v1h-1zM256.8 261.4h1v1h-1zM271.2 253.1h1v1h-1zM265.9 257.8h1v1h-1zM267.6 272.2h1v1h-1zM276 226.4h1v1h-1zM255.3 243.9h1v1h-1zM262.5 229.9h1v1h-1zM277.9 247h1v1h-1zM279.3 282.2h1v1h-1zM273.2 235.2h1v1h-1zM251.2 244.5h1v1h-1zM267 242.3h1v1h-1zM259.7 258.5h1v1h-1zM260.7 247h1v1h-1zM246 239.5h1v1h-1zM239.4 239.7h1v1h-1zM276.4 249.5h1v1h-1zM274.2 232.3h1v1h-1zM247 213.3h1v1h-1zM260.2 270.8h1v1h-1zM265.2 254.1h1v1h-1zM257.5 242.4h1v1h-1zM270.5 249.4h1v1h-1zM259.7 263.8h1v1h-1zM247.7 238.2h1v1h-1zM259.4 252.5h1v1h-1zM269.8 243.4h1v1h-1zM253.3 271.8h1v1h-1zM273.4 212.9h1v1h-1zM277 229.5h1v1h-1zM271.7 274.7h1v1h-1zM271.1 232.8h1v1h-1zM263.3 239.3h1v1h-1zM270.9 232.3h1v1h-1zM255.6 214.5h1v1h-1zM236.5 250.4h1v1h-1zM255.9 262.9h1v1h-1zM281.8 256.9h1v1h-1zM276.7 232h1v1h-1zM251.5 243.4h1v1h-1zM261.6 278.4h1v1h-1zM255.6 248.9h1v1h-1zM250 236.9h1v1h-1zM260.2 266.2h1v1h-1zM273.7 247.1h1v1h-1zM264.8 221.7h1v1h-1zM261.2 238.1h1v1h-1zM238.1 266.6h1v1h-1zM250.2 250.3h1v1h-1zM264.4 262.2h1v1h-1zM273.9 239.3h1v1h-1zM266.3 227.7h1v1h-1zM274.1 251.6h1v1h-1zM236.5 241.6h1v1h-1zM253.5 251.7h1v1h-1zM255.9 240.1h1v1h-1zM247.9 239.7h1v1h-1zM245.1 229h1v1h-1zM274.5 256.4h1v1h-1zM248.7 283.1h1v1h-1zM277.1 232h1v1h-1zM274.8 270.4h1v1h-1zM259.8 262.8h1v1h-1zM247.3 241.5h1v1h-1zM256.9 235.5h1v1h-1zM255.4 260.6h1v1h-1zM256.1 246.2h1v1h-1zM254.6 247.3h1v1h-1zM264.6 244.5h1v1h-1zM260.5 282.7h1v1h-1zM263.3 226h1v1h-1zM263.6 259h1v1h-1zM278.6 282.5h1v1h-1zM288 254.6h1v1h-1zM264.1 286.5h1v1h-1zM263 252.1h1v1h-1zM262 254.7h1v1h-1zM275.5 264.7h1v1h-1zM272.3 240.5h1v1h-1zM265.3 252.6h1v1h-1zM262.2 261.4h1v1h-1zM270.8 241.4h1v1h-1zM276.5 259.6h1v1h-1zM258.8 269.7h1v1h-1zM269.1 233.4h1v1h-1zM242.3 250.2h1v1h-1zM256 258.6h1v1h-1zM269.7 240.6h1v1h-1zM245.1 268.5h1v1h-1zM245.9 272.1h1v1h-1zM267 243.2h1v1h-1zM240.4 256.2h1v1h-1zM260.1 242.1h1v1h-1zM288.9 250.3h1v1h-1zM268.2 259.9h1v1h-1zM285 249.8h1v1h-1zM282.6 255.1h1v1h-1zM254.9 245.2h1v1h-1zM261.6 271.5h1v1h-1zM268.5 267.4h1v1h-1zM277.2 242.4h1v1h-1zM281.2 261.4h1v1h-1zM268 245h1v1h-1zM251.4 274.8h1v1h-1zM257.1 249.2h1v1h-1zM275.9 265.5h1v1h-1zM280 217.3h1v1h-1zM246.7 274.8h1v1h-1zM288.2 263.1h1v1h-1zM261.8 266.2h1v1h-1zM277 255.8h1v1h-1zM275.4 268.3h1v1h-1zM286.4 270.7h1v1h-1zM278.3 264.2h1v1h-1zM283.7 248.3h1v1h-1zM274.2 250.1h1v1h-1zM254.7 253.4h1v1h-1zM261.9 249.3h1v1h-1zM272.4 239.4h1v1h-1zM275.6 232.3h1v1h-1zM265.9 251.1h1v1h-1zM255.6 237.9h1v1h-1zM249.1 246.9h1v1h-1zM265.2 232.2h1v1h-1zM262.7 246h1v1h-1zM258.3 248.9h1v1h-1zM271.4 287.6h1v1h-1zM273 251.4h1v1h-1zM265.7 269.6h1v1h-1zM240.1 260.7h1v1h-1zM256 257.6h1v1h-1zM256.6 247.9h1v1h-1zM271.7 263.1h1v1h-1zM256.6 261.2h1v1h-1zM261.4 230.2h1v1h-1zM250.9 263.5h1v1h-1zM257.5 249.4h1v1h-1zM274.2 240.2h1v1h-1zM269.3 264.1h1v1h-1zM254.1 267.8h1v1h-1zM249.6 250.8h1v1h-1zM276.5 272.3h1v1h-1zM264.1 265.5h1v1h-1zM271.4 227.8h1v1h-1zM267.8 235.1h1v1h-1zM265.7 258.3h1v1h-1zM237 238.2h1v1h-1zM275.1 242.6h1v1h-1zM285.4 257.5h1v1h-1zM265.2 248h1v1h-1zM262.2 241.5h1v1h-1zM266.9 230h1v1h-1zM261.2 285.7h1v1h-1zM242.3 230.2h1v1h-1zM260 245.7h1v1h-1zM264.2 270.2h1v1h-1zM277 251h1v1h-1zM252.5 237.3h1v1h-1zM260.5 234.2h1v1h-1zM264.5 271.2h1v1h-1zM269.9 265.1h1v1h-1zM287.6 221h1v1h-1zM272 230.2h1v1h-1zM272.2 262.8h1v1h-1zM250 278.7h1v1h-1zM283.6 243.7h1v1h-1zM243.7 267.9h1v1h-1zM280.6 226.7h1v1h-1zM274.8 225.4h1v1h-1zM265.6 232.2h1v1h-1zM251.7 260.5h1v1h-1zM270.9 255.8h1v1h-1zM258.7 264.1h1v1h-1zM280.7 223.9h1v1h-1zM238.5 279.5h1v1h-1zM265.4 245.8h1v1h-1zM265.3 256.6h1v1h-1zM260.7 223.2h1v1h-1zM244.9 202.8h1v1h-1zM239.2 216.9h1v1h-1zM256.1 221.6h1v1h-1zM246.8 216.9h1v1h-1zM254.1 217.2h1v1h-1zM239.5 214.9h1v1h-1zM239.7 221h1v1h-1zM246.2 204.5h1v1h-1zM245.7 197.1h1v1h-1zM238.5 210.3h1v1h-1zM248.9 214.4h1v1h-1zM253.5 220h1v1h-1zM242.7 208h1v1h-1zM241.6 216.1h1v1h-1zM241.6 214.2h1v1h-1zM249 221h1v1h-1zM244.3 210.5h1v1h-1zM248.3 220.1h1v1h-1zM253 221.2h1v1h-1zM243 212.1h1v1h-1zM243.2 213.2h1v1h-1zM243 210.5h1v1h-1zM255.7 208.3h1v1h-1zM244.3 209h1v1h-1zM245.6 205h1v1h-1zM242.9 220.9h1v1h-1zM251.5 218.1h1v1h-1zM248 213.4h1v1h-1zM236.9 215.5h1v1h-1zM251.8 214.9h1v1h-1zM248 227.8h1v1h-1zM253.7 222.3h1v1h-1zM248.8 211.6h1v1h-1zM244.7 220.6h1v1h-1zM237.9 200h1v1h-1zM252.1 210.2h1v1h-1zM253.9 207.7h1v1h-1zM238.8 217.3h1v1h-1zM244.6 209.6h1v1h-1zM248.4 207.5h1v1h-1zM244.1 208h1v1h-1zM247.8 201.8h1v1h-1zM242.3 202.8h1v1h-1zM240.5 205.8h1v1h-1zM253.7 217.6h1v1h-1zM237.4 216.7h1v1h-1zM249.6 221h1v1h-1zM239.4 229.1h1v1h-1zM245.3 222.4h1v1h-1zM240.2 198.4h1v1h-1zM246.1 208.9h1v1h-1zM240.6 227.7h1v1h-1zM247 215.8h1v1h-1zM236.9 217.7h1v1h-1zM237.4 216.2h1v1h-1zM244 202.2h1v1h-1zM249.5 218h1v1h-1zM239 213h1v1h-1zM258.9 205.6h1v1h-1zM242.3 217.6h1v1h-1zM250.6 229.4h1v1h-1zM237.7 212.7h1v1h-1zM237.9 203h1v1h-1zM237.8 213.2h1v1h-1zM236.6 206.4h1v1h-1zM237.2 193h1v1h-1zM241.9 209.9h1v1h-1zM238.9 217.6h1v1h-1zM256.5 205.8h1v1h-1zM244.5 213.3h1v1h-1zM247 213h1v1h-1zM238.3 210.1h1v1h-1zM255.6 210.6h1v1h-1zM256 211.3h1v1h-1zM237.1 211.7h1v1h-1zM237.3 212.9h1v1h-1zM239.5 218.6h1v1h-1zM255.1 209.8h1v1h-1zM236.7 206.8h1v1h-1zM237.6 218.4h1v1h-1zM237.2 208.2h1v1h-1zM246.9 232.8h1v1h-1zM251 211.9h1v1h-1zM238 231.5h1v1h-1zM253.1 216.3h1v1h-1zM246.1 216.8h1v1h-1zM239 222h1v1h-1zM248.9 217.8h1v1h-1zM254 213h1v1h-1zM254.1 211.1h1v1h-1zM248.7 206h1v1h-1zM254.4 205.7h1v1h-1zM245 221.5h1v1h-1zM247.3 192.9h1v1h-1zM257.8 229.1h1v1h-1zM244.2 222.3h1v1h-1zM239.2 211.3h1v1h-1zM236.4 229.3h1v1h-1zM241.3 230.5h1v1h-1zM237.8 223.8h1v1h-1zM238.3 192.8h1v1h-1zM236.8 196.4h1v1h-1zM243.7 219.7h1v1h-1zM236.8 203.5h1v1h-1zM244.2 217.5h1v1h-1zM245 210.3h1v1h-1zM250.7 217.3h1v1h-1zM252.4 211h1v1h-1zM256.2 213.9h1v1h-1zM243.2 198.9h1v1h-1zM236.8 213.4h1v1h-1zM250.6 206h1v1h-1zM248 222.9h1v1h-1zM241.9 207.8h1v1h-1zM250.9 217.7h1v1h-1zM259.1 218.8h1v1h-1zM247.8 212.3h1v1h-1zM242.1 206.3h1v1h-1zM246.6 214.8h1v1h-1zM238.6 212.4h1v1h-1zM259.3 220.4h1v1h-1zM236.5 205.4h1v1h-1zM237.8 203.3h1v1h-1zM252.4 219.7h1v1h-1zM243.8 215.7h1v1h-1zM236.4 223.9h1v1h-1zM251.8 225.4h1v1h-1zM253.4 197.2h1v1h-1zM237.3 215.7h1v1h-1zM249.8 214.8h1v1h-1zM252.2 214.1h1v1h-1zM258.4 221.7h1v1h-1zM248.6 230.5h1v1h-1zM250.5 211.8h1v1h-1zM245.9 212.3h1v1h-1zM250.3 219.2h1v1h-1zM257.5 220h1v1h-1zM250.3 212.3h1v1h-1zM240.8 221h1v1h-1zM244.7 225.4h1v1h-1zM259.2 208.7h1v1h-1zM236.4 224.5h1v1h-1zM240.9 206.5h1v1h-1zM240.5 224.7h1v1h-1zM254.6 205.5h1v1h-1zM238.9 205.9h1v1h-1zM242.2 201.3h1v1h-1zM244.8 210.5h1v1h-1zM249.2 212.8h1v1h-1zM249.6 211.9h1v1h-1zM237 209.9h1v1h-1zM237 211h1v1h-1zM236.8 208.8h1v1h-1zM253.4 209.7h1v1h-1zM243.4 214.3h1v1h-1zM246.5 208.1h1v1h-1zM245.2 214.4h1v1h-1zM236.9 203.6h1v1h-1zM237.3 201.3h1v1h-1zM237.1 219.8h1v1h-1zM259 206h1v1h-1zM242.4 213.9h1v1h-1zM248.7 204.2h1v1h-1zM237.9 199.8h1v1h-1zM263.7 201h1v1h-1zM245.8 205.2h1v1h-1zM237.1 224.3h1v1h-1zM241.7 206.7h1v1h-1zM247.5 215h1v1h-1zM252.3 209.5h1v1h-1zM242.6 213.9h1v1h-1zM249.8 202.2h1v1h-1zM247.2 222.5h1v1h-1zM246.7 214.7h1v1h-1zM242.2 208.9h1v1h-1zM247.9 220h1v1h-1zM253 199.4h1v1h-1zM245.1 206.5h1v1h-1zM242.7 215.9h1v1h-1zM264.9 226.7h1v1h-1zM250 208.4h1v1h-1zM249.8 228.9h1v1h-1zM236.9 223.3h1v1h-1zM252.9 205.1h1v1h-1zM237.2 217.5h1v1h-1zM253.6 223h1v1h-1zM247.5 204.5h1v1h-1zM241.7 226.1h1v1h-1zM240.2 199.3h1v1h-1zM246.3 225.2h1v1h-1zM242.3 223.2h1v1h-1zM237.4 227.7h1v1h-1zM252.7 220.5h1v1h-1zM237 215.5h1v1h-1zM243.9 199.1h1v1h-1zM241.7 228.7h1v1h-1zM256.1 218.9h1v1h-1zM237.1 220.6h1v1h-1zM252.1 208.1h1v1h-1zM248.4 193.5h1v1h-1zM240 217.5h1v1h-1zM236.8 205.3h1v1h-1zM240.1 212.9h1v1h-1zM237.6 218.1h1v1h-1zM246.6 201.7h1v1h-1zM249 217.2h1v1h-1zM252.5 206.4h1v1h-1zM239.9 208.1h1v1h-1zM248.7 219.9h1v1h-1zM243.4 200.2h1v1h-1zM248.7 208.1h1v1h-1zM244.6 211h1v1h-1zM244.9 222.1h1v1h-1zM242.7 212.4h1v1h-1zM248.7 219h1v1h-1zM245.8 203.4h1v1h-1zM238.2 199.8h1v1h-1zM238.2 211.7h1v1h-1zM252.1 226.9h1v1h-1zM250.5 217.7h1v1h-1zM244.5 209.3h1v1h-1zM253.4 207.5h1v1h-1zM244.7 225h1v1h-1zM244.2 218.7h1v1h-1zM242.1 200.4h1v1h-1zM254.1 195.7h1v1h-1zM257.9 230.2h1v1h-1zM243.6 214.5h1v1h-1zM240.6 213.2h1v1h-1zM252.7 216.3h1v1h-1zM251.5 212.3h1v1h-1zM249.6 211.8h1v1h-1zM236.8 212.5h1v1h-1zM247.2 195.4h1v1h-1zM246.5 210.2h1v1h-1zM243.1 208.9h1v1h-1zM248.3 222.6h1v1h-1zM244.1 221.8h1v1h-1zM248 209.7h1v1h-1zM245.1 212h1v1h-1zM243.2 213.8h1v1h-1zM257.2 230.5h1v1h-1zM244.9 222.6h1v1h-1zM249.5 207.1h1v1h-1zM251.8 225.9h1v1h-1zM238.5 204.8h1v1h-1zM243.9 223.1h1v1h-1zM239.1 214h1v1h-1zM244 202.7h1v1h-1zM236.9 209.2h1v1h-1zM251.4 211.5h1v1h-1zM245.2 222.6h1v1h-1zM236.5 224.7h1v1h-1zM248.5 197.6h1v1h-1zM238.2 208.8h1v1h-1zM236.8 222.7h1v1h-1zM248.2 217.6h1v1h-1zM245.5 217.7h1v1h-1zM240.1 218.9h1v1h-1zM250.2 219.9h1v1h-1zM248.4 224.6h1v1h-1zM246.4 209.7h1v1h-1zM252.4 193.3h1v1h-1zM247.3 217.4h1v1h-1zM254 207.5h1v1h-1zM247.7 198.4h1v1h-1zM247.6 213.5h1v1h-1zM239.7 206.5h1v1h-1zM242.8 212.5h1v1h-1zM258.7 194.9h1v1h-1zM241.2 217.7h1v1h-1zM244.3 212.6h1v1h-1zM242.1 214.7h1v1h-1zM237.6 206.6h1v1h-1zM249.4 205.9h1v1h-1zM258.5 221.5h1v1h-1zM257 218.6h1v1h-1zM243.6 210.7h1v1h-1zM239 202.3h1v1h-1zM241.4 217.5h1v1h-1zM248.8 208.6h1v1h-1zM242.4 220.5h1v1h-1zM250.7 206.8h1v1h-1zM247.2 214.6h1v1h-1zM236.6 216.2h1v1h-1zM237.2 208.1h1v1h-1zM251.2 217.7h1v1h-1zM251.2 200.9h1v1h-1zM245.3 224.5h1v1h-1zM255.6 209.3h1v1h-1zM244.8 209.2h1v1h-1zM243.2 211.4h1v1h-1zM244.9 209.8h1v1h-1zM249.1 206.8h1v1h-1zM238.6 214.6h1v1h-1zM246.2 207.5h1v1h-1zM246.3 210.3h1v1h-1zM239.3 214.4h1v1h-1zM239.2 211.1h1v1h-1zM253.9 205.9h1v1h-1zM241.9 219.9h1v1h-1zM243.1 230.2h1v1h-1zM251.7 207.7h1v1h-1zM236.6 220.6h1v1h-1zM262.6 206.7h1v1h-1zM240 210.6h1v1h-1zM240.7 203.4h1v1h-1zM236.8 207.9h1v1h-1zM240.9 206.3h1v1h-1zM238.5 212.1h1v1h-1zM241.9 210.1h1v1h-1zM237.4 232h1v1h-1zM238.8 205.3h1v1h-1zM253.4 218.4h1v1h-1zM250.5 220.3h1v1h-1zM249.8 197.6h1v1h-1zM249 198.1h1v1h-1zM249.4 220.6h1v1h-1zM240.2 202.8h1v1h-1zM265.4 210.3h1v1h-1zM241 189.9h1v1h-1zM236.6 203.6h1v1h-1zM259.5 210.9h1v1h-1zM242.3 223h1v1h-1zM245.5 231h1v1h-1zM238 207.7h1v1h-1zM243.3 225.9h1v1h-1zM248.5 213.2h1v1h-1zM247.4 211.2h1v1h-1zM236.5 211.3h1v1h-1zM250.4 211.2h1v1h-1zM239.6 199.9h1v1h-1zM237.1 212.6h1v1h-1zM251.5 203.4h1v1h-1zM247.4 216.3h1v1h-1zM243.5 237.1h1v1h-1zM239.6 201.9h1v1h-1zM250.5 227.8h1v1h-1zM243.2 203.5h1v1h-1zM240.2 210.4h1v1h-1zM249 222.4h1v1h-1zM247.1 217.8h1v1h-1zM236.6 223.8h1v1h-1zM253.9 225.2h1v1h-1zM237.3 210.9h1v1h-1zM239.4 208.7h1v1h-1zM247.6 218.9h1v1h-1zM244.5 217.8h1v1h-1zM250.7 228.4h1v1h-1zM249.2 194.6h1v1h-1zM238.8 222.4h1v1h-1zM254.4 217.8h1v1h-1zM241.6 210.8h1v1h-1zM245.1 206.3h1v1h-1zM239.8 206.5h1v1h-1zM237.5 206.5h1v1h-1zM249.6 227.6h1v1h-1zM248.5 213.7h1v1h-1zM246.9 211.1h1v1h-1zM240.5 213.9h1v1h-1zM256.2 218.4h1v1h-1zM247.8 220.1h1v1h-1zM249.3 213.3h1v1h-1zM245.8 211.7h1v1h-1zM247.3 206.7h1v1h-1zM253.3 213.1h1v1h-1zM252.5 212.3h1v1h-1zM253 208h1v1h-1zM246 210.8h1v1h-1zM246.1 224.5h1v1h-1zM237.1 220.5h1v1h-1zM243.8 216h1v1h-1zM241.3 224h1v1h-1zM239.4 214.6h1v1h-1zM245.2 223.7h1v1h-1zM245.7 213.4h1v1h-1zM240.2 226.2h1v1h-1zM237.3 218.3h1v1h-1zM243.4 210.8h1v1h-1zM245.2 203.1h1v1h-1zM247.4 214.7h1v1h-1zM238.9 214.8h1v1h-1zM236.5 204h1v1h-1zM237.7 211.7h1v1h-1zM245 208.3h1v1h-1zM241 215.9h1v1h-1zM249.2 202.3h1v1h-1zM236.8 213.4h1v1h-1zM254.4 230.4h1v1h-1zM243.7 222.1h1v1h-1zM243.6 213.3h1v1h-1zM246.1 227h1v1h-1zM250 210.2h1v1h-1zM250.7 220.9h1v1h-1zM237.7 216.2h1v1h-1zM241.1 209.8h1v1h-1zM248.2 217.9h1v1h-1zM249.1 234.4h1v1h-1zM246.6 206h1v1h-1zM238.8 205.8h1v1h-1zM248 228.5h1v1h-1zM243.8 207.9h1v1h-1zM245.1 212.6h1v1h-1zM253.6 209.6h1v1h-1zM244.3 207h1v1h-1zM248.3 217.8h1v1h-1zM255.3 204.7h1v1h-1zM252.1 204.5h1v1h-1zM236.4 211.4h1v1h-1zM237.6 218.4h1v1h-1zM238 226.2h1v1h-1zM252.5 213.3h1v1h-1zM243.8 221.7h1v1h-1zM241.3 225.7h1v1h-1zM244.5 217.7h1v1h-1zM236.9 221h1v1h-1zM249 211.8h1v1h-1zM238.8 199.5h1v1h-1zM251.4 220.5h1v1h-1zM246.9 203.6h1v1h-1zM244.6 218.6h1v1h-1zM248.9 206.3h1v1h-1zM243.3 203.2h1v1h-1zM244.9 212.5h1v1h-1zM253.5 202.4h1v1h-1zM256.8 214.3h1v1h-1zM248.9 211.9h1v1h-1zM254.9 211.6h1v1h-1zM237.1 227h1v1h-1zM246.1 220.8h1v1h-1zM245 211.5h1v1h-1zM241.8 220.8h1v1h-1zM248.9 217.1h1v1h-1zM258.5 210.7h1v1h-1zM248.8 201.7h1v1h-1zM253 207.2h1v1h-1zM254.8 230.8h1v1h-1zM254.5 214h1v1h-1zM245.7 218.6h1v1h-1zM241 228.7h1v1h-1zM253.2 207.2h1v1h-1zM251.3 223.2h1v1h-1zM242.1 191.1h1v1h-1zM256.6 204.5h1v1h-1zM239.5 194.4h1v1h-1zM236.8 213.5h1v1h-1zM244.9 213.7h1v1h-1zM236.5 207.1h1v1h-1zM244.2 207.8h1v1h-1zM244.9 239.5h1v1h-1zM241.3 217.2h1v1h-1zM245.8 218.3h1v1h-1zM236.6 205.7h1v1h-1zM238.4 206.6h1v1h-1zM251 215.3h1v1h-1zM251.7 210.7h1v1h-1zM251.2 212.1h1v1h-1zM242.5 211h1v1h-1zM248.5 198.2h1v1h-1zM243 216.9h1v1h-1zM253.5 215.5h1v1h-1zM237.2 218.5h1v1h-1zM247.3 219.8h1v1h-1zM242.1 229.7h1v1h-1zM250.2 210.1h1v1h-1zM245.8 215.4h1v1h-1zM237.4 225.7h1v1h-1zM243.1 210.3h1v1h-1zM238.6 223.8h1v1h-1zM248.5 209.3h1v1h-1zM251.3 209.6h1v1h-1zM237 204h1v1h-1zM248.3 212.4h1v1h-1zM238.3 232h1v1h-1zM241.8 229.9h1v1h-1zM246.4 214.5h1v1h-1zM253.7 218.2h1v1h-1zM248.6 223.9h1v1h-1zM249.8 204.2h1v1h-1zM242 210h1v1h-1zM244.3 212h1v1h-1zM249.6 197h1v1h-1zM246.5 206.7h1v1h-1zM246.4 208.1h1v1h-1zM248.1 210.7h1v1h-1zM256.8 211.7h1v1h-1zM254.8 193.4h1v1h-1zM255.2 217.5h1v1h-1zM248.1 209.1h1v1h-1zM240.1 217.7h1v1h-1zM237.3 218.8h1v1h-1zM246.4 211.9h1v1h-1zM238.6 229.3h1v1h-1zM237.7 198.3h1v1h-1zM243.3 213h1v1h-1zM260.8 214.1h1v1h-1zM245.5 226.1h1v1h-1zM246.5 212.5h1v1h-1zM245 218.2h1v1h-1zM246.5 215h1v1h-1zM278.5 175.3h1v1h-1zM257.8 206h1v1h-1zM251 209.7h1v1h-1zM260.6 215.7h1v1h-1zM266.7 200.5h1v1h-1zM278.2 192.6h1v1h-1zM238.5 212.7h1v1h-1zM247.7 215h1v1h-1zM281.7 199.2h1v1h-1zM259.1 210.9h1v1h-1zM256 214.2h1v1h-1zM254.9 204.2h1v1h-1zM244.5 197.6h1v1h-1zM248.5 210.1h1v1h-1zM268.2 213h1v1h-1zM257 217.1h1v1h-1zM279.2 185.9h1v1h-1zM239.4 234.8h1v1h-1zM273.4 209.5h1v1h-1zM256.1 213.6h1v1h-1zM277.5 183.8h1v1h-1zM252 214.3h1v1h-1zM271.2 206.4h1v1h-1zM266.2 195.5h1v1h-1zM252.4 204.7h1v1h-1zM264 212.9h1v1h-1zM268.4 210.1h1v1h-1zM282.8 199.6h1v1h-1zM260.9 197.8h1v1h-1zM266.1 193.6h1v1h-1zM248.8 212h1v1h-1zM264 205.8h1v1h-1zM280.3 201.3h1v1h-1zM254.8 199h1v1h-1zM248.7 193.8h1v1h-1zM261.2 213.6h1v1h-1zM275 194.2h1v1h-1zM266.9 198.1h1v1h-1zM270.1 207.3h1v1h-1zM246.4 196.5h1v1h-1zM239.6 214.2h1v1h-1zM272.7 192.9h1v1h-1zM257.8 209.1h1v1h-1zM271.4 196.7h1v1h-1zM270.3 204.3h1v1h-1zM248.7 196.7h1v1h-1zM246 206.7h1v1h-1zM268.9 189.8h1v1h-1zM239.8 225h1v1h-1zM238.1 227.9h1v1h-1zM280.6 192.9h1v1h-1zM254 213.6h1v1h-1zM262.5 199.9h1v1h-1zM271.5 190.7h1v1h-1zM248.4 208.7h1v1h-1zM264.7 214.3h1v1h-1zM282.3 215.1h1v1h-1zM256.1 193.9h1v1h-1zM253.9 212.6h1v1h-1zM271.4 194h1v1h-1zM242 217.2h1v1h-1zM263.5 178.5h1v1h-1zM263.1 207.8h1v1h-1zM257.5 196.3h1v1h-1zM253.9 209.7h1v1h-1zM259.9 207.9h1v1h-1zM277.4 202.3h1v1h-1zM264.2 201.3h1v1h-1zM276.2 197.8h1v1h-1zM267 196.8h1v1h-1zM250.1 193.8h1v1h-1zM255.2 200h1v1h-1zM259.6 198.8h1v1h-1zM254.2 203.4h1v1h-1zM278.8 194.8h1v1h-1zM248 212.4h1v1h-1zM286.5 199.6h1v1h-1zM260.9 222.7h1v1h-1zM245.9 200.9h1v1h-1zM261.4 204.3h1v1h-1zM247.2 214.9h1v1h-1zM280.4 189.9h1v1h-1zM283.9 197.2h1v1h-1zM269.2 176.1h1v1h-1zM285.4 196.3h1v1h-1zM275.5 193h1v1h-1zM238.1 200.7h1v1h-1zM268.2 196.4h1v1h-1zM260.4 222.5h1v1h-1zM271.2 196.3h1v1h-1zM266.3 220.6h1v1h-1zM264.9 222.9h1v1h-1zM251.1 211.4h1v1h-1zM266.9 196.8h1v1h-1zM277.5 201h1v1h-1zM254 221.4h1v1h-1zM273.3 214.3h1v1h-1zM268.1 202.7h1v1h-1zM256.2 197.1h1v1h-1zM265.2 216.1h1v1h-1zM268 181.2h1v1h-1zM276.3 192.5h1v1h-1zM270.5 198.7h1v1h-1zM272 202.2h1v1h-1zM268 193.4h1v1h-1zM254.8 208.1h1v1h-1zM264.2 210.5h1v1h-1zM261.9 203.2h1v1h-1zM246.4 202.8h1v1h-1zM274.3 203.8h1v1h-1zM285 191.8h1v1h-1zM282 182h1v1h-1zM255.5 199.1h1v1h-1zM263.4 220.7h1v1h-1zM250.7 207.1h1v1h-1zM271.9 202.7h1v1h-1zM258.3 199.9h1v1h-1zM274.8 194.2h1v1h-1zM247.7 210h1v1h-1zM261.1 198.2h1v1h-1zM257.1 213h1v1h-1zM268.9 209.6h1v1h-1zM262.1 210.9h1v1h-1zM237.1 212.3h1v1h-1zM268.7 192.7h1v1h-1zM253.5 187.3h1v1h-1zM267.9 210.3h1v1h-1zM258.9 201.2h1v1h-1zM244.6 200h1v1h-1zM256.8 194h1v1h-1zM274.2 204h1v1h-1zM280.4 189.8h1v1h-1zM267.1 207.5h1v1h-1zM255.6 208.1h1v1h-1zM279.6 202.5h1v1h-1zM259.9 206.4h1v1h-1zM246.4 182.5h1v1h-1zM266.9 213.6h1v1h-1zM263.4 189h1v1h-1zM253 222.8h1v1h-1zM263.3 203.4h1v1h-1zM257.4 197.4h1v1h-1zM253.9 201.9h1v1h-1zM278.3 185.5h1v1h-1zM243.8 216.3h1v1h-1zM263.1 207.2h1v1h-1zM258.1 191.4h1v1h-1zM256.1 187.4h1v1h-1zM284.7 203.1h1v1h-1zM237.5 219.9h1v1h-1zM251.6 195h1v1h-1zM255 216.6h1v1h-1zM249.2 221.6h1v1h-1zM256.1 210.7h1v1h-1zM268.4 204.3h1v1h-1zM255.6 200.7h1v1h-1zM245.9 218.7h1v1h-1zM262 194.6h1v1h-1zM273.5 216.5h1v1h-1zM261.1 199h1v1h-1zM271.6 203.1h1v1h-1zM255.2 198.6h1v1h-1zM261.5 188.2h1v1h-1zM256.3 200.4h1v1h-1zM264.7 222.5h1v1h-1zM250.6 209.1h1v1h-1zM248.1 190.2h1v1h-1zM274.8 206.1h1v1h-1zM260.8 215.2h1v1h-1zM266.9 191.6h1v1h-1zM259.9 204.8h1v1h-1zM261.7 202.7h1v1h-1zM274.1 188.1h1v1h-1zM248.1 211.1h1v1h-1zM254 190.8h1v1h-1zM274.2 199.5h1v1h-1zM273 206.7h1v1h-1zM262.8 193.4h1v1h-1zM281.6 198.6h1v1h-1zM259.9 211.5h1v1h-1zM265.9 206.1h1v1h-1zM248.1 210.1h1v1h-1zM265.5 192.8h1v1h-1zM272.7 204.7h1v1h-1zM268.3 204.3h1v1h-1zM258.1 182.6h1v1h-1zM252.5 208.3h1v1h-1zM260.9 195.3h1v1h-1zM259.3 200.1h1v1h-1zM267.2 200.5h1v1h-1zM270.9 213.2h1v1h-1zM286.3 193.3h1v1h-1zM271.5 190.3h1v1h-1zM285.5 183.8h1v1h-1zM275.5 197.1h1v1h-1zM269.4 202.4h1v1h-1zM283.2 218.6h1v1h-1zM274.4 185.9h1v1h-1zM250.5 202.9h1v1h-1zM248.9 219.4h1v1h-1zM244 208.7h1v1h-1zM272.5 198.5h1v1h-1zM251.6 191.6h1v1h-1zM252.1 191.1h1v1h-1zM266.9 206.7h1v1h-1zM267.8 188.9h1v1h-1zM261.2 210.6h1v1h-1zM250.8 203.6h1v1h-1zM258 207.7h1v1h-1zM276.8 206.4h1v1h-1zM256.9 197h1v1h-1zM266.3 192h1v1h-1zM279.6 204.4h1v1h-1zM259.4 203.9h1v1h-1zM252.1 206.3h1v1h-1zM251.6 217.1h1v1h-1zM251.9 197.8h1v1h-1zM249.9 208.6h1v1h-1zM259.3 190.9h1v1h-1zM241 200.2h1v1h-1zM267.1 206.2h1v1h-1zM262.5 214.4h1v1h-1zM272.4 198.5h1v1h-1zM242.8 197.8h1v1h-1zM262.8 200.6h1v1h-1zM272.1 200.1h1v1h-1zM242.9 212.4h1v1h-1zM271.2 209.1h1v1h-1zM251.9 199.4h1v1h-1zM252.3 210.8h1v1h-1zM242.4 209.4h1v1h-1zM262.3 201.2h1v1h-1zM253.3 203.5h1v1h-1zM259.5 208.6h1v1h-1zM265.5 188h1v1h-1zM240 219.8h1v1h-1zM273.9 199.3h1v1h-1zM265.5 211.3h1v1h-1zM257.8 206.5h1v1h-1zM265.3 212.1h1v1h-1zM277.9 206.6h1v1h-1zM260.3 223.2h1v1h-1zM237.8 234.4h1v1h-1zM264 198.2h1v1h-1zM260.2 202h1v1h-1zM257.7 199.8h1v1h-1zM258.5 203h1v1h-1zM237 219.5h1v1h-1zM266.5 202.6h1v1h-1zM251.2 204.1h1v1h-1zM267.2 204.4h1v1h-1zM261 215.1h1v1h-1zM254.6 215.5h1v1h-1zM242.5 219.6h1v1h-1zM276.8 190.8h1v1h-1zM259.3 200.6h1v1h-1zM272.9 213.2h1v1h-1zM280.3 192.7h1v1h-1zM264.4 193.3h1v1h-1zM268.4 208h1v1h-1zM240.9 230.5h1v1h-1zM268.9 183.3h1v1h-1zM279.2 209.6h1v1h-1zM244 202.2h1v1h-1zM246.9 219.2h1v1h-1zM266.5 200.6h1v1h-1zM256.9 198.9h1v1h-1zM274.8 185.6h1v1h-1zM241.3 203.2h1v1h-1zM255.4 193.2h1v1h-1zM267.6 195.4h1v1h-1zM271.2 207.4h1v1h-1zM245.5 208.6h1v1h-1zM252.6 227h1v1h-1zM254.9 203.6h1v1h-1zM284.1 183.1h1v1h-1zM251.8 207.7h1v1h-1zM263 218.4h1v1h-1zM268.8 191.1h1v1h-1zM266.9 199.4h1v1h-1zM282.3 201.4h1v1h-1zM251.2 203.1h1v1h-1zM255.7 210.9h1v1h-1zM270.6 195.8h1v1h-1zM257.9 202.4h1v1h-1zM260.7 201.5h1v1h-1zM248.1 207.2h1v1h-1zM255.4 213.4h1v1h-1zM245.3 195.4h1v1h-1zM248.5 196.6h1v1h-1zM250.9 203.4h1v1h-1zM251 192.6h1v1h-1zM253.2 197.3h1v1h-1zM269.1 185.9h1v1h-1zM282 189.8h1v1h-1zM250.2 191.3h1v1h-1zM278.8 189.8h1v1h-1zM264.4 194h1v1h-1zM238.8 224.9h1v1h-1zM257.8 188h1v1h-1zM237 198.7h1v1h-1zM267.7 182.7h1v1h-1zM250.2 196.8h1v1h-1zM276.2 184.7h1v1h-1zM280.8 197.4h1v1h-1zM251.9 198.9h1v1h-1zM248.6 206.7h1v1h-1zM273.5 193.8h1v1h-1zM253 211.9h1v1h-1zM254.2 191.5h1v1h-1zM269.5 189h1v1h-1zM259.6 202.4h1v1h-1zM275.5 207.6h1v1h-1zM281.5 183.9h1v1h-1zM262.2 193.7h1v1h-1zM272.7 202.8h1v1h-1zM254.6 206.2h1v1h-1zM238.6 219.3h1v1h-1zM270.9 214.8h1v1h-1zM258.4 195.9h1v1h-1zM271 204h1v1h-1zM269.9 216.2h1v1h-1zM252.1 202.3h1v1h-1zM263.8 223.4h1v1h-1zM265.4 207h1v1h-1zM252.1 210.3h1v1h-1zM251.1 222.2h1v1h-1zM265.4 202h1v1h-1zM250.5 182.8h1v1h-1zM269.3 200.3h1v1h-1zM254.3 204.3h1v1h-1zM253.6 191.6h1v1h-1zM253.4 213.6h1v1h-1zM254.4 200.4h1v1h-1zM267.8 189.7h1v1h-1zM263 212.9h1v1h-1zM273.4 211.1h1v1h-1zM260.3 220.7h1v1h-1zM238.6 201.7h1v1h-1zM262.7 220.3h1v1h-1zM254.3 195.7h1v1h-1zM253.5 196.1h1v1h-1zM253.4 210.1h1v1h-1zM262.2 198.3h1v1h-1zM282.4 208.1h1v1h-1zM253.6 202.9h1v1h-1zM269.2 204.6h1v1h-1zM268.4 198.3h1v1h-1zM270.3 189.9h1v1h-1zM268.3 195.8h1v1h-1zM271.6 192.4h1v1h-1zM263.2 203h1v1h-1zM245.8 209.4h1v1h-1zM252.4 215.8h1v1h-1zM255.2 202.9h1v1h-1zM251.3 210.7h1v1h-1zM259.5 219.9h1v1h-1zM261.4 207.3h1v1h-1zM273.1 224h1v1h-1zM257.3 205.9h1v1h-1zM267.2 202.5h1v1h-1zM287.3 194.4h1v1h-1zM255 217.7h1v1h-1zM258.5 211.9h1v1h-1zM247.8 209.6h1v1h-1zM274.3 193.5h1v1h-1zM270.5 193.5h1v1h-1zM246 210.9h1v1h-1zM261 187.4h1v1h-1zM240.1 201.8h1v1h-1zM261.5 190.8h1v1h-1zM268.1 213.1h1v1h-1zM263.6 203.8h1v1h-1z" fill="#000"/>
<path d="M199.6 172.2 L287.2 172.2 L287.2 228.2 L199.6 228.2 Z" fill="none" stroke="#000" stroke-width="1.4" stroke-linejoin="round" />
<rect x="32.8" y="17.8" width="120.3" height="116.4" fill="none" stroke="#000" stroke-width="1.4" />
<path d="M32.8 134.2v3.4M32.8 134.2h-3.4M41.9 134.2v2M32.8 125.4h-2M47.1 134.2v2M32.8 120.3h-2M50.9 134.2v2M32.8 116.7h-2M53.8 134.2v2M32.8 113.9h-2M56.2 134.2v2M32.8 111.6h-2M58.2 134.2v2M32.8 109.6h-2M60 134.2v2M32.8 107.9h-2M61.5 134.2v2M32.8 106.4h-2M62.9 134.2v3.4M32.8 105.1h-3.4M71.9 134.2v2M32.8 96.3h-2M77.2 134.2v2M32.8 91.2h-2M81 134.2v2M32.8 87.6h-2M83.9 134.2v2M32.8 84.8h-2M86.3 134.2v2M32.8 82.5h-2M88.3 134.2v2M32.8 80.5h-2M90 134.2v2M32.8 78.8h-2M91.6 134.2v2M32.8 77.3h-2M92.9 134.2v3.4M32.8 76h-3.4M102 134.2v2M32.8 67.2h-2M107.3 134.2v2M32.8 62.1h-2M111.1 134.2v2M32.8 58.5h-2M114 134.2v2M32.8 55.7h-2M116.4 134.2v2M32.8 53.4h-2M118.4 134.2v2M32.8 51.4h-2M120.1 134.2v2M32.8 49.7h-2M121.6 134.2v2M32.8 48.2h-2M123 134.2v3.4M32.8 46.9h-3.4M132.1 134.2v2M32.8 38.1h-2M137.4 134.2v2M32.8 33h-2M141.1 134.2v2M32.8 29.4h-2M144 134.2v2M32.8 26.6h-2M146.4 134.2v2M32.8 24.3h-2M148.4 134.2v2M32.8 22.3h-2M150.2 134.2v2M32.8 20.6h-2M151.7 134.2v2M32.8 19.1h-2M153.1 134.2v3.4M32.8 17.8h-3.4" stroke="#000" stroke-width="0.9" fill="none"/>
<text transform="translate(34.6,143.1) scale(0.78,1)" font-size="6.8" font-weight="bold" text-anchor="end">10</text>
<text transform="translate(34.9,140.6) scale(0.8,1)" font-size="5" font-weight="bold">0</text>
<text transform="translate(27.8,132.2) rotate(-90) scale(0.85,1)" font-size="4.8" text-anchor="middle">10<tspan font-size="3.8" dy="-1.9">0</tspan></text>
<text transform="translate(64.7,143.1) scale(0.78,1)" font-size="6.8" font-weight="bold" text-anchor="end">10</text>
<text transform="translate(65,140.6) scale(0.8,1)" font-size="5" font-weight="bold">1</text>
<text transform="translate(27.8,105.1) rotate(-90) scale(0.85,1)" font-size="4.8" text-anchor="middle">10<tspan font-size="3.8" dy="-1.9">1</tspan></text>
<text transform="translate(94.7,143.1) scale(0.78,1)" font-size="6.8" font-weight="bold" text-anchor="end">10</text>
<text transform="translate(95,140.6) scale(0.8,1)" font-size="5" font-weight="bold">2</text>
<text transform="translate(27.8,76) rotate(-90) scale(0.85,1)" font-size="4.8" text-anchor="middle">10<tspan font-size="3.8" dy="-1.9">2</tspan></text>
<text transform="translate(124.8,143.1) scale(0.78,1)" font-size="6.8" font-weight="bold" text-anchor="end">10</text>
<text transform="translate(125.1,140.6) scale(0.8,1)" font-size="5" font-weight="bold">3</text>
<text transform="translate(27.8,46.9) rotate(-90) scale(0.85,1)" font-size="4.8" text-anchor="middle">10<tspan font-size="3.8" dy="-1.9">3</tspan></text>
<text transform="translate(154.9,143.1) scale(0.78,1)" font-size="6.8" font-weight="bold" text-anchor="end">10</text>
<text transform="translate(155.2,140.6) scale(0.8,1)" font-size="5" font-weight="bold">4</text>
<text transform="translate(27.8,17.8) rotate(-90) scale(0.85,1)" font-size="4.8" text-anchor="middle">10<tspan font-size="3.8" dy="-1.9">4</tspan></text>
<rect x="200.2" y="19.6" width="129.2" height="114.3" fill="none" stroke="#000" stroke-width="1.4" />
<path d="M200.2 133.9v3.4M200.2 133.9h-3.4M209.9 133.9v2M200.2 125.3h-2M215.6 133.9v2M200.2 120.3h-2M219.6 133.9v2M200.2 116.7h-2M222.8 133.9v2M200.2 113.9h-2M225.3 133.9v2M200.2 111.7h-2M227.5 133.9v2M200.2 109.8h-2M229.4 133.9v2M200.2 108.1h-2M231 133.9v2M200.2 106.6h-2M232.5 133.9v3.4M200.2 105.3h-3.4M242.2 133.9v2M200.2 96.7h-2M247.9 133.9v2M200.2 91.7h-2M251.9 133.9v2M200.2 88.1h-2M255.1 133.9v2M200.2 85.4h-2M257.6 133.9v2M200.2 83.1h-2M259.8 133.9v2M200.2 81.2h-2M261.7 133.9v2M200.2 79.5h-2M263.3 133.9v2M200.2 78.1h-2M264.8 133.9v3.4M200.2 76.8h-3.4M274.5 133.9v2M200.2 68.1h-2M280.2 133.9v2M200.2 63.1h-2M284.2 133.9v2M200.2 59.5h-2M287.4 133.9v2M200.2 56.8h-2M289.9 133.9v2M200.2 54.5h-2M292.1 133.9v2M200.2 52.6h-2M294 133.9v2M200.2 50.9h-2M295.6 133.9v2M200.2 49.5h-2M297.1 133.9v3.4M200.2 48.2h-3.4M306.8 133.9v2M200.2 39.6h-2M312.5 133.9v2M200.2 34.5h-2M316.5 133.9v2M200.2 31h-2M319.7 133.9v2M200.2 28.2h-2M322.2 133.9v2M200.2 25.9h-2M324.4 133.9v2M200.2 24h-2M326.3 133.9v2M200.2 22.4h-2M327.9 133.9v2M200.2 20.9h-2M329.4 133.9v3.4M200.2 19.6h-3.4" stroke="#000" stroke-width="0.9" fill="none"/>
<text transform="translate(203.2,145.7) scale(0.72,1)" font-size="9.6" font-weight="normal" text-anchor="end">10</text>
<text transform="translate(203.6,142.3) scale(0.8,1)" font-size="7" font-weight="normal">0</text>
<text transform="translate(194,131.4) rotate(-90) scale(0.85,1)" font-size="7.6" font-weight="normal" text-anchor="end">10</text>
<text transform="translate(190.4,131) rotate(-90) scale(0.85,1)" font-size="6.2" font-weight="normal">0</text>
<text transform="translate(235.5,145.7) scale(0.72,1)" font-size="9.6" font-weight="normal" text-anchor="end">10</text>
<text transform="translate(235.9,142.3) scale(0.8,1)" font-size="7" font-weight="normal">1</text>
<text transform="translate(194,105.8) rotate(-90) scale(0.85,1)" font-size="7.6" font-weight="normal" text-anchor="end">10</text>
<text transform="translate(190.4,105.4) rotate(-90) scale(0.85,1)" font-size="6.2" font-weight="normal">1</text>
<text transform="translate(267.8,145.7) scale(0.72,1)" font-size="9.6" font-weight="normal" text-anchor="end">10</text>
<text transform="translate(268.2,142.3) scale(0.8,1)" font-size="7" font-weight="normal">2</text>
<text transform="translate(194,77.2) rotate(-90) scale(0.85,1)" font-size="7.6" font-weight="normal" text-anchor="end">10</text>
<text transform="translate(190.4,76.8) rotate(-90) scale(0.85,1)" font-size="6.2" font-weight="normal">2</text>
<text transform="translate(300.1,145.7) scale(0.72,1)" font-size="9.6" font-weight="normal" text-anchor="end">10</text>
<text transform="translate(300.5,142.3) scale(0.8,1)" font-size="7" font-weight="normal">3</text>
<text transform="translate(194,48.7) rotate(-90) scale(0.85,1)" font-size="7.6" font-weight="normal" text-anchor="end">10</text>
<text transform="translate(190.4,48.3) rotate(-90) scale(0.85,1)" font-size="6.2" font-weight="normal">3</text>
<text transform="translate(332.4,145.7) scale(0.72,1)" font-size="9.6" font-weight="normal" text-anchor="end">10</text>
<text transform="translate(332.8,142.3) scale(0.8,1)" font-size="7" font-weight="normal">4</text>
<text transform="translate(194,20.1) rotate(-90) scale(0.85,1)" font-size="7.6" font-weight="normal" text-anchor="end">10</text>
<text transform="translate(190.4,19.7) rotate(-90) scale(0.85,1)" font-size="6.2" font-weight="normal">4</text>
<rect x="36.5" y="171.4" width="121.9" height="117.5" fill="none" stroke="#000" stroke-width="1.4" />
<path d="M36.5 288.9v3.9M36.5 288.9h-3.9M45.7 288.9v2.3M36.5 280.1h-2.3M51 288.9v2.3M36.5 274.9h-2.3M54.8 288.9v2.3M36.5 271.2h-2.3M57.8 288.9v2.3M36.5 268.4h-2.3M60.2 288.9v2.3M36.5 266h-2.3M62.3 288.9v2.3M36.5 264.1h-2.3M64 288.9v2.3M36.5 262.4h-2.3M65.6 288.9v2.3M36.5 260.9h-2.3M67 288.9v3.9M36.5 259.5h-3.9M76.1 288.9v2.3M36.5 250.7h-2.3M81.5 288.9v2.3M36.5 245.5h-2.3M85.3 288.9v2.3M36.5 241.8h-2.3M88.3 288.9v2.3M36.5 239h-2.3M90.7 288.9v2.3M36.5 236.7h-2.3M92.7 288.9v2.3M36.5 234.7h-2.3M94.5 288.9v2.3M36.5 233h-2.3M96.1 288.9v2.3M36.5 231.5h-2.3M97.5 288.9v3.9M36.5 230.1h-3.9M106.6 288.9v2.3M36.5 221.3h-2.3M112 288.9v2.3M36.5 216.1h-2.3M115.8 288.9v2.3M36.5 212.5h-2.3M118.8 288.9v2.3M36.5 209.6h-2.3M121.2 288.9v2.3M36.5 207.3h-2.3M123.2 288.9v2.3M36.5 205.3h-2.3M125 288.9v2.3M36.5 203.6h-2.3M126.5 288.9v2.3M36.5 202.1h-2.3M127.9 288.9v3.9M36.5 200.8h-3.9M137.1 288.9v2.3M36.5 191.9h-2.3M142.5 288.9v2.3M36.5 186.8h-2.3M146.3 288.9v2.3M36.5 183.1h-2.3M149.2 288.9v2.3M36.5 180.2h-2.3M151.6 288.9v2.3M36.5 177.9h-2.3M153.7 288.9v2.3M36.5 176h-2.3M155.4 288.9v2.3M36.5 174.2h-2.3M157 288.9v2.3M36.5 172.7h-2.3M158.4 288.9v3.9M36.5 171.4h-3.9" stroke="#000" stroke-width="0.9" fill="none"/>
<text transform="translate(37.9,304.8) scale(0.64,1)" font-size="9.5" font-weight="bold" text-anchor="end">10</text>
<text transform="translate(38.9,301.2) scale(0.9,1)" font-size="7.6" font-weight="bold">0</text>
<text transform="translate(29.4,288.7) rotate(-90) scale(0.66,1)" font-size="9.8" font-weight="bold" text-anchor="end">10</text>
<text transform="translate(26,286.9) rotate(-90) scale(0.9,1)" font-size="7.4" font-weight="bold">0</text>
<text transform="translate(68.4,304.8) scale(0.64,1)" font-size="9.5" font-weight="bold" text-anchor="end">10</text>
<text transform="translate(69.4,301.2) scale(0.9,1)" font-size="7.6" font-weight="bold">1</text>
<text transform="translate(29.4,260.3) rotate(-90) scale(0.66,1)" font-size="9.8" font-weight="bold" text-anchor="end">10</text>
<text transform="translate(26,258.5) rotate(-90) scale(0.9,1)" font-size="7.4" font-weight="bold">1</text>
<text transform="translate(98.9,304.8) scale(0.64,1)" font-size="9.5" font-weight="bold" text-anchor="end">10</text>
<text transform="translate(99.9,301.2) scale(0.9,1)" font-size="7.6" font-weight="bold">2</text>
<text transform="translate(29.4,230.9) rotate(-90) scale(0.66,1)" font-size="9.8" font-weight="bold" text-anchor="end">10</text>
<text transform="translate(26,229.1) rotate(-90) scale(0.9,1)" font-size="7.4" font-weight="bold">2</text>
<text transform="translate(129.3,304.8) scale(0.64,1)" font-size="9.5" font-weight="bold" text-anchor="end">10</text>
<text transform="translate(130.3,301.2) scale(0.9,1)" font-size="7.6" font-weight="bold">3</text>
<text transform="translate(29.4,201.6) rotate(-90) scale(0.66,1)" font-size="9.8" font-weight="bold" text-anchor="end">10</text>
<text transform="translate(26,199.8) rotate(-90) scale(0.9,1)" font-size="7.4" font-weight="bold">3</text>
<text transform="translate(159.8,304.8) scale(0.64,1)" font-size="9.5" font-weight="bold" text-anchor="end">10</text>
<text transform="translate(160.8,301.2) scale(0.9,1)" font-size="7.6" font-weight="bold">4</text>
<text transform="translate(29.4,172.2) rotate(-90) scale(0.66,1)" font-size="9.8" font-weight="bold" text-anchor="end">10</text>
<text transform="translate(26,170.4) rotate(-90) scale(0.9,1)" font-size="7.4" font-weight="bold">4</text>
<rect x="199.6" y="172.2" width="126.8" height="119.5" fill="none" stroke="#000" stroke-width="1.4" />
<path d="M199.6 291.7v3.9M199.6 291.7h-3.9M209.1 291.7v2.3M199.6 282.7h-2.3M214.7 291.7v2.3M199.6 277.4h-2.3M218.7 291.7v2.3M199.6 273.7h-2.3M221.8 291.7v2.3M199.6 270.8h-2.3M224.3 291.7v2.3M199.6 268.5h-2.3M226.4 291.7v2.3M199.6 266.5h-2.3M228.2 291.7v2.3M199.6 264.7h-2.3M229.8 291.7v2.3M199.6 263.2h-2.3M231.3 291.7v3.9M199.6 261.8h-3.9M240.8 291.7v2.3M199.6 252.8h-2.3M246.4 291.7v2.3M199.6 247.6h-2.3M250.4 291.7v2.3M199.6 243.8h-2.3M253.5 291.7v2.3M199.6 240.9h-2.3M256 291.7v2.3M199.6 238.6h-2.3M258.1 291.7v2.3M199.6 236.6h-2.3M259.9 291.7v2.3M199.6 234.8h-2.3M261.5 291.7v2.3M199.6 233.3h-2.3M263 291.7v3.9M199.6 231.9h-3.9M272.5 291.7v2.3M199.6 223h-2.3M278.1 291.7v2.3M199.6 217.7h-2.3M282.1 291.7v2.3M199.6 214h-2.3M285.2 291.7v2.3M199.6 211.1h-2.3M287.7 291.7v2.3M199.6 208.7h-2.3M289.8 291.7v2.3M199.6 206.7h-2.3M291.6 291.7v2.3M199.6 205h-2.3M293.2 291.7v2.3M199.6 203.4h-2.3M294.7 291.7v3.9M199.6 202.1h-3.9M304.2 291.7v2.3M199.6 193.1h-2.3M309.8 291.7v2.3M199.6 187.8h-2.3M313.8 291.7v2.3M199.6 184.1h-2.3M316.9 291.7v2.3M199.6 181.2h-2.3M319.4 291.7v2.3M199.6 178.8h-2.3M321.5 291.7v2.3M199.6 176.8h-2.3M323.3 291.7v2.3M199.6 175.1h-2.3M324.9 291.7v2.3M199.6 173.6h-2.3M326.4 291.7v3.9M199.6 172.2h-3.9" stroke="#000" stroke-width="0.9" fill="none"/>
<text transform="translate(200.4,305.2) scale(0.64,1)" font-size="9.5" font-weight="bold" text-anchor="end">10</text>
<text transform="translate(201.4,301.9) scale(0.9,1)" font-size="7.6" font-weight="bold">0</text>
<text transform="translate(192.5,290.7) rotate(-90) scale(0.66,1)" font-size="9.8" font-weight="bold" text-anchor="end">10</text>
<text transform="translate(188.5,288.7) rotate(-90) scale(0.9,1)" font-size="7.4" font-weight="bold">0</text>
<text transform="translate(232.1,305.2) scale(0.64,1)" font-size="9.5" font-weight="bold" text-anchor="end">10</text>
<text transform="translate(233.1,301.9) scale(0.9,1)" font-size="7.6" font-weight="bold">1</text>
<text transform="translate(192.5,262.3) rotate(-90) scale(0.66,1)" font-size="9.8" font-weight="bold" text-anchor="end">10</text>
<text transform="translate(188.5,260.3) rotate(-90) scale(0.9,1)" font-size="7.4" font-weight="bold">1</text>
<text transform="translate(263.8,305.2) scale(0.64,1)" font-size="9.5" font-weight="bold" text-anchor="end">10</text>
<text transform="translate(264.8,301.9) scale(0.9,1)" font-size="7.6" font-weight="bold">2</text>
<text transform="translate(192.5,232.4) rotate(-90) scale(0.66,1)" font-size="9.8" font-weight="bold" text-anchor="end">10</text>
<text transform="translate(188.5,230.4) rotate(-90) scale(0.9,1)" font-size="7.4" font-weight="bold">2</text>
<text transform="translate(295.5,305.2) scale(0.64,1)" font-size="9.5" font-weight="bold" text-anchor="end">10</text>
<text transform="translate(296.5,301.9) scale(0.9,1)" font-size="7.6" font-weight="bold">3</text>
<text transform="translate(192.5,202.6) rotate(-90) scale(0.66,1)" font-size="9.8" font-weight="bold" text-anchor="end">10</text>
<text transform="translate(188.5,200.6) rotate(-90) scale(0.9,1)" font-size="7.4" font-weight="bold">3</text>
<text transform="translate(327.2,305.2) scale(0.64,1)" font-size="9.5" font-weight="bold" text-anchor="end">10</text>
<text transform="translate(328.2,301.9) scale(0.9,1)" font-size="7.6" font-weight="bold">4</text>
<text transform="translate(192.5,172.7) rotate(-90) scale(0.66,1)" font-size="9.8" font-weight="bold" text-anchor="end">10</text>
<text transform="translate(188.5,170.7) rotate(-90) scale(0.9,1)" font-size="7.4" font-weight="bold">4</text>
<line x1="58.8" y1="348.5" x2="58.8" y2="480.8" stroke="#7a7a7a" stroke-width="1" />
<line x1="55.2" y1="477.4" x2="58.8" y2="477.4" stroke="#7a7a7a" stroke-width="1" />
<text x="51" y="481.4" font-size="11.4" font-weight="bold" font-style="normal" text-anchor="end" fill="#000" >0</text>
<line x1="55.2" y1="455.9" x2="58.8" y2="455.9" stroke="#7a7a7a" stroke-width="1" />
<text x="51" y="459.9" font-size="11.4" font-weight="bold" font-style="normal" text-anchor="end" fill="#000" >1</text>
<line x1="55.2" y1="434.5" x2="58.8" y2="434.5" stroke="#7a7a7a" stroke-width="1" />
<text x="51" y="438.5" font-size="11.4" font-weight="bold" font-style="normal" text-anchor="end" fill="#000" >2</text>
<line x1="55.2" y1="413" x2="58.8" y2="413" stroke="#7a7a7a" stroke-width="1" />
<text x="51" y="417" font-size="11.4" font-weight="bold" font-style="normal" text-anchor="end" fill="#000" >3</text>
<line x1="55.2" y1="391.6" x2="58.8" y2="391.6" stroke="#7a7a7a" stroke-width="1" />
<text x="51" y="395.6" font-size="11.4" font-weight="bold" font-style="normal" text-anchor="end" fill="#000" >4</text>
<line x1="55.2" y1="370.1" x2="58.8" y2="370.1" stroke="#7a7a7a" stroke-width="1" />
<text x="51" y="374.1" font-size="11.4" font-weight="bold" font-style="normal" text-anchor="end" fill="#000" >5</text>
<line x1="55.2" y1="348.7" x2="58.8" y2="348.7" stroke="#7a7a7a" stroke-width="1" />
<text x="51" y="352.7" font-size="11.4" font-weight="bold" font-style="normal" text-anchor="end" fill="#000" >6</text>
<line x1="55.5" y1="477.4" x2="283.5" y2="477.4" stroke="#7a7a7a" stroke-width="1" />
<line x1="133.6" y1="477.4" x2="133.6" y2="480.9" stroke="#7a7a7a" stroke-width="1" />
<line x1="208.3" y1="477.4" x2="208.3" y2="480.9" stroke="#7a7a7a" stroke-width="1" />
<line x1="283" y1="477.4" x2="283" y2="480.9" stroke="#7a7a7a" stroke-width="1" />
<rect x="81.3" y="456.5" width="30.1" height="20.9" fill="#fff" stroke="#222" stroke-width="1.2" />
<rect x="155.8" y="412.8" width="30.5" height="64.6" fill="#808080" stroke="#222" stroke-width="1.2" />
<rect x="230.9" y="385.8" width="30" height="91.6" fill="#000" stroke="#000" stroke-width="1.2" />
<line x1="95.9" y1="451.2" x2="95.9" y2="461" stroke="#111" stroke-width="1.1" />
<line x1="94" y1="451.2" x2="97.8" y2="451.2" stroke="#111" stroke-width="1.1" />
<line x1="94" y1="461" x2="97.8" y2="461" stroke="#111" stroke-width="1.1" />
<line x1="171" y1="400.1" x2="171" y2="424.3" stroke="#111" stroke-width="1.1" />
<line x1="169.1" y1="400.1" x2="172.9" y2="400.1" stroke="#111" stroke-width="1.1" />
<line x1="169.1" y1="424.3" x2="172.9" y2="424.3" stroke="#111" stroke-width="1.1" />
<line x1="246.2" y1="363.2" x2="246.2" y2="400" stroke="#111" stroke-width="1.1" />
<line x1="244.3" y1="363.2" x2="248.1" y2="363.2" stroke="#111" stroke-width="1.1" />
<line x1="244.3" y1="400" x2="248.1" y2="400" stroke="#111" stroke-width="1.1" />
<line x1="95.5" y1="363.2" x2="95.5" y2="440.5" stroke="#000" stroke-width="1" />
<line x1="95.5" y1="363.2" x2="230.4" y2="363.2" stroke="#000" stroke-width="1" />
<line x1="95.5" y1="385.3" x2="173.7" y2="385.3" stroke="#000" stroke-width="1" />
<text x="121.4" y="378.3" font-size="12" font-weight="bold" font-style="italic" text-anchor="start" fill="#000" >p=0.03</text>
<text x="191.3" y="361.3" font-size="12" font-weight="bold" font-style="italic" text-anchor="start" fill="#000" >p=0.02</text>
<text x="96.5" y="496.3" font-size="11.2" font-weight="bold" font-style="normal" text-anchor="middle" fill="#000" >EV</text>
<text x="171" y="496.3" font-size="11.6" font-weight="bold" font-style="normal" text-anchor="middle" fill="#000" >Livin RING</text>
<text x="244.5" y="496.3" font-size="11.6" font-weight="bold" font-style="normal" text-anchor="middle" fill="#000" >Livin</text>
<text x="0" y="0" font-size="11.6" font-weight="normal" font-style="normal" text-anchor="middle" fill="#000" transform="translate(25,408.8) rotate(-90) scale(1.085,1)" >Fold Increase In</text>
<text x="0" y="0" font-size="11.6" font-weight="normal" font-style="normal" text-anchor="middle" fill="#000" transform="translate(37.7,409.7) rotate(-90) scale(1.065,1)" >%CD41+ Platelets</text>
<line x1="378.8" y1="42" x2="378.8" y2="441.9" stroke="#000" stroke-width="2.2" />
<path d="M374.5 48.7 L378.8 40.8 L383.1 48.7" fill="none" stroke="#000" stroke-width="2.2" stroke-linejoin="round" />
<line x1="377.7" y1="440.6" x2="612.5" y2="440.6" stroke="#000" stroke-width="2.2" />
<path d="M606.6 437 L614 440.6 L606.6 444.2" fill="none" stroke="#000" stroke-width="2.2" stroke-linejoin="round" />
<text x="0" y="0" font-size="11.6" font-weight="bold" font-style="normal" text-anchor="middle" fill="#000" transform="translate(368,241) rotate(-90)" >Counts</text>
<text x="491.1" y="460.9" font-size="11.75" font-weight="bold" font-style="normal" text-anchor="start" fill="#000" >CD62p</text>
<rect x="405" y="51.2" width="206.6" height="107.3" fill="none" stroke="#000" stroke-width="1.3" />
<path d="M405 158.5v3M420.5 158.5v1.8M429.6 158.5v1.8M436.1 158.5v1.8M441.1 158.5v1.8M445.2 158.5v1.8M448.6 158.5v1.8M451.6 158.5v1.8M454.3 158.5v1.8M456.6 158.5v3M472.2 158.5v1.8M481.3 158.5v1.8M487.7 158.5v1.8M492.8 158.5v1.8M496.8 158.5v1.8M500.3 158.5v1.8M503.3 158.5v1.8M505.9 158.5v1.8M508.3 158.5v3M523.8 158.5v1.8M532.9 158.5v1.8M539.4 158.5v1.8M544.4 158.5v1.8M548.5 158.5v1.8M551.9 158.5v1.8M554.9 158.5v1.8M557.6 158.5v1.8M560 158.5v3M575.5 158.5v1.8M584.6 158.5v1.8M591 158.5v1.8M596.1 158.5v1.8M600.1 158.5v1.8M603.6 158.5v1.8M606.6 158.5v1.8M609.2 158.5v1.8M611.6 158.5v3M405 158.5h-3.5M405 153.1h-2M405 147.8h-2M405 142.4h-2M405 137h-3.5M405 131.7h-2M405 126.3h-2M405 120.9h-2M405 115.6h-3.5M405 110.2h-2M405 104.8h-2M405 99.5h-2M405 94.1h-3.5M405 88.8h-2M405 83.4h-2M405 78h-2M405 72.7h-3.5M405 67.3h-2M405 61.9h-2M405 56.6h-2M405 51.2h-3.5" stroke="#000" stroke-width="0.9" fill="none"/>
<text x="0" y="0" font-size="7.3" font-weight="bold" font-style="normal" text-anchor="middle" fill="#000" transform="translate(398.7,158.5) rotate(-90) scale(0.86,1)" >0</text>
<text x="0" y="0" font-size="7.3" font-weight="bold" font-style="normal" text-anchor="middle" fill="#000" transform="translate(398.7,137) rotate(-90) scale(0.86,1)" >80</text>
<text x="0" y="0" font-size="7.3" font-weight="bold" font-style="normal" text-anchor="middle" fill="#000" transform="translate(398.7,115.6) rotate(-90) scale(0.86,1)" >160</text>
<text x="0" y="0" font-size="7.3" font-weight="bold" font-style="normal" text-anchor="middle" fill="#000" transform="translate(398.7,94.1) rotate(-90) scale(0.86,1)" >240</text>
<text x="0" y="0" font-size="7.3" font-weight="bold" font-style="normal" text-anchor="middle" fill="#000" transform="translate(398.7,72.7) rotate(-90) scale(0.86,1)" >320</text>
<text x="0" y="0" font-size="7.3" font-weight="bold" font-style="normal" text-anchor="middle" fill="#000" transform="translate(398.7,51.2) rotate(-90) scale(0.86,1)" >400</text>
<text transform="translate(405.4,170.1) scale(0.95,1)" font-size="7" text-anchor="middle">10<tspan font-size="6" dy="-2.6">0</tspan></text>
<text transform="translate(457,170.1) scale(0.95,1)" font-size="7" text-anchor="middle">10<tspan font-size="6" dy="-2.6">1</tspan></text>
<text transform="translate(508.7,170.1) scale(0.95,1)" font-size="7" text-anchor="middle">10<tspan font-size="6" dy="-2.6">2</tspan></text>
<text transform="translate(560.4,170.1) scale(0.95,1)" font-size="7" text-anchor="middle">10<tspan font-size="6" dy="-2.6">3</tspan></text>
<text transform="translate(612,170.1) scale(0.95,1)" font-size="7" text-anchor="middle">10<tspan font-size="6" dy="-2.6">4</tspan></text>
<text x="0" y="0" font-size="7.0" font-weight="normal" font-style="normal" text-anchor="middle" fill="#000" transform="translate(391.8,105.8) rotate(-90)" >Counts</text>
<path d="M405.6 83.9 L406.2 85.3 L406.8 86.2 L407.4 91 L408 90.3 L408.6 92.7 L409.2 96.3 L409.8 97.5 L410.4 97.2 L411 95 L411.6 95 L412.2 95.7 L412.8 98.4 L413.4 100.4 L414 98.2 L414.6 98 L415.2 102.9 L415.8 95.1 L416.4 100.9 L417 102.8 L417.6 97.7 L418.2 97.1 L418.8 98.2 L419.4 103 L420 100.1 L420.6 93.9 L421.2 98.8 L421.8 103.7 L422.4 103.5 L423 102.1 L423.6 98.9 L424.2 93.3 L424.8 100.4 L425.4 99.3 L426 100.3 L426.6 105.5 L427.2 100.9 L427.8 101.3 L428.4 102.6 L429 99.6 L429.6 98.3 L430.2 98.1 L430.8 103.5 L431.4 102.4 L432 98.7 L432.6 104.3 L433.2 100.6 L433.8 95.1 L434.4 101.7 L435 98.8 L435.6 94.4 L436.2 100.7 L436.8 97.4 L437.4 97 L438 100.3 L438.6 90.3 L439.2 93.2 L439.8 96 L440.4 98.2 L441 94.2 L441.6 92.2 L442.2 91.3 L442.8 93.8 L443.4 95.8 L444 87.6 L444.6 84.6 L445.2 90.1 L445.8 89 L446.4 86.4 L447 90.9 L447.6 90.8 L448.2 85.3 L448.8 85.5 L449.4 89.8 L450 87.4 L450.6 85.1 L451.2 90.8 L451.8 89 L452.4 94.4 L453 92.5 L453.6 94.7 L454.2 98.3 L454.8 97.2 L455.4 96.9 L456 97.1 L456.6 108.2 L457.2 107.5 L457.8 99.9 L458.4 102.9 L459 110.2 L459.6 107.6 L460.2 111.2 L460.8 115.5 L461.4 114.6 L462 115.2 L462.6 115.5 L463.2 118.3 L463.8 121.5 L464.4 127.5 L465 126.3 L465.6 123.3 L466.2 128.1 L466.8 126.7 L467.4 123 L468 128.4 L468.6 132.8 L469.2 129.2 L469.8 134 L470.4 131.2 L471 132.7 L471.6 130.1 L472.2 139.2 L472.8 135.6 L473.4 137.6 L474 134.5 L474.6 132.7 L475.2 139.8 L475.8 135.8 L476.4 141.7 L477 137.8 L477.6 142.2 L478.2 137.1 L478.8 135.1 L479.4 140.9 L480 139.5 L480.6 140 L481.2 142.5 L481.8 138.7 L482.4 138.1 L483 138.7 L483.6 137.9 L484.2 138 L484.8 139.4 L485.4 140.4 L486 141.7 L486.6 140.4 L487.2 142.8 L487.8 144.7 L488.4 143 L489 144.5 L489.6 142.1 L490.2 144.6 L490.8 145.2 L491.4 143.3 L492 141.8 L492.6 144.6 L493.2 145.1 L493.8 147.9 L494.4 144.8 L495 148.6 L495.6 141.6 L496.2 145.4 L496.8 145.2 L497.4 145.5 L498 145.3 L498.6 146.3 L499.2 149.3 L499.8 146.4 L500.4 148.8 L501 146.7 L501.6 147.2 L502.2 143.1 L502.8 147.4 L503.4 148.3 L504 145.6 L504.6 146.6 L505.2 146.3 L505.8 151.3 L506.4 146.4 L507 146.9 L507.6 143.8 L508.2 145.7 L508.8 148.6 L509.4 146.4 L510 144.1 L510.6 148.1 L511.2 148.8 L511.8 149.1 L512.4 149.4 L513 147.9 L513.6 153.3 L514.2 148.2 L514.8 149.8 L515.4 147.3 L516 148.4 L516.6 147.1 L517.2 149.8 L517.8 149 L518.4 148.1 L519 146.7 L519.6 150.6 L520.2 151.1 L520.8 151.2 L521.4 149.8 L522 151.1 L522.6 151.4 L523.2 150.9 L523.8 152.3 L524.4 150.1 L525 150.7 L525.6 148.2 L526.2 153.5 L526.8 149.5 L527.4 151.1 L528 151.6 L528.6 149.6 L529.2 150.7 L529.8 151.9 L530.4 150.8 L531 150.6 L531.6 150.6 L532.2 150.1 L532.8 150.9 L533.4 151.8 L534 152 L534.6 152.9 L535.2 151.5 L535.8 150.8 L536.4 152.7 L537 152.1 L537.6 153.1 L538.2 152 L538.8 152.5 L539.4 152.4 L540 152.9 L540.6 150.6 L541.2 151.8 L541.8 152.2 L542.4 154.3 L543 151.9 L543.6 152.6 L544.2 151.7 L544.8 149.2 L545.4 153.7 L546 153 L546.6 153.7 L547.2 150.2 L547.8 152.5 L548.4 152.3 L549 150 L549.6 152.8 L550.2 151.3 L550.8 152.8 L551.4 149.9 L552 151 L552.6 151.2 L553.2 150.2 L553.8 152.3 L554.4 154 L555 152.2 L555.6 153.1 L556.2 154.3 L556.8 153 L557.4 151.8 L558 149.8 L558.6 152.8 L559.2 151.9 L559.8 151.8 L560.4 153.4 L561 153.1 L561.6 150.3 L562.2 152.8 L562.8 152 L563.4 153.6 L564 152.4 L564.6 153.7 L565.2 151.6 L565.8 152 L566.4 151.8 L567 152.3 L567.6 152.2 L568.2 154.1 L568.8 151.3 L569.4 152.7 L570 151 L570.6 150.7 L571.2 151.8 L571.8 150.6 L572.4 152.9 L573 151.7 L573.6 151.9 L574.2 153.3 L574.8 154.7 L575.4 152 L576 150.1 L576.6 152.2 L577.2 152.7 L577.8 154.2 L578.4 152.7 L579 151.6 L579.6 154 L580.2 154.2 L580.8 152.6 L581.4 153.2 L582 153.3 L582.6 156.2 L583.2 152.1 L583.8 152.4 L584.4 152.8 L585 153.9 L585.6 152.5 L586.2 153.6 L586.8 154.1 L587.4 155.6 L588 152.8 L588.6 152.6 L589.2 152.6 L589.8 150.7 L590.4 151.6 L591 153.3 L591.6 153.3 L592.2 156.5 L592.8 154.7 L593.4 154.2 L594 155.1 L594.6 152.4 L595.2 152.5 L595.8 152.3 L596.4 153 L597 156 L597.6 152.9 L598.2 152.5 L598.8 153.4 L599.4 154.4 L600 154 L600.6 154.5 L601.2 151.9 L601.8 152.3 L602.4 153.1 L603 153.6 L603.6 155.2 L604.2 151.5 L604.8 153.3 L605.4 151.5 L606 152 L606.6 149.6 L607.2 147.8 L607.8 151.1 L608.4 149 L609 147.5 L609.6 153.7 L610.2 153.5 L610.8 155.3" fill="none" stroke="#22e622" stroke-width="1.5" stroke-linejoin="round" />
<path d="M405.6 76 L406.2 82.3 L406.8 83.8 L407.4 79.4 L408 81.3 L408.6 81.7 L409.2 86.8 L409.8 85.4 L410.4 88.7 L411 80 L411.6 92.5 L412.2 87.1 L412.8 90.3 L413.4 87.8 L414 87.4 L414.6 90.5 L415.2 91.6 L415.8 87.9 L416.4 87.9 L417 90.7 L417.6 85.1 L418.2 82.7 L418.8 89.2 L419.4 85.7 L420 81.8 L420.6 86.1 L421.2 87.8 L421.8 85.7 L422.4 85.1 L423 90.9 L423.6 94.4 L424.2 90.4 L424.8 88.5 L425.4 92.3 L426 93.3 L426.6 89.6 L427.2 92.4 L427.8 94 L428.4 89.5 L429 87.5 L429.6 91.9 L430.2 91.9 L430.8 95.2 L431.4 87.1 L432 89.6 L432.6 89.3 L433.2 86.4 L433.8 95.6 L434.4 100 L435 98.6 L435.6 109 L436.2 108.7 L436.8 109.5 L437.4 110.2 L438 113.6 L438.6 107.1 L439.2 115.4 L439.8 116.9 L440.4 110.1 L441 119 L441.6 118.4 L442.2 123.5 L442.8 120.8 L443.4 123.7 L444 126.4 L444.6 124.1 L445.2 130.1 L445.8 129.5 L446.4 132.7 L447 131.4 L447.6 137.1 L448.2 137.3 L448.8 136.9 L449.4 140.2 L450 142.9 L450.6 144.9 L451.2 138.8 L451.8 144.7 L452.4 144.7 L453 144.5 L453.6 143.8 L454.2 148.7 L454.8 145.1 L455.4 148.5 L456 150 L456.6 145.5 L457.2 148 L457.8 146.7 L458.4 149.4 L459 151.7 L459.6 152.8 L460.2 147.3 L460.8 149.4 L461.4 151.6 L462 153.1 L462.6 151.7 L463.2 150.2 L463.8 151.9 L464.4 151.7 L465 151.7 L465.6 151.2 L466.2 152.9 L466.8 153 L467.4 152.7 L468 152.8 L468.6 151.6 L469.2 152.9 L469.8 155.3 L470.4 153.7 L471 152.4 L471.6 156 L472.2 155 L472.8 157 L473.4 154.5 L474 153.9 L474.6 152.7 L475.2 156.1 L475.8 157.6 L476.4 153.5 L477 153.8 L477.6 155.3 L478.2 153.6 L478.8 154.3 L479.4 154.2 L480 154.9 L480.6 156 L481.2 154.7 L481.8 155.8 L482.4 154.3 L483 155.2 L483.6 152.3 L484.2 153.1 L484.8 155.8 L485.4 154.2 L486 155.6 L486.6 155.6 L487.2 156.5 L487.8 155.9 L488.4 156.2 L489 154.9 L489.6 154.2 L490.2 154.2 L490.8 154.5 L491.4 153.8 L492 154.5 L492.6 155.1 L493.2 155.5 L493.8 154.8 L494.4 153 L495 155.2 L495.6 155.5 L496.2 156.6 L496.8 156 L497.4 154.6 L498 154.5 L498.6 157.7 L499.2 156.3 L499.8 157.6 L500.4 157.9 L501 154.6 L501.6 156 L502.2 156.1 L502.8 156.2 L503.4 156.2 L504 155.9 L504.6 155.8 L505.2 154 L505.8 155.5 L506.4 154.9 L507 155.9 L507.6 155.2 L508.2 156.5 L508.8 156.7 L509.4 156.2 L510 156.2 L510.6 156 L511.2 155.4 L511.8 155.8 L512.4 155.4 L513 156.4 L513.6 156 L514.2 156.7 L514.8 154.6 L515.4 157.1 L516 155.3 L516.6 155.3 L517.2 155.9 L517.8 155.6 L518.4 156.5 L519 155.6 L519.6 155.1 L520.2 155.4 L520.8 157.8 L521.4 156.4 L522 155.1 L522.6 156.5 L523.2 154.8 L523.8 158.1 L524.4 154.9 L525 157.1 L525.6 157.2 L526.2 155.1 L526.8 157 L527.4 157.8 L528 157.3 L528.6 157.1 L529.2 157.9 L529.8 157.1 L530.4 157.3 L531 156.8 L531.6 157.7 L532.2 156.1 L532.8 157.9 L533.4 156.6 L534 156 L534.6 157.6 L535.2 158.1 L535.8 158.1 L536.4 156.8 L537 158.1 L537.6 156.9 L538.2 157.3 L538.8 157.6 L539.4 155.2 L540 157.7 L540.6 156.5 L541.2 156.8 L541.8 156 L542.4 156 L543 156.5 L543.6 158.1 L544.2 158.1 L544.8 157.5 L545.4 158.1 L546 157.2 L546.6 155.6 L547.2 157.7 L547.8 158 L548.4 157.1 L549 157.8 L549.6 158.1 L550.2 156.6 L550.8 156 L551.4 157.3 L552 157.3 L552.6 157.1 L553.2 158.1 L553.8 158.1 L554.4 157.1 L555 158.1 L555.6 158.1 L556.2 158.1 L556.8 158.1 L557.4 157.1 L558 158.1 L558.6 158.1 L559.2 158.1 L559.8 156.9 L560.4 158.1 L561 158.1 L561.6 157.9 L562.2 156.9 L562.8 158.1 L563.4 156.2 L564 158 L564.6 157.5 L565.2 156.3 L565.8 158.1 L566.4 157.9 L567 156.3 L567.6 158.1 L568.2 157.1 L568.8 155.6 L569.4 156.8 L570 157.8 L570.6 158.1 L571.2 157.7 L571.8 157.5 L572.4 158 L573 157.3 L573.6 158.1 L574.2 157.7 L574.8 157.8 L575.4 158 L576 156.4 L576.6 156.8 L577.2 158.1 L577.8 157.8 L578.4 157.2 L579 157.8 L579.6 157 L580.2 157.8 L580.8 156.8 L581.4 157.8 L582 155.9 L582.6 158.1 L583.2 157 L583.8 155.9 L584.4 157.3 L585 157.1 L585.6 157.7 L586.2 156.3 L586.8 157.9 L587.4 158.1 L588 156.2 L588.6 157.8 L589.2 157.2 L589.8 157.7 L590.4 155.7 L591 156.3 L591.6 158 L592.2 157.5 L592.8 158.1 L593.4 156.8 L594 157.7 L594.6 158.1 L595.2 156.7 L595.8 156.6 L596.4 157.5 L597 157.5 L597.6 158.1 L598.2 157.6 L598.8 156.7 L599.4 157.7 L600 158.1 L600.6 158.1 L601.2 154.7 L601.8 157.4 L602.4 156.6 L603 158.1 L603.6 157.3 L604.2 158.1 L604.8 158.1 L605.4 158.1 L606 157.7 L606.6 157.5 L607.2 157.8 L607.8 158.1 L608.4 158 L609 157.1 L609.6 158.1 L610.2 157.7 L610.8 157.4" fill="none" stroke="#4a1aa0" stroke-width="1.5" stroke-linejoin="round" />
<path d="M405.6 73.5 L406.2 79.4 L406.8 81.1 L407.4 83.8 L408 89.6 L408.6 81.3 L409.2 83.7 L409.8 81.7 L410.4 86.3 L411 90.5 L411.6 87.3 L412.2 89.5 L412.8 81.4 L413.4 89 L414 85.6 L414.6 95.2 L415.2 92 L415.8 92.1 L416.4 88.5 L417 90.8 L417.6 90.9 L418.2 87.3 L418.8 86.7 L419.4 87.9 L420 86.1 L420.6 86.1 L421.2 87.1 L421.8 85.5 L422.4 90.6 L423 82.3 L423.6 90.7 L424.2 85.5 L424.8 85.7 L425.4 82.8 L426 87 L426.6 86.6 L427.2 88 L427.8 85.4 L428.4 87.5 L429 93.5 L429.6 88.5 L430.2 85 L430.8 90.2 L431.4 86.4 L432 88.8 L432.6 88.8 L433.2 85.2 L433.8 79.7 L434.4 85.2 L435 88.2 L435.6 84.9 L436.2 87.6 L436.8 89.4 L437.4 84 L438 90.1 L438.6 91.4 L439.2 89.4 L439.8 89.6 L440.4 89.2 L441 92.7 L441.6 84.9 L442.2 83.6 L442.8 85.1 L443.4 79.2 L444 76.4 L444.6 79.6 L445.2 84.8 L445.8 85.9 L446.4 79.7 L447 79.3 L447.6 85.7 L448.2 87.6 L448.8 89.6 L449.4 93.6 L450 97.2 L450.6 96.1 L451.2 99.9 L451.8 96.3 L452.4 98.4 L453 105.7 L453.6 109.6 L454.2 112.3 L454.8 114 L455.4 116.5 L456 118.4 L456.6 111.2 L457.2 116.6 L457.8 122.5 L458.4 124.8 L459 119.7 L459.6 129.8 L460.2 126 L460.8 127.9 L461.4 130.6 L462 133.1 L462.6 128.3 L463.2 136 L463.8 134.8 L464.4 133.6 L465 135.5 L465.6 131.5 L466.2 135.8 L466.8 138.4 L467.4 136.9 L468 138.4 L468.6 139.4 L469.2 140.4 L469.8 143.1 L470.4 141.5 L471 141.6 L471.6 143.7 L472.2 147 L472.8 142.5 L473.4 144.5 L474 140.7 L474.6 146.7 L475.2 145.6 L475.8 147.2 L476.4 144.9 L477 143.4 L477.6 147.2 L478.2 147.2 L478.8 144.6 L479.4 143.9 L480 147.6 L480.6 146.8 L481.2 151.8 L481.8 146.7 L482.4 147.1 L483 148.1 L483.6 145.8 L484.2 147.3 L484.8 151.5 L485.4 148.8 L486 148.3 L486.6 147.4 L487.2 150.5 L487.8 150.8 L488.4 150.3 L489 149.5 L489.6 150.8 L490.2 151 L490.8 149.7 L491.4 151.8 L492 148 L492.6 149.3 L493.2 150.9 L493.8 151.4 L494.4 150.1 L495 152.4 L495.6 153.4 L496.2 152.7 L496.8 152.4 L497.4 153.3 L498 152.7 L498.6 150.7 L499.2 152 L499.8 154.1 L500.4 150.8 L501 152.5 L501.6 151.9 L502.2 151.3 L502.8 151.2 L503.4 152.7 L504 153.1 L504.6 153.1 L505.2 150.8 L505.8 152.4 L506.4 153.3 L507 154.1 L507.6 153.8 L508.2 154.1 L508.8 154.5 L509.4 154.2 L510 152.1 L510.6 153.3 L511.2 152.3 L511.8 150.2 L512.4 151.2 L513 156.1 L513.6 152 L514.2 150.6 L514.8 152.8 L515.4 155.5 L516 153.6 L516.6 154.2 L517.2 153.4 L517.8 153.7 L518.4 155.4 L519 154.9 L519.6 153.8 L520.2 155.1 L520.8 155.3 L521.4 153.8 L522 154.4 L522.6 154.5 L523.2 153.4 L523.8 155.7 L524.4 154.1 L525 153.6 L525.6 152.3 L526.2 152.9 L526.8 156.3 L527.4 153.2 L528 155.1 L528.6 154.2 L529.2 155.3 L529.8 155.5 L530.4 153.9 L531 154.5 L531.6 155 L532.2 155.1 L532.8 154.9 L533.4 154.7 L534 155.8 L534.6 156.7 L535.2 155.8 L535.8 154.4 L536.4 155.7 L537 155.4 L537.6 155.9 L538.2 157.5 L538.8 155.2 L539.4 155.5 L540 154.5 L540.6 155.2 L541.2 154.9 L541.8 157.4 L542.4 155.9 L543 154.9 L543.6 157.7 L544.2 154 L544.8 156.5 L545.4 156.7 L546 156.2 L546.6 155.3 L547.2 155.4 L547.8 155.2 L548.4 156.5 L549 152.9 L549.6 155 L550.2 155.8 L550.8 154.9 L551.4 153.5 L552 155.3 L552.6 154.7 L553.2 156.5 L553.8 157.2 L554.4 155.7 L555 153.4 L555.6 155.4 L556.2 154.6 L556.8 156.4 L557.4 157.6 L558 156 L558.6 158 L559.2 157.4 L559.8 156.5 L560.4 154.7 L561 155.9 L561.6 154.2 L562.2 157 L562.8 156 L563.4 157.4 L564 156.2 L564.6 153.6 L565.2 156.6 L565.8 156.9 L566.4 157.8 L567 154.8 L567.6 154.8 L568.2 156 L568.8 154.7 L569.4 154.3 L570 154.7 L570.6 158.1 L571.2 155.2 L571.8 154.7 L572.4 155.4 L573 155.9 L573.6 157.3 L574.2 157 L574.8 156.8 L575.4 155.9 L576 156.1 L576.6 155.2 L577.2 154.2 L577.8 158.1 L578.4 155.4 L579 157.1 L579.6 155.6 L580.2 155.8 L580.8 155.8 L581.4 154.4 L582 155.8 L582.6 156.4 L583.2 156.9 L583.8 156.5 L584.4 157.1 L585 156.3 L585.6 156 L586.2 153.8 L586.8 155.4 L587.4 157.7 L588 156.1 L588.6 156.9 L589.2 155.7 L589.8 155.2 L590.4 158.1 L591 156.4 L591.6 157.7 L592.2 156.6 L592.8 155.7 L593.4 153.5 L594 156.1 L594.6 154.3 L595.2 153.5 L595.8 157.4 L596.4 156.8 L597 156.8 L597.6 156.1 L598.2 156 L598.8 156.5 L599.4 156.2 L600 156.1 L600.6 156.9 L601.2 153.3 L601.8 157.1 L602.4 155.4 L603 157 L603.6 157.4 L604.2 155 L604.8 156.5 L605.4 156.2 L606 154.2 L606.6 154.1 L607.2 154.6 L607.8 151.4 L608.4 153.3 L609 153.8 L609.6 153.7 L610.2 153.2 L610.8 155.1" fill="none" stroke="#e0208a" stroke-width="1.5" stroke-linejoin="round" />
<path d="M405.6 60.6 L406.2 51.7 L406.8 68.8 L407.4 69.8 L408 76 L408.6 74.5 L409.2 81.4 L409.8 75.9 L410.4 73.9 L411 77.6 L411.6 76.9 L412.2 74 L412.8 74.2 L413.4 77.4 L414 77.2 L414.6 73.1 L415.2 73.9 L415.8 69.1 L416.4 81.7 L417 75.3 L417.6 81.1 L418.2 78.1 L418.8 83.8 L419.4 82.3 L420 77.7 L420.6 81.5 L421.2 72.7 L421.8 80.1 L422.4 70.2 L423 76.3 L423.6 78.5 L424.2 75.4 L424.8 73.2 L425.4 71.6 L426 73.1 L426.6 77.9 L427.2 77.3 L427.8 73.1 L428.4 69.6 L429 76.2 L429.6 68.6 L430.2 71.8 L430.8 71 L431.4 76.8 L432 75.8 L432.6 77.4 L433.2 77.5 L433.8 75 L434.4 80.1 L435 84.3 L435.6 80.4 L436.2 84 L436.8 82.5 L437.4 87.8 L438 87.7 L438.6 89.9 L439.2 89.4 L439.8 95.4 L440.4 89.8 L441 91.4 L441.6 91.9 L442.2 97.6 L442.8 94.7 L443.4 96 L444 102.4 L444.6 106.3 L445.2 106.6 L445.8 97.6 L446.4 106.1 L447 108 L447.6 109.9 L448.2 114.7 L448.8 124.5 L449.4 119.1 L450 119.7 L450.6 126.4 L451.2 126.3 L451.8 127.9 L452.4 127.1 L453 130.6 L453.6 133.3 L454.2 128.5 L454.8 131 L455.4 139.2 L456 139.9 L456.6 137.7 L457.2 137.6 L457.8 140.4 L458.4 139.3 L459 142 L459.6 146.9 L460.2 144.9 L460.8 147.7 L461.4 146.2 L462 147.9 L462.6 149.9 L463.2 145.7 L463.8 147.6 L464.4 148.2 L465 149.2 L465.6 151.5 L466.2 150.5 L466.8 147.4 L467.4 149.6 L468 149 L468.6 149.2 L469.2 153.8 L469.8 149.7 L470.4 151.8 L471 150.8 L471.6 153.2 L472.2 152.6 L472.8 152.4 L473.4 152.3 L474 154 L474.6 151.3 L475.2 151.8 L475.8 151.4 L476.4 154.7 L477 152.7 L477.6 151.8 L478.2 152.8 L478.8 156.7 L479.4 153.4 L480 154.8 L480.6 154.4 L481.2 153.9 L481.8 153.2 L482.4 153.7 L483 153.8 L483.6 151.6 L484.2 157.5 L484.8 155.5 L485.4 154.5 L486 154.1 L486.6 153.4 L487.2 155.6 L487.8 154.2 L488.4 155 L489 152.7 L489.6 154.9 L490.2 156.9 L490.8 154.1 L491.4 155.5 L492 154.5 L492.6 155.8 L493.2 155.8 L493.8 154.6 L494.4 153.9 L495 154.9 L495.6 154.6 L496.2 153.8 L496.8 155.1 L497.4 155.1 L498 153.5 L498.6 154.5 L499.2 158.1 L499.8 155.6 L500.4 154.8 L501 157.7 L501.6 154.1 L502.2 151.7 L502.8 152.4 L503.4 152.9 L504 155 L504.6 155.9 L505.2 152.2 L505.8 156.1 L506.4 153.3 L507 155.1 L507.6 155.4 L508.2 155.3 L508.8 154.8 L509.4 155 L510 153.5 L510.6 155.2 L511.2 156 L511.8 156 L512.4 158 L513 156.2 L513.6 155.8 L514.2 156.9 L514.8 155.2 L515.4 153.4 L516 152.3 L516.6 156.5 L517.2 155.7 L517.8 156 L518.4 154.6 L519 155.5 L519.6 157.3 L520.2 155.6 L520.8 153.9 L521.4 154.8 L522 156.9 L522.6 154.1 L523.2 152.5 L523.8 152.9 L524.4 154 L525 156.5 L525.6 155.8 L526.2 154.9 L526.8 154.3 L527.4 155.7 L528 155.7 L528.6 155.3 L529.2 155.8 L529.8 155.2 L530.4 158.1 L531 153.6 L531.6 156.4 L532.2 155.2 L532.8 157.1 L533.4 156.2 L534 156.9 L534.6 157.1 L535.2 156.8 L535.8 157.7 L536.4 155.2 L537 157.8 L537.6 156.6 L538.2 157.3 L538.8 158.1 L539.4 158.1 L540 158.1 L540.6 154.6 L541.2 156 L541.8 158 L542.4 155.8 L543 156.8 L543.6 158.1 L544.2 157.9 L544.8 156 L545.4 157.5 L546 157.7 L546.6 157.1 L547.2 156.9 L547.8 157.1 L548.4 155.4 L549 157.1 L549.6 156 L550.2 157.4 L550.8 157.4 L551.4 156.1 L552 157.6 L552.6 157.4 L553.2 157 L553.8 157.8 L554.4 156.7 L555 156.7 L555.6 157.1 L556.2 156.9 L556.8 158.1 L557.4 154.5 L558 156.7 L558.6 154.9 L559.2 156.4 L559.8 157.2 L560.4 157 L561 158 L561.6 157.3 L562.2 154.1 L562.8 155.8 L563.4 158.1 L564 158.1 L564.6 157.1 L565.2 155.3 L565.8 158.1 L566.4 154.7 L567 157.3 L567.6 156.9 L568.2 157.2 L568.8 155.7 L569.4 156.5 L570 158 L570.6 156.4 L571.2 155.5 L571.8 156.9 L572.4 157 L573 156.8 L573.6 156.1 L574.2 157.5 L574.8 156.8 L575.4 155.7 L576 157.1 L576.6 156.9 L577.2 157.1 L577.8 155.1 L578.4 156.1 L579 157.4 L579.6 157.9 L580.2 157.3 L580.8 157.1 L581.4 157.7 L582 158 L582.6 158.1 L583.2 157.4 L583.8 156.4 L584.4 157.5 L585 154.9 L585.6 157 L586.2 156.5 L586.8 156.9 L587.4 157.5 L588 157 L588.6 155.5 L589.2 156.6 L589.8 156.1 L590.4 157 L591 157.4 L591.6 156 L592.2 157.8 L592.8 158.1 L593.4 156.7 L594 157.8 L594.6 155.4 L595.2 156.4 L595.8 158 L596.4 155.1 L597 156.5 L597.6 156.1 L598.2 158.1 L598.8 158.1 L599.4 156.3 L600 157.1 L600.6 154.3 L601.2 157.9 L601.8 157.4 L602.4 158.1 L603 154.5 L603.6 157.4 L604.2 156.6 L604.8 154.3 L605.4 156.3 L606 156.9 L606.6 157.7 L607.2 156.8 L607.8 155.6 L608.4 156.4 L609 155.4 L609.6 155.2 L610.2 155.3 L610.8 157" fill="none" stroke="#1f8ce4" stroke-width="1.5" stroke-linejoin="round" />
<line x1="405" y1="51.2" x2="405" y2="158.5" stroke="#1f8ce4" stroke-width="1.6" />
<text x="583.7" y="68" font-size="11.1" font-weight="bold" font-style="normal" text-anchor="start" fill="#000" >EV</text>
<rect x="403.2" y="178.5" width="215.5" height="105.1" fill="none" stroke="#000" stroke-width="1.3" />
<path d="M403.2 283.6v3M419.4 283.6v1.8M428.9 283.6v1.8M435.6 283.6v1.8M440.9 283.6v1.8M445.1 283.6v1.8M448.7 283.6v1.8M451.9 283.6v1.8M454.6 283.6v1.8M457.1 283.6v3M473.3 283.6v1.8M482.8 283.6v1.8M489.5 283.6v1.8M494.7 283.6v1.8M499 283.6v1.8M502.6 283.6v1.8M505.7 283.6v1.8M508.5 283.6v1.8M511 283.6v3M527.2 283.6v1.8M536.7 283.6v1.8M543.4 283.6v1.8M548.6 283.6v1.8M552.9 283.6v1.8M556.5 283.6v1.8M559.6 283.6v1.8M562.4 283.6v1.8M564.8 283.6v3M581 283.6v1.8M590.5 283.6v1.8M597.3 283.6v1.8M602.5 283.6v1.8M606.7 283.6v1.8M610.4 283.6v1.8M613.5 283.6v1.8M616.2 283.6v1.8M618.7 283.6v3M403.2 283.6h-3.5M403.2 278.3h-2M403.2 273.1h-2M403.2 267.8h-2M403.2 262.6h-3.5M403.2 257.3h-2M403.2 252.1h-2M403.2 246.8h-2M403.2 241.6h-3.5M403.2 236.3h-2M403.2 231.1h-2M403.2 225.8h-2M403.2 220.5h-3.5M403.2 215.3h-2M403.2 210h-2M403.2 204.8h-2M403.2 199.5h-3.5M403.2 194.3h-2M403.2 189h-2M403.2 183.8h-2M403.2 178.5h-3.5" stroke="#000" stroke-width="0.9" fill="none"/>
<text x="0" y="0" font-size="7.3" font-weight="bold" font-style="normal" text-anchor="middle" fill="#000" transform="translate(396.9,283.6) rotate(-90) scale(0.86,1)" >0</text>
<text x="0" y="0" font-size="7.3" font-weight="bold" font-style="normal" text-anchor="middle" fill="#000" transform="translate(396.9,262.6) rotate(-90) scale(0.86,1)" >60</text>
<text x="0" y="0" font-size="7.3" font-weight="bold" font-style="normal" text-anchor="middle" fill="#000" transform="translate(396.9,241.6) rotate(-90) scale(0.86,1)" >120</text>
<text x="0" y="0" font-size="7.3" font-weight="bold" font-style="normal" text-anchor="middle" fill="#000" transform="translate(396.9,220.5) rotate(-90) scale(0.86,1)" >180</text>
<text x="0" y="0" font-size="7.3" font-weight="bold" font-style="normal" text-anchor="middle" fill="#000" transform="translate(396.9,199.5) rotate(-90) scale(0.86,1)" >240</text>
<text x="0" y="0" font-size="7.3" font-weight="bold" font-style="normal" text-anchor="middle" fill="#000" transform="translate(396.9,178.5) rotate(-90) scale(0.86,1)" >300</text>
<text transform="translate(403.6,295.2) scale(0.95,1)" font-size="7" text-anchor="middle">10<tspan font-size="6" dy="-2.6">0</tspan></text>
<text transform="translate(457.5,295.2) scale(0.95,1)" font-size="7" text-anchor="middle">10<tspan font-size="6" dy="-2.6">1</tspan></text>
<text transform="translate(511.4,295.2) scale(0.95,1)" font-size="7" text-anchor="middle">10<tspan font-size="6" dy="-2.6">2</tspan></text>
<text transform="translate(565.2,295.2) scale(0.95,1)" font-size="7" text-anchor="middle">10<tspan font-size="6" dy="-2.6">3</tspan></text>
<text transform="translate(619.1,295.2) scale(0.95,1)" font-size="7" text-anchor="middle">10<tspan font-size="6" dy="-2.6">4</tspan></text>
<text x="0" y="0" font-size="7.0" font-weight="normal" font-style="normal" text-anchor="middle" fill="#000" transform="translate(390,232.1) rotate(-90)" >Counts</text>
<path d="M403.8 196.5 L404.4 216.3 L405 224.5 L405.6 221 L406.2 221.7 L406.8 218.8 L407.4 217.6 L408 218 L408.6 217.9 L409.2 225 L409.8 221.7 L410.4 222.4 L411 219.9 L411.6 218.5 L412.2 218.2 L412.8 219.6 L413.4 224.9 L414 223.1 L414.6 221.9 L415.2 223.1 L415.8 219.4 L416.4 229.2 L417 221 L417.6 225.9 L418.2 233.7 L418.8 216.7 L419.4 220.1 L420 221.9 L420.6 224.3 L421.2 217.2 L421.8 221.8 L422.4 221.9 L423 222.7 L423.6 215 L424.2 226.8 L424.8 231.3 L425.4 228.5 L426 225.6 L426.6 226.5 L427.2 219.6 L427.8 230.7 L428.4 234.5 L429 231.7 L429.6 219.2 L430.2 229.1 L430.8 231.1 L431.4 230.6 L432 236.9 L432.6 228 L433.2 232.5 L433.8 238 L434.4 240.4 L435 238.8 L435.6 243.1 L436.2 242.4 L436.8 238.1 L437.4 247.5 L438 243.3 L438.6 241.9 L439.2 251.2 L439.8 257.8 L440.4 256.7 L441 258.3 L441.6 257.6 L442.2 252.2 L442.8 262 L443.4 262.1 L444 256.4 L444.6 262 L445.2 262.5 L445.8 267.6 L446.4 266.5 L447 267.7 L447.6 268.5 L448.2 266.1 L448.8 265.6 L449.4 270 L450 270 L450.6 271.1 L451.2 271.4 L451.8 271.5 L452.4 273.9 L453 273.6 L453.6 272.7 L454.2 271.1 L454.8 270.5 L455.4 272.7 L456 275.1 L456.6 277.1 L457.2 275.5 L457.8 277.5 L458.4 278.5 L459 280.6 L459.6 278 L460.2 279.8 L460.8 278.3 L461.4 276.5 L462 275.3 L462.6 278.9 L463.2 279.8 L463.8 282 L464.4 278.2 L465 279.8 L465.6 279.2 L466.2 276.7 L466.8 280.2 L467.4 279.5 L468 278.6 L468.6 282.2 L469.2 279.5 L469.8 280.8 L470.4 280 L471 279.5 L471.6 280.2 L472.2 281.3 L472.8 279.7 L473.4 278.6 L474 282.6 L474.6 281.1 L475.2 279.5 L475.8 280.5 L476.4 278.9 L477 280.6 L477.6 281.7 L478.2 278.6 L478.8 281.8 L479.4 281.8 L480 280.6 L480.6 281 L481.2 280.6 L481.8 280.5 L482.4 278.9 L483 282.9 L483.6 280.3 L484.2 281.2 L484.8 280.9 L485.4 281.7 L486 281.8 L486.6 280.1 L487.2 281.6 L487.8 281 L488.4 280.3 L489 282.8 L489.6 282.7 L490.2 280.4 L490.8 281.1 L491.4 280.4 L492 280.3 L492.6 280.5 L493.2 282.2 L493.8 280 L494.4 280 L495 281.9 L495.6 280.9 L496.2 283 L496.8 280.7 L497.4 281.2 L498 281 L498.6 279.4 L499.2 282.2 L499.8 282.6 L500.4 282.9 L501 281.7 L501.6 282.7 L502.2 281.8 L502.8 281.9 L503.4 281.2 L504 281.9 L504.6 281.1 L505.2 282.7 L505.8 281.4 L506.4 281 L507 282 L507.6 282.1 L508.2 280.4 L508.8 281.1 L509.4 281.6 L510 282.6 L510.6 282.8 L511.2 283.1 L511.8 282 L512.4 281.4 L513 280.8 L513.6 282.4 L514.2 281.9 L514.8 282.8 L515.4 283.2 L516 283.2 L516.6 281.5 L517.2 283 L517.8 280.8 L518.4 283.2 L519 281.2 L519.6 282.3 L520.2 281.4 L520.8 283.2 L521.4 283 L522 283.2 L522.6 282.3 L523.2 282.9 L523.8 281.4 L524.4 282 L525 283.2 L525.6 280.6 L526.2 282.6 L526.8 283.2 L527.4 283.2 L528 283.2 L528.6 282.5 L529.2 283.2 L529.8 282.2 L530.4 282.5 L531 280.8 L531.6 282.9 L532.2 282.2 L532.8 282.5 L533.4 280.2 L534 281.3 L534.6 282.4 L535.2 281.3 L535.8 283.2 L536.4 283.2 L537 282.5 L537.6 283 L538.2 282.1 L538.8 282.1 L539.4 281.1 L540 283.1 L540.6 281.2 L541.2 282 L541.8 281.9 L542.4 281.3 L543 281.8 L543.6 282.4 L544.2 283.2 L544.8 282.5 L545.4 283.2 L546 282.8 L546.6 282.6 L547.2 283 L547.8 282.2 L548.4 283.2 L549 282.6 L549.6 282.6 L550.2 283.2 L550.8 281.6 L551.4 281.5 L552 282.4 L552.6 282.8 L553.2 282.1 L553.8 283.2 L554.4 282.8 L555 282.8 L555.6 281.2 L556.2 283.2 L556.8 282.6 L557.4 281.6 L558 283.2 L558.6 282.5 L559.2 281.8 L559.8 281.4 L560.4 282.5 L561 281.9 L561.6 281.5 L562.2 282.4 L562.8 282.3 L563.4 282 L564 283.2 L564.6 283.2 L565.2 283.2 L565.8 282.1 L566.4 282 L567 281 L567.6 282.3 L568.2 281.6 L568.8 282.7 L569.4 282.3 L570 283.2 L570.6 282.5 L571.2 283 L571.8 283.1 L572.4 280.1 L573 281.5 L573.6 282.8 L574.2 282.5 L574.8 282.7 L575.4 282 L576 283.2 L576.6 282.1 L577.2 282.3 L577.8 281.9 L578.4 283.2 L579 283.2 L579.6 282.5 L580.2 282.9 L580.8 280.5 L581.4 283.2 L582 280.5 L582.6 281.9 L583.2 280.1 L583.8 281.9 L584.4 281.9 L585 283.2 L585.6 281.4 L586.2 279.8 L586.8 282.6 L587.4 282.2 L588 283.2 L588.6 283.2 L589.2 280.8 L589.8 282.1 L590.4 282.2 L591 282.6 L591.6 282.2 L592.2 282.4 L592.8 282.8 L593.4 280.7 L594 281.5 L594.6 283.2 L595.2 283.2 L595.8 282.8 L596.4 283.1 L597 283.2 L597.6 283.2 L598.2 282.5 L598.8 281.9 L599.4 283.2 L600 282.3 L600.6 281.7 L601.2 283.2 L601.8 282.4 L602.4 282.5 L603 282.5 L603.6 283.2 L604.2 282.7 L604.8 282.7 L605.4 281.2 L606 281.2 L606.6 281.5 L607.2 281.9 L607.8 283.2 L608.4 282 L609 282.2 L609.6 283.2 L610.2 283 L610.8 282.2 L611.4 283.2 L612 282.8 L612.6 283.2 L613.2 283.2 L613.8 281.9 L614.4 283.2 L615 281.6 L615.6 283.2 L616.2 283.2 L616.8 280.7 L617.4 283.2 L618 282.1" fill="none" stroke="#4a1aa0" stroke-width="1.5" stroke-linejoin="round" />
<path d="M403.8 235.5 L404.4 239.5 L405 228.4 L405.6 241.2 L406.2 235.7 L406.8 233.6 L407.4 234.2 L408 233.8 L408.6 237.5 L409.2 241.7 L409.8 241.3 L410.4 241.9 L411 234.1 L411.6 234.9 L412.2 246.3 L412.8 244.6 L413.4 249.3 L414 246.3 L414.6 238.8 L415.2 247.3 L415.8 245.4 L416.4 243.9 L417 240.1 L417.6 242.8 L418.2 242 L418.8 245.5 L419.4 242.6 L420 247.5 L420.6 239 L421.2 243.2 L421.8 243.1 L422.4 238.1 L423 236.8 L423.6 244.3 L424.2 242.4 L424.8 239.8 L425.4 241.5 L426 237.6 L426.6 240.6 L427.2 237.4 L427.8 240 L428.4 242.6 L429 237.8 L429.6 241.7 L430.2 235.1 L430.8 237.7 L431.4 234 L432 238.4 L432.6 239 L433.2 238.1 L433.8 237.8 L434.4 243.5 L435 243.7 L435.6 234.5 L436.2 242.9 L436.8 232.5 L437.4 235.5 L438 237.1 L438.6 237.7 L439.2 233.2 L439.8 234 L440.4 236.4 L441 233.3 L441.6 233.1 L442.2 237.2 L442.8 237.8 L443.4 234.1 L444 234.6 L444.6 234.8 L445.2 233.6 L445.8 233.7 L446.4 232.1 L447 238.3 L447.6 236.1 L448.2 236.4 L448.8 238.2 L449.4 239.9 L450 243.6 L450.6 238.3 L451.2 238.5 L451.8 241.2 L452.4 238.1 L453 246.1 L453.6 245.5 L454.2 245.3 L454.8 243 L455.4 246.7 L456 248.3 L456.6 247 L457.2 244.9 L457.8 240.6 L458.4 250.3 L459 246.5 L459.6 245.7 L460.2 252.3 L460.8 251.3 L461.4 246.7 L462 251.8 L462.6 252.2 L463.2 256.8 L463.8 249.3 L464.4 254.2 L465 255.5 L465.6 260.5 L466.2 254.2 L466.8 249.8 L467.4 254.7 L468 259.6 L468.6 261.5 L469.2 264.3 L469.8 261.3 L470.4 258.6 L471 263.2 L471.6 261.4 L472.2 261.4 L472.8 262.3 L473.4 265.6 L474 260.9 L474.6 261.1 L475.2 263.7 L475.8 263.9 L476.4 262.4 L477 262.4 L477.6 265.5 L478.2 267.8 L478.8 266.6 L479.4 266.7 L480 268.1 L480.6 261.3 L481.2 262.6 L481.8 264.5 L482.4 263.8 L483 264.5 L483.6 267 L484.2 264.6 L484.8 266.6 L485.4 263.7 L486 266.2 L486.6 271 L487.2 267.6 L487.8 269.6 L488.4 270.6 L489 268.7 L489.6 271 L490.2 270.6 L490.8 271.8 L491.4 269.6 L492 268.5 L492.6 269.6 L493.2 270.7 L493.8 272.9 L494.4 271.9 L495 271.9 L495.6 272.6 L496.2 275 L496.8 272.6 L497.4 276.2 L498 272.1 L498.6 273.5 L499.2 276 L499.8 275.8 L500.4 274 L501 275.4 L501.6 274.9 L502.2 277.4 L502.8 277.1 L503.4 275.4 L504 277.1 L504.6 276.1 L505.2 276.6 L505.8 276.9 L506.4 276.1 L507 277.6 L507.6 277.7 L508.2 277.7 L508.8 278.7 L509.4 276.9 L510 275.4 L510.6 276.8 L511.2 277.8 L511.8 277.7 L512.4 278.5 L513 278.9 L513.6 277.8 L514.2 277.9 L514.8 276.8 L515.4 279.5 L516 277.9 L516.6 276.9 L517.2 277 L517.8 278 L518.4 280.6 L519 279.6 L519.6 276.5 L520.2 278.5 L520.8 279.1 L521.4 279.5 L522 279.2 L522.6 278 L523.2 279.4 L523.8 278.2 L524.4 276.1 L525 278 L525.6 278.1 L526.2 280.2 L526.8 280.4 L527.4 277.8 L528 279.3 L528.6 279.2 L529.2 277.4 L529.8 276.6 L530.4 279.1 L531 279.4 L531.6 278.5 L532.2 276 L532.8 279.3 L533.4 278.7 L534 278.3 L534.6 279 L535.2 278.1 L535.8 280.2 L536.4 279.5 L537 278.9 L537.6 279.9 L538.2 279.6 L538.8 277.8 L539.4 279.5 L540 279.1 L540.6 277.5 L541.2 278.9 L541.8 280.2 L542.4 278.9 L543 281.4 L543.6 281.8 L544.2 279.3 L544.8 280.4 L545.4 282.1 L546 279.4 L546.6 278.7 L547.2 279.3 L547.8 278.1 L548.4 278.2 L549 280.1 L549.6 279.3 L550.2 280.1 L550.8 280.4 L551.4 278.9 L552 279.6 L552.6 279.6 L553.2 279.1 L553.8 278.9 L554.4 280.3 L555 279.8 L555.6 280.3 L556.2 281.1 L556.8 281.2 L557.4 278.6 L558 279 L558.6 279.7 L559.2 280.1 L559.8 281.1 L560.4 278.9 L561 279.5 L561.6 280.3 L562.2 281.5 L562.8 281.7 L563.4 278.9 L564 279.8 L564.6 279.1 L565.2 281.1 L565.8 280.6 L566.4 279.7 L567 279.4 L567.6 280.4 L568.2 281.3 L568.8 279.2 L569.4 279.7 L570 280.2 L570.6 280.1 L571.2 280.5 L571.8 278.9 L572.4 279.4 L573 277.6 L573.6 280.2 L574.2 281.4 L574.8 277.7 L575.4 279.4 L576 281.2 L576.6 279.9 L577.2 277.9 L577.8 281.5 L578.4 278.4 L579 281.7 L579.6 279.4 L580.2 279.3 L580.8 280.1 L581.4 280.1 L582 280.8 L582.6 280.7 L583.2 279.9 L583.8 281.7 L584.4 280.9 L585 280.4 L585.6 280.3 L586.2 280 L586.8 280 L587.4 280.9 L588 280.7 L588.6 280.1 L589.2 281.3 L589.8 279.8 L590.4 280.6 L591 281.1 L591.6 278.8 L592.2 279.8 L592.8 282 L593.4 278.9 L594 281.4 L594.6 278.8 L595.2 280.5 L595.8 278.7 L596.4 279.2 L597 279.5 L597.6 279.3 L598.2 281.1 L598.8 280.9 L599.4 280.9 L600 280.1 L600.6 281.8 L601.2 281.1 L601.8 280.2 L602.4 278.6 L603 280.6 L603.6 280.6 L604.2 279.9 L604.8 280.6 L605.4 280.7 L606 279.4 L606.6 280.4 L607.2 280.1 L607.8 280.1 L608.4 279.2 L609 279.1 L609.6 279.8 L610.2 281.3 L610.8 282.1 L611.4 277.5 L612 275.2 L612.6 274.9 L613.2 272.8 L613.8 272.2 L614.4 272.2 L615 264 L615.6 264.2 L616.2 269.7 L616.8 275.9 L617.4 281 L618 282.4" fill="none" stroke="#22e622" stroke-width="1.5" stroke-linejoin="round" />
<path d="M403.8 204.2 L404.4 220 L405 227.8 L405.6 230.8 L406.2 238.6 L406.8 228.5 L407.4 238.1 L408 239.8 L408.6 234.7 L409.2 234.1 L409.8 238.8 L410.4 242 L411 245.9 L411.6 242.1 L412.2 245.2 L412.8 238.6 L413.4 237.7 L414 234.2 L414.6 234.8 L415.2 236.2 L415.8 236.7 L416.4 230 L417 236.1 L417.6 233.1 L418.2 231.6 L418.8 231.7 L419.4 241.9 L420 235.8 L420.6 232.6 L421.2 232.8 L421.8 242.9 L422.4 234.1 L423 240.1 L423.6 240.7 L424.2 227.3 L424.8 239.9 L425.4 234.2 L426 230.9 L426.6 232.6 L427.2 236.2 L427.8 235.4 L428.4 235.3 L429 231.1 L429.6 237.9 L430.2 238.5 L430.8 239.5 L431.4 236.4 L432 239.3 L432.6 239.8 L433.2 234.7 L433.8 235.1 L434.4 233.9 L435 233.6 L435.6 234.5 L436.2 225.2 L436.8 229.9 L437.4 232.6 L438 223.2 L438.6 225.4 L439.2 235.8 L439.8 226.3 L440.4 228.2 L441 231 L441.6 228 L442.2 226.6 L442.8 227.8 L443.4 228.1 L444 227.6 L444.6 230.3 L445.2 235.3 L445.8 230.6 L446.4 234.5 L447 230.8 L447.6 230.5 L448.2 229 L448.8 225.3 L449.4 227.3 L450 226.2 L450.6 221.4 L451.2 228.3 L451.8 228 L452.4 227.5 L453 224.6 L453.6 217.6 L454.2 232.3 L454.8 227.4 L455.4 220.9 L456 231.7 L456.6 227.8 L457.2 233.6 L457.8 231.7 L458.4 237 L459 234.7 L459.6 235.8 L460.2 236.2 L460.8 240.9 L461.4 233 L462 242.5 L462.6 241.7 L463.2 238.3 L463.8 241.1 L464.4 240.4 L465 243.1 L465.6 247.1 L466.2 242.3 L466.8 248.2 L467.4 249.7 L468 249.6 L468.6 253.4 L469.2 248.5 L469.8 251.6 L470.4 257.9 L471 250.6 L471.6 250.7 L472.2 251.8 L472.8 254.1 L473.4 251.1 L474 252.8 L474.6 249 L475.2 251.7 L475.8 252.4 L476.4 252.7 L477 255.3 L477.6 259 L478.2 256.7 L478.8 254.8 L479.4 259.6 L480 260 L480.6 256.6 L481.2 261.1 L481.8 258.7 L482.4 260.3 L483 260.5 L483.6 264.7 L484.2 261.3 L484.8 262.9 L485.4 264.5 L486 266.8 L486.6 267.6 L487.2 263.2 L487.8 268.4 L488.4 267 L489 269.3 L489.6 269.4 L490.2 266.6 L490.8 268.2 L491.4 268 L492 269.6 L492.6 272.4 L493.2 269.7 L493.8 268.7 L494.4 275 L495 268.9 L495.6 271.1 L496.2 271.4 L496.8 269.6 L497.4 273.5 L498 274.3 L498.6 272.7 L499.2 273.3 L499.8 273.3 L500.4 271.1 L501 274.7 L501.6 272.7 L502.2 273.6 L502.8 275.8 L503.4 276.7 L504 274.1 L504.6 277.2 L505.2 278.2 L505.8 275.9 L506.4 275.6 L507 276.1 L507.6 275.3 L508.2 274.8 L508.8 277 L509.4 277.2 L510 275.5 L510.6 275.8 L511.2 275.5 L511.8 275.5 L512.4 275.2 L513 274.6 L513.6 278 L514.2 276.4 L514.8 277 L515.4 279.5 L516 276.4 L516.6 278 L517.2 275.4 L517.8 276.5 L518.4 278.4 L519 277.2 L519.6 275.7 L520.2 275.6 L520.8 278.2 L521.4 276.5 L522 278.7 L522.6 278.3 L523.2 277.6 L523.8 278 L524.4 279.1 L525 278.2 L525.6 277 L526.2 278.7 L526.8 277.9 L527.4 278.1 L528 279.2 L528.6 279 L529.2 279.9 L529.8 278.5 L530.4 278.2 L531 278.4 L531.6 279.4 L532.2 278 L532.8 278.6 L533.4 278.1 L534 278.2 L534.6 279 L535.2 282.2 L535.8 278.9 L536.4 279.7 L537 279.6 L537.6 279.4 L538.2 279.6 L538.8 281.9 L539.4 279.3 L540 281.5 L540.6 280.4 L541.2 278.6 L541.8 278.9 L542.4 279.1 L543 278.4 L543.6 281.1 L544.2 280.2 L544.8 280.3 L545.4 278.5 L546 280.3 L546.6 279.1 L547.2 282.6 L547.8 279.7 L548.4 280.1 L549 280.3 L549.6 279.3 L550.2 279.4 L550.8 279.4 L551.4 280.8 L552 279 L552.6 279.7 L553.2 280.3 L553.8 279.4 L554.4 278.3 L555 278.5 L555.6 279.4 L556.2 278.8 L556.8 281.1 L557.4 280 L558 279.9 L558.6 278.8 L559.2 280.6 L559.8 279.6 L560.4 278.9 L561 279.3 L561.6 282.8 L562.2 279.3 L562.8 279.1 L563.4 281.4 L564 280.9 L564.6 279.8 L565.2 281.7 L565.8 278.4 L566.4 279.5 L567 278.2 L567.6 281.7 L568.2 280.1 L568.8 283.1 L569.4 280.6 L570 280.6 L570.6 278.8 L571.2 278.7 L571.8 279.5 L572.4 281.1 L573 278.9 L573.6 277.3 L574.2 281 L574.8 281.1 L575.4 279 L576 280.5 L576.6 281.3 L577.2 281.4 L577.8 278.2 L578.4 280.1 L579 279.1 L579.6 281.1 L580.2 280.1 L580.8 278.6 L581.4 280.1 L582 280.7 L582.6 278.2 L583.2 278.4 L583.8 279.2 L584.4 279.6 L585 279.3 L585.6 277.9 L586.2 278.2 L586.8 279.9 L587.4 280.4 L588 278.9 L588.6 280.2 L589.2 282.1 L589.8 279.7 L590.4 279.5 L591 279.2 L591.6 280.5 L592.2 280.3 L592.8 280.3 L593.4 279.6 L594 280.5 L594.6 280.5 L595.2 279.8 L595.8 281.4 L596.4 278.2 L597 280.8 L597.6 279.9 L598.2 281 L598.8 282.2 L599.4 280.1 L600 279.8 L600.6 280 L601.2 281.7 L601.8 281.8 L602.4 280.3 L603 280.8 L603.6 282.2 L604.2 280.7 L604.8 278.3 L605.4 279.1 L606 279.5 L606.6 280.5 L607.2 279.4 L607.8 281.7 L608.4 279.5 L609 281.9 L609.6 279.3 L610.2 281.7 L610.8 280.1 L611.4 281 L612 281.1 L612.6 280.3 L613.2 278.8 L613.8 275.8 L614.4 275 L615 271.2 L615.6 279.2 L616.2 280.2 L616.8 281.2 L617.4 279.8 L618 283.2" fill="none" stroke="#e0208a" stroke-width="1.5" stroke-linejoin="round" />
<path d="M403.8 195.2 L404.4 237.5 L405 248.6 L405.6 242.5 L406.2 252.5 L406.8 245.9 L407.4 256.3 L408 256.4 L408.6 256.7 L409.2 256.3 L409.8 254.4 L410.4 251.5 L411 251.7 L411.6 257.1 L412.2 250.9 L412.8 252.2 L413.4 250.9 L414 251.7 L414.6 252.6 L415.2 253.9 L415.8 251.7 L416.4 250.9 L417 249.4 L417.6 251 L418.2 245.8 L418.8 249.7 L419.4 253.3 L420 245.8 L420.6 247.6 L421.2 256.7 L421.8 243.1 L422.4 240.3 L423 243.9 L423.6 251.1 L424.2 251.3 L424.8 239.3 L425.4 245 L426 242.4 L426.6 239.7 L427.2 234.3 L427.8 244.4 L428.4 237.5 L429 241.2 L429.6 240.2 L430.2 246.2 L430.8 243.4 L431.4 234.9 L432 237.8 L432.6 242.1 L433.2 233.5 L433.8 236.6 L434.4 238.5 L435 231.8 L435.6 232.9 L436.2 231 L436.8 237.8 L437.4 234.6 L438 239.3 L438.6 235.8 L439.2 236.9 L439.8 234 L440.4 236.3 L441 232.7 L441.6 229 L442.2 236.2 L442.8 236.3 L443.4 241.6 L444 233.9 L444.6 233.2 L445.2 230.9 L445.8 223.3 L446.4 233 L447 240.1 L447.6 236.1 L448.2 230.9 L448.8 243 L449.4 239.1 L450 240.2 L450.6 240.2 L451.2 241.5 L451.8 243.8 L452.4 236.3 L453 241.9 L453.6 241.1 L454.2 247.1 L454.8 239.8 L455.4 249.8 L456 246.8 L456.6 251 L457.2 243.4 L457.8 249.2 L458.4 248.3 L459 242.6 L459.6 247.2 L460.2 246.9 L460.8 245.5 L461.4 246.4 L462 244.6 L462.6 248 L463.2 250.9 L463.8 247.7 L464.4 245.5 L465 254.1 L465.6 249.9 L466.2 251.4 L466.8 250.9 L467.4 250.3 L468 254.1 L468.6 250.9 L469.2 252.9 L469.8 248.8 L470.4 248.6 L471 252.6 L471.6 259.7 L472.2 254.9 L472.8 260.3 L473.4 256.8 L474 257.7 L474.6 255.7 L475.2 258.1 L475.8 263.8 L476.4 263 L477 259.3 L477.6 260.5 L478.2 265.1 L478.8 261 L479.4 264.7 L480 260.7 L480.6 264.6 L481.2 266.9 L481.8 265.6 L482.4 264.6 L483 264.6 L483.6 264.4 L484.2 264.9 L484.8 267.8 L485.4 268 L486 266.7 L486.6 263.4 L487.2 265.3 L487.8 267.3 L488.4 267.1 L489 264.5 L489.6 269 L490.2 273.1 L490.8 265.8 L491.4 268.7 L492 272 L492.6 268.5 L493.2 268.9 L493.8 270.3 L494.4 271.4 L495 270 L495.6 272.8 L496.2 268.1 L496.8 272.9 L497.4 272.8 L498 272.2 L498.6 273.5 L499.2 273.3 L499.8 275.7 L500.4 273.2 L501 274.2 L501.6 272.5 L502.2 273.3 L502.8 274.9 L503.4 273.1 L504 274.2 L504.6 273.7 L505.2 275 L505.8 276.1 L506.4 277.4 L507 273.3 L507.6 276 L508.2 277.7 L508.8 278.5 L509.4 278.7 L510 274.8 L510.6 276.2 L511.2 277.8 L511.8 278.5 L512.4 277.7 L513 277.8 L513.6 277.9 L514.2 276.7 L514.8 278 L515.4 279 L516 277.6 L516.6 279.7 L517.2 274.6 L517.8 278 L518.4 280.8 L519 279.8 L519.6 280.5 L520.2 278.9 L520.8 277.3 L521.4 278.2 L522 280.8 L522.6 276.6 L523.2 277.8 L523.8 276.9 L524.4 278.4 L525 278.6 L525.6 279.9 L526.2 278.2 L526.8 281.4 L527.4 280.1 L528 278.8 L528.6 278.2 L529.2 277.6 L529.8 279.6 L530.4 281.9 L531 279.4 L531.6 278.4 L532.2 279.6 L532.8 279.1 L533.4 278.7 L534 277.5 L534.6 279.8 L535.2 281.7 L535.8 281.4 L536.4 281.2 L537 280.3 L537.6 280.6 L538.2 281.3 L538.8 280.1 L539.4 280.5 L540 279.7 L540.6 281.5 L541.2 279.1 L541.8 281 L542.4 281.2 L543 281.2 L543.6 281.1 L544.2 279.7 L544.8 279.6 L545.4 279.8 L546 279.8 L546.6 279 L547.2 279.8 L547.8 279.6 L548.4 279.2 L549 280.7 L549.6 279.4 L550.2 280.6 L550.8 282.1 L551.4 282.3 L552 280.4 L552.6 281.6 L553.2 280.7 L553.8 283.2 L554.4 282.3 L555 281.7 L555.6 280.3 L556.2 280.2 L556.8 281.1 L557.4 280.4 L558 280.2 L558.6 281.3 L559.2 279.1 L559.8 278.2 L560.4 279.4 L561 279.2 L561.6 280.5 L562.2 279.6 L562.8 280.4 L563.4 278.3 L564 282.3 L564.6 281.1 L565.2 279.6 L565.8 281 L566.4 282 L567 281.6 L567.6 280.5 L568.2 281.3 L568.8 281.6 L569.4 279.2 L570 279 L570.6 279.9 L571.2 281.7 L571.8 282.3 L572.4 280.8 L573 282.4 L573.6 281.8 L574.2 280.5 L574.8 279.8 L575.4 279.9 L576 280.7 L576.6 282.2 L577.2 281.6 L577.8 279.1 L578.4 279.2 L579 281.6 L579.6 280.8 L580.2 279.5 L580.8 281.4 L581.4 282.2 L582 281.5 L582.6 280.7 L583.2 282.2 L583.8 280.2 L584.4 279.9 L585 279.6 L585.6 282.8 L586.2 283.1 L586.8 280.6 L587.4 281.3 L588 281.1 L588.6 281.7 L589.2 282 L589.8 281.4 L590.4 280.5 L591 280 L591.6 279.4 L592.2 277.6 L592.8 280.5 L593.4 279.7 L594 280.7 L594.6 280.5 L595.2 279.4 L595.8 280 L596.4 281.1 L597 280.8 L597.6 279.6 L598.2 279.8 L598.8 281.3 L599.4 280.9 L600 281 L600.6 280.4 L601.2 281.5 L601.8 280.7 L602.4 283.2 L603 280.1 L603.6 279.8 L604.2 282.5 L604.8 280.5 L605.4 279.7 L606 281.1 L606.6 278 L607.2 281.1 L607.8 280.6 L608.4 280.9 L609 279.7 L609.6 282.1 L610.2 281 L610.8 280.6 L611.4 280.9 L612 279.3 L612.6 280 L613.2 278.2 L613.8 278.6 L614.4 280.1 L615 279.8 L615.6 281 L616.2 279.9 L616.8 281 L617.4 280.8 L618 282.3" fill="none" stroke="#1f8ce4" stroke-width="1.5" stroke-linejoin="round" />
<line x1="403.2" y1="178.5" x2="403.2" y2="283.6" stroke="#1f8ce4" stroke-width="1.6" />
<text x="545.1" y="194.2" font-size="11.8" font-weight="bold" font-style="normal" text-anchor="start" fill="#000" >Livin RING</text>
<rect x="384" y="291.8" width="240" height="10" fill="#fff" stroke="none" stroke-width="1" />
<rect x="405.4" y="302.5" width="215.3" height="118.9" fill="none" stroke="#000" stroke-width="1.3" />
<path d="M405.4 421.4v3M421.6 421.4v1.8M431.1 421.4v1.8M437.8 421.4v1.8M443 421.4v1.8M447.3 421.4v1.8M450.9 421.4v1.8M454 421.4v1.8M456.8 421.4v1.8M459.2 421.4v3M475.4 421.4v1.8M484.9 421.4v1.8M491.6 421.4v1.8M496.8 421.4v1.8M501.1 421.4v1.8M504.7 421.4v1.8M507.8 421.4v1.8M510.6 421.4v1.8M513 421.4v3M529.3 421.4v1.8M538.7 421.4v1.8M545.5 421.4v1.8M550.7 421.4v1.8M554.9 421.4v1.8M558.5 421.4v1.8M561.7 421.4v1.8M564.4 421.4v1.8M566.9 421.4v3M583.1 421.4v1.8M592.6 421.4v1.8M599.3 421.4v1.8M604.5 421.4v1.8M608.8 421.4v1.8M612.4 421.4v1.8M615.5 421.4v1.8M618.2 421.4v1.8M620.7 421.4v3M405.4 421.4h-3.5M405.4 415.5h-2M405.4 409.5h-2M405.4 403.6h-2M405.4 397.6h-3.5M405.4 391.7h-2M405.4 385.7h-2M405.4 379.8h-2M405.4 373.8h-3.5M405.4 367.9h-2M405.4 361.9h-2M405.4 356h-2M405.4 350.1h-3.5M405.4 344.1h-2M405.4 338.2h-2M405.4 332.2h-2M405.4 326.3h-3.5M405.4 320.3h-2M405.4 314.4h-2M405.4 308.4h-2M405.4 302.5h-3.5" stroke="#000" stroke-width="0.9" fill="none"/>
<text x="0" y="0" font-size="7.3" font-weight="bold" font-style="normal" text-anchor="middle" fill="#000" transform="translate(399.1,421.4) rotate(-90) scale(0.86,1)" >0</text>
<text x="0" y="0" font-size="7.3" font-weight="bold" font-style="normal" text-anchor="middle" fill="#000" transform="translate(399.1,397.6) rotate(-90) scale(0.86,1)" >60</text>
<text x="0" y="0" font-size="7.3" font-weight="bold" font-style="normal" text-anchor="middle" fill="#000" transform="translate(399.1,373.8) rotate(-90) scale(0.86,1)" >120</text>
<text x="0" y="0" font-size="7.3" font-weight="bold" font-style="normal" text-anchor="middle" fill="#000" transform="translate(399.1,350.1) rotate(-90) scale(0.86,1)" >180</text>
<text x="0" y="0" font-size="7.3" font-weight="bold" font-style="normal" text-anchor="middle" fill="#000" transform="translate(399.1,326.3) rotate(-90) scale(0.86,1)" >240</text>
<text x="0" y="0" font-size="7.3" font-weight="bold" font-style="normal" text-anchor="middle" fill="#000" transform="translate(399.1,302.5) rotate(-90) scale(0.86,1)" >300</text>
<text transform="translate(405.8,433) scale(0.95,1)" font-size="7" text-anchor="middle">10<tspan font-size="6" dy="-2.6">0</tspan></text>
<text transform="translate(459.6,433) scale(0.95,1)" font-size="7" text-anchor="middle">10<tspan font-size="6" dy="-2.6">1</tspan></text>
<text transform="translate(513.4,433) scale(0.95,1)" font-size="7" text-anchor="middle">10<tspan font-size="6" dy="-2.6">2</tspan></text>
<text transform="translate(567.3,433) scale(0.95,1)" font-size="7" text-anchor="middle">10<tspan font-size="6" dy="-2.6">3</tspan></text>
<text transform="translate(621.1,433) scale(0.95,1)" font-size="7" text-anchor="middle">10<tspan font-size="6" dy="-2.6">4</tspan></text>
<text x="0" y="0" font-size="7.0" font-weight="normal" font-style="normal" text-anchor="middle" fill="#000" transform="translate(392.2,362.9) rotate(-90)" >Counts</text>
<path d="M406 326 L406.6 330.1 L407.2 331.1 L407.8 336.2 L408.4 335.8 L409 344.9 L409.6 333.1 L410.2 341 L410.8 336.4 L411.4 339.8 L412 337 L412.6 339.2 L413.2 340.4 L413.8 339.8 L414.4 342.5 L415 342.1 L415.6 345.5 L416.2 347.8 L416.8 341.5 L417.4 341.4 L418 343.8 L418.6 336.9 L419.2 344.1 L419.8 341.5 L420.4 340.9 L421 338.7 L421.6 343.9 L422.2 346.9 L422.8 343.7 L423.4 342.8 L424 344.5 L424.6 346.4 L425.2 343.2 L425.8 345.7 L426.4 344.1 L427 347.7 L427.6 354.6 L428.2 349.3 L428.8 356 L429.4 346.9 L430 345.8 L430.6 349.4 L431.2 351.3 L431.8 352.9 L432.4 353.5 L433 351.7 L433.6 356.5 L434.2 353.7 L434.8 357.3 L435.4 358 L436 358.9 L436.6 360.4 L437.2 358.7 L437.8 364.8 L438.4 366.6 L439 365.2 L439.6 378.3 L440.2 372.3 L440.8 369.6 L441.4 370.2 L442 374.4 L442.6 371.3 L443.2 382 L443.8 378.4 L444.4 385.1 L445 380.7 L445.6 387.7 L446.2 392 L446.8 392 L447.4 386.6 L448 393.5 L448.6 393.7 L449.2 399.1 L449.8 398.2 L450.4 403.1 L451 400 L451.6 398.3 L452.2 400 L452.8 405.8 L453.4 402.2 L454 405.3 L454.6 410 L455.2 406.4 L455.8 405.4 L456.4 409.5 L457 409.3 L457.6 407.2 L458.2 411.3 L458.8 411 L459.4 412.6 L460 410.6 L460.6 413.7 L461.2 411.3 L461.8 414.3 L462.4 410.9 L463 413.3 L463.6 413.6 L464.2 411.4 L464.8 410.7 L465.4 412.8 L466 412.9 L466.6 413.3 L467.2 414.2 L467.8 417.7 L468.4 414.9 L469 417 L469.6 415.3 L470.2 416.4 L470.8 415.8 L471.4 415.2 L472 415.9 L472.6 418.3 L473.2 413.2 L473.8 415.8 L474.4 416.4 L475 414.1 L475.6 416.5 L476.2 416.1 L476.8 417.6 L477.4 416.9 L478 416.1 L478.6 416.6 L479.2 413.5 L479.8 419 L480.4 416.8 L481 414.7 L481.6 415.3 L482.2 416.3 L482.8 415.9 L483.4 416.9 L484 415.9 L484.6 417.5 L485.2 416.3 L485.8 416.8 L486.4 415.3 L487 416.1 L487.6 416.9 L488.2 416 L488.8 416.9 L489.4 416.8 L490 415.4 L490.6 418.7 L491.2 415.7 L491.8 419.5 L492.4 418.7 L493 418.3 L493.6 417.6 L494.2 416.7 L494.8 419.7 L495.4 420.2 L496 417.1 L496.6 420.1 L497.2 419.4 L497.8 419.1 L498.4 418.8 L499 417.9 L499.6 418.2 L500.2 418.6 L500.8 419.9 L501.4 416.9 L502 418.7 L502.6 417.2 L503.2 418.6 L503.8 418.2 L504.4 417.7 L505 419.3 L505.6 419.4 L506.2 417.2 L506.8 417.8 L507.4 419.2 L508 418.1 L508.6 419.1 L509.2 415.6 L509.8 418.4 L510.4 418.5 L511 419.2 L511.6 421 L512.2 418.6 L512.8 418.8 L513.4 420.5 L514 418.9 L514.6 420.8 L515.2 419.9 L515.8 417.1 L516.4 419.3 L517 420.9 L517.6 419.4 L518.2 419.5 L518.8 419.4 L519.4 419.4 L520 420.7 L520.6 419.9 L521.2 419.6 L521.8 421 L522.4 417.8 L523 418.7 L523.6 419.1 L524.2 419.1 L524.8 417.7 L525.4 421 L526 419.5 L526.6 420.1 L527.2 419.6 L527.8 418.4 L528.4 421 L529 419.6 L529.6 419.9 L530.2 419.7 L530.8 420.1 L531.4 421 L532 419.8 L532.6 416.3 L533.2 419.2 L533.8 418.8 L534.4 420.5 L535 419.5 L535.6 420.5 L536.2 420.2 L536.8 419.5 L537.4 420.8 L538 419.8 L538.6 418.9 L539.2 418.6 L539.8 419.1 L540.4 417.5 L541 420.1 L541.6 420.4 L542.2 419 L542.8 417.9 L543.4 419.1 L544 421 L544.6 420.1 L545.2 420.4 L545.8 420.6 L546.4 420.4 L547 420.2 L547.6 421 L548.2 421 L548.8 419.6 L549.4 419.6 L550 420.3 L550.6 420.7 L551.2 420.9 L551.8 420.3 L552.4 420.2 L553 419.2 L553.6 421 L554.2 420.4 L554.8 421 L555.4 420.1 L556 419.3 L556.6 419.8 L557.2 419.8 L557.8 420.9 L558.4 420 L559 421 L559.6 420.9 L560.2 421 L560.8 418.7 L561.4 421 L562 419.9 L562.6 420.4 L563.2 420.7 L563.8 421 L564.4 420.5 L565 420 L565.6 421 L566.2 419.7 L566.8 421 L567.4 420.2 L568 421 L568.6 420.4 L569.2 419.6 L569.8 419.3 L570.4 419.7 L571 421 L571.6 421 L572.2 420.5 L572.8 420.8 L573.4 418.9 L574 420.2 L574.6 421 L575.2 421 L575.8 419.1 L576.4 420 L577 419.8 L577.6 420.7 L578.2 419.7 L578.8 420.4 L579.4 421 L580 420.6 L580.6 420 L581.2 420.6 L581.8 418.9 L582.4 420.3 L583 420.5 L583.6 421 L584.2 419.4 L584.8 421 L585.4 421 L586 421 L586.6 421 L587.2 420.9 L587.8 420.2 L588.4 421 L589 421 L589.6 420.3 L590.2 421 L590.8 420.6 L591.4 421 L592 419.5 L592.6 421 L593.2 420.5 L593.8 420.5 L594.4 419.8 L595 420 L595.6 421 L596.2 420.2 L596.8 418.6 L597.4 419.4 L598 421 L598.6 420.5 L599.2 420.3 L599.8 421 L600.4 418.6 L601 419.4 L601.6 421 L602.2 421 L602.8 420.8 L603.4 419.2 L604 421 L604.6 420.6 L605.2 419.5 L605.8 418.2 L606.4 420.4 L607 419.6 L607.6 419.4 L608.2 419.6 L608.8 420 L609.4 419.8 L610 420.5 L610.6 421 L611.2 418.1 L611.8 419.4 L612.4 420.4 L613 420.4 L613.6 420.9 L614.2 420.2 L614.8 420.2 L615.4 420.7 L616 421 L616.6 421 L617.2 420 L617.8 421 L618.4 420.8 L619 419.6 L619.6 421 L620.2 421" fill="none" stroke="#4a1aa0" stroke-width="1.5" stroke-linejoin="round" />
<path d="M406 355.5 L406.6 359.9 L407.2 368.6 L407.8 367.1 L408.4 375.2 L409 375.4 L409.6 379.3 L410.2 379.5 L410.8 384.6 L411.4 377.8 L412 386.1 L412.6 382.9 L413.2 375.4 L413.8 378.6 L414.4 376.7 L415 368.2 L415.6 376.7 L416.2 372.8 L416.8 374.3 L417.4 373.4 L418 374.3 L418.6 376.4 L419.2 376.7 L419.8 371.2 L420.4 375.4 L421 371.4 L421.6 371.3 L422.2 374.3 L422.8 378.2 L423.4 377.1 L424 372.5 L424.6 371.8 L425.2 371.1 L425.8 374.2 L426.4 376.7 L427 373.2 L427.6 375.2 L428.2 373.6 L428.8 377.5 L429.4 364.8 L430 364.3 L430.6 371.1 L431.2 374 L431.8 370.3 L432.4 373.2 L433 367.6 L433.6 367.3 L434.2 369.2 L434.8 374.6 L435.4 373.6 L436 368.1 L436.6 370.7 L437.2 367.3 L437.8 367.4 L438.4 357.4 L439 355.2 L439.6 346.9 L440.2 349 L440.8 346.6 L441.4 345.7 L442 348.7 L442.6 346.8 L443.2 347.7 L443.8 345.9 L444.4 349.2 L445 344.4 L445.6 350.2 L446.2 352.5 L446.8 347.2 L447.4 354.6 L448 355.9 L448.6 350.6 L449.2 344.6 L449.8 344 L450.4 349.3 L451 356.4 L451.6 352.5 L452.2 353.4 L452.8 350.1 L453.4 348.7 L454 352.8 L454.6 347.9 L455.2 351.9 L455.8 355.8 L456.4 355.5 L457 358.6 L457.6 356.6 L458.2 361.7 L458.8 363.4 L459.4 358.6 L460 363.2 L460.6 366.7 L461.2 373.3 L461.8 373.9 L462.4 375.6 L463 377 L463.6 380.6 L464.2 383.7 L464.8 380.5 L465.4 378.9 L466 388.6 L466.6 387.7 L467.2 389.6 L467.8 389.5 L468.4 387.3 L469 386.8 L469.6 394.7 L470.2 395.6 L470.8 395.7 L471.4 394.3 L472 395 L472.6 393.7 L473.2 395.6 L473.8 395 L474.4 395.2 L475 397.8 L475.6 402.2 L476.2 393.8 L476.8 400.5 L477.4 401.3 L478 397.4 L478.6 401.6 L479.2 401.7 L479.8 401 L480.4 401.6 L481 400.2 L481.6 407.5 L482.2 409.1 L482.8 407.6 L483.4 403.9 L484 405.3 L484.6 405.7 L485.2 403.4 L485.8 404.8 L486.4 406.6 L487 404.8 L487.6 402.4 L488.2 403.6 L488.8 406.8 L489.4 405.9 L490 406.3 L490.6 409.7 L491.2 407.6 L491.8 406.4 L492.4 407.9 L493 412.3 L493.6 406.6 L494.2 412.1 L494.8 411.8 L495.4 409.3 L496 409.3 L496.6 412.6 L497.2 410.9 L497.8 409.9 L498.4 414 L499 411.6 L499.6 412.1 L500.2 411.8 L500.8 411.4 L501.4 412.3 L502 411.7 L502.6 413.2 L503.2 414.2 L503.8 414.4 L504.4 414.8 L505 415.4 L505.6 414.5 L506.2 412.6 L506.8 415.1 L507.4 411.5 L508 413 L508.6 414.6 L509.2 411.9 L509.8 416.5 L510.4 413 L511 412.3 L511.6 413.4 L512.2 413.5 L512.8 414.6 L513.4 414.4 L514 416.1 L514.6 414.5 L515.2 415 L515.8 413.4 L516.4 415.6 L517 413.8 L517.6 412.3 L518.2 416.8 L518.8 413.6 L519.4 413.7 L520 414.1 L520.6 416.2 L521.2 413.4 L521.8 415 L522.4 416.4 L523 418.3 L523.6 415.5 L524.2 416 L524.8 414.9 L525.4 418.7 L526 416 L526.6 416.2 L527.2 416.6 L527.8 415.4 L528.4 416.6 L529 415.1 L529.6 418.7 L530.2 416.7 L530.8 416.8 L531.4 418.6 L532 415.7 L532.6 419 L533.2 419.3 L533.8 416.6 L534.4 418.4 L535 417.6 L535.6 418.9 L536.2 418 L536.8 416.9 L537.4 418.8 L538 417.9 L538.6 418.5 L539.2 419.5 L539.8 419.9 L540.4 419.3 L541 417.1 L541.6 419.6 L542.2 418.5 L542.8 420.2 L543.4 418.9 L544 420.7 L544.6 419.8 L545.2 419.4 L545.8 419.7 L546.4 417.5 L547 420 L547.6 419.5 L548.2 418.2 L548.8 419.8 L549.4 419.7 L550 419.8 L550.6 419.3 L551.2 420.3 L551.8 420.3 L552.4 419.5 L553 419.3 L553.6 418.9 L554.2 418.8 L554.8 420.1 L555.4 418.8 L556 417.9 L556.6 419.7 L557.2 420.6 L557.8 419.1 L558.4 420.3 L559 419.9 L559.6 418.3 L560.2 419.7 L560.8 419.3 L561.4 420.1 L562 416.4 L562.6 420.3 L563.2 420.2 L563.8 418.4 L564.4 420.6 L565 419.2 L565.6 419.6 L566.2 420.3 L566.8 420.9 L567.4 419.6 L568 420.1 L568.6 419.9 L569.2 418.6 L569.8 421 L570.4 420.2 L571 419.6 L571.6 420.6 L572.2 420 L572.8 418.8 L573.4 420.5 L574 419.5 L574.6 420.1 L575.2 420.5 L575.8 420.4 L576.4 421 L577 419.6 L577.6 419.2 L578.2 418.6 L578.8 418.7 L579.4 420.1 L580 419.9 L580.6 418.5 L581.2 418.8 L581.8 419 L582.4 421 L583 418.4 L583.6 419.8 L584.2 417.7 L584.8 419.2 L585.4 420.9 L586 418.1 L586.6 420.7 L587.2 417.4 L587.8 419.5 L588.4 418.3 L589 419.4 L589.6 419.2 L590.2 420.3 L590.8 419.7 L591.4 419.6 L592 418.9 L592.6 419.9 L593.2 418.6 L593.8 418.7 L594.4 418.8 L595 420.1 L595.6 421 L596.2 419.4 L596.8 421 L597.4 418.3 L598 418.8 L598.6 420 L599.2 420.1 L599.8 420.3 L600.4 421 L601 419.2 L601.6 420.6 L602.2 419.7 L602.8 416.4 L603.4 418.4 L604 418.9 L604.6 419.6 L605.2 420 L605.8 419.2 L606.4 420.9 L607 418.4 L607.6 419.4 L608.2 420.4 L608.8 418.2 L609.4 420.8 L610 420.5 L610.6 419.3 L611.2 419.5 L611.8 419.4 L612.4 419.5 L613 420.8 L613.6 420 L614.2 418 L614.8 417.8 L615.4 420.1 L616 416.8 L616.6 418 L617.2 419.1 L617.8 419.9 L618.4 421 L619 420.3 L619.6 421 L620.2 420.6" fill="none" stroke="#22e622" stroke-width="1.5" stroke-linejoin="round" />
<path d="M406 342.8 L406.6 342.2 L407.2 339.5 L407.8 342.4 L408.4 338.6 L409 335.3 L409.6 348.4 L410.2 345 L410.8 336.8 L411.4 341.5 L412 344.5 L412.6 349.4 L413.2 354.4 L413.8 352.3 L414.4 351.2 L415 355.8 L415.6 354.9 L416.2 357.6 L416.8 355 L417.4 353.5 L418 362.7 L418.6 357.5 L419.2 359.4 L419.8 357.2 L420.4 356 L421 355.3 L421.6 357.5 L422.2 358 L422.8 354.3 L423.4 349 L424 360.4 L424.6 353.3 L425.2 353.5 L425.8 348 L426.4 348.9 L427 351.7 L427.6 343.6 L428.2 347.3 L428.8 351.7 L429.4 359.1 L430 352.4 L430.6 347.5 L431.2 347.2 L431.8 355.2 L432.4 349.2 L433 351 L433.6 359.2 L434.2 352.7 L434.8 351.4 L435.4 350 L436 357.6 L436.6 357.7 L437.2 350.8 L437.8 347.7 L438.4 351.8 L439 356.6 L439.6 352.9 L440.2 346.6 L440.8 351.6 L441.4 352.7 L442 349.4 L442.6 349.7 L443.2 348.6 L443.8 346.4 L444.4 345.4 L445 342.5 L445.6 342.6 L446.2 340.3 L446.8 347.5 L447.4 347.6 L448 346.4 L448.6 348.1 L449.2 347 L449.8 344.4 L450.4 348.1 L451 346.5 L451.6 347.2 L452.2 341 L452.8 346.9 L453.4 350.7 L454 348.4 L454.6 347.1 L455.2 344.8 L455.8 348.6 L456.4 356.4 L457 349.8 L457.6 356.9 L458.2 352.7 L458.8 359.3 L459.4 354.9 L460 359.4 L460.6 361.5 L461.2 362.6 L461.8 358.3 L462.4 361.7 L463 361 L463.6 364.8 L464.2 365.3 L464.8 366.8 L465.4 371 L466 366.4 L466.6 368.5 L467.2 370.1 L467.8 371.9 L468.4 370.5 L469 375.7 L469.6 370.7 L470.2 381.3 L470.8 375.9 L471.4 380.5 L472 373.2 L472.6 376.5 L473.2 378.6 L473.8 385 L474.4 379.8 L475 385.3 L475.6 378.2 L476.2 386.5 L476.8 379.4 L477.4 375.9 L478 375.5 L478.6 383.4 L479.2 382.2 L479.8 384.2 L480.4 383.3 L481 385.6 L481.6 389.8 L482.2 384.1 L482.8 386.3 L483.4 384.7 L484 380.9 L484.6 386.3 L485.2 392.6 L485.8 385.8 L486.4 396.2 L487 391.6 L487.6 392.1 L488.2 394.4 L488.8 392.6 L489.4 393.6 L490 398.1 L490.6 393.3 L491.2 395.8 L491.8 393.8 L492.4 397.8 L493 405.8 L493.6 401.7 L494.2 397 L494.8 395.7 L495.4 401.8 L496 402.8 L496.6 400.3 L497.2 405.3 L497.8 403.9 L498.4 405.1 L499 405.7 L499.6 406.8 L500.2 404 L500.8 403.9 L501.4 408.5 L502 405.8 L502.6 404.1 L503.2 407.6 L503.8 406.4 L504.4 408.3 L505 414 L505.6 411.8 L506.2 408.1 L506.8 407.1 L507.4 409.5 L508 408.2 L508.6 410.6 L509.2 410.9 L509.8 411.9 L510.4 411 L511 409.1 L511.6 411.4 L512.2 412.1 L512.8 412.6 L513.4 414.4 L514 411.2 L514.6 412.7 L515.2 412.2 L515.8 412 L516.4 414.3 L517 412.6 L517.6 416.5 L518.2 410.1 L518.8 416.1 L519.4 413.7 L520 412.4 L520.6 414.5 L521.2 414.5 L521.8 415.8 L522.4 416.3 L523 413.6 L523.6 414.7 L524.2 415.3 L524.8 415.2 L525.4 414.6 L526 417 L526.6 415.7 L527.2 413.5 L527.8 415.8 L528.4 415.2 L529 415.3 L529.6 416.9 L530.2 416.7 L530.8 416.3 L531.4 416.6 L532 417.3 L532.6 415.5 L533.2 416.5 L533.8 418.1 L534.4 415.8 L535 416.1 L535.6 416 L536.2 418.2 L536.8 416.4 L537.4 418.4 L538 416.7 L538.6 417.5 L539.2 417.8 L539.8 416.8 L540.4 416.4 L541 418.8 L541.6 417.3 L542.2 418.5 L542.8 418.8 L543.4 416.4 L544 419.6 L544.6 418.4 L545.2 418 L545.8 418 L546.4 417.9 L547 418.7 L547.6 420.9 L548.2 418.4 L548.8 417.2 L549.4 418.2 L550 420.9 L550.6 418.7 L551.2 420.8 L551.8 417.7 L552.4 417.7 L553 417.3 L553.6 417.5 L554.2 418.6 L554.8 418.8 L555.4 416.7 L556 417.5 L556.6 417.8 L557.2 418.2 L557.8 420.2 L558.4 420.4 L559 419.2 L559.6 419.5 L560.2 417.8 L560.8 419.1 L561.4 416.7 L562 418.6 L562.6 419 L563.2 419.6 L563.8 418.6 L564.4 418.6 L565 417.6 L565.6 416.2 L566.2 418 L566.8 416.6 L567.4 418.3 L568 418.4 L568.6 417.2 L569.2 416.7 L569.8 418.5 L570.4 418.1 L571 419.2 L571.6 419.7 L572.2 420.5 L572.8 419.8 L573.4 417.7 L574 418.7 L574.6 421 L575.2 417.8 L575.8 418.3 L576.4 420.2 L577 419.4 L577.6 418.1 L578.2 419.1 L578.8 418.1 L579.4 419.8 L580 418.6 L580.6 418.8 L581.2 419 L581.8 416.6 L582.4 418.6 L583 419.2 L583.6 418.9 L584.2 418.2 L584.8 418.7 L585.4 420.4 L586 419.6 L586.6 418.1 L587.2 420 L587.8 419.2 L588.4 418.3 L589 416.8 L589.6 419.5 L590.2 417.6 L590.8 419.2 L591.4 420.1 L592 419.6 L592.6 417.5 L593.2 417.8 L593.8 419.6 L594.4 420.1 L595 418.9 L595.6 418.7 L596.2 420.9 L596.8 420.7 L597.4 419.2 L598 418.5 L598.6 419.6 L599.2 417.5 L599.8 419.1 L600.4 419.2 L601 420.3 L601.6 419.5 L602.2 416.9 L602.8 421 L603.4 419.6 L604 416.7 L604.6 417.2 L605.2 419.7 L605.8 417.5 L606.4 419.8 L607 417.7 L607.6 417.1 L608.2 420.7 L608.8 420.9 L609.4 418.6 L610 420.7 L610.6 419.3 L611.2 419.5 L611.8 418.7 L612.4 419.7 L613 420.6 L613.6 420.7 L614.2 421 L614.8 420.6 L615.4 418.8 L616 416.8 L616.6 418 L617.2 417.2 L617.8 415.3 L618.4 414.9 L619 416.5 L619.6 416.8 L620.2 418.7" fill="none" stroke="#e0208a" stroke-width="1.5" stroke-linejoin="round" />
<path d="M406 330.9 L406.6 351.3 L407.2 368.8 L407.8 372.1 L408.4 366.9 L409 376.3 L409.6 372.9 L410.2 375.8 L410.8 380.4 L411.4 375 L412 369.9 L412.6 370.9 L413.2 376.4 L413.8 367.3 L414.4 373 L415 373 L415.6 367.3 L416.2 371.7 L416.8 372.7 L417.4 367.8 L418 368.5 L418.6 371.8 L419.2 365 L419.8 366.2 L420.4 372.6 L421 369.6 L421.6 364.3 L422.2 369.3 L422.8 376.1 L423.4 364 L424 372.1 L424.6 371.9 L425.2 368.5 L425.8 371.1 L426.4 366.5 L427 374.1 L427.6 374.6 L428.2 365.3 L428.8 367.5 L429.4 368.6 L430 365.8 L430.6 369 L431.2 364 L431.8 369.5 L432.4 366.3 L433 367 L433.6 368.7 L434.2 370.2 L434.8 363.1 L435.4 368.4 L436 367.8 L436.6 363.4 L437.2 368.4 L437.8 359.4 L438.4 359.2 L439 361.6 L439.6 357 L440.2 363 L440.8 357.6 L441.4 361.8 L442 350.8 L442.6 350 L443.2 356.8 L443.8 347.3 L444.4 353.5 L445 346.4 L445.6 349.9 L446.2 352.7 L446.8 348.1 L447.4 344 L448 346 L448.6 351.4 L449.2 347.8 L449.8 349.8 L450.4 348.2 L451 349.5 L451.6 348.5 L452.2 346.2 L452.8 352.2 L453.4 351.6 L454 344.6 L454.6 352.2 L455.2 356.2 L455.8 360.1 L456.4 349.2 L457 354.9 L457.6 357.1 L458.2 358.4 L458.8 353.9 L459.4 358.8 L460 356.7 L460.6 359.2 L461.2 358.7 L461.8 362.8 L462.4 361.6 L463 365.2 L463.6 365.1 L464.2 369.8 L464.8 373.2 L465.4 367.6 L466 365.9 L466.6 368.3 L467.2 367.8 L467.8 364.5 L468.4 371 L469 369.8 L469.6 374.9 L470.2 371.3 L470.8 375 L471.4 374.5 L472 370 L472.6 370.6 L473.2 369.9 L473.8 370.2 L474.4 374.6 L475 369.7 L475.6 369.9 L476.2 368.4 L476.8 376 L477.4 369.7 L478 370.2 L478.6 367.6 L479.2 371.3 L479.8 367.9 L480.4 368.4 L481 363.8 L481.6 365.3 L482.2 371.9 L482.8 374 L483.4 365.7 L484 372.2 L484.6 372.3 L485.2 382.4 L485.8 368.2 L486.4 369.3 L487 368 L487.6 374.6 L488.2 376.1 L488.8 372.7 L489.4 380.1 L490 383.4 L490.6 375.6 L491.2 380.3 L491.8 378.8 L492.4 378.2 L493 379.7 L493.6 381.4 L494.2 378.6 L494.8 383.7 L495.4 387.6 L496 382.7 L496.6 384.9 L497.2 384.3 L497.8 389.1 L498.4 388.1 L499 392 L499.6 388.7 L500.2 385.8 L500.8 392.6 L501.4 390.6 L502 395.7 L502.6 395.3 L503.2 386.9 L503.8 389.7 L504.4 396 L505 394.9 L505.6 392.1 L506.2 397.3 L506.8 402.7 L507.4 402 L508 399.3 L508.6 402.9 L509.2 405.4 L509.8 403.7 L510.4 408.6 L511 404.5 L511.6 410.6 L512.2 409.8 L512.8 408.1 L513.4 407.8 L514 407.8 L514.6 406.3 L515.2 410.1 L515.8 410.9 L516.4 410.4 L517 410.1 L517.6 410.3 L518.2 409.2 L518.8 410.3 L519.4 409.7 L520 413.3 L520.6 411.3 L521.2 414.1 L521.8 411.9 L522.4 415.2 L523 415.5 L523.6 415.5 L524.2 415.1 L524.8 413 L525.4 413.1 L526 412.6 L526.6 414.3 L527.2 416.4 L527.8 412.5 L528.4 417.6 L529 413.5 L529.6 412.7 L530.2 415 L530.8 416.1 L531.4 414.2 L532 413.4 L532.6 417.4 L533.2 413.6 L533.8 416.5 L534.4 415.5 L535 414.9 L535.6 415.6 L536.2 414.2 L536.8 414.3 L537.4 416.3 L538 414.6 L538.6 415.1 L539.2 418.1 L539.8 418.7 L540.4 417.9 L541 417.7 L541.6 416.4 L542.2 416.9 L542.8 416 L543.4 413.5 L544 417.4 L544.6 417.5 L545.2 418.6 L545.8 416 L546.4 418.8 L547 416.8 L547.6 416 L548.2 417.2 L548.8 418.7 L549.4 417.6 L550 418.1 L550.6 416.6 L551.2 418.2 L551.8 418.9 L552.4 416.7 L553 418.2 L553.6 416.2 L554.2 418.1 L554.8 416.1 L555.4 418.3 L556 417.9 L556.6 416.6 L557.2 418.4 L557.8 416.8 L558.4 418.1 L559 416.9 L559.6 418.7 L560.2 417.4 L560.8 419.8 L561.4 418.7 L562 418.8 L562.6 416.6 L563.2 415.8 L563.8 417.3 L564.4 420.4 L565 417.2 L565.6 419.7 L566.2 419.8 L566.8 417.7 L567.4 418.2 L568 419.9 L568.6 418.1 L569.2 417.9 L569.8 417.7 L570.4 418.5 L571 418.3 L571.6 419.8 L572.2 418.7 L572.8 419.8 L573.4 418.3 L574 421 L574.6 418.3 L575.2 418.2 L575.8 417.5 L576.4 416.5 L577 417.4 L577.6 418.6 L578.2 417.3 L578.8 419.4 L579.4 416.5 L580 416.5 L580.6 418.8 L581.2 418.8 L581.8 417.1 L582.4 419.6 L583 420 L583.6 418.8 L584.2 416.9 L584.8 419.8 L585.4 418.1 L586 418.2 L586.6 419 L587.2 417.6 L587.8 420.1 L588.4 417.7 L589 419.6 L589.6 419.3 L590.2 420.4 L590.8 419 L591.4 419.4 L592 418 L592.6 418.2 L593.2 417.7 L593.8 419.3 L594.4 417.7 L595 420.2 L595.6 418.3 L596.2 417.1 L596.8 417.7 L597.4 419.8 L598 417.9 L598.6 419.1 L599.2 416.6 L599.8 419 L600.4 419.3 L601 419 L601.6 419.4 L602.2 417.3 L602.8 416.6 L603.4 417 L604 419.4 L604.6 418.9 L605.2 419.4 L605.8 417.8 L606.4 419.4 L607 416.7 L607.6 419 L608.2 417.3 L608.8 418 L609.4 419.2 L610 419.5 L610.6 418.3 L611.2 418.1 L611.8 420 L612.4 419.7 L613 417.6 L613.6 418.5 L614.2 417.6 L614.8 418.8 L615.4 417.9 L616 417.7 L616.6 417 L617.2 416 L617.8 418.3 L618.4 418.2 L619 415.8 L619.6 418.7 L620.2 420.2" fill="none" stroke="#1f8ce4" stroke-width="1.5" stroke-linejoin="round" />
<line x1="405.4" y1="302.5" x2="405.4" y2="421.4" stroke="#1f8ce4" stroke-width="1.6" />
<text x="426.8" y="319.5" font-size="11.8" font-weight="bold" font-style="normal" text-anchor="start" fill="#000" >Unstained</text>
<text x="557" y="318.5" font-size="11.9" font-weight="bold" font-style="normal" text-anchor="start" fill="#000" >Livin</text>
<text x="469.6" y="349.3" font-size="11.7" font-weight="bold" font-style="normal" text-anchor="start" fill="#33e033" >ISO</text>
<text x="502.4" y="355.9" font-size="11.9" font-weight="bold" font-style="normal" text-anchor="start" fill="#e040c8" >ADP</text>
<text x="527.5" y="381.9" font-size="11.0" font-weight="bold" font-style="normal" text-anchor="start" fill="#38b8f0" >AA</text>
<line x1="424.1" y1="348" x2="437.6" y2="328.9" stroke="#000" stroke-width="1.2" />
<path d="M440.5 324.8 L439.7 330.4 L435.5 327.4 Z" fill="#000" stroke="#000" stroke-width="0.5" stroke-linejoin="round" />
<line x1="462.6" y1="367.4" x2="473.6" y2="354.1" stroke="#000" stroke-width="1.2" />
<path d="M476.8 350.2 L475.6 355.7 L471.6 352.4 Z" fill="#000" stroke="#000" stroke-width="0.5" stroke-linejoin="round" />
<line x1="484.2" y1="382.8" x2="507" y2="357.2" stroke="#4f7fc8" stroke-width="1.2" />
<path d="M501.8 358.6 L507.2 357 L506.2 362.5" fill="none" stroke="#4f7fc8" stroke-width="1.2" stroke-linejoin="round" />
<line x1="503.3" y1="390.9" x2="521" y2="380.4" stroke="#000" stroke-width="1.2" />
<path d="M525.3 377.9 L522.3 382.7 L519.7 378.2 Z" fill="#000" stroke="#000" stroke-width="0.5" stroke-linejoin="round" />
</svg></body></html>
